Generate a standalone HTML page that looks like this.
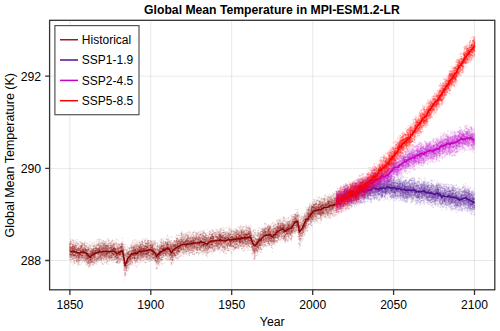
<!DOCTYPE html>
<html><head><meta charset="utf-8">
<style>
html,body{margin:0;padding:0;background:#fff;width:500px;height:331px;overflow:hidden}
svg{display:block}
text{font-family:"Liberation Sans",sans-serif;fill:#000}
</style></head><body>
<svg width="500" height="331" viewBox="0 0 500 331">
<rect width="500" height="331" fill="#fff"/>
<g stroke="#000" stroke-opacity="0.09" stroke-width="1">
<path d="M69.9 20.5V289.5M150.8 20.5V289.5M231.7 20.5V289.5M312.7 20.5V289.5M393.6 20.5V289.5M474.5 20.5V289.5"/>
<path d="M49.5 76.2H494.5M49.5 168.4H494.5M49.5 260.5H494.5"/>
</g>
<g><defs><marker id="mhist" markerUnits="userSpaceOnUse" markerWidth="30.0" markerHeight="30.0" refX="15.0" refY="15.0" overflow="visible"><circle cx="15.0" cy="15.0" r="7.5" fill="#8b0000" fill-opacity="0.13"/></marker><marker id="mssp1" markerUnits="userSpaceOnUse" markerWidth="30.0" markerHeight="30.0" refX="15.0" refY="15.0" overflow="visible"><circle cx="15.0" cy="15.0" r="7.5" fill="#6430a0" fill-opacity="0.16"/></marker><marker id="mssp2" markerUnits="userSpaceOnUse" markerWidth="30.0" markerHeight="30.0" refX="15.0" refY="15.0" overflow="visible"><circle cx="15.0" cy="15.0" r="7.5" fill="#cc22d0" fill-opacity="0.15"/></marker><marker id="mssp5" markerUnits="userSpaceOnUse" markerWidth="30.0" markerHeight="30.0" refX="15.0" refY="15.0" overflow="visible"><circle cx="15.0" cy="15.0" r="7.5" fill="#ff0000" fill-opacity="0.17"/></marker></defs><path transform="scale(.1)" d="M693 2492l0-17 0 29 1 67 0-58 0-33 1 75 0-121 0 68 0 38 0-79 1 51 0-20 0-53 1 97 0-80 1 19 0 100 0-118 0 86 1 29 0-9 0-27 0-35 0-58 0 77 0 15 0-48 1-24 0 93 0-96 0 75 0-46 0-60 1 165 0-50 0-4 0-98 0 65 0 20 1-51 0 120 0-184 0 136 0-130 1 17 0 14 0 93 0-65 0 2 0-11 1-29 0 29 0-4 0 33 0-3 1-102 0 88 0 93 0-84 0 20 1-33 0 2 0 30 0-64 1 60 0-76 0 101 0-96 0 111 0 18 0-132 1 115 0-54 0 79 0-85 0 12 0 0 0 77 0-160 0 136 0-34 0-30 0 13 0 59 0-6 0 44 1-117 0-63 0 67 0 18 0-12 0 83 1 54 0-96 0-109 0 143 0-85 1 35 0 40 0-24 0-22 0 18 1 24 0-7 0 73 0-178 1 34 0 10 1 72 0-31 0 32 0-115 1 61 0 44 0-35 0-18 0 34 0 70 0-191 1 188 0-66 0-58 0 77 1-31 0 59 0-102 0 90 0-95 1 62 0 19 0-39 0 36 1-63 0 85 0-80 0-10 0 30 0 3 0-40 1 83 0-46 0 37 1-107 0 9 0 53 1-36 0 43 0 35 0 28 0 19 0-35 1-76 0 64 0-55 0 55 1-81 0 121 0-47 0-35 0-55 0 83 0-40 0 39 0-49 0 9 1 59 0 43 0-139 0 54 0 30 1-27 0-15 0 132 0-152 0 61 0-43 0 20 0-111 0 160 0-55 1-38 0 132 0-97 0-17 0-12 0 96 0-52 1-17 0-51 0 21 0 63 0-18 0-101 1 58 0 55 0 124 0-173 0-74 0 150 0-63 0-42 0 95 0-40 0-37 0-17 1 60 0 10 0-94 0 139 1-113 0 134 0-54 0-26 0 27 0-47 0 27 1 85 0-111 1 70 0-86 0 44 0 49 0-108 0 77 0-125 0 51 0 36 0 65 0-8 0-82 0 39 1 16 0-87 0 99 0 46 0-5 1-92 0 9 0-26 0 22 0 12 0 47 0-30 0-51 0 88 1 3 0-75 0 18 1 7 0-77 0 89 0 27 0 64 0-88 0-24 1 7 0 38 0 9 0-83 0 53 0 23 0-133 0 169 1-80 0 55 1-46 0-10 0 8 0 18 0 29 0-56 0-43 1 21 0-14 0 87 0-86 0 124 0-70 0-11 0 70 1-83 0 3 0 54 0-2 0-87 0 173 0-95 0-91 0 54 0 55 0-35 1 32 0 75 0-72 0 54 0-66 0-67 1 109 0-111 0 83 0-15 0-75 0 7 0 26 1 29 0 47 0-63 0 92 0-52 0-75 0 1 0 35 0-30 0 22 1 43 0-26 0 36 0-83 1-9 0-27 0-19 0 67 0 26 1-14 0 11 0 102 0-157 0 41 0-11 0-20 1 113 0-69 0 64 0-119 1 151 0 19 0-157 0 43 0-5 0 34 0-93 1 89 0 13 0-67 0-83 1 80 0 14 0 59 1-70 0-26 0 88 0-12 0 18 0-34 1 51 0-27 0-115 1 99 0 29 0-37 0 72 0-96 1 58 0-96 0 61 0-27 0-23 0-15 0 76 0 10 0-52 0-31 0 19 1 82 0-98 0 117 0-141 1 98 0 19 0 28 0-82 0-17 0-33 1 117 0-52 1-16 0 2 0 34 0-11 0 57 0-166 1 150 0-69 0 23 0-12 0 11 0 43 0-27 0-83 0 69 0-2 0 24 0-17 1-6 0 55 0-105 0 163 0-137 0-23 0 91 1 14 0 9 0 11 0-49 0-21 0 16 0-19 0-27 0 107 0 11 1-90 0-12 0-13 0-60 1 51 0 9 0 25 0-50 1-45 0 129 0 54 0-195 0 101 0 51 0-103 0-14 0 76 1-14 0-20 0 117 0-7 1-43 0-37 0-13 0 63 0-58 1 90 0-12 0-97 0 71 0 43 0-48 0-83 0 35 1-4 0 25 0-5 0-20 1 63 0 26 0-100 1-47 1 96 0-19 0 22 0-58 0 51 1-62 0 104 0 30 0-135 0-87 0 110 1-2 0 38 0-9 0 24 0-29 0-25 1 9 0 42 0-118 0 136 0-72 1-43 0 31 0 70 0 17 0 21 0-41 1-60 0 66 0-33 0 125 0-227 0 189 0-43 1-19 0-25 0-25 0-20 0-31 0 186 1-57 0-14 0-16 0-117 0 84 0 21 0 54 0-112 1 66 0-26 0 14 0-42 0 59 0-14 0-101 0 160 0 51 0-160 1 106 0-111 0 24 0 119 0-81 0 69 1-64 0 38 0-61 1 83 0 19 0-58 0-65 0 11 1-30 0 81 0-4 0-64 1 85 0-78 0 126 0-52 0 40 0-121 0-15 0-44 1 131 0-94 0 131 0-64 0 33 0-108 0 37 0 41 0 29 0-107 0 86 1-61 0 86 0-54 1-4 0 39 0 39 0-75 0 78 1-118 0 69 0-75 0 71 1-60 0 51 0 31 0-85 0-42 0 85 0 37 0-16 0-61 1 94 0-60 0 56 0-88 0 71 0 39 0-98 0 20 0 48 1-5 0-9 0-25 1-77 0 84 1-69 0 74 0-130 0 202 0 25 0-78 0-69 0 29 0 63 1-12 0-72 0 101 0-25 0-10 0-48 0 19 0-38 1 48 0-46 0 97 0-60 0 9 0 6 0-1 1-92 0 142 1-63 0-34 0-22 0 14 1 4 0 32 0-45 0 49 1 2 0-43 0 148 0-119 1 22 0-12 0-14 0 42 0 36 0-74 0-39 1 70 0-136 0 116 0-18 0 26 0-92 0 53 0-29 1 24 0 55 0-39 0-20 1 88 0-59 0-101 0 49 0 72 0 0 0-10 1 1 0-57 0 39 0-54 0 17 0-3 1 3 0 24 0 5 0-28 0 92 0-75 0 98 0-27 1-110 0 104 0-113 0 140 1-55 0-66 1-60 0 88 0-47 0 121 0-116 0 50 0 35 1-24 0 12 0-25 0 48 0-82 0 74 1-88 0 68 0-65 0 46 0 39 0 32 0-150 1 51 0-10 0 108 0-103 0 78 0-60 0-46 1 77 0-62 0 92 0 5 0 25 1-116 0 128 0-30 0-136 0 198 1-26 0-135 0 68 0-83 0 60 0 16 0 21 0-71 0 39 1-44 0 65 0 14 0-29 0 53 1-19 0-19 1 39 0-119 0 60 0-86 0 87 0-22 0 64 0-63 0-10 0 27 1-2 0 33 0-69 1-31 0-4 0 135 0-119 0 40 0-32 0 98 1-71 0 88 0-95 0 49 0 23 0 11 1-107 0 41 0 14 0-86 1 126 0-16 0 6 0-94 0 78 1 13 0 29 0-77 0 60 0 63 0-118 0 1 0 4 0-57 1 55 0 99 0-126 0 36 0 69 0-31 1-17 0-28 0 11 0 7 0 33 0-30 0 43 1-139 0 133 0-67 0 27 0-21 0 52 0-37 0 37 1-71 0 49 1 51 0-6 0-72 0 24 0-25 0 12 0 7 0 59 1-31 0 43 0 4 0-139 1 78 0-37 0-58 0 26 0 29 1 107 0-78 0-14 1 8 0-36 0 45 0-13 0-76 0 55 1 43 0 14 0-36 0 37 0-80 0 52 0 39 1-123 0 43 0 16 0 6 0-11 1 38 0 37 0-33 0 33 1 1 0-81 0 43 0-32 0 51 1-50 0 8 0 92 0-92 0-67 0 82 0 9 1-40 0 28 0 47 0-76 1 16 0-25 0 51 0-23 1-38 0 38 0 97 0-173 1 16 0 84 0-84 0 164 1-168 0 9 0 39 0 78 1-14 0-11 0-13 0 49 0-153 0 103 0 56 0-122 0 68 0 44 1 2 0-68 0 98 0-66 0 27 0-104 0 15 0 0 0 123 0-199 1 24 0 129 1-32 0-54 0 28 0 5 1 74 0-152 0 67 0 78 0-14 0-82 1 31 0-58 0 138 0-87 1 83 0-22 1-82 0 36 0 39 0-10 0 53 0-20 0-39 1 18 0-68 0 6 0 58 0-13 0-70 0 51 0-35 0 12 1 89 0-108 0 14 0 60 0-24 0 4 0-78 1 69 0-16 0-21 0 12 1 13 0 55 0 51 0-86 0 67 0-67 1-77 0 75 0 59 0 6 0-110 0 151 0-144 0 0 1 11 0 95 1-50 0 25 0-151 0 105 0-3 0 39 1-56 0 80 0-91 0-34 0-11 0 140 1-24 0-74 0 91 0-62 0 3 0-65 0 44 1 32 0 5 0-37 0 75 0 22 0-109 0 59 1-93 0 94 0-67 0 39 0 16 0-20 0 63 0-88 0 15 1 38 0-17 0 14 0-23 1-28 1 71 0-28 0 40 0 21 0-81 0-19 0 14 0-9 0-65 1 175 0-59 0 93 0-140 0 56 1-15 0-16 0 50 0-47 0-4 1 12 0-115 0 73 0-1 0 115 0-51 0 9 0-7 0-40 0 89 0-89 0-58 0 98 1 27 0-52 0 13 0 28 0 28 0-46 0 54 0-67 1 87 0-167 0 112 0-32 0-8 0-67 0 113 1-61 0-38 0 17 0 20 0 16 0-49 0 0 0 64 0-23 1 99 0-115 0 56 0 48 0-93 0 57 0-33 0-12 1 75 0-125 0 19 0-56 0 80 0 53 0-60 0 52 1-75 0 91 0-60 0-17 0 102 0-79 1 28 0-22 0 29 0-28 1-64 0 73 1 10 0-4 0-30 0 99 0-123 0 42 0 4 1-62 0-6 0 91 0 1 0-26 0-85 0 64 0 26 0 19 1 27 0-35 0 25 0 34 0-195 0 163 0-70 1 46 0-13 1-60 0 5 0 67 0-30 0 45 0-55 0 126 0-119 0 117 1-142 0 66 0 29 0-123 0 17 0 70 0 38 0 11 1-41 0 26 0-113 0 38 0 95 0-101 0 16 0-77 0 80 0-72 1 100 0 58 0-59 0-8 0-29 0 49 0-86 1 35 1 139 0-183 0 40 0-44 1 140 0-78 0-55 0 1 0 126 0-23 0 6 1-45 0 52 0 23 0-35 0-122 0-20 0 27 1 94 0-96 0 23 0 61 1-49 0-22 0 123 0-26 0 17 0 7 0 29 1-81 0-8 0-87 0 84 1-20 0 92 0-20 0 44 0-21 0 6 0-37 0-22 1-29 0 21 0-53 0 76 0-27 0-111 0-38 0 112 0 15 0 9 1 91 0-109 0-37 0 95 0 35 0 37 1-152 0 44 0-10 0 111 0-47 0-38 1 40 0-62 0 9 1 10 0-26 1 14 0 35 0-6 0 72 1-36 0-54 0-123 0 42 0 56 0 7 0-53 1 54 0 28 0-43 1 29 0 3 0-36 0-9 0 42 0 22 0-75 1-57 0 62 0 83 0-121 0 144 0-86 0 41 1-52 0 77 0-31 0 18 0-132 1 151 0-136 0 76 0 48 0-40 0 39 0-19 0-5 0-50 0 101 0 7 1-93 0-20 0 61 0-54 0 50 0 37 0-8 0 45 0-56 0-84 0 11 1 76 0 75 0-124 0-31 0 126 0-83 0 44 0 21 0-112 0 34 0-11 0 59 0 7 1-63 0 56 0-126 0 115 1-1 0-19 0-77 0 71 0-51 0 133 0-92 1 4 0 5 0 34 0-24 0 24 0-77 1 105 0-83 0 65 1-27 0 42 0-59 0-72 0 16 1 48 0 83 0-93 0 24 0 62 0-94 1 45 0-2 0-45 0 43 0 41 0 0 0-71 1-14 0 49 0-32 0-23 1-13 0 90 0 21 0-70 0-61 0 60 0 7 1-64 0 16 0 113 0-91 0 27 0-16 0 57 0 20 0-15 0-19 1 1 0-87 0 124 0-94 0-16 1 25 0-20 0 59 0 15 1 27 0-68 0-25 0 16 0-44 1 21 0 134 0-136 0 15 0 53 1-18 0 25 0-80 0-10 1 115 0-96 0 28 0 15 0-100 0 80 0-22 0 56 0-40 1-93 0 146 0-161 0 103 0-14 0 4 0 29 0 46 0-87 0 12 0 65 1-12 0 10 0-18 0-28 0-12 0 1 0 66 1 27 0 23 0-143 0 38 0 11 1-9 0-45 0 156 0-32 0-79 0-14 1 21 0-57 0 41 0 53 0 42 0-37 0 19 0-111 0 73 0 41 1-56 0-13 1 82 0-125 0 0 1 10 0 111 0-31 0-130 1 162 0-77 0 19 0-57 0 125 0-68 0 41 0-109 1 80 0-29 0-15 0-28 0 5 0-22 0 24 1 30 0 28 0-102 0 25 0 20 0-49 1 64 0 1 0 3 0 29 0 25 0-7 0-25 1 15 0-66 0-8 0 75 1-4 0 77 0-115 1-37 0 61 0-35 0-21 0 107 0 27 0-74 0-49 0 43 0-15 0-64 1 106 0-23 0 43 0-87 0 26 0-5 1-77 0 202 0-219 0 45 0 37 0-58 0 95 0-42 0 25 1 8 0-8 0 1 0-12 0 27 0 18 0-50 0-9 1 1 0 34 0-32 0-1 0-54 0 165 0-151 0 139 1-42 0 11 0-37 1 11 0-9 0 14 0 12 0 33 0-121 0 71 0 54 0-10 0-116 1 64 0-2 0-1 0-120 0 150 1-119 0 182 0-73 0-36 0 35 0-24 0-32 0 21 1 21 0-55 0 73 1 19 0-2 0 5 0 6 0-28 0 29 1-60 0 16 0 49 1 25 0-110 0-53 0 173 0-47 0 32 0-44 1-33 0-42 0-16 0 117 1-23 0-32 0-69 0 28 0-4 0 15 1 10 0 16 0 65 0-103 0 28 0 12 0-62 1 70 0-61 0 18 0 34 1-15 0 7 0-49 0 80 0-88 0 94 1-65 0-34 0 53 0-47 0 26 0 18 0 46 0 0 1-15 0-37 0-61 0 64 0-5 0 9 0-19 1 0 0 65 0-105 1 66 0 61 0-99 0-11 0 37 0-5 0 29 1 53 0-72 0 33 0-55 0 4 1 39 0-48 0 92 0-79 0 12 0-43 1 30 0-28 0 25 0-64 0 87 0 87 1-179 0 178 0-92 1 50 0-94 0 151 0-154 0 49 0 81 0-140 0-53 0 112 0-34 1-10 0 2 0-27 0 142 0-9 0-128 0 62 1-18 0 78 0-96 0 122 0-81 0-39 1 34 0-24 0 141 0-105 1-32 0 29 0 69 0-122 0-36 0 150 0-35 0-53 1 18 0 59 0-83 0 91 0-72 1 42 0-36 0 10 0-39 1 86 0-185 1 132 0 37 0-117 1-24 0 106 0 46 0 9 0-94 0 51 1-88 0 158 0-116 0 93 0-78 0-3 0 98 1-126 0 109 0-83 0-26 0 2 1 98 0-61 0-14 0-58 1 135 0-7 0-37 0 23 1-10 0-56 0 35 0-3 0-34 0 40 0-48 1 3 0-29 0 69 0-43 0 11 1 94 0-72 0 1 0-76 0 51 0 75 1-22 0-25 0-11 0 12 0 16 1-36 0-108 0 222 0-41 0-65 0 78 0-136 1 130 0-55 0 35 0-62 0 25 0 21 0 23 0-27 1-3 0-52 0 115 1-76 0-21 0-6 0-44 1 23 0-39 0 86 0-14 0 15 0-74 1 41 0-11 0 82 0-124 0-2 0 140 0-46 0-96 0 145 0 8 1-18 0-161 0 110 0-50 0 30 1-66 0 166 0-122 0 49 0 26 0-10 1-10 0-40 0 30 0-22 0-103 0 164 0-81 0 5 0 5 1-48 0 8 0-29 0 114 0 35 0-55 1-61 0 123 1-82 0-63 0-15 0 103 0 64 0-92 0-12 0 18 0-29 0 15 0 40 1-49 0 83 0-95 0 84 0-18 0-37 0 5 1-2 0 101 0-125 0 100 0-9 0-67 0 98 1-200 0 131 0-6 0-5 0 41 1-62 0 11 0 67 0-64 0-46 0 81 0-33 0-24 1 56 0-66 0-11 0 36 0 4 1 12 0-63 0 146 0-52 0-26 0 4 1-136 0 171 1-97 0 76 0-85 0 109 0-76 0 16 0 87 0-27 1-118 0 34 0 45 0-22 0 52 0-74 1-60 0 49 0 36 0 37 0 9 0 26 0-51 0-22 1 47 0-42 0-18 0 0 0 70 0 28 1-9 0-145 0 134 0-110 1 39 0 46 0-96 0 5 0 24 1 123 0-31 0-99 0 52 0 0 0 9 1-51 0 108 0-92 0 60 1-125 0 104 0-12 0 61 1-62 0 22 0 13 0-55 0 80 0 40 0-62 0-4 0 28 1-46 0 40 0-32 0-65 0-18 1 112 0-29 0-64 0 35 0 73 0-161 0 41 0 81 1 6 0-101 0 9 0 59 0 63 0-71 0-118 0 170 0-53 1-23 0-35 0 119 0-47 0 7 1-3 0 5 0 20 0 45 0-141 0 50 1-19 0 108 0-100 0-67 1 80 0-36 0 0 0 15 1-44 0-32 0 198 0-106 0-41 0 79 0 37 0-158 0 67 0 37 1-58 0 66 0-86 0 29 0 28 0 28 0-20 1-36 0 16 0-90 0 217 1-130 0 6 0 29 0 16 0-12 0-52 0-50 1 75 0-31 0 12 0 28 1 13 0 53 0-73 0-81 1 118 0 17 0-131 0 115 0-22 0-37 1 36 0 11 0 11 0 28 0-59 0 0 1 123 0-177 0 40 0-4 0 57 0 18 0-124 0 130 1-123 0 10 0 16 0 90 1-70 0 50 0-74 0 45 0-6 0 3 0 36 0-63 0 6 1-50 0 59 0-17 0 69 0-11 0-70 1 59 0 44 0-77 0-49 0 183 0-96 0 8 0 90 0-166 0 56 1-111 0 120 0-5 0-59 0-4 1 34 0-3 0 91 0-92 0 5 1-1 0-72 0 56 0-43 0 74 0-117 1 54 0 69 0-118 0 27 1 128 0-117 0 66 0 16 0-68 0-32 0 161 0-104 0 54 0-64 1 56 0-84 0-3 0 16 1 21 0 0 0 15 0 38 0-49 0 74 1-80 0 66 0 33 0 21 1-187 0 186 0-175 0 160 1-72 0 18 0-65 0 95 0-13 0-62 0-3 1 74 0 8 0-13 0-57 0 19 0 47 0-5 1 14 0-49 0-42 0 49 0 8 0-49 0 49 0-64 1 55 1-44 0 137 0-47 0-46 0-79 0 4 0 97 0-43 0 23 1-94 0 3 0 81 0-16 0-56 0 27 0 79 0-61 0 50 0 54 1-66 0-10 0-36 0 90 0-133 0 18 1 54 0-73 0 122 1-80 0 58 0-42 0 3 0 13 1-99 0 44 0 31 0 134 0-70 0-5 0-88 0 97 0 18 0-25 0-120 1 15 0 13 0 41 1-36 0 52 0 23 0-27 0 6 1 15 0 19 0-72 0 0 0 93 0-77 0-25 0 56 1-32 0 24 0-9 0 35 0 14 1-88 0-19 0 141 0-114 1-44 0-17 0 93 0-30 0-60 0 44 1-5 0 102 0-38 0-12 0-63 0 55 0 42 0-26 0 45 0-49 0 31 0-12 1-51 0 95 1-49 0 24 0-95 0-1 0 45 0-31 0 71 1-10 0 41 0-32 0-86 0 104 0-80 1-4 0 39 0-3 0 52 0 2 0-33 0 52 0-83 1 27 0-42 0 4 0 89 0-45 1 0 0-62 0 125 0-94 0-23 0 31 0 35 0 4 0 36 0-127 1 32 0 99 0 36 0-145 0 27 0-73 0 36 1-2 0 39 0-55 0 106 0-49 0-10 0 59 1-59 0-49 0 64 0 107 0-104 0 21 0-36 0-1 1 37 0 0 0-87 0 32 0 16 0 86 0 51 0-92 0-11 1 14 0 41 0-124 0 24 0 33 0 7 0-110 0 117 0-102 1 119 0 4 0-156 0 139 0-16 1-40 0 79 0 53 0-76 1-80 0-18 0 14 0 8 0 108 0-42 0-16 0 45 1-43 0 1 0-44 0 11 0 33 0-61 0 144 0-78 0-34 0 77 1-103 0 108 0-50 0 92 0-124 1 8 0-23 1-21 0 77 0-67 0 71 0-49 0 87 0-186 0 153 1-19 0-2 0-33 0 122 0-110 0 43 0-36 0-5 0 23 0 31 1-92 0 33 0-48 0 92 1-64 0 6 0 71 0-34 0 22 0-29 1 29 0-17 0-62 0 69 0-29 0 5 0 27 0-43 0-26 0 115 1 34 0-112 0 77 0-40 0-53 1-10 0 29 0-8 0 5 1 11 0-52 0 102 0-102 1 3 0 102 0-8 0 36 0-68 1-40 0 91 0-63 0-2 0-37 1 64 0-142 0 148 0-129 1 147 0-124 0 114 0 92 1-141 0-46 0 159 0-122 0-34 1 121 0-111 0-29 0 9 0 31 0-68 0 146 0 10 0-55 1-18 0-59 0 104 1-60 0 67 0 21 0-50 0-110 0 60 0 117 1-55 0 58 0-186 0 108 0-3 0-74 0 50 1 82 0-22 1-55 0 44 0 44 1-116 0 70 0 39 0-89 0 102 0-71 0 61 0-10 0-33 1-29 0-18 0 42 0 2 0 61 1-76 0 22 0 68 0-69 0 7 1 58 0-77 0 16 0 18 0-45 0-50 0-18 0 64 1 67 0-6 0 32 1-37 0-79 0-41 0 48 1 13 0-25 0 85 0-87 0 69 0 11 1-128 0 66 0 85 0-20 1-37 0-62 0 20 0 40 0 60 0-39 1-30 0 16 0 28 2-128 0 39 0 51 0 59 1-6 0-94 0 40 0-38 1 17 0 27 0-25 0-10 0-31 0-21 0 70 0 19 1 22 0-72 0 4 0 100 0-43 0 24 0-73 0-7 1-22 0 107 0-107 0-29 1 49 0 100 0-62 0 11 0-6 0-8 0-6 0-62 0 153 1-91 0 68 0-138 0 105 0-86 0-6 0 78 0 38 0 17 0-2 1-80 0 53 0-69 0 2 0 40 0-19 1 49 0-134 0 148 0-86 0 103 0-17 1-114 0 55 0 36 0-73 0 2 0 22 0 52 1 8 0-66 1 62 0 32 0-28 0-82 0-5 0 56 1 26 1-20 0-40 0-27 0 109 0-70 0 100 0-150 0 40 0-15 1 124 0-31 0-86 0-71 0 153 0-51 0-62 1-19 0 94 0-30 0 18 0 12 1-38 0 5 0 46 0-38 0-8 0 45 1-130 0 160 0-40 0-60 0 30 0 69 0-33 0-116 0 38 0 60 1 79 0-51 0-47 0 38 0-28 0-15 0 33 0-125 0 157 0-24 0-48 0-21 0-17 1 73 0-6 0 1 0 76 0-194 0 74 0-3 0 86 0-60 1-34 0 57 0 10 0 59 0-67 1-34 0-3 0-16 0 65 1 16 0-52 1 5 0 75 0-64 0 20 0-78 0 23 0-76 0 39 1 86 0 43 0-75 0-46 0 64 1 52 0-65 1 54 0-49 0-58 0 16 0 33 0 125 0-84 1-41 0 27 0-4 0-33 0 17 0-7 1 49 0 41 0-12 0-82 0 44 0-64 1-18 0 58 0 26 0-33 0 44 0 0 0-3 0-45 1-60 0 156 0-112 0 59 0-12 0-41 1 108 0-57 0-35 0-20 1-27 0-15 0 91 0-50 0 0 0 47 0-42 0 49 0-64 0 7 1 71 0-79 0 64 0-5 0-25 0-82 1 17 0 11 0-9 0 106 0-85 0-19 0 37 0 20 1-78 0 113 0 6 0-65 0 69 0-116 1 49 0 19 0 12 0 53 0-73 0-33 0 61 0-3 1 14 0-38 0 25 0-37 0 56 1-60 0 3 0 88 0-95 0 38 0 27 1-43 0 60 0-73 0 79 0-127 0 10 1 70 0 68 0 9 0-122 0 41 0-22 0-82 0 141 1-53 0 86 0-54 0-40 0-8 1 25 0 32 0-46 0 93 0-59 0-66 0 60 0 52 1-34 0-38 0-16 0-6 1-19 0 33 0 38 0-40 1 108 0-61 0-41 0 21 0 74 0-157 1 96 0 52 0-14 1-94 0 52 0-18 0-27 0 5 1 20 0-2 0-55 0 34 0 25 0 38 0-47 0 46 0 13 1-2 0-120 0 161 0-33 0-3 1-39 0-1 0-27 0 49 0 25 0-75 0 70 1-64 1 54 0-37 0 51 0 54 0-86 0-37 0 4 1 54 0-57 0 76 1-35 0 31 0-75 0-20 0 11 0 59 0-61 1 77 0-143 0 72 0 26 0-86 1 63 0-46 0 75 0-9 0 52 0-83 0-41 1 57 0 35 0-1 0 4 0 55 0-83 0 8 1-34 0 14 0 87 0-36 0-158 0 203 1-170 0 84 0 74 0-45 0 23 0 17 1-30 0-83 0 87 0-57 0-93 0 115 0 45 1-23 0-6 0 93 0-78 0 34 0-31 0 71 0-109 0 84 1 35 0-119 0 78 0-130 1 91 0 23 0-85 0-53 0 101 0-21 1 28 0 6 0 30 0 40 0-62 0-107 1 121 0-16 0-13 0 79 0-73 0-34 1 45 0-113 0 140 0-49 0 89 1-55 0-17 0-10 0-75 0 60 0 21 1 37 0-30 0 15 0-1 0-66 0 45 0-28 0-57 1-14 0 127 1 33 0 0 0-124 0 128 0 3 0-126 1 68 0 66 0-88 0 59 1-97 0 15 0 65 0-56 0 16 0-2 0-60 0 135 1-87 0-11 0-6 0 27 0-53 0 96 0-65 0 61 0-90 1-7 0 5 0 62 0-83 0 115 0-62 0 65 0-68 0 64 0-99 0-4 1 91 0-62 0 86 0-93 0 64 0-71 0-49 1 169 0-88 0 62 1-42 0-100 0 111 1 36 0 11 0 18 0-66 0-26 0 9 0-65 0 100 0 0 1-20 0-59 0 74 0-63 0 95 0-98 0 4 1 11 0-37 0 7 0 32 0-114 0 232 1-84 0-5 0-61 0 56 0-11 0 6 0-82 0 70 1-91 0 87 0-36 0 15 0 14 0 60 1 19 0-61 0-57 0 132 0-149 0 44 1 17 0-27 0 106 0-48 1 34 0-70 0 59 0-51 0 0 0 22 0 5 1 9 0-40 0-65 0 60 0 36 1-35 0-27 0 82 0-43 1 102 0-118 0-62 0 101 0 3 1-4 0 87 1-150 0 56 0-7 0-41 0 48 0 48 0-105 1 65 0 27 0-18 0-111 0 93 0-33 0 79 0-67 1 104 0-158 0 85 0-68 0 132 0-11 1-124 0 83 0-39 0-78 1 28 0 56 0 21 0-44 0 33 0 1 0-1 1-73 0 65 0 20 0-101 0 150 0-4 1-64 0 95 1-144 0-7 0 16 0-4 0 127 0-90 0-5 0 21 0 61 0-71 1-27 0 32 0 49 0-73 0 80 1-54 0-24 0 33 0 73 0-110 0 80 1-40 0-20 0-6 0 38 0-10 0-12 0 14 1-75 0 10 1-18 0 33 0 6 0-8 0 45 0-73 1 34 1 54 0 41 0-81 0 57 0 8 0-118 1 62 0-64 0 33 1 39 0-83 0 89 0-33 0-6 0 39 0-67 0-43 1 84 0-36 0 25 0-44 0 8 0-5 0-13 0 23 0 2 0 40 1 23 0-55 0-48 0 106 0-89 1 17 0 27 0 18 0 2 0 8 0-18 0 60 1-13 0-68 0 16 0-56 0 99 0-43 0 104 0-127 0 108 0-120 1-37 0 40 0 59 0 33 0-93 0 90 1-73 0 0 0 11 0 95 0-72 1 6 0-89 0 82 0 5 0 67 1-123 0 8 0-10 0 13 0 65 0-72 0 101 0-61 0-46 1 13 0-35 0-4 0 127 1-13 0-91 0 26 0 100 0-114 0 47 0 14 1-35 0 1 0-8 0 23 0-83 1 79 0 7 0-74 0 87 0-68 1-83 0 34 0 100 0 22 0-48 0-50 0 63 1 53 1-47 0-70 0 95 0-33 0 1 1 12 0 24 0-32 0-42 0 42 0 11 1 52 0-118 0 53 0-36 0 56 0-39 0 83 0-8 1-78 0-20 0-21 0 23 0-11 0 57 0 14 0-10 0 22 0-58 0 70 0-35 1 29 0 9 0-48 0 81 0-21 0-58 0 106 1-4 0-155 0-35 0 80 0 54 0 23 0-13 0-32 0 48 0-11 1-55 0 30 0 43 0-82 0 0 0-9 0 114 1-37 0 9 0-58 0 18 0 61 0-71 0 72 0-59 0 0 1 30 0 17 0 43 0-101 0 100 1-117 0-5 0-65 0 151 0 31 1-130 0 44 0 5 0-65 0 82 0 12 0-39 0-26 0 58 1 24 0-101 0 67 0 34 0-58 0 48 0 73 1-152 0 134 0-82 0 47 0-39 0-51 1-28 0 219 0-197 0 58 0 91 0-60 1-5 0-118 0 75 0-38 0-24 0 117 1 29 0-89 0 7 0 62 0 25 0-109 0 129 0-13 0-53 1-64 0 99 0 7 0 64 0-139 0 134 0-116 1 54 0-38 0 12 0 86 0-133 0 94 0-68 0 15 0-42 0 58 0-137 0 108 1 82 0-8 0-158 0 33 0 46 0 149 0-149 0 28 1-16 0 37 0-80 0 79 0 15 0 40 0-130 1 126 0 73 0-79 0-6 0-220 0 266 0 41 0-48 1-48 0 24 0-38 0-72 0 24 1 111 0-62 0-178 0 178 0 12 0-97 1 101 0-10 0-156 0 179 0 128 0-31 1-223 0-14 0 111 0 18 0-129 1 49 0 170 0-89 0 66 1-81 0 88 1-125 0 1 0-35 0-80 0 125 0-80 0 73 1 51 0 2 0 18 0-65 0 28 0 100 0-109 0 14 0-208 1 112 0 184 0-165 0-18 0 172 0-185 1 185 0-92 0-44 0-118 1 277 0-258 0 48 0 164 0-165 1 139 0-44 0-19 0-62 0 31 0 74 1-100 0 126 0-32 0 24 0-25 0 25 1-15 0 34 0-34 0-5 0-95 1-61 0 132 0 67 1-140 0-49 0 77 0 66 0 35 0-86 0-62 0 81 1 52 0-53 0 75 0-108 1 96 0 54 0-185 0 8 0 105 1-135 0 124 0-37 0 90 0-97 0-102 0 45 1 155 0-205 0 17 0 151 0-46 0 69 1-150 0 21 0 26 0-59 0 65 1 4 0 63 0-60 1-20 0 56 0 37 0-5 0-48 0-41 1-5 0-52 0 84 0-6 0 100 1-87 0 31 0 33 0-189 0 72 0 24 0 21 1-74 0 116 0 2 0-23 0 10 0-104 0 130 0-102 0-73 0 115 0 18 1-64 0-56 0 29 0 56 1-135 0 200 0-3 0-66 0 68 0-68 0-53 1 96 0-4 0-82 0-26 0 23 0 116 1-80 0 51 0-70 0 67 0-15 0-30 0 56 0-90 1 42 0-59 0-54 0 118 0-64 1-8 0 97 0-39 0 28 0 69 0-80 0 14 0-85 0 104 1 0 0-97 0 87 0-18 0-27 0 14 0 118 1-156 0 16 0 21 0-15 1-82 0 122 0 14 0 40 0-115 0-35 0 95 1-84 0 51 0-20 0 29 0-33 0 57 1-81 0 165 0-80 0-71 0-17 0 38 0-15 0-18 1 111 0-22 0-103 1 82 0-27 0 37 0-71 0 139 1-103 0 96 0-123 0 91 0-73 0 88 0-92 1-44 0-1 0 22 0 62 0-11 0-13 0 47 1 28 0-132 0 100 1 66 0-147 1 2 0 49 0-9 0-38 0 23 0 84 1-35 0-87 0-45 1 30 0 65 0-49 0-3 0 78 1-50 0-5 0 30 0 61 0-57 0 19 1-30 0 73 0-139 0 5 0 31 0 127 0-25 0-132 0 32 0 51 1-24 0 40 0-69 0-58 0 114 0 31 0-139 0-17 1 71 0-71 1 115 0-80 0 95 0-54 1 23 0 27 0-44 0-40 1 96 0-120 0 144 0-101 0 4 1 45 0 1 0 4 0-98 0 29 0 61 1 1 0-24 0 69 0-73 0 55 0 7 1-37 0-29 0 47 1-16 0 9 0-75 0 67 1 56 0-94 0 21 0-19 0 56 0-148 0 183 0-54 0-37 0 24 0 43 1-38 0 15 0 26 1-53 0 29 0 36 0-46 0-59 0 69 1 63 0-118 0 38 0-1 0 23 0-65 1 19 0 98 0-64 1-66 0 70 0-37 0 73 0-156 1 84 0 43 0-112 0 26 1 60 0-22 0-17 0 30 0-84 0 27 1 127 0-118 0 53 0-24 0 45 0-27 0 4 0 37 1-42 1-102 0 52 0 103 0-18 0-65 0-67 0 43 1 138 0-44 0 1 0-140 0 12 0 38 0-38 0 73 1-61 0 77 0-34 0-17 0 59 0-10 1-16 0-25 0 15 0-92 1-2 0 63 0 41 0 80 0-67 0-69 0 25 1-38 0 60 0-2 0 2 0 16 1 38 0-18 0-91 0 99 0-92 0 69 0-14 1 78 0-87 0 0 0-9 0 56 0-27 0-28 0 54 1 63 0-24 0-6 1-100 1 22 0 13 0-92 0 168 0-155 0 91 1-81 0 67 0 35 0-15 0-68 0 10 0 78 1-49 0 9 0 41 1-170 0 136 0 50 0 25 0-54 0-69 0 83 1 45 1-123 0-4 0 28 0-13 0-80 0-16 0 52 0 33 0 53 0-48 1 35 0 59 0-16 0-8 0-92 1 97 0-49 0 17 0 31 0-9 0-103 0 9 0 69 0 21 0 69 0-74 0-48 0-6 0-11 1-29 0 0 0 37 0 32 0-43 0 38 0-14 1 2 0-10 0 36 0-14 1-131 0 143 0-8 0-35 0 38 0-42 1 39 0-49 0 76 0-16 1-88 0 36 0 69 0-14 0-14 0-62 1 22 0 41 0 7 0-16 0-40 0 30 1-13 0-33 0 3 0 14 1-34 0 96 0 15 0 5 0-81 0 1 1 49 0-35 0 7 0 0 1-64 0 141 0-132 0-7 0 116 0-93 0 106 1-36 0 1 0-37 0-50 0 11 1 63 0-11 0-53 0 3 0 13 0 39 0 25 0 22 1-62 0 88 0-35 0 37 0-115 0 71 0 25 0-139 0 131 1-26 0 25 1-36 0 47 0-77 0-4 0 60 0 0 1-101 0 124 0-1 0-8 0-85 0 97 0-37 0 20 1-47 0-19 0-13 0 4 0 74 1-81 0 7 0 46 0-29 0-87 0 68 0 14 0 96 0-46 1-81 0-5 0 31 0 33 0-48 0 59 0-90 0 84 0 42 0-186 0 127 1 14 0 9 0-17 0-8 0 17 0-8 0-1 1 71 0-26 0-5 0-76 0 7 0 75 0-102 0 100 0-114 0 168 0-43 0-87 0 4 1-76 0 96 0 60 0-28 0-42 0 112 1-73 0-7 0-34 0 42 0 99 0-105 1-102 0 91 0 82 0-35 0-83 0 42 0-88 0 102 0-73 0 17 1-2 0-7 0 118 0-10 0-86 1 19 0 80 0-98 0-8 0-20 0 121 0-70 0-8 0-21 1-25 0 94 0-87 0 13 1-58 0 30 0 30 0 1 0-52 1 47 0 24 0-128 1 167 0-45 0-55 0 56 1 38 0-23 1 3 0-1 0 34 0-107 1 41 0 52 1-20 0-59 0 42 0-22 0 39 0-91 0 1 1 10 0 71 0 140 0-81 0 13 0-65 0 85 0-67 1-16 0 55 0-124 0-52 0 54 0 138 0-27 0-38 1-23 0 3 0 30 0-67 0 87 0-93 0 123 0-89 0-31 0 34 1-35 0 42 0-88 0 69 0 30 0 16 0-41 0 84 1-153 0 78 0-14 0 25 0-14 0 86 0-73 0-48 1 179 0-129 0-11 0 54 1-77 0 19 0 56 0-106 1 38 0 72 0 44 0-97 0-2 0 62 0-132 0 40 0-5 0-65 1 92 0-8 0 68 0-13 0 31 0-128 0 55 0 76 0-113 1-23 1 84 0-18 0 31 1-32 0 63 0-28 0-22 0-32 0 54 0-68 0 81 0 9 0-10 0-111 1 85 0-3 0 25 0-122 0 48 0 26 1 73 0-99 0 74 0-38 0 89 0-80 0-96 1 66 0 26 0 50 0-30 0-47 1-49 0 64 0-8 0 72 0-20 0-115 0-45 0 94 0 33 0-61 1 22 0 84 0-22 0-122 0 102 0-9 0-18 1 37 0 1 0 94 0-111 0-47 0 11 0 60 0 59 0-65 0-4 1-13 0-35 0 25 0-63 0 96 0-14 0-14 1-51 0 29 1-16 0 43 0-29 1 31 0 28 0 16 0-112 0 34 0-38 0 115 0-103 0 107 0-90 0 75 1-77 0 15 0 17 1-3 0-12 1 39 1 26 0-17 0-66 0-67 0 96 1 11 0 16 1-3 0-90 0 88 0-61 0 94 0-100 1-3 0 8 0 44 0-63 0 161 1-129 0 104 0-99 0-2 0-19 0-3 0 58 0 38 0-54 1-49 0 54 0-49 0-42 0 87 0-92 0 55 1 33 0-22 0 7 0 89 0-29 0 27 0-63 0 0 0 76 1-117 0 47 0-10 0 8 1 15 0-23 0 34 0-81 0 65 0-75 0 104 0-5 1-58 0-14 0 23 0 28 0-100 0 24 0 95 0-56 1-52 0-46 0 87 0-64 1 92 0-10 0 94 0-151 0 92 0-89 1 8 0 40 0-31 0 130 0-92 0-34 0 150 0-152 1 21 0 8 0-27 0 67 0 28 0-120 0 39 0 5 0-50 1 4 0 46 0-26 0 59 0 25 0-31 1 5 0-58 0 15 0 48 0 9 0-32 1 31 0-39 0-44 0 71 0-35 0-62 0 123 0-22 0 17 0-58 0 94 1-48 0 24 1-79 0 17 0 77 0-63 0 2 0 71 0-16 1-45 0 82 0-165 0 69 0-23 0 98 0 5 0-100 1 31 0 38 0-20 0-12 0 35 0 46 0-88 0-59 0 48 1 4 0-17 0 52 1 2 0 8 0-21 0-10 0-62 0 33 0-25 0 57 0-22 1 4 0 27 0-39 0 65 0-1 0-96 0 109 0-80 0-18 1 19 0-46 0 78 0 41 0-131 0 94 0 7 0 4 1-1 0-10 0-44 0 66 0-27 0 22 1-24 0-27 1 10 0 31 0 21 0-142 0 31 0-17 0 52 0-6 0 41 0-24 0 78 0-93 1-5 0-5 0 25 0 22 0-31 0-21 0-21 1 73 0-34 0-21 0 34 0 28 0 82 0-20 0-120 1 21 0-72 0 0 0 5 0 131 0-51 0-62 2 37 0 8 0-8 0 102 0-162 0 70 0 33 1 11 0-126 0 112 0-69 0 32 1-48 0 113 1-34 0 44 0-62 0-70 1 125 0 16 0-110 0 98 0-131 0 25 0 68 0-74 0 103 1 32 0-66 0 21 0 53 1-52 0 38 0 6 0-118 0 154 0-47 0-49 0 32 0-24 1-4 0-59 0 29 0 3 0 68 0-29 0-3 0-25 0 65 0-176 0 73 1 89 0-65 0 50 0 45 0-37 0-108 0 59 0-44 0 77 0 27 1-61 0 36 0-34 0 101 1-85 0 5 0 16 0 23 0-17 0-34 0 4 1 22 0 4 0-46 0-10 1 17 0 33 1-43 0-30 0 35 0-7 0 52 0-53 0 5 0 109 0-68 1-66 0 102 0-75 0-21 0 69 1-98 0 64 0 31 1 9 0-61 0 1 0 20 0 62 0-144 1 125 0-25 0 52 0-120 0 110 0-97 1 56 0-33 1-100 0 116 0 22 0 22 0-72 0-26 1 91 0-51 0 68 0 18 0-80 0 3 1-27 0-63 0 98 0 36 0 16 1-53 0 91 0-115 0 24 0-25 0 5 0 8 0-21 0 13 1 35 0-9 0-56 0 75 0-64 0 61 1-18 0-97 0 43 0 96 1-77 0-1 0 11 0 26 0 22 0-42 1 95 0-108 0 5 0 13 0 17 0 62 1 42 0-129 0 9 0 38 1-36 0 46 0-91 0 91 0-145 0 129 1 7 0 87 0-163 0 77 0-2 0-77 0 58 0-53 0-15 0-17 0 62 0-40 0-49 1 113 0-96 0 115 0-22 1-51 0-37 0 32 0-21 0 47 0 0 1 136 0-219 0 72 0 55 1 22 0 15 0-112 0 86 1-10 0-40 0 52 0-7 0-102 0 28 0-64 0 68 0-31 0 80 1-50 0 66 0-34 1-11 0 101 0-28 0-121 0 131 0-30 1 27 0-42 0-109 0 69 1-100 0 50 0 34 0 96 0-60 0 9 1 25 0-80 0 98 0-43 0-58 1 19 0 16 0 42 0 39 0-84 0 4 0 99 1-82 0 82 0-78 0-27 0 51 0-19 0-53 0 105 0 57 1-165 0 3 0 13 0-36 0 101 0-110 0 103 0-13 1 17 0-109 0 80 0 6 0 30 0-25 0-47 0 84 1 13 0-2 0-103 0 62 0-70 0 36 1 46 0-108 0 105 0 26 0-98 0 9 0 25 0-3 1-53 0 53 0-70 0 46 1 120 0-92 0-17 0 98 0-62 0 15 1-60 0 83 0-71 0 60 0-11 0 54 1-36 0-51 0-52 0 38 0-20 0 111 0-98 1-93 0 134 0 22 0-87 1 82 0-102 0 78 0-20 0 24 0 5 0-55 0 75 0-66 1 31 0 65 0-117 0 50 0 77 0-18 0-97 0 3 0 59 0-61 1 37 0-73 0 101 0-113 0 88 0 28 1-68 0-46 0 15 0-32 0 186 0-187 0 32 0 81 0-14 0 50 1 14 0-44 0-26 0-25 0 19 0 57 1-17 0 1 0-116 0 46 0 4 1 7 0-26 0 87 0 19 0 38 1-118 0 21 0 10 0-5 0-42 0 82 1-141 0 77 0-71 0 126 0-101 0 12 0 57 0-51 0 64 0-32 1 118 0-159 0 20 0 69 0-23 0 17 0-37 0 62 0-30 0 49 1-135 0 81 0-24 1 31 0-67 0 87 0-107 0 111 0-17 0-117 0 110 1-117 0 125 0-109 0 77 0-10 0-68 1-12 0 118 0-49 0 78 0-56 0-3 0 14 0 79 0-71 1-13 0 23 0-65 1 5 0 115 0-92 0-48 0 83 1-68 0 46 0 53 0 8 0 27 0-33 0-26 1-5 0-13 0-16 0 115 1-117 0 87 0-90 0 67 0-9 1-44 0-39 1 110 0-4 0-106 0 27 0 51 0-31 0-11 1 45 0-115 0 147 0-58 0-42 0-27 0 42 0 119 1-115 0-75 0 144 0-48 0-20 0 53 1-72 0 14 0 56 0-28 0 27 1-67 0 103 0-156 1 2 0 95 0-41 0 26 0-8 0-10 1-45 0 68 0 51 0-108 0 137 1-16 0-121 0 83 0-96 0 49 0-48 1 28 0-67 0 86 0-45 0 8 1-54 0 100 0 94 0-114 0 11 1-50 0 34 0-19 0-36 1 34 0 18 0 42 0-33 0 31 1 51 0-19 0-67 0-68 0 79 0 14 1 46 0-43 0-38 0 14 1 50 0-79 0-5 0 36 0 25 0 24 0-87 0 109 0 18 1-7 0-25 0-49 0 34 0 37 0-114 0 83 1-9 0-32 0 97 0-124 0-15 0 47 0-29 1 98 0-150 0 18 0 81 0 22 0-97 0 125 1-161 0 147 0-96 1 21 0 114 0-93 0-29 0 44 0 83 0-92 1-41 0 49 0-73 0 28 1 6 0 61 0-57 0 49 0 33 0 22 1-164 0 82 0-55 0 90 0-19 1-13 0-26 0-22 0-36 0 133 1-58 0 12 1 14 0 24 0 54 0-102 0 41 0-114 0 62 0-16 0 4 0 89 1-52 0-2 0 1 0-15 0 0 1-21 0 6 0 5 0 12 0-84 0 97 0-5 0 22 0-76 1 9 0 87 0-76 0 60 0-58 0-26 0-12 0 42 0 7 0-38 0 132 1-70 0-45 0 119 0-34 0-78 0-13 1 42 0 45 0-105 0 126 0-76 1 61 0-48 0 31 0 8 0 32 0-99 0 129 1-157 0 79 0 18 0-32 0 42 0-123 0 77 0 52 1-48 0-56 0 63 0 2 0-58 0 114 0-92 0-24 0 56 0-38 1 23 0 21 0-32 0 50 0-15 0 46 0-109 0 53 0 9 1 2 0-118 0 51 0 69 0 12 1-26 0 7 0 52 0-78 0-20 0 111 0-43 0-38 0-27 1 114 0-92 0-27 0 103 0-135 1 65 0 39 0-45 1-11 0 47 0-81 0 49 0 46 1-89 0 122 0-78 0 6 0-19 0 52 0-52 0 35 1 51 0 0 0-137 0 142 0-91 0 39 0-9 1 8 0-43 0 58 0 22 0-79 0 28 0 41 0 13 0-37 0-3 0 11 0-41 1 34 0-30 0-4 0-98 0 27 0 107 0 18 1-14 0-17 0-20 0 43 0-48 1 20 0 75 1-142 0 38 0 18 0-82 0 36 1 111 0-27 0-32 0 71 0-113 0 143 0-97 0-27 1 84 0-28 0-16 0-15 0-84 0-13 1 104 0 47 0-86 0 44 0-82 1 4 0 72 0 37 1 3 0 23 1-97 0 31 0 47 0-89 1 35 0 16 0 0 0 45 1-22 0-43 0-94 0 155 0 11 0-24 1-8 0 5 0 38 0-86 0 22 0-46 0 40 1-30 0 0 0-59 0 95 0 56 0-144 0 157 0-66 0-32 0 50 0-28 0 8 1 76 0-63 0 10 0-31 1 5 0-37 0 41 1-34 0 100 0-71 0 50 1 29 0-14 0-88 0 122 0-185 0 173 0-206 0 85 1 44 0-34 0-73 0 32 0 92 0-103 0 124 1 29 0 11 0-59 0-16 0-19 1 14 0 74 0-31 0-16 0 41 0-164 0 152 0-78 0-96 0 188 1-102 0 68 1-65 0 21 0 115 0-73 0 4 1-112 0 143 0-89 0 65 0-86 1 82 0 11 0-117 0 105 0-71 0 128 1-49 0-18 0-3 0 51 1-74 0 79 0-36 0 67 1-145 0 185 0-154 0 9 0-23 0 27 1 140 0-110 1-80 0 58 0 24 0 45 1-81 0 32 0-27 0 6 0 16 1-82 0 133 0-88 0 142 1-40 0-25 0-80 0 10 0-3 0 28 0-26 0-12 0 39 0-8 0-21 1 77 0 8 0-97 0 163 1-107 0 50 0 39 0-197 0 114 0 25 1 16 0-24 0 13 0-150 0 33 0 90 0-155 0 88 0 22 1 33 0 30 0-39 0-63 0-7 1 79 0 10 0-13 0-13 0-2 0-87 0 79 1 45 0-109 0 89 0 16 0 93 0-137 0-11 1-55 0 7 0-30 0-10 0 141 0-40 0 18 0-108 0-24 1 14 0 191 0-28 0-139 0 81 0 4 0-65 1 19 0 88 0-13 0 10 0-31 1-12 0 21 0-37 0 102 0-81 0 17 0-34 0-32 1 34 0-15 0-27 0 88 0 65 0-93 0-22 1-33 0-41 0 112 0-2 0-74 1 47 0-51 0 123 0-70 0 17 1 68 0-212 0 141 0-7 0-30 0 16 1 65 0-101 0 0 0 127 0-38 0-28 1 17 0-38 0-20 0 8 0 25 1-41 0-60 0 76 0 24 0-22 1 43 0-20 0 36 0-45 0-16 1 41 0 16 0-71 0-22 0 118 0-100 0 48 0-45 0 37 1 63 0 16 0-161 0-7 0 19 0 91 0 52 0-70 0-30 1 61 0-96 0 87 0 37 0-6 0-28 0-67 1 9 0-31 0 149 0-33 0-71 0-1 0 17 0-48 0 62 1-1 0-5 0-21 0-135 1 121 0-63 0-15 0 204 0-142 0 15 0-6 1-28 0 126 0-178 0 119 0-55 0 96 0-22 0-40 0-81 0 117 1 9 0-16 0-49 0 47 0-72 0 52 0 6 0-31 1-40 0 38 1-33 0-16 0 112 0-60 0-19 0 0 0 47 0-38 1-19 0 48 0-7 0-52 0-9 0 118 1-79 0 73 0-30 0-34 0-8 0 92 1-113 0 12 1-22 0 32 0-39 0 52 0-68 0 87 1-9 0-7 0-40 0 93 0 36 0-106 0-32 0 70 0-43 1 17 0 24 0-99 0 102 1-87 0-10 0 42 0 90 0-103 0 54 1-71 0 77 0-15 0 41 0-48 1-9 0-94 0 108 0 23 0-29 0-1 1 19 0 15 0-87 0 41 0 25 0-9 0-60 0-50 1 114 0 19 0 48 1-62 0-64 0 65 0-27 0-28 0-37 0-19 1 55 0 14 0 24 0-3 0 11 0 83 0-98 0 71 1-106 0 3 0 10 0-63 0 170 0-69 0 24 0 49 0-63 1 58 0-196 0 179 0-48 0-42 0 81 0-52 0-36 1-62 0 184 0-217 0 133 1 76 0-47 0-63 0 18 0-17 1 42 0-16 0-60 0-9 1 130 0-120 0 7 0 172 0-158 0-24 0 17 0 87 0-76 0 31 0-109 1 84 0 33 0 1 0 71 0-48 0-48 0-60 0 37 1 30 0 18 0 29 0-117 0-28 0 153 1-91 0-69 0 71 0 26 0-39 0 2 0 111 0-108 0 72 1-5 1-29 0 139 0-189 0 200 1-180 0 35 0 29 0 41 0-21 0-53 0 0 0 78 1 18 0-106 0 90 0-34 0-16 0-69 0-8 0 86 0 27 1-76 0 47 0-106 0 167 0 2 0-139 0 49 1-2 0-21 0 3 0 49 0 60 0-81 1 1 0 1 0-42 0 67 0-57 0-25 0 83 0-128 1 68 0 6 0 13 1-72 0 30 0 40 0 37 1-36 0-6 1-32 0 42 0 8 1 23 0 15 0-49 0-48 0 115 1-101 0 100 0-80 0-25 0 27 0-23 1 25 0 33 0-38 0-10 0 22 0 20 0-19 0 27 0 2 0-15 1 20 0-35 0 56 0-37 1 21 0-51 0-62 0 48 0 24 1 16 0-20 0 75 0-137 0-24 0 79 0-25 0 35 0 31 0 27 0-125 0 12 1 50 0-70 0 35 0 100 0-66 0 1 0 56 1-139 0 90 0-9 0 16 0-63 0 28 0 16 0 41 0-72 1 66 0-135 0 126 0 17 0-82 0 30 0 14 1 16 0 45 0-50 0-20 0 2 0 23 0 25 0-26 0-39 1 11 0-22 0-4 0 19 1-4 0 68 0-98 0 63 0-61 0 98 1-24 0 48 0-35 0-78 1 54 0-34 0 6 0-25 1 37 0 20 0 7 1 114 0-134 0 13 0-10 1-8 0-3 0 18 0-13 0 47 0-16 1-65 0 43 0 15 0-28 1 2 0 6 0 34 1-21 0-36 0 24 0 63 0-107 0 78 0-44 1 33 0 10 0-29 0-8 0-68 1 49 0 122 0-80 1-32 0 13 0 3 0-49 0 51 0 20 0-96 0 60 0-12 0-58 0 121 0 19 1 30 0-152 0 58 0-12 0 67 1-36 0-11 0 24 0-50 0 68 1-63 0 69 0-44 0 2 0-66 0-19 1-1 0 98 0-126 0 167 0-80 0-49 0 81 0-76 0 61 1-15 0 70 0-15 0 2 0-67 0 81 1-63 0 9 0 16 0-8 0-77 0 94 0-106 1 97 0-25 0 6 0-55 0 99 0-55 1 48 0-76 0 1 0 37 0 46 0-112 0 35 0 4 0 11 0-9 0 73 1-18 1-33 0 39 0 9 0-79 0-6 1 68 0 67 0-213 1 83 0 66 1-76 0 80 0-31 0-71 0 38 1 39 0-60 0 70 0-13 0-29 0 33 1-36 0 27 0-58 0 115 0-80 0 67 1 47 0-27 0-76 0 8 0-9 0 17 0-55 0-47 0 102 1-13 0 70 0 13 0-151 0 21 0 81 0 19 1-50 0-4 0-90 0 197 0-143 0 60 0-11 1-59 0 84 0 28 0-72 0 9 0 25 1 15 0-6 0-84 0-2 0 18 0-102 1 65 0 54 0-23 0-8 0 82 0-26 0 23 0-47 1-12 0-22 0 53 0-98 0 45 0 69 0 13 0-44 0-51 1 82 0-62 0 29 0-40 0 134 1-16 0-111 0-16 0 54 0 32 0 30 0-62 0-56 0 73 1-1 0-89 0 64 0-2 0-32 0 57 0 40 1-2 0-90 0 14 0 61 0-48 0-1 0 122 1-227 0 91 0-9 0 38 0 84 0-88 0-7 0 21 0-22 1 33 0 104 0-155 0 23 0 7 0-97 0 130 0-32 1-91 0 81 0 21 0-50 0 95 0-80 1-43 0 110 0-45 1 14 0-83 0 11 0 18 0 41 1 1 0 72 0 8 0-67 0-10 0 95 0-88 1 46 0-72 0 19 0-9 0-19 0 51 0-57 0 34 0 25 1 81 0-191 0 94 0 28 1-48 0 58 0-16 0-2 0-43 1 9 0 0 0-37 0 56 0-59 0 6 0-22 0 119 0-79 1-16 0 80 1-58 0 36 1-24 0 25 0-8 0-112 0 173 1-22 0-118 0 112 0-53 0 17 0 55 1-12 0-1 0 49 0-44 0-80 0-32 0 101 1-121 0 66 0 0 1-17 0 99 0-49 0-26 0 54 0-63 0 78 1 42 0-105 0-1 1 64 0-150 0 34 0 11 0-29 0 79 0 15 1-15 0 0 0 46 0 8 0 9 1-67 0 8 0 72 0-52 0 45 1-88 0 21 0-30 0 31 0 23 0-44 0 121 0-172 0 118 0-98 0 69 0-53 1 43 0 0 0-44 0-22 0 26 0 38 0 41 1 41 0-171 0 113 0-48 1 26 0 16 0 25 0-20 0-22 0 84 0-67 0-15 0 61 1-121 0 11 0 127 0-88 0-84 0 138 0 22 1-104 0-29 1 69 0 22 0-52 0-17 0 79 0 2 0-118 0 27 1 44 0-17 0 48 0 17 0 76 0-84 0 32 1-140 0 50 0 100 0-144 1 160 0-45 0-24 0-15 0-60 0 5 0 31 0 6 0 96 0-130 0 23 1-65 0 110 0-9 0 63 1 48 0-80 0-81 0 63 0 3 0-19 0-60 0 83 0-90 0 65 0-13 0-132 1 185 0 88 0-144 0-15 0 90 0-130 0 77 1 13 0-46 0 28 0-45 0 16 0 72 1-89 0 17 0-7 0 70 0-51 0-28 0 68 0-135 0 6 0 127 1 91 0-136 0 48 0-100 0 87 0 5 1 22 0-77 0 156 0-168 0 143 1-150 0 108 0 32 0 48 0-132 0-89 0 145 0-90 0-21 0 28 0-19 0 97 1-33 0 29 0 10 0-72 0 63 0 29 0 38 0-98 0-25 1-39 0 31 0 23 0 14 0-93 0 55 0 11 1-23 0-1 0 55 0-76 0 83 0-89 0 73 1-75 0 129 0-26 1 33 0-122 0-27 0 0 1 60 0 72 0-20 0-2 0-105 0 127 0-20 0-70 1-110 0 95 0 36 1 91 0-74 0-15 0 89 0-2 0-63 0 12 1 34 0-105 0 60 0-45 0-29 0 78 0 33 0 41 0-59 0 19 0-70 0-70 0 45 1 54 0-52 0 132 0-37 0-75 0 102 0-57 0 52 1-96 0 49 0-52 0 12 0 59 0 39 0-93 1 9 0-61 0 34 0 36 0-89 0 41 1-34 0 66 0 36 0-29 0-32 0-37 1-31 0 82 0 75 0-90 0 10 0-19 1-34 0 109 0-18 0-108 0 11 0 127 0-109 1 40 0-48 0 66 0-54 0 8 0-25 0 146 1 34 0-116 0 22 0-5 0-27 0-5 0-13 0 55 0-97 1 19 0 74 0-102 0 145 0-91 0 22 0 55 1-66 1 8 0-35 0 53 0 8 0-75 1 73 0 15 0-24 0-59 0 81 0 21 0-90 1-64 0 54 0 34 0 62 0-5 0-25 1-64 0 68 0-38 1-49 0-37 0 134 0-127 0 139 1 48 0-107 0-42 0 9 0-2 1 51 0 30 0-85 0 20 0-15 0 86 0-8 0-88 1 26 0 22 0-94 0 60 0 33 0-74 0 77 1-8 0-29 0 77 0-95 0 65 0-32 0 64 0-90 1 66 0 1 0 25 0 22 0-150 0 69 0-48 0 98 0 19 0-80 1 26 0 51 0-53 0-17 1-72 0 44 0 82 0-118 1 84 0-4 0-11 0 39 0-75 0 103 1-88 0 70 0-77 0 40 0-28 0 97 0-131 0 19 0 101 0-32 0-40 1-11 0-50 0 49 0 30 0 41 1-13 0 25 0-52 0-53 0 18 0 90 1-69 0 63 0-144 0 52 0-15 0 51 1-50 0-27 0 61 0-107 0 82 0 49 0-76 1 52 0-40 0 26 0 28 0 11 0-1 0-58 1 110 0-58 0-47 0 96 0-84 1 114 0-54 0-46 0-18 0-18 0 3 1 24 0 79 0-57 0-12 0 24 0-36 1-46 0-11 0 142 0-83 0 91 0 15 1-79 0 23 1-55 0 11 0 10 0-4 0 74 1-79 0 49 0-38 0 24 0 60 1-166 0 133 0-88 0 40 0-26 0-7 1-44 0-64 0 236 0-63 1-54 0-80 0 124 0 45 0-56 0-106 0 58 1 39 0-17 0 59 0-103 0 16 0-91 0 179 0-25 0-53 0-68 1 132 0-113 0 6 0-32 0 25 0 23 0-7 0 109 0-19 0-32 1-32 0 26 0-64 0 85 0-66 0 21 1 42 0-61 0-26 0 121 0-138 1 22 0 5 0 23 1 29 0 116 0-135 0 96 0-11 0-15 0-49 1 15 0-39 0-56 0 102 0 36 0-39 0-17 0 45 0-27 1 40 0-78 0-69 0 115 0 20 0-84 0 51 1 24 0-83 0 170 0-84 0-50 0-48 0-21 0-5 1 68 0 51 0-68 0 16 0 50 0-81 0 44 1-7 0 35 0 19 0-53 0 80 1-95 0 4 0 24 0-17 0 52 0-72 0-57 1-21 0 182 0-30 0-77 0 55 0-110 0 74 0 91 1-42 0 75 0-133 0 83 0-53 0 11 1-3 0 26 0 28 0-65 0 17 0-25 1 20 0-56 0 92 0-15 0-19 0-18 0-33 0-14 0-9 1 16 0 87 0-25 0-94 0 23 0 117 1 17 0-42 0 65 0-143 0 58 0-55 0 146 1-91 0-1 0-2 0-54 0 32 0-113 0 93 0-28 1 91 0 28 0-54 0-66 0-4 0 94 0-51 0 0 1-42 0 68 0-3 0 31 0-88 0 46 0-71 1 84 0-12 0-19 0 65 0-111 0 144 1-58 0 8 0-15 0-50 0 7 0 77 0-49 0 17 0-34 1 61 0-10 0-99 0 165 0-47 0-10 0-26 1-20 0 47 1-38 0-11 0-51 0 54 1 5 0 45 0-111 0 40 0 6 0 65 0 7 0-46 1 44 0-49 0 0 0-122 0 71 0-12 1 80 0-20 0-58 0 56 0-8 0 25 0-47 1-9 0 98 0-76 0 65 1-96 0 33 0-5 0-33 0 85 0-104 0 80 1-120 0 142 0-32 0 54 0 45 0-136 0 35 0-66 1 42 0 26 0-2 0 38 0-14 1 24 0-84 0 42 0-60 0 43 0 46 0-43 1 8 0-26 0 3 0-66 0 53 1 2 0 41 1 12 0-46 0 15 0 25 0-63 0 96 0 51 0-83 1-44 0 35 0 48 1 5 0-131 0 83 0-53 0 14 0 36 0 13 1-41 0-28 0 32 0-42 0 139 0-166 1 108 0-25 0-5 0-53 0 28 0 7 1-10 0 15 0 17 0-28 0 44 1 14 0-63 0 63 0-34 0-31 1 51 0 32 1-72 0-75 0 130 0 11 0-105 0 48 0 29 1-141 0 157 0-3 0 4 0 34 0-127 0 99 1 66 0-226 0 94 0 53 0-71 1-55 0 107 0-8 0-45 0 49 0 33 0 4 0-29 0-83 0 46 1-98 0 60 0 61 0 19 0-28 0 0 0-97 0 33 1 7 0 27 0 0 0 139 0-59 0-102 1 18 0 6 0-2 0 3 0-76 0 160 0-24 0-2 1-27 0 18 1-41 0-81 0 105 0-5 0-67 0-47 1 170 0-108 0 40 0-24 0 119 0-159 1 127 0-179 0 173 0-71 0-88 1 115 0-6 1-77 0 98 0-19 0 26 0-95 0 33 0-11 0 55 0-33 0-24 0 120 0-96 1 81 0-13 0-78 0-56 0 103 0 24 0 24 1-39 0 2 0-53 0-5 0 52 1 42 1-124 1 82 0 8 0-113 0 76 0 42 1 56 0-2 0-100 0 2 0-7 0 35 1 32 0-96 0 43 0-20 0-10 1 14 0 118 0-5 0-14 0-157 0 99 1 106 0-100 0-57 0 66 0-43 0-8 1 34 0 11 0-33 0 8 0-51 0 49 1 39 0-32 0-13 0-64 1 130 0-116 0 93 0-52 0 58 0 13 0-69 0-11 1-76 0 54 0 2 0 62 0 85 0-66 0-41 1 75 0-78 1 53 0-24 0-117 0 147 0 40 0-107 0 56 1-12 0-40 0-6 0 70 0-83 0 5 0 70 0 4 1 32 0-108 0-38 0 122 0-132 1 56 0 10 1 97 0-85 0-62 0 59 0 69 1-159 0 25 0 118 0-46 0-57 0 41 0 14 0-62 1 29 0 102 0-57 1 40 0-58 0-27 0 44 0-62 0 65 2-35 0 1 0 1 0-34 0 116 0-145 0 87 1-74 0 109 0-57 0 20 1 15 0-6 0-9 0 9 0-1 1-40 0 8 0 3 0-24 0 9 1 94 0-138 0 157 1-111 0 58 0-32 0-9 0 38 0 57 0-91 1 4 0-25 0 129 1-43 0-2 0-55 1-97 0 120 0-114 0 59 0 80 0-78 0-5 0-73 1 144 0-15 0-46 0 43 0-100 1 34 0 58 0 35 0-46 0-62 0 38 0 82 1-87 0 43 0 10 0-51 0 30 1-93 0 62 0 32 0 31 0 34 1-91 0 49 0-31 0-34 0 0 0 37 0 4 0-39 0 113 0-76 0 36 1-48 0 34 0-137 0 98 0 29 0 52 0-65 0-49 0 134 1-47 0-48 0 0 0 0 0 22 0-99 0 98 1-39 0 57 0-8 1-73 0 127 0-31 0-88 0-8 0 20 0 55 0 48 1-115 0 7 0 69 1-31 0 0 0-4 0-11 0 109 0-40 0-69 1 83 0 33 0-75 0-8 0-42 0 32 0 5 0 56 1-117 0-36 0 58 0 46 0-124 0 94 0-32 0-16 1 64 0 53 0-130 1 81 0-20 0 41 0-32 0-33 0 77 0-24 1-74 0-50 1 65 0 46 0 29 0-68 0 9 1-72 0 68 0 28 0-35 0 24 0-44 1 3 0 59 0-91 0 78 0 58 1-87 0 3 0-17 0-23 0 36 0-35 1 52 0-16 0-29 0 58 0 47 0-10 0-53 0 12 1-50 0 39 0 45 0 5 0 29 0-142 0 152 0-58 0 58 0-77 0 61 0-62 1-52 0 68 0-40 0 22 0 28 0 13 1-6 0 15 0-125 0 135 0-99 0 46 0-25 1-37 0 101 0-94 0 23 0 99 0-184 1 28 1 131 0-68 0 60 1-40 0-23 0 59 0-70 0 8 0 39 0-66 0-17 0-11 0 128 0 50 0-37 0-90 0 6 0-24 1 49 0 52 0-55 1 2 0 16 0 1 0-75 1 47 0 31 0-12 0 31 0 39 0-189 0 36 0 159 0-58 1-59 0 22 0 14 1 52 0-68 0 16 0-67 0 140 0-50 1-46 0-44 0 66 0 45 0 71 0-19 0-114 0-2 0-28 0 72 1-61 1 67 0-13 0 5 0-69 0 106 0-67 1-51 0 59 0 11 0-6 0 44 0 13 0 54 1-119 0 67 1-84 0 117 0-96 0 66 0-76 0 39 1 4 0-62 1 2 0 117 0-60 0-36 0-3 0 73 0-44 0-6 1-108 0 104 0-23 0 65 0-75 0-37 0 51 1 105 0-138 0 109 0-73 0-95 0 134 1 88 0-96 0-78 0 43 1-33 0 109 0-37 0-148 0 162 1-19 0-75 0 21 0 27 0 91 0-114 0-12 0 87 0-81 1-21 1 46 0 48 0-34 0-26 1 90 0-2 0-151 0 23 0 11 0 36 1 19 0-13 0 8 0 19 0-87 1-46 0 125 0 48 0-53 0-31 0 49 0-45 0-49 1 47 0 57 0-22 0 18 1-60 0 53 0 44 0-89 1-8 0 87 0-57 0-64 0 38 0 87 0-48 0 75 1-62 0-19 0 40 0-83 0 84 0-58 1-8 0 33 0-44 0-33 0 12 1 71 0-11 0-11 0 32 0-80 1 24 0 102 0-129 1 111 0-77 0 40 0-15 0-24 0 18 1 43 0-83 0-13 0 91 0-63 0 11 0 0 1-12 0-69 0 85 0-18 0-44 0 39 0 40 1 75 0-114 0 94 0-90 0 46 0-36 1 51 0-31 0-26 1-58 0 127 0-125 0 45 1 119 0-76 0-8 0 2 0 6 1-29 0 34 0-25 0-9 0 41 0 8 0-14 0 30 1 46 0-7 0-82 1-60 0 113 0-52 0 34 0-57 1 61 0-99 0 65 0-77 0 170 0-115 0-92 0 170 1-15 0 20 0-126 0 76 0 47 0-75 0 29 1-31 0-4 0 85 0-109 0 41 0 28 0-27 0 40 0-143 0 158 1-117 0 49 0-7 0 42 0-34 1-12 0 57 0 69 0-135 0-3 1 4 0-32 0 0 0 38 1 60 0-62 0-16 0 36 0-35 1-5 0 123 0-76 0-88 0 57 0-17 0 1 1-65 0 83 0-4 0-4 0-31 0 83 1-62 0-70 0 62 0 91 0 20 0-117 0 48 1 36 0 18 0-69 0 37 0-36 1-68 0 134 0-48 0 24 0-31 0-33 0 19 0 40 0-79 0 138 1 36 0-224 1 157 0-67 0 52 0-21 0-19 0 54 0-40 1 68 0-57 0-87 0 63 0 8 1-28 0-32 0 156 0-100 0 2 0-78 1 107 0-33 0 59 0 29 0-115 0-4 1 92 0-4 0-37 0 20 0-51 0 14 1 1 0-104 0 140 0 2 0-83 0 18 1 41 0 21 0-35 0-23 0 43 1-15 0-55 0 33 0-2 0 50 0-97 0 25 0 20 1 20 0 115 0-125 0 60 0-13 0 25 0 21 1-56 0-76 0 30 0 91 0 31 0-42 0 54 0-83 1-74 0 45 0 10 0 31 0-3 0-85 1 100 0-85 0 42 0 18 0 2 1-9 0-51 0 20 0 52 1-68 0-35 0-67 0 125 0-45 0 44 0-52 1 31 0 3 0 65 0-90 0-15 0 64 1 35 0-85 0 70 0-25 1 24 0-116 0 96 1-16 0 22 1-43 0 27 0-101 0 106 0 68 0-57 1-6 0 13 0 53 0-103 0-39 1 18 0 22 0 37 0 36 0-76 0-14 0 94 1 9 0-91 0 75 0-46 0-15 0 17 1-35 0-42 1 14 0 33 0 52 1 5 0 23 0-82 0 38 1-70 1 22 0 101 0-58 0 101 0-61 0-57 0-12 0-68 0 169 1-16 0 12 0 42 0-87 0-69 0-37 0 70 0 18 1-73 0 109 0 14 0-99 1 37 0-58 0 122 0-96 0-13 1-42 1 48 0-36 0 141 0-21 0-95 0 17 1 41 0 10 0-60 0 123 0-36 0 70 1-88 0-96 0 118 0-26 0-25 0-45 0 85 0-52 0 96 1-13 0-10 0-141 0 110 0 74 0 4 0-30 1-5 0-98 0 114 0 22 0-75 0 5 0-34 0 17 0-26 1 41 0-34 1-69 0 46 0 53 0-10 0 64 0-26 0 18 1-70 0 58 0-92 0 2 0 81 0-34 0-53 1 90 0 26 0-36 0 28 1-20 0 0 0-89 0-55 0 79 1 5 0-16 0-29 0 63 0-43 1 37 0-46 0 33 0 90 1-131 0-36 0 162 0-33 0-41 1-19 0 36 0-35 1 69 0-65 1-17 0 61 0-70 0 70 0-90 0 33 0 38 0-46 0 87 1-55 1 15 0-112 0 130 0-24 0-107 1 115 0 4 1-54 0-19 0-17 0 75 0 0 0-13 0 116 0-106 0 9 1-90 0 98 0 32 0-94 0 155 0-138 0 37 1-27 0-1 0 82 0-17 1-159 0 179 0-122 0 30 0 157 0-180 0 39 0-54 0 55 0 31 1 60 0-112 0 27 0 35 0 15 0-86 0 44 0 93 1-78 0 91 0-172 0 25 1 39 0-55 0 87 0-92 1 76 0-96 0 34 0 57 0 18 0-81 0-28 0 107 0-81 0 73 1 47 0-34 0-113 0 143 0-6 1-89 0 8 0 96 0-58 1 5 0 34 0-28 0-22 1 65 0-63 0-2 0-21 0 76 0-122 0 105 0-75 0-63 1 143 0-28 0-8 0-30 0 14 1-31 0 100 0 1 0-71 0 3 0 13 1 31 0-34 0-35 0 11 0 26 1-21 0-13 0 82 0-41 0 24 1-90 0 86 0-41 0-14 0-22 0 2 0 9 1 29 0-10 0 105 0-77 0-12 0-16 0-36 0-1 0 58 1-94 0 158 0-4 1-153 0 135 0-5 0 1 0-23 0 48 1-123 0 17 0 53 0-28 1-74 0 113 0 10 0-63 0 30 0 29 1-154 0 78 0-17 0 36 1-55 0-1 0 75 0 80 0-154 0 143 0-33 0 3 0 15 0-87 1 77 0-132 0 36 1 57 0 22 0-107 0-27 0 117 0-6 0 20 0-38 0-62 1 123 0-18 0-30 0 101 0-97 0 64 0-83 1 69 1-119 0 68 0-20 0 71 0-145 1 123 1-49 0 59 0-26 1-69 0 80 0-31 0 47 0 53 0-107 0 92 0-87 1 36 0-21 0-43 0 40 0-29 0 51 0-81 1 4 0 92 0-16 0 1 0 0 0 24 0-28 0 22 0-85 0 65 1-63 0-25 0 51 1 44 0-32 0 89 0-56 0-12 1-16 0-73 0 70 0-1 0 86 0-127 0 33 1-30 0 44 1-94 0 101 0-14 0 9 0-80 0 66 1 29 0-25 0 55 0 58 0-27 0-69 1-80 0 85 0-105 0 39 0 15 0-26 1 56 0-19 0-19 0 56 0-55 0 101 0-33 0-53 0 44 0-57 1 3 0 83 0-132 1 104 0 73 0-209 1 234 0-219 0-16 0 7 0 47 0 29 0-66 0 86 0 51 1-80 1 45 0 25 0 57 0-93 0 41 0-10 0-23 0-20 1 35 0 17 0-102 0 48 0 36 0-2 0 2 1 66 0-30 0-117 0 145 0-117 0-6 1 97 0-72 0-69 0 118 0-9 0 4 0-99 0 113 0-73 0 78 0-110 0 15 1-52 0 61 0 94 0-42 0-41 0 99 0-60 1 29 0-22 0-23 0 13 0 15 0 35 0-27 1 15 0-102 0-39 0 112 0-8 0 14 0-74 1 59 0-62 0 59 0-8 0-5 1 24 0-41 0 24 0 37 0 42 0-57 0 21 0-12 0 56 0 22 0-140 0 68 0-20 0 65 1-205 0 92 0-56 0 159 1-56 0 20 0-13 0-7 0 7 1-42 0-83 0 121 0-19 0-26 0-2 0 97 0-104 0-16 1 88 0 41 0-141 0 16 0-3 0 73 1 9 0 44 0-75 0-9 1-18 0 89 0-89 0-12 0 31 0 11 1 22 0-53 1 123 0 9 0-157 0 66 0-60 0 38 1-49 0 49 0 29 0-5 0-78 0-35 0 8 0 159 0-72 0 13 1 73 0-128 0 74 0-57 1 45 0-108 0 78 0 17 0 10 0-82 0 63 0 60 1-52 0 51 0-10 0-22 0-33 0 24 0-54 1 86 0-19 0 47 0 57 0-75 1-14 0-21 0 36 0 29 0-90 0-53 0-5 1 128 0-29 0 4 0-120 0 60 0-53 0 22 0 31 0-6 1 123 0-155 1 36 0-7 0 45 0 36 0-84 1-47 0 67 0 46 0-82 0 113 0-109 0 21 0 10 0 130 0-62 1-23 0-75 0-6 0 23 0 127 0-17 0-63 0-47 1-59 0 73 0 54 0 2 0-9 0-61 0 67 0-37 1 58 0-35 0 29 0-24 0-45 0 92 0-123 0 95 0-62 1 4 0 36 0-44 0-28 2 5 0-11 0 65 0 16 0-22 0-83 0 95 0 46 0-117 1 13 0 103 0-61 0 70 0-80 1-62 0 79 0 0 0 19 1-64 0 22 0 142 0-148 0 122 0-154 1 77 0 9 0 28 0-50 0-36 1 43 0-91 0-58 0 54 0 180 1-43 0 59 0-78 0-113 0 27 0 75 0-66 0-6 1-8 0 19 0-67 0 135 0-66 0 115 0 23 1-100 0 65 0 3 0-52 0-22 0 85 0-36 1-49 0-19 0 30 0 54 0-14 1-75 0 26 0 19 0-34 0 19 1-52 0 10 0 63 0-3 0-31 0 142 0-135 1 50 0-24 0-44 0 66 0 24 1-63 0 28 0-65 0-14 0 38 1 43 0-32 0-46 0 18 0 15 0-3 0 18 1 85 0-76 0-33 0 59 0-3 0-95 1 25 0-27 0 79 0 28 1-60 0 79 0-98 0 13 0 14 1 13 0 80 0-150 0 90 0-26 0 59 0-135 0 9 0 153 0-24 1-9 0-65 0 63 0-56 0-58 0 50 0-7 0-41 0 25 1-7 0 63 1 22 0 7 0-1 1-112 0 83 0 13 0-21 1-70 0 61 0-5 0-50 1 87 0-121 0 102 0-49 0-45 0 44 0 15 0 49 0-2 1 22 0-25 0-61 0 1 1 29 0-25 0-66 0-21 1 141 0-32 0 93 0-124 0 77 0-45 0 17 0-21 1 52 0-30 0-49 0 18 0-6 0 16 0 7 0-33 0-8 1 29 0-89 0 109 0-2 0-53 1-20 0 53 0-111 0 134 1 27 0-26 0 24 1-53 0 48 0-8 0-41 0 10 0-88 0 16 0 118 0 1 1-93 0-35 0-23 0 157 0-41 0 79 0-32 0 38 0-60 0-70 1 10 1 73 0-127 0 100 0-50 0 85 0-92 0-9 0 85 1-47 0 52 0-39 0-45 0 63 1-58 0 56 0-27 0 33 0-86 0 14 1 127 0-77 0-25 1-37 0 19 1 38 0-73 0 58 0-11 0-85 1 99 0 60 0-83 0 11 1 23 0-43 0-57 0 89 0-24 1-11 0 102 0-64 0-43 0 3 0 115 1-40 0-130 0 120 0-55 0-5 0 86 0-20 0-79 1 42 0 33 0-38 0 26 0-55 0 99 0 8 0-106 1-38 0 48 0 67 0-33 0-13 0 12 0-84 0 72 0-3 0-26 0 71 0-72 0 0 0 68 1-4 0-28 0 8 0 8 0-3 0-66 0 91 1 59 0-81 0-33 0 72 0-27 1-69 0 33 0-25 0 81 0-118 1 129 0-97 0 49 0-37 0 41 0 39 1-26 0-93 0 48 0 20 0 88 0-121 1 6 0-19 0 36 0 36 0-83 0 121 1-8 0-23 0-9 1 92 0-176 0 25 0 136 0-170 0 78 1-25 0-38 0-1 0 37 0 24 0 11 0 6 0-27 0-2 1 29 0-62 0-35 0 109 0-147 1 133 0 36 0-127 0-50 0 70 0 58 0-64 0 100 1-19 0-82 0 88 0-111 0 49 0 35 1 55 0-27 0 36 0-149 0 109 0-80 1 58 0 65 0-53 0 35 1-123 0 5 0 35 0-7 0 35 1-23 0-42 0 70 0-82 0 36 0 51 0-62 0 45 0 34 1 42 0-14 0-16 0-20 0-89 0 21 0-1 1 16 0 21 0-41 0 26 0 78 0-78 1-76 0 83 0 7 0-10 0 126 0-61 0 38 0-116 0 69 1-26 0-17 0-38 0 54 0-109 0 146 0-75 0 102 1-181 0 115 0-47 0 6 0 18 0 73 0-23 0-79 1 71 0-21 0 96 0-178 0 69 0-43 0 47 0-101 1 55 0 42 0-25 0-14 0 38 0-22 0-19 0 35 0 13 1 16 0-105 0 67 0 81 1-133 0 80 0-32 1 80 0 8 0-49 0-39 0-55 0 53 0-15 0 44 1 77 0 18 0-81 0-9 0-13 1 22 0-26 0 100 0-127 0 44 0-37 0 79 0 44 1-58 0-24 1-7 0 26 0-53 0 108 1 5 0-38 0-10 0-62 1 113 0-162 0 33 0 143 0-127 0-20 1-42 0 135 0 7 1-49 0-92 0 77 0-34 1 83 0 28 0-51 1-1 1 56 0 7 0-144 0 82 0-81 1 21 0 94 0-112 0 47 0 70 0-39 1-104 0 76 0-6 1-34 0 146 1-98 0 0 0 48 0-43 0-74 0 66 0 21 1-13 0 44 0-9 0-17 1-34 0 10 1 93 0-177 0 137 0-33 0-56 1 33 0 30 0-99 1 78 0 20 0-73 0 51 0 63 0-60 1-52 0-36 1-9 0 136 0-58 0 5 0-6 0-26 0 123 0-52 0 39 1-133 0 89 0 3 0-88 0 13 0 2 0 91 0-39 1-46 0 69 0-67 0 39 1-10 0-38 0 88 0-44 0-115 0 103 0 84 1-185 0 155 0-33 0-72 0 60 1-55 0-20 0 95 1-5 0-103 0 63 0 28 1-79 0 131 0-90 0 56 0 13 0-79 0 64 0-11 0 14 1-41 0 69 0-12 0 41 0-24 1-119 0 39 0 49 0 29 0-84 1 35 0 15 0-21 0 56 1-99 0 74 0-64 1 61 0-68 1 33 0 61 0-95 0 52 0 28 0-37 0-8 1 14 0-45 0 83 1-2 0 51 0-73 0 40 0-80 0 50 0-71 1 59 0-29 0 65 0-151 0 94 0-7 0 49 0-70 0 15 1 85 0-95 0 12 0 77 0-164 0 127 1-3 0-5 0-103 0 19 1 29 0-1 0 77 0-56 0 94 0-73 1 32 0-64 0 3 0 52 0 22 0-77 1 98 0-77 0 91 0-141 1 45 0 50 0-37 0-25 0 62 0 15 1-68 0 59 0-61 0-18 0 105 1-93 0 3 0 63 0-87 0 2 0 34 1 17 0 43 0-57 0-23 0-32 0 49 1-8 0 79 0-136 0-9 0-4 0 81 0 34 1 59 0-162 0 89 0-39 0 112 1-64 0 59 0-77 0 54 0-35 1-50 0 79 0-63 0-97 0 107 0-56 0 88 0 51 1-62 0 12 0-89 0 22 0 10 0 127 1-120 1 35 0-105 0 66 0 31 0-13 0-8 0 36 0 3 0-85 0-6 1 94 0 12 0-108 0 101 0-103 0 61 1 72 0-144 0 80 0-10 0-46 0 94 0-85 0 14 0-22 0 76 1 6 0 39 0-79 0-29 0 114 0-104 0 64 1 46 0-41 0-128 0 38 0 12 0 80 0-80 1 76 0-27 0-3 0-9 0-36 0 104 0-61 0 68 0-119 1-39 0 152 0-127 0 63 0-24 1 11 0-9 0-38 0-5 0 69 1-46 0 120 0-81 0 65 0-93 1 63 0-69 0-17 0 34 0 2 1 138 0-194 0 33 0 68 0-44 0 15 1 31 0-45 0-29 0-32 0 64 0 30 0-17 0 48 0-79 0 35 0-56 1-54 0 124 0-52 0 55 0-62 0-46 0 31 1 30 0-19 0 20 0 41 0-29 0 24 0-30 0-27 0-15 1-60 0 138 0 25 0-104 0 2 0 5 0 59 0-12 1-16 0 9 0-80 0 76 0-3 0 34 0-59 0 9 1 37 0-71 0 30 0 131 0-146 0 48 0-48 0 114 0-61 1 3 0 41 0 14 0-97 0 45 0-37 0 82 1-161 0 213 0-120 0-91 0 117 0-56 1 43 0 5 0 47 0-144 0 111 0 37 0-121 1 101 0 4 0-67 0-68 0 102 1-30 0 101 0-89 0 46 0-17 0-8 1-71 0 26 0 41 0-9 0-1 0 43 0-35 0 33 0-31 1 14 0-44 0-49 0 117 0 1 0-11 1-72 0 95 0-50 0 4 0-42 0 9 0-7 0 50 1-52 0 32 0-25 0-36 1 66 0 4 0-3 0 15 0 33 0-52 0-47 0 142 1-93 0 35 0-30 0-121 0 174 1-116 0 110 0-60 0-36 0-78 0 97 0-26 1 51 0-56 0 90 0-62 0 5 0 120 1-59 0-71 0 50 0-98 0 43 1 28 0-28 0-13 0 82 1-62 0-10 1 11 0-3 0 71 0-24 0-89 1 140 0-12 0-68 0-34 0 49 0-29 1 54 0-27 0 64 0-143 0 50 0 44 0-38 0 4 1-36 0 151 0-103 0 43 1-73 0 16 0 19 0 85 0-13 0 35 0-28 0-2 1-84 0-23 0 99 0-100 0 61 0-56 0-22 0 55 1-47 0 29 0 58 0-52 0 59 0-72 1 39 0-67 0 116 0-167 0 115 1 14 1-157 0 48 1 6 0 71 0-8 0-4 1 47 0 84 0-165 0 69 0-16 0 52 0-161 1 26 0 27 0-1 0 67 1-36 0-77 0 63 0-44 0 43 0 29 0-30 0 101 0 52 1-88 0-103 0 150 0 34 0-116 0 29 0 36 0-45 1 53 0-35 0-59 0 6 0 12 0-21 0 100 0-50 1-26 0 51 0-37 0 49 1 29 0-73 0-38 0-31 1 150 0-70 0-50 1 26 0-53 0 126 0-53 0-34 0-57 0 183 1-101 0-120 0 84 0 28 0 9 0-63 0 114 0-29 0-27 0-36 1-57 0 67 0 13 0-50 1 76 0 25 0-65 0 4 0 20 0 86 0-12 0-158 1 59 0 157 0-148 0 107 1-64 0 39 0-83 0 23 0 23 0-29 0-1 1 76 0-82 0 77 0-99 0 14 0 54 0-11 0 24 0-48 1-4 0-23 0-57 1 61 0 75 1-57 0 14 0 54 0-112 0 65 0-47 1 88 0-134 0 57 0-8 0 9 0-11 1 125 0-108 0 4 0-67 0 6 0 29 0-23 0 89 1-57 0 7 0 16 0-40 0-18 0 30 1 45 0-16 0-38 0 125 0-62 0 15 0 44 0-126 1 97 0-37 0 2 0-92 0 36 0 42 0-3 0 81 0-98 0 32 1-29 0-50 0 48 1 23 0 83 0-25 0-90 0-19 1 44 0-27 0 153 0-82 1-45 0-25 0-26 0 49 1-125 0 110 0-4 0 99 0-164 0 133 1-62 0 56 0-76 0 57 0 22 1 85 0-168 1 34 0 1 0-24 0 24 0 6 0-18 0-68 1 98 1-85 0 67 0 54 0-113 0 57 1 16 0-12 0-21 0 24 0 32 1-83 0 42 0 43 0-64 0-30 1 96 0-4 1 13 0-48 0-31 0 106 0-14 1-22 0-63 0 30 0-48 0-8 0 55 0 11 0 12 0-23 0 94 1-146 0 111 0-83 0 64 0-89 0 150 0-37 0-146 0 140 1-54 0 35 0-44 0-7 0-60 0 44 1 22 0-80 0 33 0 48 0 21 0-43 1 89 0-93 0 55 1 33 0-101 0 94 0-63 0-34 0 119 0 1 0-94 1 67 0-4 0-49 0 107 0-112 1-26 0 33 0-7 1-16 0 8 0-52 0 95 0-96 0 119 0-19 1-53 0 0 1-13 0 32 0 84 0-69 0-37 0 106 1-104 0 2 0 121 0-72 0 26 0-28 0-4 0 7 0 4 1 69 0-163 0-59 0 102 0-59 0 80 1-66 0 60 0 51 0-78 0-11 1 74 0-75 0 32 0-3 0-55 1 107 0-98 0 96 0-25 0-71 0 35 1 59 1-56 0 120 0-155 0 106 0-138 0 68 0 60 1-141 0 106 0-67 0-11 1 29 0 9 0 3 0-5 0-13 0-85 0 193 1 37 0-81 0-35 0-34 0 61 0 0 0-57 0 35 1 45 0-22 0-16 0 8 0-41 1 33 0 7 1-40 0 30 0 51 0 6 0-157 0 37 1 119 0-28 0 1 0-90 1 72 0 25 0-7 1-56 0 7 0 44 0-6 0 54 0-174 1 82 0 90 0-117 0 61 0 66 0-120 0 66 0 78 0-157 0-35 1 150 0-76 0 21 0 6 0 58 0-75 1 64 0-12 0-38 0 53 1-37 0-20 0 89 0-183 0 42 0 6 0 30 1 30 0-20 0 124 0-139 0-28 0 55 0-23 1-3 0 71 0-31 0 41 0-110 0 84 0-30 1-32 0-48 0 75 0-54 0 94 0-13 0 1 0-30 1 70 0-166 0 132 0-19 0 0 0-36 0 71 0-23 0-90 1 98 0-22 0 37 0-66 0-8 1 67 0-31 0-96 0 135 0-103 0 100 0-35 1 19 0 23 0-103 0 84 0-36 0-10 0 13 1-25 0 27 0 10 0-44 1 87 0-50 0-61 0 79 0 3 0-99 0 87 1-33 0 32 0-22 0 28 0-10 0-124 0 118 1 24 0 9 0 26 0-45 0 49 0-23 0-67 0-12 0 100 1-29 0-124 0 35 0 112 0-51 0-95 0 110 1 27 1-17 0-35 0-8 1-17 0 1 0 40 0 113 0 3 0-139 0-66 1 70 0-10 0 2 0-72 0 81 1-29 0 35 0-81 0 80 1-63 0 19 0 10 0 5 0 0 0-1 0-3 0-4 0 6 1 12 0 113 0-49 0-77 0-39 0 127 0-58 1 18 0 41 0-155 1 66 0 40 0 61 0-75 0 8 0-5 0-1 0 10 1-37 0-7 0 17 1 51 0 28 0-53 1-20 0 75 0-34 1 9 0-44 1-15 0 46 0-33 0 67 0-103 0 60 1-15 0-52 0 33 0-35 0 35 1 4 0 42 0-81 0 84 0-55 0 41 0-35 1-23 0 110 0-15 0-142 0 79 1-11 0-61 0 87 0 16 0-22 0 20 0 65 1-110 0 84 0 45 0-89 1-30 0 78 0-50 0-47 0 101 0-27 0-123 0 120 0-50 1 19 0-68 0 85 0-18 0-55 0 30 0 87 0 5 0-149 0 98 0-39 1-11 0 38 0 63 0-48 0-75 1 50 0 20 0 33 0-58 0 10 0 5 0 20 1-125 0 162 0-53 1-15 0-55 1 67 0 85 1-127 0-51 0 102 0-20 0-4 1-73 0 96 0 11 0-93 0 69 0 30 0-82 1-61 0 110 0 101 0-88 0 94 0-95 0-27 1-28 0 108 0-135 0 35 0 10 1 35 0-12 0-76 0 15 0 144 0-81 1-4 0-18 0 32 1-52 0 93 0-13 0-43 0 46 0-53 0-13 0 70 0-54 1-36 0 120 0-88 0 31 0 53 1-138 0 47 0 64 0-63 0-7 0 15 0-8 1-1 0 36 0-15 0 81 0-70 1 68 0-77 0 80 0-93 0 67 0-53 1 73 0-120 0 16 0 43 1-68 0 121 0-82 0 36 0 25 1-22 0-66 0-30 0-17 0 38 0 8 1-3 0 63 0-91 0-13 0 90 0 80 0-135 0 40 1 3 0 57 0-11 0-65 0 68 0-43 0 37 0 50 1-200 0 39 0 3 0 5 0 68 0 0 1 81 0-16 0-56 0-21 0 39 0-12 0-45 0 58 1-59 0 20 1-3 0-22 0-3 0 36 0-10 0-55 0 144 1 2 0-3 0-23 0-63 0-43 1-3 0-36 0 70 0-69 0 90 0 8 0-40 0 0 0 23 0 32 1-45 0 100 0-128 0 14 0 6 0 14 0 21 0 16 0-43 1 94 0-170 0 105 0-11 0-70 0-3 1 75 0 51 0-37 0-24 0-11 1-9 0 4 0 51 0 21 0-26 0-60 1 61 0 23 0-140 0 105 0-42 0 32 0-68 0 10 1 46 0-21 0 3 0-19 0 64 0 31 0-99 0 59 0-34 0 34 0 41 1-41 0-19 0-45 0 105 0 26 0-173 1 121 0-37 0-53 0 145 0-58 0 76 1-140 0 15 0-50 0 76 0-85 0 66 0 71 0-29 0 21 1-41 0 31 0-43 0-56 1 85 0-27 0-35 0-16 1 113 0-139 0 39 0 58 0 12 0-18 0-85 1 126 0-58 0-66 0 124 0-58 0-84 1 116 0-35 0-23 0 44 0-6 0-45 0 59 0-10 1-63 0 90 0-29 0-19 1 26 0-56 0 0 0 34 0-41 1 119 0-61 0 23 0 52 0-17 1 32 0-144 0 122 0-100 0 10 1 20 0-6 0-5 0 16 1 59 0-180 0 35 0 8 0 77 1-9 0 14 0 73 0-90 1-71 0 90 0 68 0 8 0-99 0 10 1 9 0 13 0-36 0-16 0 99 1-1 0-73 0-30 0-2 0-25 1-4 0 47 0-22 0 49 0-39 0-20 1 26 0-103 0 140 0-30 0 80 0-89 0 14 0-37 0 147 0-89 1 47 0-77 0 46 0-76 0 17 0 15 0-29 1 80 1 6 0 17 0-104 0 17 0 26 0 35 0-95 0 49 0 64 0-46 0-10 0-51 1 40 0 51 1 17 0-135 0 104 0-39 0-28 0 139 0-59 0-88 0 3 1 61 0-84 0 64 0 36 1-92 1 76 0 13 0-55 0 52 0 15 0-12 0-56 0 77 0-60 0 28 0-8 1-3 0-102 1 156 0-29 0-18 0 25 0-53 0 14 0 33 0-135 0 72 0 7 0 15 0-12 0-12 0 52 1 28 0-17 0 29 1-26 0 49 0 6 0-105 0-18 0 11 0 12 0 55 0-11 0-16 1-45 0 13 0 11 0 21 0 23 0-21 0 12 0-62 1 108 0-33 0-4 0-115 0 120 0-32 0 2 0-126 0 37 0 63 1-52 0 133 0-122 0 93 0-19 0-54 0 38 1 71 0-96 0-35 0 75 0 45 0-90 1 78 0-22 0-29 0 10 1-5 0-36 0 37 1 12 0-57 0-92 0 160 0-65 1 60 0-69 0 61 0-31 0-5 0 13 0 20 0-103 1 146 0-11 0-34 0-96 0 121 1-41 0 79 0-102 0 13 0 57 0-153 1 85 0 11 0-105 0 67 0 57 1 5 0 64 0-35 0-112 1 104 0-20 0-13 0-61 0 146 0-5 0-71 0-55 0-16 1 1 0 98 0-127 0 139 0-64 0 25 0 20 1 80 0-81 0-45 0 27 0-12 0-5 0 3 0-53 0 64 0-82 0 122 1-74 0-39 0 90 0 1 1-28 0-79 0 11 0 90 0 84 1-98 0 2 0 15 0-71 0 96 0-85 0 33 0-42 0-19 1 22 0-8 0 26 0 95 0-61 0-42 0 48 0-48 0 83 1-16 0-56 0 15 0 6 0-53 0-7 0 50 0-37 0 42 0 43 0-52 1 40 0 57 0-107 0 92 0-111 0-15 0 65 1-17 0-63 0 135 0-22 1-89 0 38 0 6 0-57 0 77 0-82 1-18 0 155 0-101 0-7 0 27 0-25 0 141 0-83 0 19 1 2 0 61 0-213 0 147 1-29 0-4 0 53 0-26 0-116 0 97 1-20 0 63 0-158 0 135 0-25 0 26 1-13 0-123 0 138 0-36 1-37 0 87 0-50 0 86 0-29 0-110 0 95 0-39 0-2 1-6 0 59 0-91 0 62 0-99 1 94 0-80 0-1 0 62 0-54 0 113 0-112 1 137 0-39 0-37 0 28 0-22 0 110 0-95 1-55 0 50 0-37 0 14 1-27 0 3 0 71 0-45 1 42 0-56 0 12 0-21 0 92 0 18 1-90 0 51 0-121 0 9 0 103 0-128 0 113 1 28 0 38 0-94 0-65 0 24 0 0 0 88 1-96 0 11 0 121 0-142 1 29 0 100 0 57 0-208 0-39 0 86 0 46 1-13 0-26 0-36 0 106 0-69 0-7 1 35 0 70 0-64 0 120 0-145 0 47 0-138 0 75 1 30 0-33 0-5 0 11 0-21 1 22 0 30 0 14 0-72 0 43 1-30 0 85 0 42 0-77 0 11 0-35 0 38 0-35 0-53 0 126 1 49 0-81 0-32 0 24 0 60 1-107 0 60 0-28 0-118 0 91 0 46 0-11 1-24 0-56 0 74 0-4 1 18 0 63 0-87 0 52 0-30 0-65 1 67 0-80 0 5 0-11 1 85 0-30 0 72 0-25 0 1 1-80 0 38 0 44 0-70 0 29 0 60 0-62 0 14 0 49 0-38 1-96 0 80 0-5 0 16 1 98 0-57 0-50 0-41 0 76 0-33 1 57 0-50 0 34 0-90 0 31 0 12 0-44 0 61 0-39 0 1 0-17 1 31 0-78 0 128 0-25 0 9 0 34 0-49 0-29 1 82 0-86 0 27 0-117 0 82 0 26 0 34 0-7 0 22 0-76 1 0 0 38 0-50 0 20 0 23 0-104 0 20 0 101 0-57 1 74 0-62 1-28 0 85 1-45 0 33 0-54 0-6 0 24 0-24 0 31 1-42 0 69 0 23 0-16 1-89 1 129 0-153 0 101 0-6 0 34 0-74 1 9 0 86 0-1 0-111 0 37 0-26 0-94 1 193 0-93 0 37 0 10 0-80 0 114 0-82 1-41 0 92 0-8 0-37 0 25 0 89 1-51 0-35 0-20 1 112 0-116 0-77 0 161 0-88 1-85 0 39 0 2 0-42 0 73 0 7 0 112 0-86 0-25 0 21 1 18 0 40 0 16 0-164 0 24 0 73 0 96 0-120 0 78 1-82 0-1 0 16 0 82 1-93 0 27 0 13 0 30 0-43 0 42 0 40 0-45 0-58 1 12 0 21 0-28 0-42 0 9 0 19 0-70 0 56 1 85 0-71 0-9 0 99 0-132 0 19 0 103 0-56 0 43 1-33 0-5 0-33 0 57 0-12 0-1 0-33 1 82 0-56 0 26 1-88 0-24 0 119 0-69 0-10 0 61 1 48 0-80 0-1 0 37 0 5 0-24 1-94 0 129 0-77 0 144 0-139 0 45 0-13 0 12 1 116 0-138 0 64 0-51 0-18 0 56 1-22 0-26 0-40 1 70 0 34 0-62 0 38 0-61 1 75 0-117 0 42 0-65 1 128 0-27 0 14 0-22 0 79 0-10 0-10 0-50 0-54 0 51 1 39 0 38 0-3 0-63 0 63 1-139 0 20 0-14 0 21 0-8 0-48 0 153 0-39 0-68 0-62 1 161 0-173 0 59 0-9 0 27 0 60 1 20 0-28 0-74 0 124 0-6 0-20 0 80 0-174 0 16 1-2 0 8 0 64 0-22 0-31 0 78 0-62 1-24 0-4 0-34 0 54 0-32 0 38 1 24 0 4 0-46 0 118 0-154 0 94 0-34 0 12 1-48 0-5 0 71 0-119 0 93 0-80 0-19 0 96 1-32 0 126 0-186 0 95 0-2 0 3 1-32 0-58 0 118 0 1 0-18 0-6 1 46 0-11 0-14 0-67 0 83 0-94 0 63 1-70 0 42 0 48 0-55 0 64 0-72 0 108 0-92 0-27 1 72 0-38 0-54 0 35 1 121 0-162 0-16 0 94 0 48 1-82 0-24 0 32 0 1 0 67 0 38 0-102 0-34 0-18 1-27 0 84 0-75 0 114 0-47 1-24 0 108 0-159 0 133 0-40 0 7 1-13 0-56 0 88 0 29 0-162 0 107 1-11 0-9 0 36 0-30 0-11 0 81 0-109 1 28 0 0 0-19 0 14 1 97 0-112 0 168 0-206 0-43 0 88 1-29 0 127 0-39 0-77 0 43 1-5 0 64 0-41 0 7 0 13 0-15 0-12 0-43 1 48 0 6 0-78 0 72 0-67 1-21 0 81 0 30 0 21 0-75 0-46 0 29 0 32 0 7 0 30 0-33 1 62 0-85 0 56 0 9 0-13 0 7 0-81 0 99 0-70 0 17 0-42 0 69 0-40 1-12 0 69 0-73 0 57 0-9 0 18 0-25 0-63 0 68 0 12 1 76 0 0 0-50 0 6 0-69 0-8 1-27 0 86 0-3 0 1 0 3 0-11 0-24 1-23 0 65 0-35 0 54 0-76 0 9 0-26 0 73 0-74 0-77 1 79 0 6 0 35 0-18 0 84 1-47 0 34 0 22 0-16 1-6 0-69 0 46 1-25 0 44 0-68 0 63 0-58 0 64 1 27 0 1 1-81 0 87 0-153 0 96 0-80 1 73 1-58 0 60 0-34 0 104 0 48 1-68 0 10 0-28 0-30 0-7 0-50 1 21 0 85 0-64 0 43 0-68 0 173 1-50 0-78 0 108 0-74 0 32 0-68 0-16 0 103 1-36 0 5 0 11 0-47 0-33 0 47 0-119 1 104 0 58 0-76 0 119 0-124 0-39 0 92 0-43 0 46 0-72 1 70 0-25 0 10 1 42 0-101 0 35 1 77 0 7 0-29 0-109 0 78 0-36 1 6 0-73 0-33 1 185 0-10 0-136 0 66 0 25 0-38 1 66 0-53 0-61 1 59 0 53 1-83 0 103 0 19 0-28 0-2 0-40 1 40 0-79 0-99 0 101 0 134 0-26 0-130 0 52 0-31 0-29 1 53 0 70 0-45 0-19 0-120 0 272 0-209 0 74 1 50 0-40 0 42 0-198 0 91 0 12 0-42 1-14 0 155 0-136 0 150 1-12 0-79 0-65 0 51 1-8 0 5 0-8 0 53 0-22 0 15 0 2 0 80 1 51 0-127 0-6 0-5 0 71 0-16 0-38 1-16 0 47 0 30 0-94 0 56 1-145 0 74 0 75 0-133 0 4 0 114 0-144 0 107 0 155 0-112 0 91 0-13 0-149 1 36 0 37 0 47 0 21 0-43 1-28 0-90 0 136 0-105 0 100 1 22 0-178 0 221 0-141 0 81 0-9 1 58 0-43 0 29 0-51 0-103 0 38 0 56 0 16 0-51 0-54 0-34 0 84 1-135 0 122 0-23 0 69 0 7 0-37 1-134 0 83 0 3 0 78 0-78 0 24 0-54 0 34 0 172 1-86 0-25 0-79 0-23 0 139 0-64 0 37 0-18 0-11 0-161 1 209 0 52 1-104 0-15 0 24 0-29 1-96 0 89 0 21 0 65 1-124 0 40 0 21 0 27 0 88 0-78 0 1 0-112 0 169 0-200 0 184 1-29 0-46 0-69 0 95 0-60 0 109 0-32 1-44 0-161 0 160 1-24 0 68 0-117 0 9 0-69 0 101 0 36 1-25 0-43 0 44 0 46 1-16 0-132 1 85 0-23 0 69 0 18 0-17 0-79 0 91 1-17 0-42 1 45 0-30 0-28 0 97 0-147 1 196 0-93 0-38 0 47 0-77 0 30 0 135 1-86 0-36 0 0 0 60 0 0 0-70 0 85 0-68 1-1 0 44 0-83 0-46 0 78 0 57 0-65 0 65 1 18 0-87 1 19 0-8 0 43 0-9 0-17 0 64 0-53 0-6 1-55 0 44 0 67 0-34 0-32 0-11 0-45 0 11 1 93 0-53 0 3 0 63 0-90 0-4 0 101 0-42 0-117 1 83 0-41 0 14 1 14 0-74 0 48 0 132 1-106 0-14 0 75 0-121 0 58 1 77 0-66 0 17 0-29 1 29 0 18 0-44 0 14 0 7 0-110 1 143 0 46 0-52 0-30 0-30 0 37 0 80 1-24 0-110 0 112 0-112 0 2 0 26 0 38 0-43 1 61 0-34 0 63 0-148 0 75 0 27 0 43 0-181 1 93 0-88 0 121 0-50 0 44 0 34 0-7 0-54 1 41 0-105 0 50 0 52 0-53 0 66 0-82 1 70 0-104 0 83 0 115 0-181 0 27 0 75 0-100 1-62 0 33 1 92 0 44 0-50 0-1 0 50 0-56 0 69 0 7 1-90 0 79 0-29 0-41 0 5 1 54 0-115 0-18 0 136 0 40 0-84 0 38 0-133 1 15 0 38 0 10 0 25 0-32 0 21 0-7 0 40 0 23 0-10 1 26 0-79 0-14 0-71 0 10 0 124 0-17 1-23 0-18 0-46 0-48 0 80 1 16 0-117 0 195 0-100 0 55 1 44 0 10 0-91 0 64 0-4 0-43 0 13 1-60 0 57 0-46 0 22 0 15 0 42 1-59 0-2 0-8 0 1 0-1 1 44 0-99 0 78 0-63 0 32 0 65 0 49 0-78 1 22 0-22 0-31 0 26 0 45 0-39 0-30 1-5 0 48 0-41 0 63 0-118 1 109 0-80 0 37 0 111 0-54 0-79 0 7 0 64 0 2 0-49 1 39 0-59 0 43 1 33 0-80 0 55 0-39 0-5 0-31 0 83 0 4 1 21 0-28 0-13 0-48 0 28 1 19 0-147 0 67 0 50 0 50 0 29 1 16 0-125 0 42 1-30 0-15 0 23 0 24 0 35 0-116 1 68 0-44 0 122 0 15 0-110 1-13 0 68 0 17 0-99 0 28 0 36 0-68 1 130 0-74 0 1 0-63 0 122 0-131 0 32 1 6 0 24 0-67 0 33 0 71 1-33 0 8 0 45 0-28 0 29 0-51 0-47 0 132 1-174 0 17 0 11 0 183 0-119 0 52 0-138 0 24 1 74 0-40 0 30 0 25 0-26 0-1 1 6 0-22 0 27 0 35 0-100 0 63 1 32 0-57 0 5 0 102 0-39 0 62 0-23 0-115 1-20 0 22 0 60 0-65 0 22 0 60 0-60 0 14 0-29 0-75 0 136 0-64 1 39 0-23 0 99 0-77 0-2 1-29 0-37 0 63 1 34 0-55 0-111 0 71 0 139 0-128 0 38 0-107 0 67 0-14 0 84 0-8 1-5 0 24 0-77 0 111 0-99 1 58 0 60 0-134 1 45 0-25 0 12 0 8 0-19 0 5 1 34 0-103 0 29 0 12 1-44 0 86 0-41 1-21 0-26 0 24 0 66 0-86 0 110 1-16 0-17 1-99 0 46 0 90 0-71 0-20 0 2 0 55 0-111 1 142 1-41 0-63 0 82 0 7 0-100 0 77 1 59 0-134 0-12 0 68 0 8 0-43 1-2 0 117 1-124 0-35 0 60 0 86 0-30 0-37 0-63 1 60 0-73 0 108 0 22 0-132 0 59 1-8 0 115 0-102 1 11 0-21 0 133 0-51 0-153 0 66 1-50 0 49 0 7 0-3 0 98 1-133 0 45 1 42 0-47 0-6 0 123 0-58 1-82 0 55 0-59 0 68 1-95 0 113 0-23 0-1 1-18 0 11 0-55 0 47 0 27 0-9 0-69 0 76 0-89 0 23 0-6 1 12 0 24 0 40 0 20 0-31 0-60 0 74 0 12 0-88 1-22 0 52 0 105 0-113 0 7 0 44 0-95 1 4 0 48 0 49 0-58 0-17 0-52 0 164 1-144 0 129 0-102 0 94 0 28 0-130 0 73 0 7 1 26 0-79 0 78 0-57 0-56 0 101 1 13 0-64 0-6 1 45 0 46 0-148 1 116 0 49 0-147 0 73 1-26 0 15 0 45 0-143 0 54 0-44 1 54 0 110 0-147 0 29 0-7 0 51 0-37 1-23 0 0 0 31 0-54 1-59 0 179 0-52 0-37 0 22 0 45 0-80 1 45 0-29 0 89 0-184 1 51 0 141 0-130 0 20 0-22 0-56 0 113 0 39 0-19 0-78 1 35 0 110 0-92 0-38 0 92 0-60 0-79 0 51 0 89 1-55 0 4 0 37 0-72 0-36 0 74 1-31 0 31 0-36 0-1 0-33 0 85 0 83 1-159 0 120 0-24 0-67 0-19 0 79 0-45 1 3 0-9 0 120 0-178 0 103 0 74 0-87 1 99 0-108 0 9 0 31 0-76 0 38 0 27 0-62 1 57 0 31 0-114 0 53 0 26 0-56 0 87 0 11 1-90 0 41 0-44 0 25 0 30 1-31 0 16 0-31 1 82 0-13 0-78 0 59 1-35 0-16 0 93 0-107 0 27 0 51 0-150 0 179 0-36 0 9 1-32 0 39 0 7 0-20 0-50 0 6 0 10 0-13 1-31 0-22 0 59 0-41 0 28 1-46 0-5 1 48 0 9 0 121 1-113 0 56 0-27 0-10 0-30 1 47 0-6 1-97 0 104 0-44 0-70 0 41 0 75 0 11 1-53 0 68 1-22 0-118 0 23 1 73 0-63 0 14 0 46 0-29 0-21 0-36 0 174 1-173 0 48 0 77 0-60 1-43 0-10 0 116 0-19 1-138 0 29 0 102 0 50 1-110 0 76 0-129 0-4 0 21 1 89 0-15 0 26 0-126 0 174 0-105 0-6 1 40 0-105 0 90 0-41 0 121 0-67 0 52 1-104 0 2 0 46 0-4 0-51 0 74 0 33 0-77 1-8 0 0 0 53 0-34 0 29 0 34 0-72 1 1 0-1 0 91 0-82 1 9 0-18 0 61 0-25 0-80 0 107 0-27 0 40 1-34 0-30 0-48 0 101 0 13 0-108 1 42 0 27 0-31 0 27 0-39 1-14 0 95 0-149 0 119 0-72 0 41 0-35 0 41 0-39 0 45 0-86 1 18 0 48 0 38 0-74 0 142 0-119 0 59 0-132 0 42 0-1 1-8 0-21 0 58 0-21 0 126 0-86 0 17 0-120 0 182 0 3 1-135 0 2 0 15 0 111 0-140 0 16 0-29 0 95 0 29 0-92 1 107 0-50 0-51 0 72 0 36 0 0 0-38 0 41 0-67 0 16 0 75 1-97 0-35 0-21 0 35 1-69 0 47 1-11 0 49 0-61 0 64 0 5 0 41 0 12 1 27 0-93 0-58 0 110 0-18 0-43 0 64 0 58 0-81 0-41 1 32 0-58 0 148 0-163 0 10 0 103 1-62 0-53 0 110 0 11 0-142 0 116 1 17 0 44 0-70 0 14 0-33 0 30 1 52 0-52 0-68 0 28 0 103 0-164 0 33 1-3 0 100 0-112 0 24 0 18 0 31 1 3 0-90 0 0 0-15 0 131 0-71 0 22 0-10 0-75 0-9 1 26 0 157 0-120 0 46 0-77 1 19 0 39 0-85 0 56 0 41 0 35 1-68 0 51 0-18 0-3 0-32 1 41 0 38 0-57 0-16 0-63 0 116 0-2 1-106 0 129 0-136 0 142 0-44 0-41 0-10 0 43 1-28 0-65 0 141 0-131 1 69 0-16 0 104 0-157 0 129 0-27 0-81 0-15 1 38 0-19 0 66 0 18 0 25 0-92 0 65 0-39 0 38 0-29 1 3 0-16 1 44 0-21 0-57 0-58 0 162 0-12 0-45 0 66 0-64 1-3 0-16 0 89 0 29 0-106 0-22 1 90 0-9 0-13 0-111 0 93 0-6 1-25 0 40 0-32 0 29 0-22 0-14 0 107 0-94 0 36 1 17 0-102 0 42 0-37 1 38 0-54 0 112 0-48 0-67 0 93 1-80 0-24 0 102 0-20 0-43 0 80 0-15 1-15 1 48 0-40 0 54 0-51 0 0 0-10 0-28 0 127 0-140 0 25 1-17 0-78 0 136 0 74 1-11 0-109 0-37 0 19 0 61 0-52 0 68 0-29 1-87 0 5 0 115 0 1 1-48 0 84 0-88 0-13 0 14 0 35 0-165 0 141 1 0 0-57 0-1 0 122 0-99 1 10 0 72 0-126 1 219 0-191 1 6 0-48 0 49 0-21 0 29 1-38 0-76 0 210 0-25 0-6 1-8 0 3 0-76 0 87 0-81 1-36 0 189 0-142 0 26 0-62 1 43 0 42 1-10 0-88 0 113 0-88 0-45 0 140 0-33 1-32 0-31 0 87 0-59 1-25 0 71 0-16 0-84 1 137 0-163 0 48 0 65 0-26 0 49 0-12 1-163 0 204 0-101 0 28 0-43 1-17 0 94 0-9 0-13 0-49 0 121 0-65 0 11 1-27 0 11 0 47 0-6 0 3 0-54 0 1 0-70 0 52 0-20 1-15 0 45 0 3 0-42 0-53 0 77 0 14 0 16 0-64 1-23 0-28 0 96 0-30 1 62 0-107 0 145 0-80 0-2 0 19 0 30 0 5 0-140 0 67 1 54 0 7 0-19 0-58 0 68 0-32 0 10 0 64 0-70 0 29 1 53 0-24 0-118 0 10 0-49 0 159 0-64 0-19 0 24 0-57 0 90 0-75 1 93 0-34 0-17 0 32 1-42 0 11 1 64 0 24 0-58 0 43 0-153 1 88 0-8 0-23 0 51 0 71 0-71 0 31 0 13 0-3 1-64 0-35 0 90 0-14 0-68 0 106 0-125 0-20 1 59 0-64 0 59 0 5 0-26 0 32 1-67 0-51 0 155 0 6 0-4 0-64 0 44 0-40 1 77 0-120 0 74 1-38 0 59 0-32 0-93 0 73 0-33 1 72 0 19 0-103 0 82 0-72 1 25 0 32 0 53 1-37 0 9 0-57 0 17 0 38 0-23 0 0 0 12 1 62 0-14 0 2 0-51 1-58 0-21 0 66 0-57 0-47 0 81 0 126 1-110 0 7 0-11 0 11 0-74 0 79 1 26 0-27 0 2 0-13 0 34 1-92 0-42 0 73 0 23 0 32 0-68 0 46 0-11 0 38 1-59 0 53 0 6 0-51 0 6 0-15 0-12 0 3 0-22 1 88 0-15 0-26 0 11 1-4 0 72 0-31 0-60 0 50 0-114 0 56 0-14 0 54 0-43 1-12 0 2 0-34 0 5 0 17 0 65 1-5 0 24 0 45 0-38 0-133 0 58 1 104 0-67 0 11 1-9 0-78 0 88 0-28 1-42 0 67 0 65 0-93 0-54 0 57 1-39 0-74 0 94 0 42 1-66 0 42 0-2 0-16 0 2 0 4 0 2 1 7 0 31 0-49 1-17 0 64 0-57 0 137 0-117 1 109 0-85 0 3 1 28 0-23 0-27 0-10 0-29 0-1 0 87 0-159 1 201 0-38 0-61 0 100 0 7 0-37 0-173 0 20 0 129 0-90 0 78 0-40 1 39 0-35 0 16 0-83 0 80 0-41 0 94 0-84 1 54 0 7 0-36 0-34 0 47 0-13 0 44 0-83 0-12 0 91 0-22 0 46 1 8 0-157 0 103 0-5 0-4 0 42 0 49 0-104 1 2 0 38 0 5 0-43 0 48 0 25 0-93 0 88 0-100 1 100 0-106 0 2 0-26 0 52 1 12 0-5 0-11 0 6 0-13 0 6 0 25 0-34 0 35 0-61 2-13 0 102 0-76 0 43 0-54 1-24 0 6 0 24 0 106 0-98 0 46 0-31 1 24 0-64 0 112 0-43 0-33 0 62 0-115 0 40 1 52 0 60 0-101 0 113 0-31 0-101 0 68 1 31 0-103 0 120 0-149 0 144 0-12 0 26 1-40 0-28 0-92 0 165 0-55 0 10 0-70 1-81 0 133 0-68 0 42 0 29 0-91 0 86 0-60 0 10 0 65 0-109 0 43 0 17 1 61 0-54 0 37 0-87 1-20 0 66 0 84 0-51 0-47 0-10 0 97 1-35 0-102 0-26 0 191 1-87 0-7 0 17 0-22 0-3 1 3 0-95 1 81 0-7 0 76 1-5 0-67 0 12 0 11 0 92 1-44 0-86 0 104 0-117 0 102 0-51 0-63 0 36 0 13 0 62 0 11 1-150 0 62 0 77 0-29 0 1 1 6 0 5 0 27 0-84 1-91 0 134 0-55 0-51 0 85 1-41 0 34 0-98 0 127 1-29 0 12 0-46 0-4 0 87 0-16 0-44 0-46 1 84 0-50 0 66 0-76 0 43 0 9 0-45 0 53 1-93 0 131 0-85 0-1 1 12 1-9 0-17 0 44 0-40 0 15 0 23 0-18 0-29 1 78 0 56 0-124 0 71 0-77 0 21 0-39 1 24 0-9 0 32 0-11 0 122 1-148 0 72 0 10 0-126 0 3 1 125 0-99 0 41 1-39 0 2 0 40 1 67 0 45 0-130 0 102 0-71 0-12 0 1 0-1 0-62 1 70 0-51 0 72 0 115 0-196 0 145 0-136 1 38 0 67 0-26 0 34 0 7 0-79 0-12 0 56 1-6 0 59 0-188 1 154 0-26 0-38 0-26 0 1 0 1 0 117 0-78 1-14 0 15 0 25 0 9 1-37 0-10 1-28 0 36 0-5 1-24 0 15 0 77 0-23 0-25 0 45 0-53 0 51 0-57 1 71 0-44 0-42 0-43 1 65 0 0 0-60 1 42 0-18 0 42 0-76 0 62 1 94 0-46 0-49 0 76 0-93 0 59 1-26 0-36 0 46 0 91 0-158 0-1 1 126 0-114 0 26 0-17 0-14 0 60 1-73 0-1 0 38 0 39 0 43 1-71 0 46 0 22 0-44 0 18 0-51 1-69 0 117 0-94 0 83 0-68 0-17 1 52 0-56 0 66 0-13 0-2 1 86 0-35 0-51 0 52 0-21 1-35 0-50 0 30 1 132 0-93 0 25 0 56 0-119 0 89 0-179 0 75 0-56 0 106 1 1 0-37 0 5 0 54 1-2 0 6 0-70 0 5 0 49 0-26 0 8 0-6 0-71 0 103 0-7 1 16 0 8 0 55 0-109 0 29 0 57 0-85 0 75 0-80 1 2 0-31 0 46 0 109 1-11 0-86 0 21 0 31 0-109 0 33 1 11 0-83 0 53 0 8 0 15 0 6 0-102 0 134 0-46 0 47 0 7 0-39 0 98 0-173 0 82 1 6 0 67 0-75 0 32 0-18 0 93 1-118 0-27 0 20 1 46 0 50 0-188 0 53 0 135 0-91 1-16 0 14 0-21 0-9 0 58 0-43 0 126 0-213 1 154 0-63 0 122 0-137 0 77 1 59 0-55 0-62 0 24 0 19 0 67 0-69 0 25 0-90 0 61 1 63 0-80 0-11 0 6 0 81 0-34 1-5 0-60 0-55 0 151 1-80 0 70 0-18 0-60 0-28 0 111 0-166 0-12 1 214 0-131 0 55 0 49 0 57 0-171 0 46 1 60 0-50 0-44 0 97 0-148 0 151 1-58 0 3 0-39 0 25 0 74 0-45 0 49 0-30 1-55 0 7 0 19 1-28 0 105 0-145 0 164 0-138 0-11 1 49 0-72 0 168 0-2 0-11 0 19 0-30 0-176 0 143 1-79 0 89 0-64 0-10 0-27 0 85 1 29 0-124 0 82 0 4 0-31 1-6 0 78 0 8 0-33 0-2 0 3 1-76 0 29 1 5 0-54 0 96 0 61 0 8 0-126 0-14 0-18 1 82 0-42 0 69 0-126 0 70 0-42 0 47 0-26 0-90 1 147 0-43 0 6 0-14 1-47 0 53 0 40 1 48 0-79 0-40 0 92 0-75 0-1 0 11 1 34 0-98 0 71 0-9 0-21 0 113 0-174 1 82 0 12 0 1 0 67 0-189 0 93 1-29 0-29 0 43 0 53 1-37 0 116 0-181 0 97 0-2 1-9 0 27 0-46 1 38 0-38 0-13 0-22 1 25 0 59 0-62 0 61 0-46 1 9 0 66 0-125 0 55 0 50 0-16 0-10 0 52 0-93 1 29 0 82 0-147 0 86 0 3 0-14 0 6 0-64 0 50 0-13 0 24 1-10 0 84 0-42 0 56 0-56 0-28 0 15 0 29 1-106 0-34 0 3 0 109 0-55 1 2 0 20 0 34 0-59 0-21 0 16 1 62 0-47 0 39 0 20 1-63 0-28 0-20 1 34 0-25 0 60 0-74 0 72 0-29 0 59 1-93 0 59 0 30 0-113 0 95 0-44 0-19 0-29 1 77 0-33 0 11 0 55 0-56 0 63 0 68 1-115 0-17 0 14 0 50 0 76 0-161 1 155 0-100 0-19 0-4 0-3 0-96 0 122 0-51 0 50 0-38 0-21 1-45 0 158 0-73 1 21 0 59 0-51 0-13 0-126 0 170 0-13 0-99 1-20 0 94 0-27 0 80 0-137 1 62 0 35 0-10 0-84 1-9 0 47 0 129 0-146 0 18 0 65 0-20 0 45 1-102 0 1 0 74 0-52 0 10 0-50 0 12 0 0 1 7 0-4 0 19 0-1 1 70 0 34 0-104 0 94 0-53 0-135 0 124 1-85 0 125 0-80 0 104 0-7 0-95 0-24 0 101 0-96 0 39 0 53 1-55 0 41 0 61 0-79 0 18 0-64 0 63 0-26 1-7 0 26 0-25 0-32 0 0 0 33 0-48 0-24 0 81 0-14 1 29 0-55 0 20 0-39 0 26 1 61 0 44 0-100 0 37 0-59 0-36 0 44 1 16 0-4 0-24 0 48 0 48 1-84 0 47 1 8 0 21 0-17 0 17 0-46 1-67 0 9 0 32 0-27 0 11 0 28 0 8 0-19 0 38 1 79 0-145 0 21 0-31 1 114 0-12 0-110 0 90 0-94 0 89 1-19 0 3 0-92 0 98 0 0 1 56 0-60 0-8 1-33 0 62 0 14 0-3 0 7 0-53 0-63 0 75 1 69 0-10 2-98 0 140 0-35 1-28 0-93 0 85 0 14 0 65 0-136 0 8 0 76 1-2 0-14 0-72 0-6 0 46 0 11 0 23 0-85 0-44 1 138 0-61 0-3 0 57 1-125 0 74 0-17 0 42 0-26 0 37 1-103 0 45 0-23 0 102 0 10 1-62 0 32 0-48 0-22 0 106 0-78 0 77 1 55 0-188 0 92 0-48 1 39 0-144 0 154 0-77 0 61 0 8 0 21 0-44 0 16 0-32 1-66 0 48 0 7 0 8 0 26 0 4 0 45 0 49 0-161 0 63 0 15 0-36 1 49 0-157 0 157 0-47 0-90 0 87 0 117 0-109 0 116 0 9 1-103 0-32 0 53 0 41 0 18 1-77 0-65 0 128 0-179 0 85 0 15 0 23 0-59 0 40 1 40 0-47 0-47 0 86 0-33 0-61 1 14 0 137 0-109 0 38 0-54 0 17 0 5 0-24 1 65 0 16 0-14 1-65 0-12 0-72 1 158 0-72 0-47 0 3 1 100 0-56 0 52 0-30 0 38 0-34 0 23 1 32 0-134 0 141 0-69 0-47 0 13 1-16 0 60 0 7 0-92 0-26 1 155 0-45 0-85 0 116 0 9 0-36 0 2 0-52 0 41 1 21 0-76 0 139 0-120 0 48 0-66 0-35 0 47 1 130 0-105 0-99 0 150 1 7 0-101 0 46 0-6 0-38 1 42 0-83 0 96 0 31 1-92 0 76 0 4 0-10 0 44 0-73 1-38 0 77 0-13 0-134 0 111 1-42 0 19 0 23 0 71 0-55 0-55 1 5 0 38 0 10 1 2 0-71 0 19 0 76 0-65 0 26 0-90 0-1 1 115 0-85 0 89 0-62 0 39 0 44 0-99 1 0 0 96 0-57 0-8 0 52 0-94 0 47 1-61 0-4 0 99 0 27 0-51 1-83 0 66 0 22 0-18 1 59 0-99 0 57 0-33 0 13 0-13 0 41 0-85 0 45 1 32 0 26 0 10 0-45 1 47 0 7 0-69 0 103 0-22 0-90 1 7 0-17 0 17 0 23 0-4 0-33 0 44 0 35 0-15 1-13 0-49 0 2 0 96 0-80 0-39 0 82 1 36 0-156 0 156 0-130 1 90 0-39 0-34 0-17 0-4 0-12 1 43 0 68 0-63 1 108 0-108 1-23 0 33 0 82 0-118 0 36 0 50 0-75 1 50 0-34 0-1 0 3 0-6 0 50 0-115 0 14 0 39 1-52 0 28 0-13 0 54 0-78 0 69 0-18 1 82 0-129 0-3 0 3 0 22 0 11 0 73 1-70 0 30 0 3 0 33 1-96 0 28 0 39 0 68 0-100 0-4 0 73 0-32 0-4 1 89 0-125 0 73 0 56 0-115 0 134 0-76 0-19 0 55 1-61 0-133 0 135 0-21 0-63 1 106 0-62 0-16 1 150 0-51 0 19 1 12 0-151 0 155 0-143 0 0 0 68 0-34 1 101 0-102 0 50 0-33 1-36 0 24 0-8 0 30 0-16 0 49 0-55 0 28 1 66 0-56 0-34 0 17 0 10 0 14 0 27 1-19 0-39 0-8 0-10 0 20 1-75 0 15 0 4 0 126 0-57 0 38 1-62 0 28 0-57 0-55 0 83 0-12 0-6 1-38 0 97 0 9 0-12 0 27 0-94 0 70 1-33 0-20 0 24 0-47 0 30 0 15 0-86 1 160 0-26 0-8 0 45 0-52 0-3 1 51 0-105 0-42 0 112 0-58 0 62 0-18 1-67 0 31 0-50 0 56 0-11 0 48 1 52 0-79 0-27 0 19 0-10 1-18 0 34 0-67 1 14 0 53 0 34 0-21 0-39 0 68 0-39 0 69 1-60 0-25 0-59 0 121 0-14 0 19 1-94 0-27 0 120 0-67 0-120 0 152 0-95 0 131 1-15 0-150 0 113 1-18 0 31 0-90 0-11 0 114 0-141 0 92 1 26 0 15 0-20 0 96 0-53 0-66 0 2 0-29 1 48 0 94 0-69 0-38 0-54 0-64 0 119 0-33 0 56 1-71 0 92 0-45 0-18 0 46 1-37 0 24 0-34 0 61 0-106 1 78 0 33 0 15 0-14 0 40 0-52 0 115 1-151 0-71 0-8 0 15 1 94 0-82 0 12 0 107 0-122 0 92 0 39 0 16 0-45 1-78 0 22 0 120 0 8 1-97 0 67 0-6 0-56 0 72 0-99 0 78 0 1 0-39 0-21 1 112 0-123 0-5 0-27 0 63 0 4 1-33 0 108 0-55 0 27 0-110 0 61 0 107 0-26 0-34 0 40 1-23 0-23 0 10 0 6 1-51 0 130 0 41 0-136 0-10 0 148 0-117 0 10 0-6 1-23 0-26 0 71 0-142 0 164 0 30 1-110 0-10 0 156 0-140 0-25 0 101 0-137 1-67 0 143 0-35 0-17 0 3 0 8 0 22 0-138 1 218 0-79 0-3 0 5 0 83 0-36 0 143 1-323 0 222 0 12 0-135 0 106 0-49 0-1 0 9 1 31 0-58 0-24 0 128 1-74 0 63 0 58 0-224 0 34 0 14 0 45 1 134 0-93 0 48 0 60 0-292 1 122 0-24 0 83 0-110 0 200 0-161 0-20 0-21 1-21 0 95 0-42 0 68 0-60 1 70 0-19 0 65 0-27 1-94 0 130 0-133 0-25 0 131 0-157 1 42 0-62 0 2 0 129 1-89 0 187 0-17 0-79 0-73 1 46 0-17 0 96 1-213 0 122 0 17 0 22 0 21 0-77 0 71 0-126 0 161 0-53 1-35 0 86 0-127 0-68 1 151 0-29 0-30 0-23 0 78 1 27 0-122 0-33 0 141 0-120 1 158 0 10 0-134 0 194 0-173 0 12 0-2 1 36 0 26 0-33 0-69 0 24 0-81 1 35 0 78 0-11 0-38 0 52 0-64 1 46 0 6 0 60 0 1 0-131 2 39 0-87 0 239 0-263 0 131 0-95 1 102 0 11 0 25 0-78 0 84 1-90 0-16 0 9 0 2 1 155 0-50 0-16 0-168 0 122 1 46 0-152 0 173 1-130 0 67 0 17 0-23 0 6 0 31 0 43 0 23 1-12 0-77 0-134 0 56 0 39 0 69 0 33 0-96 0-18 1 46 0 6 0 29 1 3 0-59 0-137 1 122 0 108 1-96 0 75 0 6 0-51 0 107 1-189 0 83 0 5 1-71 1 6 0 70 0-25 0-45 0 24 0 43 0-48 0-29 0 61 1-29 0 14 0-71 0 61 0-18 0-58 0 160 0-75 1 5 0 33 0 28 0-20 0-91 0 48 0-44 0 20 0 32 0 43 0-120 0 97 0-21 1-75 0 0 0 48 0 69 0-66 0 22 0 27 1-44 0-3 0 65 0-7 0 70 0-113 0-108 0 17 1 101 0-79 0-23 0 133 0-143 0-1 0 93 1 52 0-21 0-100 0 97 1-91 0 66 0-16 0-64 0 83 0-27 0 28 1 15 0 34 0-27 0 62 1-135 0 75 0-16 0-41 0 36 0-22 0 29 1-44 0 13 0-42 0 17 0 31 0 5 0 4 0 25 0-83 1-1 0-46 1 147 0 32 0-79 0 13 0-70 1 44 0 65 0-55 0-88 0 85 1-15 0 44 0 39 0-81 0 23 0 24 0-94 0 32 1-73 0 95 1 24 0-19 0 5 0-62 0-5 1 107 0-32 0-52 0 49 0-70 0-11 0 67 1-22 0 19 0 103 1-99 0-13 0 95 0-143 0 32 0-17 1 18 0 120 0-213 0 161 0-131 0-14 0 72 1 3 0-11 0-41 0 90 0-99 0 97 0-29 0-70 0 80 0-8 1-84 0 78 0 49 0-2 0-14 1-64 0 23 0-39 0 104 0-97 0-17 0 25 0 115 0-168 0 127 0-7 0-66 0 38 0-86 1 95 0 4 1-64 0 47 0-8 0 27 0 6 0 19 0-60 1 35 0 16 0 39 0-80 0-29 0-10 1 28 0-83 0 32 0 88 0 69 1-34 0-101 0 93 0-44 0-45 0 94 0-21 1-2 0-16 0 20 0-65 0 0 0-16 0 76 0-22 0 26 1-68 0 2 0 14 0 1 0-13 1 84 0-64 0-141 0 100 0 43 1-5 0-5 0-16 0 88 1-118 0 78 0 9 0 1 1 60 0-156 1 12 0 52 0 7 0 2 0-63 0 15 0 99 0-45 1 0 0 8 0 49 0-98 0 23 0-96 0 62 1 34 0 16 0-69 0-32 1 26 0-64 0 52 0 47 1 30 0 50 0-65 0-47 1 49 0-30 0 72 0 1 0-138 0 70 1 118 0-43 0-72 0-83 0 128 0-15 0-27 0 48 1-27 0 15 0-42 0 4 0 28 0-36 0-44 0-3 1 77 0-56 0-3 0 10 0 69 1-142 0-19 0 135 0-20 0 86 0-91 0-60 1 89 0 2 1 1 0 1 0 92 0-129 0 38 1-22 0-86 1 26 0 15 0 30 0-47 0 136 0-78 0-46 0 13 0 40 1-35 0-24 0-8 0 62 1 92 0-91 0-20 0 22 0-45 0 159 0-107 0-99 1 103 0-76 0 104 0-42 0 62 1-114 0 71 0 65 0-100 1-42 0 35 0 30 0-31 1 42 0 37 0-105 0-38 0 34 0-37 0 43 0 27 1-77 0 92 0-6 0-82 0 60 1-64 0 116 0-47 0 39 0 48 0-39 0-35 0 15 0-40 0 22 1 92 0-120 0 24 0 17 0 6 0 20 0-98 0 34 0 21 0 19 0 17 0-11 0-18 1-51 0-12 1-3 0 102 0 37 0-123 0-28 0 52 1 29 0-39 0 15 0 45 1-16 0-41 0-42 0 57 0 61 0-139 0 161 0-68 0 67 0-108 0-7 0-28 1 79 0-6 0-16 0 14 0 18 0-62 0 86 1-127 0 55 0 40 0-30 1 20 0-86 0 62 0 12 1-68 0 98 0-90 0 20 0-23 0 73 0-48 0 68 0 12 0-59 0 44 1 60 0-169 0-3 0 172 1-131 0-13 0 99 0-157 1 157 0-50 0 12 0 37 0-72 0 14 1 22 0-92 0 71 0 27 0-12 0 6 1-7 0-97 0 53 0-53 1 111 0 32 0-40 0-107 0 81 1 57 0-16 0 15 0 3 0-94 0 65 0 3 1-65 0 21 0 23 0 101 0-44 0-50 1 1 0-81 0 80 0 48 0-70 1 46 0 42 0-84 0-61 0 71 0-2 1 140 0-138 0-1 0 55 0-87 0 20 0 9 1-1 0 27 0-11 1-124 0 170 0-78 1 57 0-30 0 25 0 36 0-75 1-13 0 41 0-24 0 93 0-99 0-18 0 127 0-132 1 72 0-68 0 62 0 46 0-10 0-88 0 47 0 32 1-53 0 86 0-15 0 8 0-84 0 19 0-80 0 16 0 73 1-65 0 37 0-55 0 18 0-25 0 75 1-52 0 43 0 23 0-47 0 18 0 113 0-87 0 52 1-5 0-31 0-17 0-107 0 105 0-74 0-18 0 63 0 60 1-27 0 7 0 2 0 0 0-92 0-2 0 59 0 47 1-54 0-35 0 10 0 3 0-9 0-22 0 134 0-70 0-92 0 91 0 17 0 16 0-93 1-42 0 207 0-180 0-6 0 80 0 46 0-6 1-91 0 42 0-38 0 36 0-34 0 159 0-66 1-69 0 2 0 76 0-104 0 21 1-10 0 24 0 84 0-117 0-30 0 5 0 25 0-38 0 7 0 20 0 67 0-12 0-31 0 36 0-16 1-8 0-39 0 84 0-41 0-10 0-8 0 26 0-12 1-58 0 31 0-30 1 6 0-13 0 194 1-218 0 83 0 43 0-47 0 3 0-46 0 15 0 0 1-23 0 51 0 39 0 14 0 41 0-57 0 0 0-20 0-65 0-17 1 86 0 29 0 5 0-46 0 66 1-65 0-23 0 12 0 12 0 27 0-93 0 8 0 112 0-77 1 77 0-27 0-17 0 45 0-68 0 40 0 8 0 12 0-101 1 46 0 78 0-40 0 33 0 8 0-107 0 29 0 74 1-46 0-72 0 67 0-2 0-47 0 7 0 66 1-12 0-91 0 9 0 31 1 15 0-5 0-38 0 58 0-118 0 59 0 43 1-1 0-6 0 23 0-9 0-25 0 97 0-86 0 82 1-161 0 129 0-109 0-22 0 36 0 107 0-84 0 21 1-47 0 28 0 46 0-55 1 79 0-84 0 131 0-96 0-66 0 104 0-25 1-88 0 174 0-120 0 51 0-81 0 17 0-2 1 60 0-144 0 176 0-100 0 117 0-11 1-119 0-10 0 130 0-126 0 64 0 22 0 21 0-42 0-43 1 83 0-19 0 32 0-109 1 131 0-52 0-43 0 47 1-36 0-89 0 60 0 50 0-3 0-3 0-50 0-14 1 30 0 31 0-15 0 23 0-52 0 4 1-1 0 16 0-16 0 28 0-21 0 91 0-104 0-12 0 70 0 62 0-92 0-53 1 100 0-93 0 51 0-11 0-47 0 101 1-24 0-25 0 21 0-74 0 45 0 31 0 19 1-129 0 117 0-77 0-54 1 148 0 15 0-108 0 93 0-37 1 37 0 56 0-33 0-55 0-67 0 22 1 21 0-15 0 50 1 12 0 63 0-35 0-124 0 192 0-127 0-21 0-69 0 98 0 110 1-117 0 28 0-6 0 32 0-91 1-3 0 74 0 16 0-83 0 55 1 30 0-32 0-40 0 129 0-33 0-42 1-40 0-57 0 42 0 25 0-52 0 103 0-117 1 148 0-105 0-19 0 25 0 41 0 27 1-109 0 89 0-56 0-46 0 9 0 121 0-131 0 37 1 34 0 75 0-186 0 117 0 0 0-94 1 63 0 6 0 45 0-45 0-11 0 38 0 45 1-123 0 70 0-14 0 9 0 50 1-78 0-46 1 65 0-55 0 150 0-13 0-127 0 56 0-84 0 74 0-15 0 122 0-72 1-14 0 46 0-78 0 56 0-71 0 5 1 130 0-124 0 56 0-71 0 87 0-88 1 48 0-78 0 126 0-95 0-36 0 66 0-86 0 131 0-103 1-3 0 69 0-10 1 15 0-22 0 110 0-155 0 25 0 22 1 41 0 49 0-75 0 40 0-21 0-40 0-15 0 106 0-73 1 14 0 23 0 29 0-100 1 27 0-41 0 37 0 121 0-101 0-12 0-39 0 30 0 31 1 44 0-48 0-8 0-64 0 24 1 33 0-98 0 70 0 29 0 81 0-173 1 19 0 112 0-168 0 242 1-105 0 36 0-16 1-119 0 119 0-81 0 38 0 12 0 11 0 29 1-39 0 57 0-43 0-45 0 52 0-46 0 65 1-62 1 2 0 68 0-144 1 118 0-50 0 62 0-4 0-81 1 73 0 60 0-104 0 60 0 85 0-224 0 88 0 107 0-104 1 1 0-46 0 16 1 76 0-5 0 33 0-37 0-82 1-47 0 112 0 63 0-54 1 6 0 63 0-117 0 17 0 59 1-72 0-16 0 16 1 56 0-74 0 22 0 33 0-60 0 16 0 39 0 2 1-53 0 11 0 76 0-71 0 23 0-6 0-27 1 70 0-51 0-75 0 174 0-97 0 20 0 8 1-38 0-34 0 7 0 18 0 66 0-52 0 41 1-145 0 69 0 57 0-64 0 96 0-49 0-4 0-37 0 42 1-67 0 123 0-31 0-32 0-39 0 77 0-65 1 95 0-17 1-72 0 26 0 102 0-59 0 18 0-77 1 66 0-106 0 100 0 16 0-61 0 35 0-43 0 6 0 26 1 10 0-14 0 16 0-76 0-23 0 98 1-147 1 39 0 15 0 109 0-5 0-24 0-25 0-2 1 11 0-66 0 124 0-99 0 6 0 51 0-37 1 53 0 12 0 3 0-42 0-44 0 44 1-56 0-22 0-3 0 134 0-125 0 133 0-64 0-14 0 21 0 81 0-159 1 99 0-49 0-31 0-54 0 59 0 0 1 52 0 45 1-24 0-36 0 105 0-123 0 35 0-20 0 53 0-10 0-26 0 34 1-17 0-51 0 86 0-77 1-7 0 73 0-65 0 28 0 136 0-91 0-74 0-1 0 82 0-34 0-68 1 84 0-121 0 156 0-2 0 21 0-158 1 103 0 73 0-83 0-32 0 80 0-147 0 71 0 29 0-48 0 27 0 47 0-5 0-48 0-61 1-18 0 33 0 21 0-13 1-16 0 47 0 3 0 41 0-104 0 39 0 63 0-70 0 92 0-88 1 46 0 65 1-19 0-52 0 0 0 32 0-62 1-36 0 111 0 7 0-45 0-27 0-48 0 27 0 14 0 32 0 31 1-42 0 18 0-89 0 74 0 55 0-97 0-64 0 135 0 42 0-40 1-64 0 57 0-140 0 112 0-42 0 97 0-110 0 157 0 19 0-24 0-50 0-89 1 23 0 64 1-30 0-53 0 21 0-30 0 62 0-24 0 69 0-29 0-55 0 89 0-189 1 44 0 43 0 57 0 70 0-56 0-26 1-16 0-90 0 60 0 84 1-38 0-47 0 28 0-31 0-64 0 85 0-21 0-31 0 53 0-6 1 24 0-8 0 8 0-21 0-25 0 32 0 4 1 49 0-46 0-37 0 76 0-43 0 43 0 67 0-68 1-104 0 18 0 72 0-109 0 59 1 35 0-36 0-18 0 40 0-16 0-7 1 52 0-59 0 21 0 75 1-19 0-43 0-11 0 23 0-1 0-77 0 26 1 95 0-104 0 131 0-48 0-37 0-22 0 30 1 34 0-17 0 44 0-43 0-57 0 61 0 10 0-43 1-40 0 6 0 67 0-73 0 134 0-52 1-128 0 36 0 58 0-67 0 55 0 53 0-13 0-87 0 93 0 12 0-86 1 67 0-63 0-35 0 126 1-3 0-104 0 42 0 55 0-81 1 48 0-84 0 91 0 29 0-47 0 33 0-25 0 33 0-76 0-1 0-70 1 75 0 7 0-42 0 108 0-65 1 15 0 29 0-71 0 40 0 37 0 17 1 21 0-98 0 73 0-52 0 49 0-53 1 3 0 19 1-49 0 32 0 19 0-111 0 65 0 3 0 74 1-44 0-8 0-36 0 59 0-37 0 64 0-63 0 12 0 32 1-8 0-100 0 87 0-13 0-90 0 32 0 108 1-30 0-41 0 70 1-134 0 156 0-98 0 104 0-95 0-6 0 40 0-27 1 64 0-11 0-58 0 8 0 10 0 86 0-88 0 53 1-53 0-40 0-40 0 93 1 13 0-12 0 52 0-28 0 55 0-60 1-77 0 102 0-110 0 46 0-57 1 111 0 25 0-140 0 23 0 9 0-60 0 89 0-8 0-56 0-45 1 39 0 87 0-90 0 77 1 11 0 24 0-39 0 15 1 62 0-103 1 30 0 63 1-122 0 90 0-41 0-71 1 0 0 71 0 9 0-115 0 209 0 13 0-42 0-74 1 35 0-60 0 8 0-10 1 53 0-41 0 3 0 112 0-106 0 48 0-11 1-42 0 1 0 79 0-84 0 60 1-55 0 3 0 93 0-161 0 51 0 5 1 52 0-56 0 40 0 28 0 65 0-50 1-119 0 157 0-87 0-49 0 61 0-61 0 29 1-26 0 21 0-100 0 189 0-61 1 39 0-23 0-24 0 73 0-2 0-85 0 60 0-59 0-7 0 47 0-19 0-9 1-97 1 59 0 48 0 31 0-2 1-62 0 52 0-87 0 86 0 72 0-106 0-41 0 106 1-60 0 7 0 27 1-45 0 54 0-73 0-3 0 54 1 8 0-11 0 23 0-37 0-31 0 58 1-106 0 81 0 50 0-21 0 31 1-72 0 0 0-12 0-1 0 37 0 40 1-53 0 84 0-57 1-131 0 141 0-59 0 29 0-42 1 10 0 136 0-54 0-73 1-20 0 19 0-12 0 65 0 27 0-141 0 105 1-27 0-10 0 55 0-81 0-4 0 39 0-33 0 11 1 70 0-111 0 134 0 6 0-89 1 51 0-89 0 41 1-9 0-20 0 94 0-31 1 31 0-132 0 75 0-16 0-57 0 136 0-52 1 15 0 59 0-106 0 111 0-179 0 168 0-30 0-103 1-6 0 126 0-90 0 93 0-41 0-14 0-15 0-57 1 4 0 18 0 90 1-148 0 44 0 77 0-28 0-20 0-26 0-39 0 50 0-21 0 33 1-23 0-29 0 147 0-177 0 148 1-63 0-8 0-34 0 14 0 26 1-84 0 157 0-44 1-10 0-1 0 59 0-57 0 39 0-72 0 121 0-122 0-20 1 20 0 80 0 34 0-62 0 89 0-160 0 15 0 13 1 90 0-113 0 47 0-60 1 69 0-53 0 36 0 47 0-66 0 68 0-45 0-29 1 57 0-100 0 150 0-13 0-119 0 49 0-89 0 124 0-13 1-4 0-38 0 24 0-32 0 23 0-23 1 1 0-2 0 9 0-15 0 84 0 29 0-102 0 32 1 62 0-147 0 101 0-106 0 107 0-32 0 6 0-7 1 110 0 13 0-183 0 83 0 2 0-51 0 55 0-17 1 5 0 53 0-103 0 56 0 35 0-74 1 91 0-107 0-41 0 28 0 60 0 48 0-72 0 17 0 1 0 33 0-82 1 44 0-41 0 70 0 20 1-158 0 126 0-21 0 47 0-75 0 39 0-64 0 103 1 76 0-104 0 66 0 1 0-93 0 18 1 4 0 45 0-88 0 72 1-81 0 77 0-35 0-86 0 67 0 45 1-33 0 20 0 102 0-180 0 29 1-3 0 40 0-25 0 13 0-31 0 4 1 136 0 31 0-137 0 13 0-90 0 65 1 58 0-17 0-32 0 104 0-18 0-85 0-43 0 84 1 13 0-88 0 41 0 59 0-36 0-64 0 90 0-88 0 120 1-78 0-96 0 52 0 84 0 52 0-74 0-33 1 132 0-185 0 121 0-132 1-11 0 34 0 97 0-28 0-23 0 31 0-58 1 114 0-72 0 22 0-94 0 63 0-59 1 97 0-118 0 121 0 16 1-25 0 36 0 14 0-93 0-10 0 0 0 24 0-10 1-1 0 99 0-84 2-26 0 98 0-133 0 54 0 31 0 6 0-98 0-6 1 8 0 19 0 103 0-65 1 22 0-61 0 17 0 60 0-15 0-33 0 64 0-80 1 2 0 6 0-8 0 72 0-117 0 97 0-117 0 6 1 89 0 15 0-22 0-98 0 165 0-4 0-99 1 111 0-99 0 33 0-42 0-12 0-26 0 63 1 49 0-53 0 51 1 12 0 34 0-25 1-50 0 11 0-20 0-37 0-18 0 149 0-133 0 75 0 47 0-65 0-40 0 49 1 60 0-129 0 3 0 19 1 65 0 2 0-70 1 32 0 42 0-106 0 53 0 29 0 13 0 0 1-107 0 67 0-25 0 41 1 10 0-28 0 18 0 98 0-17 0-45 0-46 1 100 0-135 0-58 0 80 0-38 0-70 0 62 1 34 0-2 0 41 0 12 0 0 1-89 0 95 1 44 0-93 0 1 0 35 0 7 0-30 1 20 0-69 0-42 0 60 0 9 1 17 0-24 0-20 0 58 0 15 1-39 0-6 0 23 0-31 0 52 0-52 0-71 0 191 0-72 0 26 1-55 0 2 0 11 0 3 1-13 0-37 0 75 0-28 0 97 0-141 0 22 0 16 0-95 0 54 1-57 0 68 0 41 0-1 1 47 0-42 0 40 1-24 0-140 0 120 0-86 1 111 0 32 0 4 0-52 0-16 0-71 0 107 1-26 0-26 0-53 0-2 0 44 0 66 1-43 0-44 0 84 1 15 0-42 0-25 0 26 0-21 0 35 1-84 0 117 0-59 0 114 0-223 0 62 1-32 0 77 0 18 0-49 0 38 0 1 1-50 0 38 0-57 1 35 0-7 0-6 0-19 0 71 1-19 0 91 0-196 0 100 1 9 0 24 0-15 0 104 0-155 0-44 0 110 0-71 0 50 1-22 0 118 0-154 1 130 0-58 0-13 0-4 0-57 0 53 0 5 0-25 0-44 0 35 0 15 1 3 0-63 0 79 0 49 0-65 0 80 1-58 0-37 0-28 1-10 0 25 0 26 0-44 0 40 1 101 0-185 0 111 0-6 0 11 0-2 1-17 0-16 0 6 0-34 0 10 0 39 0 0 0 5 0-45 1-24 0 166 0-81 0 20 0-32 0 25 1 13 0 18 0-71 1 30" fill="none" stroke="none" marker-start="url(#mhist)" marker-mid="url(#mhist)" marker-end="url(#mhist)"/><polyline points="69.9,251.3 71.5,251.8 73.3,251.9 74.8,251.6 76.4,252.3 76.9,252.8 78.0,252.7 79.6,253.4 80.5,252.3 81.2,251.8 82.8,252.4 84.1,251.9 86.1,253.2 87.1,253.8 87.7,254.5 89.3,256.9 90.2,257.4 90.9,256.3 92.6,255.0 94.2,253.3 96.2,253.1 97.4,252.6 99.0,251.5 101.0,251.9 102.3,251.9 103.9,251.4 106.0,251.3 107.6,251.9 108.7,251.7 110.4,251.5 111.3,251.3 112.0,251.1 113.6,251.0 114.9,251.9 116.8,253.4 117.9,253.1 118.4,252.8 120.3,251.9 121.7,251.1 122.7,251.3 123.3,254.8 125.2,265.5 126.5,262.0 128.3,257.4 129.8,256.6 131.6,253.5 133.0,253.8 134.6,253.0 135.4,252.8 136.2,254.1 137.8,252.5 139.5,250.9 140.3,251.3 141.1,251.6 142.7,250.8 144.3,251.1 145.6,250.4 147.6,250.5 149.3,249.8 150.8,249.8 152.9,251.0 154.0,251.8 154.7,252.8 155.7,254.1 156.3,256.4 157.3,255.1 158.3,254.0 158.9,254.3 160.5,251.3 161.3,251.6 162.1,251.7 163.8,249.3 164.4,250.4 165.4,249.6 167.4,248.0 168.6,249.3 169.2,249.2 170.2,250.9 170.8,252.2 171.8,252.3 173.4,249.8 175.1,248.5 177.0,247.4 178.3,246.6 180.0,245.8 181.6,244.5 183.6,244.6 184.8,244.1 186.4,245.0 187.3,244.0 188.0,243.9 189.6,244.1 190.9,243.4 192.9,243.7 194.5,242.6 196.1,243.1 198.1,242.8 199.4,242.8 201.0,241.2 201.8,242.2 202.6,242.3 204.2,242.4 205.4,243.4 207.4,244.3 209.0,242.2 210.7,241.2 212.6,241.0 213.9,241.1 215.5,240.4 216.3,240.4 217.2,240.9 218.8,240.8 220.4,239.7 221.6,240.4 223.6,240.8 225.3,241.0 226.9,240.4 228.9,239.2 230.1,240.1 231.7,239.8 232.5,239.8 233.3,239.2 235.0,239.3 236.1,239.2 238.2,238.4 239.8,239.2 241.4,237.4 243.4,238.6 244.7,237.0 246.3,238.2 247.0,237.4 247.9,237.7 249.4,236.8 251.1,238.3 251.8,240.4 252.8,243.5 254.3,245.8 256.1,244.6 258.0,242.0 259.6,240.0 260.8,239.8 262.5,237.3 263.3,237.0 264.1,236.1 265.7,235.4 266.9,235.2 268.9,235.3 269.9,234.0 270.6,235.5 272.3,237.0 273.8,235.0 275.3,234.0 277.0,232.2 279.0,231.0 280.3,230.1 281.9,229.3 282.6,229.2 283.5,229.5 285.0,231.6 286.7,230.0 288.6,229.2 290.0,228.3 291.6,227.7 292.3,226.1 293.2,224.9 294.8,222.7 295.9,221.9 296.4,222.2 297.7,221.3 299.5,232.2 301.3,229.4 301.9,229.2 302.9,226.5 304.5,223.1 305.5,221.0 306.2,219.4 307.8,219.2 309.2,216.5 311.0,214.5 312.1,213.0 312.6,212.1 314.5,210.5 315.9,210.8 317.5,209.9 318.2,210.0 319.1,209.7 320.7,209.9 321.8,208.7 322.3,208.8 324.0,207.6 325.4,207.5 327.2,207.6 329.0,206.3 330.4,205.7 332.0,205.7 332.7,205.1 333.7,205.2 335.1,204.0" fill="none" stroke="#8b0000" stroke-width="1.4" stroke-linejoin="round"/><path transform="scale(.1)" d="M3360 2079l0-50 0-38 1 4 0 23 0 2 0-32 0 99 0-170 0 123 0 53 0-107 1 122 0-109 0 53 0-15 0-67 0 64 0-9 1 45 0-29 0-36 0 51 0 67 0-70 0-41 0 15 1-3 0-29 0-51 0 40 0 113 0-19 0-35 0-2 0 63 0-19 0-74 0 12 1 30 0-63 0 49 0 1 0-6 1 1 0 3 0-8 0-4 0-1 1-16 0 23 0-34 1 19 1-8 0 21 0-7 0-46 0 99 0-126 1 56 0 20 0-15 0 45 0-22 0 50 0-147 0 96 0 19 1-26 0-93 0 127 0-11 0-94 0 88 0-111 0 112 0-27 0-7 1 1 0-27 0 2 0 58 0-117 0 115 0-22 0 57 1-38 0 76 0-13 0-101 0 48 0-69 0 59 0-7 1-32 0 68 0-76 0 39 0 27 0-58 0-20 0 30 0-32 0 103 0-46 1 18 0-54 0-32 0 69 0-57 1 43 0-52 0-12 0 90 0-46 0-8 1 66 0-154 0 155 1-52 0-63 0-1 0 32 0 47 0-89 0 111 1-43 0 15 0-37 0 12 0 44 0 0 1-75 0 3 0 18 0 104 1-104 0 85 0-63 0 86 0-41 1-25 0-19 0 44 0 20 0-86 0 44 1-84 0 9 0 29 0 94 0-50 0-35 0 104 0-133 0 19 1 10 0 5 0 14 0-22 0 47 0-34 0 3 0-30 1 2 0 58 0-37 0 11 0-26 0-57 0 60 0-49 0 74 1 42 0-96 0-17 0 20 0 56 0-18 0 1 0-81 0 92 0-19 1 16 0 24 0 9 0-34 0-55 0 83 0-8 0-17 1 47 0-108 0 57 0 37 0-67 1 33 0-10 0 24 0-58 0 127 1-154 0 70 0-35 0 78 0-117 0 16 1 72 0-78 0 23 0 10 0 41 0 11 0-114 0 93 0 73 0-15 1-38 0-88 0 108 0-80 0 44 0 13 0-28 0 46 0-34 0-18 1-17 0 13 0-19 0-20 1 103 0 20 0-64 0-63 1 31 0 23 0-46 0 45 0 20 0-77 1-16 0 113 0-20 0 20 1-61 0 3 0 109 0-50 0 15 0-7 0-77 0 42 0-114 0 164 0-162 0 124 0-42 1 69 0-18 0-27 0-7 0 13 1 8 0-7 0 29 1 20 0-98 0 107 0-123 0 91 0-77 0 133 0-76 0 25 1 58 0-42 0 23 0-140 0 32 0 41 0-27 0-6 0 0 1-27 0 121 0-15 0-53 0 56 0-108 0 81 0-50 0 81 0-89 1 49 0 27 0 12 0-92 0 24 0-5 0 94 0-93 1-29 0-44 0-32 0 34 0 107 0-84 0 32 1-11 0-20 0 14 0 63 0-41 0 53 1-28 0-78 0 53 0 63 0 35 1-143 0 88 0 32 0 57 0-124 0 59 0-94 1 101 0-16 1-111 0 43 0 17 0 29 1-9 0 10 0 5 0-74 0-10 0 80 1-72 0 29 0 19 0 87 0-73 0 64 0-32 0-84 1 128 0-103 0 78 1-40 0-42 0-58 0 107 1-30 0 119 0-139 0 27 0-27 0-7 0 95 0-2 0-116 0 29 1 9 0-24 0 85 0-42 0-22 0 29 0 9 0-30 1 3 0 35 0 3 0-64 0 64 0-117 1 76 0 61 0 53 0-70 0-13 0 98 0-44 0-64 0-14 0-99 0 142 1-77 0 53 0-82 1 28 0 84 0-16 0-18 0 30 0 45 0-67 0-27 1-6 0 14 0 31 0 77 0-106 1-53 0 52 0-88 0 104 0-145 0 16 1 128 0 7 0-66 0 33 0 24 1 4 0-77 0 47 0-88 0 35 0 21 0 33 1 40 0-48 0-8 0 22 0-16 0-10 0 76 0-44 0 29 0-113 1 28 0 22 0-15 0 36 0-8 0 35 1 51 0-105 0 35 0 18 0 40 0-120 1 61 0-18 0 40 0 34 0-99 1 18 0 37 0 7 0-115 0 120 0-51 1-3 0 24 1 25 0-29 0 55 0-52 0-6 0-20 0 40 1 58 0-67 0 46 0-53 0 73 0-86 1-95 0 74 0 21 0 5 1 32 0-45 0-35 0 77 0-39 0 85 1-60 0 14 0-33 0-18 0 72 0-53 0-46 1 79 0-33 0-8 0 51 0-101 0 89 1-18 0-5 0-2 0-32 0-2 1 42 0-6 1 44 0-82 0 78 1 42 1-154 0 133 0-46 0-25 0 5 0 47 0-126 0 126 1-28 0 28 0-150 0-21 0 148 1-92 0 87 0-31 0-50 0-20 0 126 0-47 0-63 1 87 0-84 0 83 1-82 0 58 0 38 0-83 0 66 0-74 0 93 0-79 1 39 0-51 0 97 0-41 0-28 0 7 0-3 1-29 0-18 0 109 0-123 0 150 0-112 0 4 0 8 0-19 0 42 0-15 0-50 1 71 0-24 0 84 0-4 0-129 0 76 0 12 0-43 0-4 0 36 1-9 0-60 0 60 0-5 0 33 0-45 1-54 0 63 0 26 0-76 0 59 0 18 0-50 0-35 0 92 0 73 0-9 1-117 0-9 0-25 0 68 0-25 1-4 0 64 0-54 1 100 0-100 0 0 0-24 0 103 0-60 0 43 1-88 0 35 0 34 0-116 0 100 0 8 0-84 0 83 1-66 0 15 0 0 0 68 0-78 0 16 0 31 0-43 0 69 1-73 0 19 0 15 0 8 0 1 0 69 0-121 0 86 0 74 0-95 1-15 0-16 0 15 1 25 0-2 0-66 0 78 0-44 0-68 0-21 1 121 0-38 0 32 0-93 0 122 0-78 0-55 1 32 0 94 0 29 0-71 0-35 0 96 0-10 0-179 0 123 0 22 0-33 0 100 1-122 0 71 0-55 0 20 0 13 1 20 0-81 0 97 0-33 1 56 0-148 0 33 0 56 0-31 0-91 0 27 0-28 0 90 1 25 0-29 0 14 0 39 0-73 0 1 1 84 0-167 0 130 0 26 1-40 0 34 0 35 0-83 0 46 0-22 0-3 0 38 1 51 0-125 0 88 0-118 0 98 0 22 0-90 1-62 0 101 0-48 0 99 0 24 0-40 0-10 1-76 0 21 0 45 0-68 0 98 0-103 1 66 0-25 0 29 0-122 0 115 0-45 0-29 1 42 0-33 0 86 0-139 0 139 0 44 1-89 0 8 0-6 0 33 0-12 0-51 1 68 0-23 0-44 0 57 0 7 0-43 1 85 0-110 0-17 0 166 0-204 0-10 0 134 0-36 0 12 0-77 0 14 1-8 0 44 0-4 0 71 0-41 1 42 0-39 0-87 0 108 0-112 0 123 0 17 0-86 0 109 1-34 0-38 0 8 0-16 0 75 0-61 0 56 0-11 0-74 0 47 1-22 0 89 0-109 0 17 0 8 1-69 0 48 0 28 0-95 1 135 0-100 0 138 0-45 0-38 0 11 0-92 0-2 0 152 0-48 1-47 0 10 0 76 0-21 0-62 0-19 0 73 0-30 0 12 0-16 0-14 1 99 0-46 0-59 0 59 1-12 0-120 0 83 0 32 0 20 0-47 0 39 0-95 0 116 1 29 0-114 0 26 0 117 0-140 1 10 0 69 0-155 0-15 0 54 0 184 0-203 1 51 0 48 0-100 0 38 0 33 0 81 0-102 0 92 1-85 0 42 0 20 1-92 0 76 0 17 0 41 0-71 0 56 0-18 1-63 0 52 0-39 0 79 0-138 1 125 0-76 1 43 0-4 0-112 0 45 0 8 0 113 1-120 0 71 0 28 0-38 0-103 0 31 1 58 0-15 0-33 0 63 0-27 1 20 0 53 0-97 0 33 0-80 0 49 0 39 0 103 1-118 0 21 0-55 0 11 1 14 0 8 0-18 0 69 1-56 0-33 0 127 0-162 0 116 0-23 1-26 0-16 0-14 0-34 1 107 0 49 0-153 0 20 0 39 0 8 1 37 0-73 0-51 0 86 0-28 0 25 1-56 0 58 0 57 0-59 0 50 0-116 0 116 0-76 1 37 0-85 0 115 0-53 0 54 0-31 0-58 1 101 0 9 0-56 0-24 0 48 0-16 0-54 1-21 0 98 0-74 0-8 0 50 0-3 0-49 0 16 1 33 0-56 0 21 0-32 0 99 1-48 0 38 0 1 0-73 0 99 0-57 0 12 0-90 1 69 0 39 0-49 0 76 0-97 0 5 1-16 0-3 0-26 0 30 0 134 1-56 0-45 0 90 0-97 0-8 0-3 0 86 1-23 0-38 0 1 0-10 0 48 1 8 0 1 0-1 0-10 0-53 0-20 0 9 0 9 1 132 0-81 0 34 0-77 0 70 0-41 1 51 0-124 0 142 0-54 0-54 0 56 0-66 1 87 0 11 0-74 0 0 0 27 0-11 1 61 0-91 0 11 0 9 0 71 0 9 1 3 0-140 0 173 0-24 0-71 0-5 1 2 0 110 0-56 0-1 1-92 0 146 0-160 0 82 0 42 0-39 0-17 1 17 0-83 0 84 0-36 0 48 0-59 1 57 0-97 1 97 0 10 0-110 0 14 0-25 0 53 0-92 0 91 1-27 0 50 0-20 0 110 0-74 0-19 0 12 0 25 0-33 1-41 0 77 0-18 1-139 0 67 0 52 0 61 0-24 1-44 0 5 0 24 0-38 0 50 0-95 0 78 0-84 1 24 0 28 0 56 1-175 0 171 0-98 1 46 0 82 0-116 1-85 0 194 0-86 0-2 0 39 0-82 1 2 0-21 0 69 0-35 0 30 1 29 0-63 0 18 1 35 0-97 0 164 0 6 0-91 1 38 0-5 0-101 0 40 0 38 0-33 0 103 1-61 0-2 0-79 0-4 0 39 1 90 0-126 0 54 0 31 0-54 0-8 0 16 0-31 0-68 0 46 1 131 0-129 0 120 0-147 1 84 0-48 0 15 1 77 0-62 0 37 0 41 0-122 1 136 0-27 0-57 0 21 0 13 0-8 0-3 1 6 0 10 0 59 0-93 0-92 0 139 1 59 0 9 0-85 0 15 1-113 0 12 0 98 0-4 0-62 0 67 1-19 0-51 0 39 0 118 0-108 1-18 0 82 0-52 0 19 0-2 1-38 0 44 0-79 0 66 0-53 0 123 0-40 0 25 1-42 0 26 0-92 1-56 0 164 0-65 0-6 0-129 0 247 0-118 1 6 0-36 0 66 0-33 0 3 0-58 0 73 0-6 1-96 0 94 0-34 0-5 0 53 1-81 0-2 0 59 0-116 0 134 0 22 1-77 0 85 0 4 0-144 0 39 0 42 0 12 0-73 1 17 0 39 0 33 0-21 0 49 0-19 1-11 0-36 0-46 0 160 0-151 0 22 0 42 0-62 1 67 0-49 0 33 0 87 0-86 0-1 0 53 0-36 0 11 0-97 1 32 0 84 0-71 0 2 0 114 0-112 0 73 1-45 0-12 1 15 0-24 0-44 0 102 0-51 0 74 0-59 0-31 0-95 1 106 0 45 0-53 0 23 0-107 0 123 0-35 0-58 1 137 0-43 0-26 0-9 0-9 0 8 0 35 1-34 0 27 0 56 0-58 0 17 0 22 0-55 0 28 0-12 1-39 0-7 0 61 0-37 1 43 0-57 0-18 0-60 0 96 0 93 0-79 0-58 0 82 1-13 0-15 0-74 0 59 0 66 0-62 1 88 0-66 0-32 0 16 0 68 1-154 0 50 0-26 0 67 0 23 0-28 0-46 1 59 0-104 0 136 0-75 0 104 0-107 0 106 0-20 0-42 0-127 1 102 0 39 0-68 0 93 0-94 0 10 0 148 0-121 0-37 0 28 0 62 0-110 1 52 0 23 0-22 0 30 0-82 0 124 1-30 0 37 1-20 0 1 0-71 0 47 0-71 1 65 0-77 0 103 0 7 0-98 1 21 0-9 0-60 0 80 0-78 0 31 0 1 0 63 1 26 0-9 0-63 0 67 0 43 0-148 0 165 1-55 0-45 0 4 0-26 0 41 0 11 0-113 0 91 0-11 0-65 0 74 1-13 0 97 0-91 0 54 0-61 0-15 1 63 0-74 0 39 0 6 0-28 0 26 0 105 0-145 1-16 0 121 1-123 0-19 0 29 0 63 0 19 1-62 0 41 0-83 0 109 0-24 1-31 0 3 0 71 0-62 0-29 0 79 1-114 0 15 0 90 0-82 0-34 0-2 0 74 1-8 0-44 0 66 0-82 0-27 0 96 0-112 0 89 0 48 0-104 0-34 1 125 0 9 0 74 0-114 0 9 0-48 0 103 1 17 0-83 0 32 0 53 0-66 0 79 1-13 0-73 0-18 1-7 0-19 0 143 0-111 0-20 1-21 0 28 0 68 0-18 0-140 0 134 1 14 0 7 0 29 0-40 0 98 0-156 0 93 0-97 0 13 1 113 0-40 0-81 0 59 0-111 1 48 0 0 0-45 1 110 0-94 0 59 1 74 0-38 0-66 0 14 0 42 0-87 0 93 1-1 0 45 0-63 0 0 0-93 0 99 0 36 0-42 1-14 0-17 0-9 0 38 0-75 0 103 0-48 0 38 1-37 0 10 0-58 0 160 0-47 0-43 0-61 0 148 0-72 0-34 0-24 1 28 0 70 0-107 0 36 0 3 0 31 0 27 0-51 0 14 1-1 0-55 0 34 0-58 1 69 0-10 0 8 0-41 0 150 1-63 0-68 0-31 0 42 1-11 0 12 0 18 0-74 0 18 0 40 0-99 0 211 1-72 0-29 0 33 0-38 0-12 0 24 0-16 0 48 1-54 0 58 0 29 0-54 0-27 1-68 0 32 0-26 1 48 0 53 0-131 0 101 0-105 1 63 0 57 0-62 1 92 0-56 0-20 0 10 0-5 0 21 0-80 0 57 1-30 0 42 0-44 0 42 0 89 0 7 0-117 0 22 1 31 0-60 0 27 0-33 1 66 0-84 0 151 0-153 0 49 0 74 0-52 0-138 0 153 0-34 0 24 1-114 0 203 0-198 0 146 0-124 0-1 0 103 1-76 0 137 0-30 0-50 0-48 0 3 0 43 1-4 0-40 0 25 0 8 0 41 0-87 0 33 0 46 0-16 0 61 0-54 0-61 0 80 0-74 1-33 0-8 0 12 0-22 0 74 0 39 0-16 0-17 0-63 1 159 0-190 0 99 0-91 0 89 1-12 0 24 0-77 0 9 1-65 0 66 0-14 0 36 0-33 0 67 0-12 0 38 1 8 0-70 0 70 0-15 0-111 0 149 0-118 0 43 0 74 0-94 0 75 0-82 1 4 0 86 0-73 0 69 0 22 0-42 0-4 0-61 1-1 0 40 0 18 0-97 0 48 0 25 1 43 0-51 0-45 0 56 0-47 0 9 0 52 1 100 0-12 0-174 0 188 0-199 0 55 0-9 1 98 0-90 0 73 0-73 0 15 0-24 0 23 0-23 0 142 1-30 0-23 0 68 0-132 0-31 0-3 1-36 0 62 0 29 0-66 0 64 0-5 1-40 0-27 0 69 0-16 0-36 1-37 0 163 0-40 1-64 0-17 0 75 0-64 0 42 0-129 0 127 0 32 1 14 0-33 1 17 0-24 0-12 0-20 0-80 0 44 0 68 1-117 0 160 0-17 0-106 0 107 1-61 0 98 0-114 0 93 0-126 0 9 1-54 0 121 0-70 0 133 0-152 0 115 0-2 0-71 0 34 0 117 0-136 1 75 0-7 0-27 0-114 0 69 0 43 1 38 0-92 0-59 0 12 0 86 1-45 0 78 0-9 0-43 0-59 0 78 0 18 0-18 0 34 1-67 0 68 0 0 0-40 0 1 0-30 0 12 0-20 1 102 0-52 0-71 0 53 0 78 0 13 1-17 0-128 0 102 0-104 0 161 1 8 0-165 0 78 0-82 0 78 0-43 1-21 0 104 0-42 0 43 0-25 0-81 0 21 1 88 0 4 0-78 0 131 0-78 0 56 0-57 1 40 0-97 0 25 0-80 0 94 1-76 0 81 0-42 0-27 0 32 0-8 0-31 0 140 0-132 0 111 0 10 0-23 0-71 0-17 0-27 1 3 0-3 1 36 0 38 0 37 1-111 0 111 0-95 0 176 0-60 0 37 0-85 1-64 0-34 0 87 0-88 0 114 0 1 0-79 0 102 0-52 0 10 0 16 1-75 0 39 0-50 0 79 0-68 0 110 0-15 0-88 0 30 1-1 0 75 0-44 0-13 0 104 0-109 0 5 0-12 0 21 0-78 1 130 0-125 0-25 0 125 1 15 0-60 1-41 0-76 0 155 0-90 1 65 0-46 0 71 0-80 1 54 0-42 0 8 0-31 0 107 0-158 0 133 0-87 0 29 0 73 0-121 1 120 0-76 0 69 0-1 0 11 0-73 0 36 1-51 0 40 0-26 0 61 0-69 0 77 1-103 0 51 0-6 0-66 0 19 0 81 0-97 0 182 0-200 0 80 1 94 0-63 0 24 0-150 0 81 0-54 0 38 1 46 0-56 0 94 0-101 0 59 1-32 0-26 0-9 0 30 0 102 0-137 1 87 0-138 0 149 0-75 0 21 0 41 0-25 0 25 0-28 0 17 1-82 0 49 0 4 0-59 0 96 1-6 0-70 0 51 0 26 0-47 0 53 0 6 1-92 0 103 0 29 0-112 1 72 0-128 0-25 0 118 0-54 1 99 0 46 0-106 0-17 0 65 0 2 0-3 0-78 0 74 1-19 0-82 0 46 0 75 0-76 1-60 0 119 0 11 0-69 0 19 1 22 0-65 0 61 0 59 0-31 0-34 1-27 0 140 0-209 0 84 0-31 0-9 0 35 0-4 0 89 1 12 0-22 0-31 0-54 0-3 1 108 0-52 0-127 0 70 0-48 0 81 0 45 0 16 0-72 0 6 0-13 1-72 0 55 1 20 0 22 0 12 0-33 0 32 0-108 0 90 0-11 0 98 0-126 0 92 1-66 0 15 0 7 0 29 0-124 0-23 0 168 0-24 0 21 0-79 0 85 1-167 0-15 0 190 0-16 0-52 0 17 0-52 0-24 0 75 0-80 1 45 0 10 0 83 0-25 0-40 0-2 0-110 0 138 0-20 1 8 0-39 1 1 0 44 0-48 0-26 0 43 0-4 0-33 0-46 0 134 1-148 0 162 0-67 0-4 0-13 0-4 1-27 0 29 0-20 0 74 0-127 0 50 0 4 0 123 0-60 0-13 0 51 0-98 1-18 0 88 0-52 0 64 0 66 1-100 0 38 0-57 0-5 0 24 0 69 0-69 1 61 0-81 0-25 0 5 0 44 0-29 0-25 0 49 0-22 1 69 0-95 0 116 0-27 0 9 0-22 1 49 0-77 0-39 0-56 0 134 1 3 0-29 0-26 0 36 0-12 1-70 0 119 0-72 0-7 1 30 0 68 0-116 0 20 0-14 0-25 0-45 0 127 0-67 1 54 0 63 0-76 1-7 0-38 0 42 0-67 0-20 0 37 0 45 0-23 0 10 0-27 1-8 0 76 0 16 0 8 0-15 1-43 0-14 1 9 0 56 0-127 0-15 0 101 0-36 0-3 0 81 0-41 1-30 0-13 0 1 0 76 0-42 1 62 0-158 0 130 0-34 0 0 0 38 0-91 0 42 0 7 0 36 0-29 0-3 1-86 0 72 0 7 0 30 0-113 0 112 1 28 0-19 0-14 0-3 0-28 1-68 0 54 0 35 0-41 0 66 0 0 1-112 0 108 0 62 0-133 0 70 0 22 1-110 0 77 1 29 0-73 0 53 0-8 0 30 0-88 0 71 0 67 1-175 0 113 0 61 0-63 0 5 1-4 0-70 0-38 0 28 0 46 0 22 0-50 1 79 0 7 0-82 0 14 0-109 0 113 0 14 0 101 1-137 0 99 0-26 0-14 0 14 0 8 0-45 0 47 1-155 0 111 0 4 0 70 0-47 0-49 0-13 0-7 0 87 1-85 0 31 0-93 0 48 0 8 0 120 0-80 1-41 0 28 0 135 0-134 0 61 0-98 0 27 1-15 1 1 0 120 0-117 0 60 0-82 0 19 0 13 0 43 1-31 0-60 0 26 0 38 1-51 0 86 0-102 0-6 0 83 0 81 0 12 0-36 0-104 1 65 0-137 0 68 0 166 0-94 0-22 1-12 0 17 0-11 0-92 0 204 0-118 0-19 0-20 0-9 0 48 1 15 0-80 0 58 0-57 0 159 0-34 0-93 0 34 0 11 0-73 0 125 1-45 0-83 0 32 1 16 0-31 0-15 0 7 0-29 0 136 0-55 0-100 0 49 1 42 0 18 0 35 0-39 1 56 0-27 0-24 1-34 0 128 0-85 0-28 0 11 0 13 0 15 0-30 0-100 0 113 1-92 0 103 0 16 0-31 0-13 0-35 0-18 0-39 0 117 0 14 0-74 1 65 0-7 0-29 0-86 1 109 0-28 0 98 0-78 0-44 0 109 1-82 0-20 1-2 0 19 0 19 0-40 0 11 0-33 0-1 1 48 0-26 0 37 0-32 0-39 0 31 0 32 1 61 0-65 0-60 0 60 0-95 1 116 1-127 0 178 0-52 0 5 0-2 0-58 0 53 0 36 0-42 0-48 0 93 1-15 0-60 0 93 0-29 0-40 0-80 0 122 0-110 0 70 1-89 0 10 0 87 0-149 0 158 0 70 0-79 1-38 0-34 0 13 0 86 0-40 0-19 1 79 0-70 0-15 0-47 0 105 0-106 1 70 0-17 0 61 0 29 0 13 0-92 0-48 0-50 0 208 0-67 0-57 0 72 0-95 0 70 1-68 0-26 0 49 0 10 0 55 0-67 1 108 0-93 0-2 0-65 0 66 0 43 0-79 0 21 1-5 0 62 0 39 0-110 1 44 0-7 0-89 0 126 0-64 0 30 0-64 0 87 0-117 0 128 0 27 1-76 0-57 0 129 0-87 1-12 0 146 0-162 1 21 0 21 0 9 0-62 0 154 0-178 0 49 0 45 0 3 0-55 0-12 1 41 0-35 0 54 0-68 0 38 0 77 0-38 0 41 1 3 0-17 0-42 0 1 0-49 0 158 0-22 0-190 0 177 0-115 1-15 0 37 0-15 0 1 0-30 0 166 0-64 0 41 0-71 0-28 1 28 0 41 0-129 0-9 0 61 0 131 0-83 0 22 0 13 1-49 0-23 0-87 1 74 0-3 0 18 0 52 0-76 0 77 0-12 0 15 0-71 0 148 1-109 0-26 0 105 0-17 0-39 0-24 0-13 1 17 0 40 0-66 0 83 1-88 0 53 0 13 0-47 1 45 0-9 0-65 0 0 0 42 0 70 0 19 0-137 1 57 0 51 0-54 0 58 0-85 0-17 0 17 0 5 0 18 0 52 1-115 0 51 0-15 0 109 0-85 0-25 0 50 1 60 0-170 0 70 0-3 1 14 0 60 0-40 1 19 0 11 0-70 0-40 0 53 0 6 0-18 0 1 0 11 0 21 0 12 1 33 0-42 0-26 0 5 0 9 0-1 0 17 1 32 0-80 0 71 1-116 0 106 0 20 0-96 0 98 0-41 1-5 0 1 0 21 0-85 0 62 1-67 0 30 0 56 0-108 0 122 0-11 0-73 1 11 0 2 0 25 0 77 0 28 0-116 1-18 0 2 0 35 0-6 0 34 0 56 0-142 0 64 0-121 0 84 0-1 0-43 0 113 1-82 0 42 0-2 0 22 0-55 0-55 1 157 0-74 1-22 0 102 0-163 0 102 0-107 0 113 1 1 0-76 0 3 0 49 0 11 0 5 0-24 0 2 1 17 0 26 0 74 1-116 0 43 0-53 0-5 0 118 0-107 0 100 0-48 0 23 0-119 1-17 0 168 0-112 0-6 0 18 1 5 0-85 0 158 0-80 0 52 2 48 0-67 0-73 0 82 0-52 0 26 1 0 0-3 0-59 0-36 1 118 0-67 0 63 0-56 0 13 0 76 0-134 1 50 0 39 0 0 0-47 0 23 0-70 0 167 0-131 0 73 0-90 0 33 1-8 0-7 0-2 0 78 0-53 0-51 0 125 1-12 0-31 0 10 0-10 0-57 0 90 0-26 0-11 0 23 0-19 0-50 0 81 1-81 0-32 0 127 0-90 0 35 0 64 1-59 0 17 0-65 0-5 0-10 1 77 0-41 0-8 0 50 0-83 0 89 0 28 1-8 0 24 0-68 0-40 0 40 0-26 0-38 0 105 0-55 1 48 0 20 0-63 0-45 0 22 0 42 1-53 0 64 0-13 0-27 1 23 0-73 0 15 1 78 0-87 0 73 0 8 0-62 1-25 0 117 0 19 0 39 0-80 0 19 0-105 0 30 1 56 0-61 0 44 0 60 0-86 0 9 0-9 0 40 0 10 1-13 0-63 0-9 0 105 0 59 0-58 0 68 0-153 0 53 0-114 1 148 0-36 0-61 0-15 0 21 1 51 0-34 0-4 0-24 0 52 0-6 0-9 0-70 1 136 0-119 1 62 0 6 0-26 0-7 0 73 0-111 1 118 0-144 0 47 0 56 0 58 0-82 0-84 0 44 0 71 0 30 1-45 0 91 0-76 0-59 0-37 0 31 0 66 0-8 0 26 0-51 1 3 0-17 0 14 0-85 0 109 0-129 1 66 0 145 0-148 0-13 0 81 0 6 1 86 0-148 0 58 0-93 0 93 0-6 0-46 0 93 0-44 0 24 1-36 0 1 0-14 0 23 1 35 0-111 0 66 0 0 1-53 0 9 0 157 0-119 0-17 0 24 0 47 0-173 0 51 1 51 0 50 0-25 0-28 0-17 0-7 1 68 0-102 0-38 0 42 0 71 0 67 0-116 0 27 0-46 0 68 0-13 0 49 1-82 0 10 0 55 0-59 0 0 0 91 1-76 0 69 0-114 0 87 0 16 0-101 0 56 1-88 0 180 0-97 0-24 0-9 1 127 0-60 0 34 0-32 0-25 0 22 1-25 0 25 0-102 0 89 0 25 0-41 0 31 1 5 0-80 0 36 0 72 0-105 0 85 0 32 1-46 0 72 0-64 0 19 0 18 0-63 0-89 0 85 0 62 0-89 1-18 0-2 0 141 0-108 0-25 0 13 0 48 0-35 0 47 0-45 1 7 0 25 0 68 0-122 0-41 1 164 0-12 0-86 0 56 1-32 0 29 0-110 0 86 0 83 0-113 0-29 0 62 0-55 1 102 0-118 0-63 0 163 0-16 1 39 0-104 0 6 0 16 1 95 0-112 0 38 0 22 0-46 1 63 0 12 0-152 0 188 0-85 1 11 0 56 0-82 0 72 0 3 0-91 0 94 0 1 0-84 0 49 1-2 0-136 0 57 1 49 0-43 0 81 0-96 0 47 0-33 0 77 0 1 0-43 1 28 0 47 0-73 0 47 0 17 0-106 0-10 0-18 0 94 0-20 0 89 1-107 0 54 0-32 0-53 0 34 0 90 0-176 0 166 1-81 0 15 0-30 0 52 0-11 0-10 0-16 0-85 0 105 1-6 0 25 0 35 0-62 0 31 0-3 1 18 0 28 0-8 0-43 0-58 0 122 1-39 0 30 0-123 0-1 0-25 0 97 0-42 0 99 1-110 0 55 0 16 0-42 0 30 0-13 0-19 0 31 0-75 0 100 0-28 0 35 0-146 1 93 0-26 0 11 1-73 0 41 0 25 0 37 0-53 0-40 0 58 0-18 1 5 0 28 0 25 0-75 0 70 1 29 0-64 0 44 1-64 0 1 0 18 0-48 1 25 0-18 0 34 0 15 0 49 0-65 1-3 0 63 0-7 0-74 0-5 0 15 0 33 0 4 1-104 0 91 0-18 1 63 0-71 0-46 0 110 0 33 0 21 0-108 0 23 0-18 0-50 1 109 0 77 0-79 0-81 1 73 0-28 0 40 0-83 1-17 0 8 0 69 1-125 0-6 0 79 0 39 1 14 0-44 0-24 0 83 0-39 1-81 0 82 0-42 0-24 0 69 0 36 0-126 0 69 0 30 1 70 0-131 0 62 0-28 0 96 0-28 1-7 0-71 0 114 0-75 0-58 0-35 0 86 1-32 0 62 0-1 0 8 0 40 0-119 0 12 0-43 0 16 1 18 0-44 0 160 1-129 0 67 0-43 0-28 0 111 0-74 0 31 0 13 1-49 0 67 0-83 0 56 0-46 0 55 0-51 1 33 0-20 0 56 0-85 0 65 0-60 0 21 0 13 0-43 0 73 0-112 1 116 0 0 0-16 0-43 0-14 0 60 0-16 1 6 0-42 0 67 0 21 0-19 0-33 0-3 0 63 0 45 0-43 1-60 0 36 0-50 0 85 0-122 0-25 0 160 1-96 0 103 1-91 0-75 1 93 0-30 0 39 0-54 1 17 0-9 0-46 0 106 0-40 1 53 0-71 0 55 0 4 0-82 0 20 0 79 0-165 0 111 0-40 0-4 1 76 0 5 0-12 0 7 0-118 0 88 0-81 0 107 0-7 0-21 1 26 0-145 0 133 1 26 0-121 0 79 0 23 0-5 0-65 1-4 0 51 0-34 0-82 0 92 1 39 0 10 0-43 0 9 0-48 0 70 0 7 1-49 0 40 0-41 0-41 0 95 0-8 0-87 0 63 1-55 0 66 0-22 0-104 0 99 0-89 0 48 0 36 0-30 0-48 0 33 1 65 0 29 0-100 0 72 0-14 0-60 0 13 0-20 1 111 0-59 0-4 0-3 0-27 0 23 1 8 0 60 0-10 0-44 0 52 1-109 0 141 0-50 0-63 0-47 0 124 0-62 0 142 0-59 0-124 0 64 0-30 0 57 1-39 0 1 0 20 0 86 0-86 0 61 0-87 1 31 0-44 0 28 0-21 0 31 0-98 1 100 0 46 0-110 0 42 0 38 0-25 0 36 0-20 1-28 0 35 0 89 0-98 0 26 0-17 0-26 1-12 0-92 0 174 0-89 0 53 0-85 1 30 0 39 0 1 0 45 0-131 0 30 1 80 0-129 0 138 0-23 0-52 0-11 0 42 0-42 0 63 0-69 1 41 0 23 0-14 0 32 0-44 0 64 0-100 1 79 0-44 0-105 0 218 0-164 0 66 1-37 0 1 0-18 0 85 0-125 0 33 1 40 0-10 0 73 0-74 0 11 0 14 0-84 0 92 0-74 1 62 0 0 0-104 0 46 0 6 0-53 1 158 0-105 0 59 0-41 0-39 0 105 0-28 1-71 0 44 0 47 1-87 0 91 0-39 0 64 1 24 0-138 0 99 0-26 0-67 0 108 0-111 1 64 0-18 0-108 0 117 0 9 0 10 0-68 0 28 0 56 1 1 0-5 0 27 0-102 0 25 0 12 0 30 0 6 0 22 0-33 1-10 0-56 0 54 0-55 0 2 0 23 1 47 0 51 1-122 0 2 0 136 0 44 1-126 0 44 0 4 0-14 1-64 0 56 0-40 0-14 0 92 0-77 1 3 0-15 0 59 0-55 0 15 0 8 0 3 0-3 0 6 1-7 0-57 0 104 0-69 1 10 0-42 0 26 0-3 0 29 0-37 0 32 1-97 0 151 0 18 0-113 0-18 0 119 1-64 0 66 0 7 0-137 0 115 0 57 1-84 0-31 0-21 0-37 0 84 0-31 0-34 0 81 0-27 1-30 0 61 0-108 0 85 0-40 0 14 1-15 0 78 1 23 0-127 0 93 0-9 0-23 0 59 1 32 0-179 0 96 0 22 0-38 0-55 0 53 1-64 0 76 0 36 0 48 1-114 0 49 0-10 0-16 0 67 0-94 1 56 0 49 1-42 0-103 0 63 0 46 0-35 0-28 0 3 0-15 0 89 0-77 0 61 0-4 0 31 0 34 1-115 0-39 0 61 0 81 0-51 0-38 0 96 0-79 1-9 0 110 0-145 0 31 0 58 1-59 0 8 0 7 0-36 0 0 1 103 0-65 0-102 0 100 0-55 0 4 0 123 0-40 1-24 0-17 0-60 0 43 0 40 0 5 1-127 0 72 0 4 0 46 0-70 0 39 0-82 0 31 0 64 0 10 0-11 0-19 0-61 1 42 0 18 0-3 1-7 0 58 0-62 0 18 0 22 0 25 1 13 0-118 0 119 0-33 0 10 0 7 0-74 1 40 0 98 0 12 0-238 0 224 1-8 0-124 0 15 0 56 0-10 0-84 0 92 0-17 0-118 0 68 1 58 0 24 0-89 0 56 0-19 0-54 0 85 0-41 0 10 0-69 0 7 0 78 0-34 1 92 0-28 0-12 0-22 0 16 1-29 0 16 0 68 0 20 0-5 0-126 0-23 0 43 0 53 0-21 1-5 0 66 0-129 0 91 0-49 0-10 0 53 0-80 0 50 1-48 0-12 0 113 0-79 0 98 1-127 0 26 0 5 0 38 0-109 0 59 0-55 1 19 0 67 0 0 0 72 0 13 0-70 0-22 1 67 0-58 0 40 0-67 0-89 0 130 0-69 0 69 1-2 0 10 0-10 0 6 1-40 0 67 0-43 0-63 0 50 1 75 0-43 0 16 0-16 0-61 1 144 0-75 0 60 0-166 0-9 1 68 0 83 0 4 0-22 0-2 0-32 0-42 0 45 0-21 1 34 0 7 0-72 1 5 0 117 0-147 0 74 0-65 0 58 0 22 1-79 0 58 0 4 0-62 0 134 0-89 1 94 0-166 0-4 0 56 0 69 0-30 0-4 0-55 0 38 0 36 1 15 0-56 0-15 0 28 0 84 0-36 1-47 0-57 0 57 0-23 0-13 0 55 0 56 0-137 0 60 0-12 0 19 0-74 1 33 0-11 0 107 0-108 0-34 1 3 0 111 0-17 0-137 0 69 0 32 1-50 0 85 0-10 0 75 0-126 1 61 0 109 0-97 0-22 0 59 1 15 0-89 0 54 0 51 0-108 0-10 0 65 0-18 0 10 1-30 0-21 0 6 0 15 0-99 0 123 1 75 0-132 0-33 0 137 0-38 0-11 0-75 0-14 0 106 0 11 0-77 0 65 1 1 0-33 0-48 0 16 0-35 0-52 0-2 0 124 0 19 1-63 0 23 0 99 0-78 0 42 1 22 0-133 0 104 0-122 0 104 0-80 0 100 0-105 0 20 1 84 0-70 0 7 0 72 1-19 1-58 0 54 0 9 0-46 0 30 0-1 0-4 0 25 0 35 1-80 0 91 0-53 1-59 0 18 0 57 0-1 0 51 0-110 0-8 0-50 0 14 0 15 1 71 0-68 0 68 0-62 1 8 0 86 0-26 0-50 0 79 0-119 1 64 0-73 0 112 0-21 0-45 0-2 1 83 0-59 0-45 0-39 0 144 0 12 0-21 0-19 0-28 0-20 0-32 0 77 0-40 1 37 0-28 0 2 0 43 1-38 0 2 0 59 1-82 0 20 0 62 0 49 0-187 0 66 0-84 1 105 0-27 0 22 0 40 0-112 0 30 0 44 1-39 0 0 0-40 1-33 0 94 0 90 0 2 0-133 0 98 0-61 1-72 0 101 0-48 0 8 0-47 0 8 0 102 1-69 1 17 0 34 1 40 0-119 0 153 0-100 1-16 0 40 0-113 0 67 0 28 0-24 0-17 0 60 0-20 1-30 0-5 0 20 0-24 0 96 0-29 1-89 0 34 0-39 0 87 0-1 0-33 0 9 0 19 0-13 1 60 0-72 0 53 0 46 1-159 0 21 0-28 0 42 0 23 0 22 1-105 0 82 0-16 0 74 0-108 1 69 0 55 0-47 0-7 0-83 1 12 0-34 0 162 0-71 0 15 0 0 1 58 0-96 0 43 0-78 1 124 0-91 0-44 0 36 1-87 0 61 0 42 1-13 0 19 0-14 0-31 0 101 0-121 0 27 1 11 0 61 0-19 0-40 0 5 0 81 0 18 0-75 0-37 0 56 0 71 1-116 0 50 0-72 0 49 0 45 0-24 0-59 1 26 0-3 0 47 0-84 0 50 0 64 0 5 1-42 0 46 0-39 1 9 0 60 0-136 0 83 0-135 1 56 0 40 0 1 0 68 1-62 0 77 0-123 0 37 0-28 0-83 0 88 1 28 0-38 0-6 0 2 0-15 1 23 0-52 0 87 0-140 0 34 0 80 0 36 1-38 0-58 0 61 1-60 0 92 0 64 0-66 0-68 0 80 0 37 0-119 0 93 1-60 0 41 0 14 1-82 0-22 0 191 0-38 0-9 1-52 0-7 0 16 0-47 0 13 0 29 1 2 0-38 0-14 1 103 0-94 0-23 0 43 0-30 0-66 1 23 0 27 0-49 0 143 0-70 0-7 0-16 0 102 1-144 0 126 0-108 0 31 0 4 0 61 0-77 1 22 0-33 0 95 0-36 1-81 0 24 0 22 1 9 0 5 0 25 0-17 0 58 0-100 0 62 1 52 0-32 0-1 0-46 0-40 0-33 1 50 0-4 0 109 0-126 0 84 1-16 0 88 0-147 0 122 0-143 1 105 0 42 0-103 0 46 0 35 0-93 0-11 0-24 0 75 0-52 0 142 1-88 0 58 0-54 1 108 0-41 0-82 0 15 0-108 0 122 1-67 0 94 0-2 0-81 0 91 0-110 0 14 0-53 0 66 0-4 0 66 0 15 0-61 1 70 0 12 0-178 0 94 0 7 0 103 1-51 0-23 0-48 0 59 0 42 0-74 0-47 0 104 0-130 1 63 0 65 0-96 0 40 0-61 0 155 0-88 0 32 1-58 0 128 0-26 0-67 0 22 1-113 0 100 0 53 0-92 0 11 0-4 1 43 0-13 0-98 0 124 0-59 0 19 0-19 0-9 0 40 1-72 0-9 0 61 0 69 0-78 1 6 0 3 0 14 0-26 0 99 0-61 1-12 0 16 0 19 0 21 1-66 0 14 0 8 0-45 0-2 0 24 0 28 0-23 0-121 0 63 1 68 1-30 0 21 0-25 0 80 0-31 0 16 1-100 0 118 0-91 0 132 0-118 0 12 1-86 0 106 0-58 0 13 0 74 1 73 0-142 0-36 0-48 0 79 0 51 1-88 0 19 0 122 0-14 0 4 0-115 1 14 0-16 0 38 0 3 0 38 0 12 0-6 0 13 0 8 1-66 0 1 0-20 0 143 0-114 1-38 0 2 0 23 0 19 0-5 0 9 0 82 0-120 1 40 0 64 0-138 0 16 0 110 0-113 1 78 0-68 0 85 0 54 0-128 0-14 0 51 0-56 0-10 0 22 0 28 0 96 0-40 0 15 0-8 0-63 1-44 0 94 0-81 0 114 0-86 0-21 0 63 1-8 0 11 0-54 0 43 0-89 0 95 0-100 1 92 0 3 0 37 0-30 0-74 1 34 0 57 0 1 0-71 0 53 1 50 0-112 0 64 0-1 0-32 0 23 0 60 1-53 0-13 0-15 0-13 0-44 0 8 0-23 0 63 0-37 0-35 0 143 0-70 1 61 0 20 0 9 0-81 0-120 0 146 1-27 0-74 0-52 0 184 1 1 0 11 0 8 0-12 0-36 1-6 0 32 0-24 0-20 0 25 0-58 1-16 0 143 0 14 0-51 0-104 0 20 0 71 0-25 0-34 0 99 1-87 0-3 0 0 0-34 0 82 0-136 0 89 0 35 1 45 0-49 0-93 0 102 0-2 0-35 1-35 0-34 0 46 0 28 0 63 1-47 0-18 0-97 0 27 0 30 0 24 1 0 0 62 0 24 0-14 0-100 0 12 0-20 1-34 0 8 0 89 0-63 0 75 0-47 0-12 0 29 0 2 0-37 0-3 1 51 0-87 0 51 0 95 0-44 0 66 0-185 1 43 0 52 0-62 0 19 1-35 0 106 0-57 0 17 0-63 0 46 0 109 0-50 0-38 0-44 1 30 0 18 0 97 0-90 0-22 0 2 0-46 0 68 0-66 0 16 1 16 0 134 0-22 0-100 0 54 0-33 0 23 0-36 0 43 1 49 0-90 0 69 0-66 0 45 0-100 0 87 1-74 0 5 0 43 0 113 0-100 1 44 0-30 0-46 0-48 0 11 0-41 1 115 0-25 0 10 0 19 0 78 0-121 0 33 0 13 1 11 0-50 0 80 0-100 0 35 0-96 0 102 0-18 0-11 1-17 0 64 0 15 0-83 0 11 0 63 0-1 0 39 0-97 1-6 0 33 0-30 0 33 0-40 0 42 0 53 0-53 0 19 1 18 0 2 0-23 0-103 0 25 0 134 1-116 0 33 0 62 0-101 0-62 0 62 0 88 0 9 0-19 0 87 0-54 0-164 0 3 1 87 0-88 0 145 0-154 0 107 0-56 0 85 1 75 0-102 0-135 0 95 0-6 0 45 1 76 0-101 0-14 0-38 0-9 0 16 1 59 0 41 0-22 0-38 1 47 0-55 0 91 0-122 0-19 0 92 1-39 0 105 0-103 0 50 0 0 0 46 0 4 0-137 1-35 0 63 0 72 0 13 1-76 0 132 0-106 0 78 0-76 0-69 1 46 0 74 0 9 0-48 0 104 0-95 0 21 1-5 0-44 0-45 0 66 0-11 0-17 0 39 0-31 0 71 0-9 0-70 0 101 0-78 1-79 0 14 0 43 0 53 0-60 1 90 0 54 0-162 0 56 0-52 0 112 1-161 0 138 0-66 0 28 0 7 0-46 0-13 0 141 1-66 0-10 0 58 0-114 0 83 0-57 0-74 0 46 1 45 0-54 0-5 0 86 0-28 0-33 0-57 0 114 0 28 0-53 0 27 0-42 1 70 0-7 0-39 0 36 0-55 1 83 0-21 0-65 0 71 0-49 0-24 0 21 0-38 0 57 1-35 0 7 0 101 0-232 0 107 0 89 1-110 0-26 0 136 0 20 0-109 0 34 0-34 1-28 0 77 0 5 0-32 1-57 0 63 0-40 0 2 0 40 0-10 0-74 1 112 0-63 0 5 0-42 0 20 0-39 0 70 1-35 0 19 0 82 0-97 0 83 0-91 0 42 0-83 0 90 1 25 0-106 0 28 0 66 0-11 0-43 1 23 0 38 0-11 0-102 0 123 0-77 1 44 0 2 0-23 1 78 0-26 0-12 0 66 1-112 0 17 0 54 0-51 0-43 0 71 0 10 0-102 0 99 1-63 0 31 0 10 0 64 1-57 0 41 0-69 0 29 0-47 1 99 0-66 0-31 0 82 0-11 0-16 0-7 0-1 0 0 0-17 0-19 1 39 0-40 0 96 0-72 0-6 0-88 0 72 1 13 0-86 0 59 0-7 1 34 0 46 0-132 0 114 0 33 0-1 0-59 0-76 0 112 0-25 0 27 0 3 0-46 0-62 0 35 0-39 0 92 1-37 0-86 0 0 0 130 0-99 0-18 0 143 1-65 0-25 0 36 0 73 1-76 0 72 0-34 0-38 0 47 0-97 0-14 0 34 0 91 0-93 1 21 0-31 0 49 0-32 0 62 1-73 0 39 0 46 0-92 0-10 1 3 1-38 0 143 0-46 0 40 0-69 0 28 1 47 0-33 0 53 0-79 0-94 0 40 1 13 0 39 0-33 0-16 0 30 0-45 0 74 1-6 0 35 0 43 0-79 0 95 0-115 0-3 0 3 1-21 0 110 0-166 0 123 1 0 0-9 0-16 0 39 0 33 0-82 0 24 0 51 1-162 0 150 0-92 0 27 0 69 1-14 0-33 0-23 0-12 0 36 0 33 1 17 0-39 0-6 0 47 0-78 0 18 0 17 1-26 0 55 0-53 0-3 0 141 1-164 0 80 0-26 0-55 0 59 1-79 0 0 0 76 0-128 0 13 0 61 0-1 0 48 0-111 0 117 0-49 0 22 1-47 0 3 0 27 0 41 0-21 0 99 0-29 0-81 0 14 1 42 0-74 0 8 0 62 0-55 0 3 0-45 0 48 1-3 0 18 0 46 0-66 0-102 0 49 0 112 0-83 1 21 0 65 0 77 1-218 0 174 0-55 0-28 0-88 0 27 1 121 0-156 0 214 0-93 0-24 0-110 0 114 1 53 0-28 0 0 0-9 0 10 1 22 0 58 0-143 0 31 0 56 0-74 1-63 0 95 0-39 0 96 0 10 1-10 0 16 0-14 0-72 0-49 0 89 1 82 0-84 0 49 0-29 0-24 1-86 0 70 0 55 0-70 0 3 0-50 0-21 0 35 0-36 1 128 0 25 0-152 0 112 0-21 0-46 0 30 0 89 1-99 0 36 1-60 0 24 0-117 0 115 1 35 0-122 1 82 0-100 0 145 0-50 0 36 0-114 0 102 0 1 0-77 1 114 0 41 0-106 0-23 0 67 0 85 0-127 1-38 0 53 0-54 0 49 0-60 0 3 1 156 0-70 0-57 0 4 0 114 0-111 1 76 0-26 0 28 0-22 0-72 0-11 1 56 0-15 0 63 0-71 0-64 0 70 0 116 0-179 0 68 1 52 0 44 0-70 0 67 0-102 0 39 0-35 0-73 0 103 0-127 1 207 0 22 0-53 0-107 0 28 0 41 1 37 0-77 0-8 0 35 0 61 0-98 1 107 0-75 0-35 1 18 0-22 1 46 0-29 0-28 0 57 0-47 0 29 0 55 0-3 1-46 0 3 0-7 0-50 1 24 0 11 0 59 0 24 0-89 0-21 0-26 1 92 0 10 0-65 0 89 0-2 0-62 0-10 0-4 0 27 0-120 1 22 0 80 0 28 1 39 0-177 0 197 0-173 0 122 0-12 1-84 0 87 0-28 0 2 0 21 1-75 0 6 0-33 0 122 0-3 0-78 0-6 0 57 0-47 0 67 1 17 0-102 0 71 0-34 0 74 0-143 0 157 0-70 0 16 0-32 1-79 0 119 0 40 0-8 0-48 0-66 0-9 0 120 0-47 1 20 0-37 0-17 0 62 0-89 1 116 0-30 0 22 0-10 0 38 0-72 1 43 0-12 0-3 0-22 1-69 0 123 0 35 0-67 0 35 0-72 0-57 0 175 1-100 0-49 0 73 1-74 0 92 0-5 0-48 0 39 0-96 1 111 0-47 0-42 0 58 0-24 1 26 0 30 0-22 0-26 0-3 0 6 1 52 0-130 0 111 0-14 0-111 0 67 0 28 1 73 0-62 0-41 0 50 0 7 0-3 1 110 0-118 0-83 0 127 0-102 0 142 0-67 0-39 0 10 0 10 1 52 0-21 0-31 0-63 1 63 0 34 0-34 0-23 0-45 0 161 0-100 0 1 0-2 0-25 0-13 1 161 0-175 0 27 0-49 0 59 0 32 0-39 1 105 0-33 0-80 0-19 1 146 0-116 0 10 0 76 0-13 0-52 0 12 0-10 0 1 0-29 0 72 1-37 0 8 0-33 0-40 0 109 0-38 0-48 1 40 0-100 1 88 0 57 0-30 0-40 0 10 0-11 0 8 0 3 1-66 0 25 0 49 0 3 0 38 0-21 0-13 1-69 0 100 0-119 1 54 0 34 0-51 0 98 0 6 1-113 0 2 0 66 0-15 0 110 0-70 0 80 0-190 0 13 1 14 0-23 0 4 0 152 0-67 0 28 0-14 0-34 1-32 0 80 0 38 0-173 0 155 1-37 0-73 0-21 0 63 0-17 0 47 0-36 0-58 1 69 0-31 0 83 0 1 0-36 0 33 0-54 0-9 0 118 1-201 0 143 0 53 0-35 0-103 1 90 0-49 0 20 0-52 0 7 0 80 1-100 0-21 0 10 0-19 0 94 0 54 1 13 0-198 0 69 0 70 0-6 0-33 1 66 0-13 0-64 0-81 0 86 0 48 1-7 0 16 0-17 0-138 1 45 0 146 0-33 0 6 0 3 1-68 0 63 0-93 0 74 0-35 0-69 0-24 0 32 0 86 0-15 1-19 0 3 1 10 0 85 0-108 0-33 1 41 0-40 0 92 0-27 0-1 1 33 0-109 0 19 0 26 0-40 0 62 0-65 0 0 0 6 1 108 0-2 0 6 0-29 0-5 1-41 0 4 0 17 0 46 0-153 0 157 0-3 0-52 0 93 0-55 0-25 0-3 1 34 0-89 0 124 0-180 0 66 0 37 1-37 0-57 0 145 0-189 0 179 0-53 1 25 0 13 0-99 0 34 1-95 0 20 0 122 0 97 0-94 0-48 0 77 0-16 1 32 0 15 0-34 0-29 0-94 0 58 0 4 0-2 0 47 1-16 0-42 0 74 0-32 0-45 0 58 0-40 1 51 0 42 0-153 0 90 0-24 0 35 0 48 1 36 0-104 0-38 0 140 0-53 0-30 0 43 0-115 0 97 1-16 0-19 0-61 0 80 0 104 0-208 1 159 0-62 0 17 0-56 1 143 0-115 0-34 0-1 0 83 0 8 0-159 0 23 1 44 0-105 0 90 1 5 0 77 0 25 0-76 0 61 0-41 1-42 0-6 0 64 0-33 1 81 0-91 1 12 0-71 1 148 0-136 0 157 0-86 0 99 1-54 0-122 0 56 0-20 0-5 1 45 0 4 0-41 0-6 0 77 1-47 0-5 0 125 1-101 0-31 0 43 1 24 0 0 0-38 0-76 0 80 0 92 0-102 0 0 0-58 1 24 0 18 0-37 0 83 0-61 0-42 0 7 0 54 0-12 1 109 0-39 0-37 0-60 0-1 0 24 1 113 0-62 0 23 0 13 0-118 0-33 0 75 1-53 0 89 0-27 0 11 0-26 0-31 1 78 0-75 1 59 0-89 0 27 0 17 0 89 1 33 0-76 0 44 0-44 0 75 0-167 0 71 0 37 0 36 0-95 0-18 0 42 1-36 0-27 0-8 0 40 0 74 0-14 0-10 1 10 0-51 0 93 0-127 0 26 0 33 0-101 0 106 1 87 0-89 0 43 0-81 0 30 0-41 0 14 0-83 1 177 0 0 0-45 1 4 0-8 0 18 0 17 0 19 0-77 0 9 0 57 0-40 0 27 1-17 0 17 0-69 0 15 0 0 0 8 0 67 1-57 0 31 0-6 0 16 0 77 0-126 0-43 0 7 0 35 1 58 0-88 0 47 0-25 0-54 0-9 0 11 0 45 1 41 0-48 1 113 0-103 0-6 1-37 0 59 0 17 0 27 0-38 1-7 0-5 0 62 0-108 0-18 0 5 1 28 0 95 0-39 0 22 0-7 0-43 0 84 0-132 0 54 1-17 0-30 0 27 0 35 0 12 0 42 0-128 0 33 0 61 1-37 0 45 0-128 0 112 0-34 0 8 0 37 1-54 0-58 0 45 0-32 0 163 0-202 1 119 0-91 0 97 0-68 0-46 1 58 0 68 0 42 0 12 1 19 0-102 0 19 0-14 0-16 0-34 1 23 0 19 0-62 0 19 1-14 0 63 0-14 0 15 0-4 0 22 0-103 0 43 0 26 0 98 1-180 0 75 0-85 0 155 0-86 0 25 0 5 0-4 0 33 1 15 0 3 0-128 0 6 0 70 0 4 0 26 1-88 0 46 0-23 0 53 1-47 0 123 0-88 0-24 0 27 0 60 0-96 0-36 0 80 1-5 0-31 0 48 0 20 0-44 0 123 0-153 0 12 1-70 0 167 0-35 0-6 0-90 0 154 0 17 0-126 0-92 0 119 0-79 0 39 0 83 1-88 0 59 0-14 0 16 0-2 0-34 0-15 1 5 0-85 0 138 0-86 0 10 0-42 0 62 0-37 1 67 0-57 0 63 0-36 0 23 1-77 0 73 0-81 0 74 0-96 0 92 0 1 0 40 0-32 1 28 0-2 0-77 0 22 0-112 0 175 0 39 0-150 1 66 0 4 0-44 0 10 0 86 0-72 0 40 0-52 1-5 0 105 0-121 0 58 0 14 0-19 1-16 0-19 0 48 0-65 0 64 1-129 0 66 0-10 0 96 0-59 0 90 0-167 1 109 0-56 0 36 0 56 1-27 0 9 0-62 0 9 0 54 0-71 1 43 0 32 0-6 1-59 0 40 0-25 0-13 0 72 0-29 0 36 1 60 0-97 0 77 0-70 1-24 0 60 0-39 0-22 0 66 0-70 0 33 0 30 0-76 0 26 1-16 0-54 0 64 0-48 0-24 0 85 0-28 1 24 0-2 0 52 0 25 0-31 0-28 0 19 1-116 0 115 0-8 0-7 0-44 0 62 0 31 1-126 0 76 0-68 0-44 0 93 0 18 1-6 0-12 0 25 0 20 0-99 0-11 0 70 0 51 0 12 0-99 1 4 0 111 0-27 1-38 0-17 1 11 0-43 0-16 0 30 0-25 0 42 1 58 0-63 0-73 0 134 0-62 1 59 0-79 0 49 0 55 1-34 0 25 0-71 0 37 0-18 0-39 0 87 1-41 0-91 1 13 0 116 0-35 0-50 0 71 0-62 1 9 0 39 0 15 0 62 0-22 0-63 0-49 0 56 1-17 0 89 0-47 0-78 0-18 0 100 1 18 0-65 0-65 0 36 0 25 0-35 0-36 0 8 1 117 0-124 0 96 0-94 0-30 0 36 1 90 0 45 0-114 0-69 0 209 0-64 0 32 1-135 0 105 0-95 0 125 0-87 0-22 0-20 0 107 0-96 0-8 1 39 0 1 0-33 0 130 0-24 0-5 0-158 1 12 0 10 0 76 0 3 0 58 0-64 1 124 0-122 0 87 0-115 0-32 1 77 0 14 0-16 0 22 0 8 0-27 0-27 0 80 1-88 0 19 0-4 0-76 0 89 1-49 0 31 0-2 0 31 0 61 1-24 0-36 0 51 0-137 0 116 1 39 0-136 0 92 0-86 0 26 0 25 0-1 0-12 0-68 1 50 0 65 0-39 0 16 0-117 0 62 1 123 0-2 0-80 0-72 0 61 1 73 0-62 0 42 0-112 0 86 0 14 0-57 0-8 0 104 0-77 0-6 0-3 1 19 0-67 0 42 0 107 0-101 0 66 0-31 1-20 0 42 0 3 0 0 0-69 0 30 1 38 0-64 0 134 0-194 0 29 0 0 0 82 1-51 0 71 0-65 0-13 1 0 0 42 0 66 0-93 0 33 0-50 0 15 0 48 1 11 0-83 0 10 0 108 0-148 0 98 0-68 0 77 1 55 0-127 0 65 0-84 0 81 0 0 0-19 1 31 0-24 0 11 0-25 1 48 0-122 0 88 0 11 0-21 0 69 1-84 0-15 0 6 0 84 0-23 0 76 0-67 0 30 0-114 1 108 0-88 0 35 0-10 1 8 0-16 0-9 0-31 0 43 1 66 0-25 0-79 0 128 0-99 1-76 0 27 0-51 0 147 0-36 1-25 0 31 0-6 0 86 0-133 0 45 0-11 0 88 1-132 0 66 0 19 0-67 0 32 1-25 0 102 0-109 0 102 0-81 0-53 1 75 0-66 0 4 0 93 0-5 0 63 0-99 1-11 0-22 0 89 0-82 1 21 0 17 0-106 0 87 0 19 0 16 0-68 0 65 1-155 0 109 0 37 1 32 0 39 0-49 0-41 0 41 0 52 0-71 0 32 0 12 1-118 0 38 0 23 0-62 0 45 0 84 0-59 1-17 0-13 0 40 0-27 0-48 0 75 0-94 0 23 0 111 1-63 0 36 0-44 1-63 0 72 0-92 0 217 0-201 0 103 0-38 0-55 0 111 0-58 0-37 1-78 0 111 0 113 0-23 0-152 0 141 0-50 1 12 0 36 0-124 0 28 0 131 0-114 0 3 1-53 0 64 0 48 0 53 0-55 0-41 0-13 1 62 0-50 0-14 0-86 0 61 0 30 1-1 0 6 0 65 0-175 0 136 0-26 0-86 0 109 0-20 1-91 0 98 0 18 0-38 0 46 0-64 0 41 0-7 0 29 0-87 0 186 0-204 0 154 1-69 0-4 0 56 0-98 0-34 0 132 1 48 0-144 0 73 0-167 0 160 0 20 0-27 1 20 0 13 0-16 0-44 0-63 0 37 0 70 1 29 0 11 0-50 1-75 0 84 0-91 0 91 0-85 0 93 0-4 0-67 1 56 0 5 0-48 0 27 0-11 0-87 1 65 0 153 0-101 0-122 0 117 1 9 0-19 0 27 0 20 0 49 1-30 0-65 0-102 0 1 0 130 0-24 1-18 0 76 0-134 0-4 0 24 0 49 0-66 0 59 1-19 0 8 0-4 0-69 1 116 0 14 0-143 0 66 0 52 0-12 1-94 0 83 0-40 0 108 1-30 0 40 0-117 0 73 0-70 0 72 1-42 0-47 0 18 0 26 1 53 0-115 0 203 0-109 0-12 0 8 1-38 0 17 0 76 0-146 0 94 1 32 0 17 0-153 0 104 0-114 0 67 0 34 1-3 0-19 0 48 0 15 0-35 1-53 0 21 0 40 0 15 0-28 0-73 0 39 0 38 0-84 0 58 0-10 0 69 0 12 1-110 0 129 1 9 0-110 0 16 0-21 0-9 1-40 0-63 0 150 1 78 0-149 0 94 0-66 0 42 0-19 1 37 0 3 0 5 0 10 0 27 0-126 0 27 0 89 1-108 0 102 0-46 0 55 0-49 0-17 1 8 0-91 0 113 1-20 0 49 0-27 0-78 0 51 0 26 0-23 0 47 1-46 0 5 0-86 0 117 0 24 0-96 1-18 0 35 0 114 0-1 0-89 0-60 1 15 0-29 0 16 0 78 0-14 0-39 0 46 1 4 0 68 0-133 0 129 0-27 0-96 0 67 1-56 0 88 0-40 0-45 0 84 0-47 0-59 0 42 1 57 0-40 0-42 0 17 0 49 0 39 0-105 1 59 0 10 0 15 1 22 0-133 0 54 0 14 0 19 0 19 0-9 0-87 1-17 0 60 0 29 0-107 0 59 0 31 1-10 0 47 0-104 0 70 0-28 0 115 1-194 0 149 0-144 0 108 0-17 1-75 0 22 0 54 0 35 0-29 0-82 0 39 1 110 0-96 0-103 0 71 0-33 0 5 0 129 0-92 1 2 0 35 0-25 0-11 0-56 0 42 0 71 1-3 0-55 0-36 1 16 0 72 0-51 0 19 0 54 0-115 0 23 0 1 1 119 0-95 0 2 0-65 0 123 0-32 1-3 0-16 0-86 0 116 0 38 0-82 0 27 0 30 1-72 0 43 0 68 1-139 0 164 0-46 0-131 1 6 0 96 0-15 0-48 0 111 0-17 0-5 0-138 0 68 0 134 0-191 1 92 0 15 0 13 0-65 0-65 1 63 0 82 0-12 0-71 0 57 0 16 0-85 0-2 0 33 1 18 0 89 0-78 0-32 1 83 0-100 0-24 0 53 0-59 0-67 0 143 0-75 0 6 0 57 1 59 0-60 0-22 0-59 0 50 0 28 0 50 0 1 0-6 1-63 0-30 0-4 0 69 0-85 0 54 0 49 0-18 0-16 0-59 0 78 1 1 0 13 0-49 0-6 0-41 0-14 0 81 1-7 0-12 0-32 0 124 0-148 1 99 0-52 0 28 0-2 0-43 0 83 0-39 0 2 0-7 1-42 0-62 0 86 0-9 0 153 0-182 0 94 0 86 0-100 0 0 0-2 0-102 0 125 1 19 0-56 0-50 0 76 0 42 0-59 0-54 0 54 1-54 0-49 0 120 0-72 0-53 0 111 0-20 1 11 0 34 0-62 0 33 1 12 0 18 0-88 0 8 0 91 0 45 0-83 0-2 0-103 0 157 1-50 0-51 0 67 0-56 0 13 0 13 0 30 0 71 1-95 0-52 0 63 0-52 0-19 0-2 0 26 0-86 0 120 0-43 1 90 0-120 0 51 0-51 0 59 0-14 0 64 0-27 0 6 1-62 0 31 0-33 0 4 0-12 0 20 0 17 1-76 0 103 0-33 0 12 0 88 0-154 0-30 0 69 0 19 0-35 0 66 0-20 1 19 0 11 0 16 0-19 0-9 1-36 0 41 0 28 0-58 0 17 0 6 1 5 0-90 0 77 0 10 1-87 0 76 0 10 0-102 1 195 0-84 0 46 0-78 0 24 0-60 0 35 0 5 0 39 1 51 0-172 1 79 0 75 0-74 0-59 1 146 0 13 0-41 0-31 0-11 0-19 0 55 0 12 1-115 0 130 0-87 0 36 0-22 1 27 0-13 0 74 0-106 0 46 1 33 0 14 0-153 0 166 0-20 0-17 0-74 1-68 0 103 0 14 0-108 0 75 1 0 0 9 0 73 0-160 0 78 0-25 0 80 0 39 0 5 0-97 1 134 0-106 0 112 0-188 0 11 0 42 0-16 0-82 0 111 1-123 0 80 0 57 0-89 0 66 0-20 0-8 0 67 1-89 0 110 0-129 0 100 0-49 0 28 0-58 0 30 0 5 0 15 0-3 2 102 0-82 0-78 0 128 0-14 1-131 0 176 1-86 0 12 0-33 0 6 0 13 1 22 0 54 0-30 0-15 0-30 0-51 0 24 0 79 0-26 0-58 0 35 0 86 0-51 0-9 0 50 1-66 0-72 0 57 0-8 0 53 0-48 0-2 1 12 0-34 0-13 0-31 0 112 0-27 1-15 0 37 0-5 0-136 0 99 0-87 0 193 1-146 0 127 0-105 0 11 0-27 1-48 0 174 0-159 0 67 1-7 0 25 1 70 0-159 0 100 0-40 0 48 1-21 0-29 0 107 0-61 1-20 0 8 0-15 0 47 0-18 1-26 0-13 0-74 0 49 0 62 0 0 0-46 0 120 1-28 0-90 0 79 0-107 1 84 0-29 0-88 0 158 0-159 0 113 0-26 1 59 0-3 0-37 0 54 1-128 0 195 0-96 0-88 0 112 0 6 1-76 0 31 0 23 0 53 0-144 0 58 0-94 0 119 0-62 0-103 0 168 1 7 0 50 0-86 0-107 0 12 1 147 0-66 0-68 0 50 0-15 0 95 0-21 1-103 0 77 0 38 1-87 0 21 0-49 1 90 0-115 0 62 0 15 0-15 0 46 0-22 0 28 0 25 1 1 0-22 0-65 0 94 0-106 0 6 0-2 0 66 0-63 1 8 0 12 0 7 0 113 0-109 0-17 0 20 1-45 0-3 0 49 0 28 0-55 0-6 0 80 0-139 1 19 0 69 1 107 0-129 0 105 0-90 1-108 0 199 0-39 0-78 0 8 0 96 0-68 1 55 0-14 0-58 0 1 0 60 1 69 0-102 0-86 0 89 0-85 0 70 0 20 0-43 1-7 0 0 0 53 0 8 0-34 0-16 1-68 0-25 0 96 1 57 0-138 0 108 0 2 0 28 0 9 0-48 1 86 0-76 0-80 0 55 1 17 0 52 0-44 0 3 0-75 0 44 0 46 0-123 0 132 1-4 0-63 0 55 0 21 0-3 0 13 0-93 0 15 1-32 0-47 0 139 0-20 0-89 0 108 1-10 0-46 0 12 0-3 0-11 0 69 1-52 0-29 0 70 0 9 0 24 0-21 0-127 0 68 0 39 1-107 0 32 0-5 0 76 0-82 0 117 0-29 0 37 1-69 0 39 0-91 0 18 0 56 0-13 0 32 0-10 0-10 1-137 0 207 0-130 0 98 0-109 0 98 0 7 1-74 0 1 0-44 0 40 0 17 0-31 0-22 0-58 1 91 0 32 0 82 0-137 0-24 1 71 0 1 0 83 0-25 0-40 0 3 0-17 0 33 0 35 0-29 1-59 0 66 0-108 0-25 0 120 0-92 1 24 0 51 0 56 0-139 0 110 0-45 1-42 1 65 0-47 0 13 0 125 0-91 0-5 1 45 0-162 0 182 0-59 1-14 0-50 0 91 0-73 0-16 0-40 0 146 0-105 1 13 0 47 0 10 0 53 0-113 1-35 0 44 0-26 0 5 0-13 1 75 0 29 0-19 0-143 1 10 0 159 0-134 1 124 0-97 0 32 0 152 0-101 0-54 1 126 0-127 0-13 0 63 0 49 1-39 0 55 0-21 0 0 0-55 0-32 0-21 1 33 0-27 0 18 0-79 0-8 1 62 0 124 0-80 0 46 0-9 0-46 0-60 0 125 0-33 1-88 0 96 0-47 0 128 1-244 0 153 0-76 0 51 0-98 1 108 0-21 0-78 0 108 1-12 0-66 0 116 0-70 0 14 1 59 0-134 0 78 0 34 1-114 1 164 0-53 0-82 0 127 0-97 0-15 1-22 0 86 0-40 0 21 0 2 0-29 0 13 0-12 0 44 1-12 0-72 0 24 0-26 1 62 0 65 0-75 0 85 1-171 0 95 0 49 0-112 0 41 0 6 1-8 0-19 0 59 1-108 0 97 0-60 0 55 0-9 0 13 0-35 0 23 0-25 1 20 0-16 0 16 0 72 0-22 0-161 1 91 0-63 0 161 0-102 0 135 0-115 0-43 0 100 0-42 0 49 0-10 1-55 0-74 0 13 0 55 0-104 0 109 0 39 1-101 0 3 0 136 0-81 0-13 0 36 0-98 1 81 0 24 0 59 0-51 0-115 0 142 1-104 0 38 0 62 0-8 0-79 0-46 0 140 0-53 0 10 1 12 0-24 0 94 0-94 0 59 0-20 0-81 0 55 0-28 1 6 0 40 0-34 0-48 1 123 0-88 0 98 0-65 0 29 0-47 0-72 0 68 0 0 1-12 0-88 0 120 0-41 0-8 0 73 0 7 1-94 0 1 0 75 0 5 0-4 0-37 1 98 0-86 0-29 0-33 0 98 0-64 0 47 0 23 0-66 1 69 0 12 0-63 0-55 0-24 1 23 0 2 0 30 0 57 0-17 0-35 1 72 0-59 0 112 0-118 0 37 0-76 0 85 0-3 1-7 0 8 0 51 0-9 0-88 0-35 0 33 0 6 0 77 0-119 1 5 0 71 0-55 0 19 0-23 0 118 0-69 0-55 1 78 0-8 0 29 0-65 0 19 0-60 0 79 0-95 1 80 0 49 0-12 0-133 0 89 0 1 0-5 1 31 0 53 0-53 1 41 0-130 0 122 0 3 0-119 0 22 0-63 1 88 0 19 0 86 0-135 1 7 0 15 0 71 0-63 0 6 0-53 0 84 0-50 0-19 0 27 1-3 0 20 0 40 0 21 0 61 0-114 0 22 0 37 1-109 0 47 0-2 0 101 0-63 0-100 0-66 0 134 1-85 0 21 0-14 0 53 0-22 1 128 0-102 0 51 0-144 0 164 0-118 1 54 0-9 0 63 0-71 1 58 0-46 0 23 0 64 0 16 0-132 1 43 0 18 0-43 0 130 0-135 0 17 1 28 0 27 0-91 0-22 0 75 0 44 0-109 1 41 0-30 0-7 0 47 0-56 0 64 1 45 0-45 0 43 0-8 0-57 0-14 0 42 0-23 0-15 1-44 0 161 0-43 0 93 0-130 0 25 1 2 0-163 0 108 0 98 0-61 0 35 0-35 0 10 0-45 1-5 0-63 0-7 0 157 0-102 0 5 0 59 1 20 0-31 0 23 0-13 0-70 0 161 0-59 1-108 0 20 0-36 0 87 1-45 0-95 0 224 0-68 0-36 0 62 0-67 0 47 1-78 0 90 0-122 0 178 0-89 0 21 0 6 1-48 0-1 0-26 0 17 0 21 0 13 0-49 1-11 0 85 0-138 0 185 0-124 0 46 0 35 0 70 1-158 0-48 0 58 0-77 0 31 0-39 0 140 0-40 1 2 0 42 0-12 0-99 0 111 1-69 0-38 0 48 0-47 0 24 0-49 1 52 0 29 0-16 0 74 0-70 0-1 0 71 0-9 0-24 1-19 0-36 0-37 0 95 0 41 0 6 0 63 0-122 0 10 0-3 0 12 0-91 0 28 1 45 0-34 0 75 0-113 0 155 0-163 1 69 0-99 0 121 0 17 0-24 0-64 0 107 1-69 0-43 0 78 1 12 0 27 0-62 0-34 0 22 0-42 0 83 0-53 1 14 0 21 0 28 0 37 0-43 0-90 0 129 0 51 0-110 0-16 0-58 0 49 1-44 0 124 0-158 0 62 0 64 1-93 0 17 0 133 0-199 1 77 0 149 0-67 0-133 0 43 0-44 0 117 0-68 0 9 1-39 0 117 1-81 0-62 0 117 0-99 0 136 0-68 0 56 1-46 0 8 1-20 0 32 0-114 1 11 0 120 0 23 0-55 1-64 0 36 0 73 0-22 0-90 1 143 0-173 0 54 0-79 0 134 0 98 0-121 0-17 0 1 0 13 0 36 0 12 0-28 1 65 0-168 0 77 0 28 1-23 0 104 0-93 0-66 0 61 0 60 0 34 1-78 0 36 0-28 1-23 0-98 0 146 0-99 0 97 0-8 0-24 0 79 1-75 0 61 0-110 1 33 0 142 0-89 0-120 0 116 1-53 0 57 0-116 0 108 0-18 0-13 0-61 0 48 1 86 0-4 0-114 0 35 0 83 0-26 0-85 1 85 0-59 0 3 0-41 0 78 0-9 0 24 0-24 1-34 0-40 0 7 0 67 0-51 1 46 0-106 0 82 0 0 0-23 0 2 0-19 0-48 0 189 1-114 0 50 0 67 0-114 0 56 0 68 1-61 0-67 0-30 0 32 0 77 0-97 0-7 0 39 0 75 0-99 0 102 0 0 1-95 0 42 0 26 0-120 0 55 0-22 0-15 1 120 0-86 0 14 0 40 0 17 0-54 0 9 0 57 0-74 0 44 1-43 0 42 0-20 0 51 0-55 1-4 0-80 0-18 0 205 0-57 0-145 0 184 0-162 0 80 1 49 0 46 0-12 0-76 0-23 1-16 0-31 0 5 0-31 0 103 0-27 0-55 2 138 0-207 0 138 0-23 0-22 0-94 0 152 0-1 0-79 1 111 0-80 0 58 0-63 0 5 0 5 1 41 0-40 0 98 0-65 0-43 0-27 1-37 0 167 0 19 0-67 0-14 0-66 0 87 1-54 0 61 0-73 0 39 0 15 0-38 0 63 0-72 1-26 0 51 0-20 0 92 0 0 0 6 1-42 0 80 0-36 0-29 0 24 1-33 0 32 0-139 0 41 0 165 0-146 1-22 0 22 0 10 0 38 0-15 0-96 0 130 0 30 1 1 0-30 0 12 0-59 0-18 0 13 0-65 0 32 0 12 1 35 0-15 0 60 0-20 0-92 1 25 0-71 0 152 0-8 0 3 0-60 1-40 0 27 0 67 1-4 0 26 0-84 1 62 0 71 0-220 1 90 0 20 0 38 0-68 0 87 0-136 1 104 0-19 0-62 0 71 0 51 0-84 0-34 1 64 0-41 0 6 1 102 0-48 0 24 1-177 0 61 0 8 0 21 0-15 0 47 1 48 0 25 0-86 0 10 0 98 0-172 0 115 0-15 0 14 1-16 0-21 0 58 0-78 1 33 0-113 0 159 0-57 0-107 0 167 0-100 0 63 0-13 1-25 0 68 0-119 0 72 1 107 0-85 0-9 0-100 0 70 0 4 0-3 0-7 1 8 0-15 0-47 0 28 0 34 0-25 0 49 1 43 0-66 0-41 0-26 0 148 0-95 0-39 0 47 0 16 0 13 1-98 0 93 0-14 0-19 1 34 0-37 0 127 0-59 1 4 0-53 0 75 0-62 0-74 0-6 0 56 0 17 1 7 0 35 0-41 0-11 0 29 0-83 1 97 0-14 0-5 1 21 0-149 0 15 0 2 0 176 1-125 0 48 0 98 0-196 0 37 0 59 0 33 0 37 0-121 0 87 0-96 0 51 0-10 1-3 0 79 0-24 1-116 0 112 0 34 1-88 0 15 0 70 1-95 0 115 0-122 0 33 0-20 0 38 0-2 0-81 1 78 0 5 0-36 0-18 0 60 0-8 0-98 1 118 0 72 0-91 0 12 1-100 0 122 0-23 0-7 0-37 0 76 0-10 0 2 1-87 0 115 0-33 0 71 1-168 0 63 0-10 0 42 0-6 0-52 0 22 0-97 0 162 1-64 0-13 0 1 0-1 0 30 0-40 0 13 1-67 0 98 0 24 0-49 0-35 0 38 1 70 0-90 0-8 0 32 0 48 0-25 0-31 0-49 0 102 1-26 0-124 0 193 0-29 1-21 0-5 0-71 0 90 1 5 0 20 1-100 0-10 0 142 0-102 0-106 0 52 0 53 0 45 0-117 1 48 0-25 0 32 0-44 1 96 0-89 0 31 0 40 0-53 0 30 0-26 0 108 0-127 0 59 1-40 0-5 0-48 0 75 1-15 0 27 0-14 0-44 0 14 0-48 0 104 0 19 1-60 0-16 0 146 0-131 0 70 1-95 0 29 0-42 0 52 0-20 0 31 1 8 0-72 0 162 0-146 0 58 1 36 0-23 0-60 0-4 0 13 0-60 0 124 1 38 0-20 0 48 0-146 0 39 1 3 0 29 0-53 0-94 0 136 1 68 0-167 0-29 0 124 1-89 0 77 0 9 0-58 0-24 1 68 0-45 0 59 0-6 1 40 0-26 0 4 0-145 0 71 0 165 0-99 0-65 0 21 0 118 1-68 0-20 0-28 0 7 0 114 1-178 0 89 1-127 0 182 0-46 0 9 0-96 0 6 0 81 0-27 0 14 1-34 0-2 0-13 0-35 0 37 0-77 0 147 1-34 0 37 0-42 0-119 0 162 0 22 0-126 0-11 1 149 0-114 0 37 0-64 1 77 0-38 0 103 0-59 1-155 0 65 0 86 0-3 1-92 0 76 0 59 0-27 1-94 0 92 0 32 0-90 0-43 0 137 0-14 1-64 0-18 0 84 1-33 0 36 1-55 0-55 0 38 0 68 0-49 0-31 0 4 0 98 0-31 0-19 0-48 0-78 0 131 1-148 0 185 0 19 0-35 1-76 0 55 0-62 0-10 0 32 1 36 0 31 0-36 0 13 0-90 0 79 0 30 0 3 0-30 0-60 0 137 0-71 0 73 1-63 0 35 0-158 0 41 1 68 0 24 0-90 1-51 0 176 0-131 0 110 0 53 0-135 0-37 0 51 0 69 1-141 0 97 0-83 1-14 0 10 0 49 0-56 0 79 0-70 0 3 0-26 0 115 0-71 1 44 0 40 0-35 0-18 1-18 0-38 0 100 0-36 0-104 0 66 1 107 0-44 0-5 0 36 0-152 0 76 0-2 0 19 1 49 0-63 0-57 0 49 0-5 1 156 0-64 0 7 0 25 0-79 1 44 0-15 0-17 0-83 0 164 0-97 1-13 0 51 0-21 0 44 0-102 0-89 0 40 0 78 0 29 0 74 1-133 0 38 0-56 0 81 0 36 0-6 0-97 0-21 1 3 0 67 0-107 0 176 1-29 0-1 0-79 0 50 0 72 0-83 0 40 0-27 0 75 1-116 0-127 0 170 0-51 0-57 0 49 1-15 0 65 0 12 0-86 1 2 0 115 0-121 0 105 0-61 0-38 1 71 0-32 0 32 0-18 0-76 0 20 1-38 0 170 0-67 0-52 0 76 1-26 0-22 0-29 0 35 0 30 0 29 0-67 0 22 0 31 0 17 0-22 1-51 0 38 0-14 0 68 0-115 0 80 0-18 0-23 0 25 0-45 0-42 1 167 0-27 0-74 0 94 0-33 1-97 0 76 0-31 0-29 0 12 0 32 1 19 0-18 0-26 0-59 1 36 0 66 0-39 0-7 1-10 0 27 0-62 0 34 0-55 0 177 0-77 1-54 0 40 0 38 0 72 1-62 0-114 0 88 0 38 0-50 0-100 0 14 1 199 0-103 0-76 0-13 0-32 1 67 0-9 0-5 0 137 0 12 0-124 0-102 1 41 0 107 0 52 0-141 0 41 1 18 0 61 0-37 0-27 0-50 0 104 1-26 0-78 0-33 0 210 0-221 0 125 0-62 1 0 0 36 0 94 0-64 0-50 1 110 0-151 0 119 0 9 0-62 0 13 0 27 0 63 1-40 0-89 1 9 0-19 0-31 0 35 0-19 0-3 0 85 0-12 0 1 0 12 0 5 0-27 1 25 0-115 0 84 0-15 0 67 1-55 0-60 0 132 0-92 0 60 0 0 0-2 1 12 0-93 0-25 0 59 0-93 0 164 0-44 0-31 0-38 0-36 1 169 0-50 0-80 0 2 0 121 0-58 1-30 0 36 0-17 0-69 0 152 0-32 0-46 0-110 0 140 1-64 0 54 0-3 0-102 0 99 0-39 0-31 0 84 0-48 0 80 0-41 1-92 0 74 0-60 0 73 0-23 0 66 0-78 0-53 0 40 0-18 0-80 0 74 1 117 0-149 0 106 0-63 0 69 1-23 0-26 0-71 0 24 0 26 0 142 1-14 0-170 0 85 0-87 0 62 0 105 0-32 0-33 0-118 0 52 1-13 0 181 0-126 0 74 0-48 0-29 0-25 0 115 1-88 0 32 0-20 0-47 0 79 0-85 1 57 0-63 0-52 0 165 0-10 0-42 0-98 0 26 0 83 1-97 0-2 0 24 0 30 0 97 0-18 0-17 0 10 0 11 0-45 0-31 0 14 0 24 0 7 1 38 0-28 0 21 0-73 0-16 0 0 1 26 0-67 0 40 0 61 1-51 0-35 0-9 0 19 0 0 0 139 1-7 0 19 0-117 0-35 0 16 0-33 1 75 0-46 0 90 0-99 1 61 0-125 0 97 0 13 0 8 0-32 0 30 0 3 0 1 0 73 0-94 1 65 0 29 0-19 0-26 0-2 0 42 0 4 0-103 1 25 0 89 0-59 0-89 0 74 0 34 0-14 0-24 1-13 0-8 0-46 0 90 0-8 0-59 0-2 0 3 0 21 1 115 0-90 0 23 0-26 1 4 0-13 0-87 0 153 0-24 0-4 1-2 0 29 0-81 0 64 0-109 0 153 1-66 0-101 0-54 0 112 0 59 1-54 0 43 0 10 0 21 0 23 0-52 0-42 0 7 0-30 0 39 1 58 0-9 0-117 0 6 0 81 0 23 0 1 0 45 0-49 0-44 1 6 0 50 0 23 0 8 0-38 0 82 0-145 1 47 0-61 0 27 0 112 0-165 0 61 0-4 0 20 1 24 0-79 0 14 0-7 0-21 1 51 0-27 0 5 0-28 0-19 0 9 0 0 1 12 0-25 0 16 0 156 0-162 0 100 0-135 1 173 0-35 0-49 0 134 0-121 1 10 0-98 0 106 0 14 0-123 0 109 1 12 0-7 0-88 1 47 0 94 0-34 1-109 0 87 0-116 0 133 1 39 0 55 0-152 0 24 1-4 0-42 0-2 0 79 0-61 0 27 0-24 0-3 0-24 0 32 0 78 0 21 0 35 1-198 0 20 0 115 0-13 0-71 0 75 1-34 0-85 0 109 0-13 0-11 1 15 0-109 0 140 0-45 0 70 0-58 0 3 0-58 0-27 1 87 0-71 0 73 0-29 0-109 0 138 0 27 0-95 0-8 0 67 0-40 1 23 0-65 0 38 0 9 0-2 0 96 0-115 0-47 0 25 0 15 0 74 0 51 0-73 1 57 0-103 0 92 0-51 1-1 0-24 0 18 0 67 0-78 0 45 0-36 1-10 0 23 0-112 0 125 0 5 0-88 0 59 0 18 1-67 0 63 0 39 0-1 0-35 0 85 0-38 0-85 0 39 0 82 0-55 0-40 0 55 1-38 0-43 0 1 0 13 0-86 0 85 0-29 0 29 0-2 1 42 0-26 0-10 0 20 0 10 0-46 1 2 0 24 0 21 0 6 0-111 0 51 1 15 0-66 0 84 0 50 0-97 1 16 0 93 0-88 0 12 0 22 0-11 1 35 0-10 0-86 0 105 0-27 0 67 0-45 1-61 0 91 0-78 1-9 0 24 0-2 0-21 0 28 0-42 0-2 0 138 0-174 0 137 1-48 0-82 0 29 0-62 0 61 1 103 0-123 0 91 0-31 0-67 0 35 0 100 0-102 0 38 0-56 1 30 0 36 0 23 0-109 0 111 1 16 0-83 0 62 0-77 0 77 0-22 1-17 0 54 0 2 0-38 0-19 0 56 0-51 1 132 0-264 0 190 0 19 0-72 0-100 1 133 0-34 0 34 0 39 1-76 0-11 0 51 0-64 0-2 0 39 0 1 0 39 1 18 0-58 0-49 0 152 0 11 1-69 0-135 0-7 0 98" fill="none" stroke="none" marker-start="url(#mssp1)" marker-mid="url(#mssp1)" marker-end="url(#mssp1)"/><polyline points="336.6,201.5 338.2,200.6 339.8,199.9 341.5,200.1 342.7,198.7 344.7,197.4 346.3,195.3 347.9,197.3 349.5,196.0 351.2,196.0 352.8,194.8 354.2,194.0 356.0,194.0 357.6,193.1 359.3,192.6 360.9,190.6 362.5,190.5 364.2,191.5 365.7,190.4 367.3,190.2 369.2,190.4 370.6,190.4 372.2,188.0 373.8,187.2 375.6,189.2 377.1,188.6 378.7,189.4 379.3,188.6 380.3,187.9 381.9,188.9 382.9,188.0 383.5,187.6 385.1,188.6 386.5,187.4 388.4,187.1 390.1,188.0 391.6,187.9 393.2,187.7 393.8,187.4 394.9,188.1 396.5,189.3 397.4,188.0 398.1,189.0 399.7,188.3 401.0,189.8 402.9,189.7 404.6,189.2 406.2,190.6 408.3,189.8 409.4,190.3 411.0,190.5 412.0,190.6 412.7,190.1 414.3,190.1 415.9,191.1 417.3,191.8 419.1,191.4 420.9,191.8 422.4,191.5 424.0,190.6 424.5,191.1 425.6,192.4 427.2,192.6 428.1,192.4 428.8,192.7 430.5,193.1 431.8,193.0 433.7,194.1 435.4,194.2 436.9,192.8 439.0,194.2 440.2,194.3 441.8,197.5 442.6,196.0 443.4,195.7 445.0,196.5 446.6,196.7 447.6,196.8 448.3,196.1 449.9,196.5 451.3,197.4 453.1,197.0 454.9,198.0 456.3,197.5 458.0,199.3 458.5,198.6 459.6,200.1 461.2,199.2 462.1,199.2 462.8,198.4 464.4,198.3 465.8,197.4 467.7,199.5 469.4,199.8 470.9,200.8 473.0,202.2 474.2,202.2" fill="none" stroke="#50108c" stroke-width="1.6" stroke-linejoin="round"/><path transform="scale(.1)" d="M3360 2038l0 65 0-42 0-5 0-54 1-31 0 20 0-39 0 35 0-5 0 75 1-36 0 58 0-11 0-94 0 92 0-81 0 23 1 32 0-79 0-44 0 89 1-39 0 37 0 49 0-16 0-17 0 25 1-26 0-14 0 25 0-83 0 29 0 28 0 13 0-83 1 105 0-58 0-22 0-12 0 93 0-53 0 39 0 13 0-12 0 18 0-72 0 44 1-68 0 169 0-82 1 0 0 1 0-62 0 61 0-32 0 67 0-12 0-85 0 22 1-34 0 7 0 26 0 30 0 12 1-71 0 159 0-126 1-58 0 28 0 60 0-22 1-12 0 4 0 33 0 6 0 1 1 83 0-144 0 24 0-71 0 145 0-135 1-5 0 11 0 130 0-61 0-31 0 10 1-30 0 66 0-118 0 40 0 98 0-5 1-101 0 27 0 120 0-34 0-67 0-18 0 43 0-45 0 100 0-119 0 15 1 48 0-15 0-2 0 31 0-41 0 29 1-14 0 1 0 29 0-96 1 18 0 121 0-82 0 46 0-92 0 70 0-16 0 13 0-51 0 64 0 9 0 42 1-110 0 31 0-24 0-92 0 107 0 6 1 19 0-11 0-77 1 62 0 52 0-61 0 0 0-69 1 43 0 65 0-17 0 65 0-40 1-5 0 51 0-91 0 84 0-86 0 44 0-44 0-27 1-34 0 41 0 66 0-33 1 30 0 12 0 12 0-27 0-28 0 51 0-132 1 92 0-23 0-46 0 38 0 5 0 4 0 41 0-25 0 30 1-7 0 13 0-17 0-94 0-12 1 83 0 61 0-67 0 8 0-26 1-20 0 42 0-16 0-74 0 93 0-71 1 14 0 104 0-1 0 5 0-8 0-24 0-22 0-45 0 96 0-10 0-114 1 106 0 22 0-35 0-36 1 15 0-22 0 26 0 84 0-97 1 15 0 68 0 15 0-111 0 9 0 4 0 18 0-60 0 53 0-21 1 45 0-45 1-5 0 30 0 50 1 11 0-70 0 38 0-113 0 91 1-2 0-43 0 141 0-65 0-69 0 112 1-80 0-29 0 64 0 23 0-35 1-21 0-2 0 20 0-116 1 155 1-50 0-118 0 199 0-126 0 21 1-2 0 46 0-39 0-1 0-11 0 50 0-97 0-12 1 108 0-56 0 8 0 25 1-69 0 0 0-61 0 173 0-67 0 0 0-14 0 60 0-10 0-93 1 23 0 55 0-87 0 50 0-23 0 43 1 35 0-31 0 23 0 5 0-85 0 8 1-54 0 189 0-130 0 22 0 8 1 77 0-25 0-44 0-28 0-13 0 41 0-59 0 121 0-82 0 33 1 11 0 36 0-44 0-19 0 99 0-30 0 18 0 25 1-130 0 111 0-95 0 3 0-22 0-8 0 63 0-104 1 72 0 1 0-64 0 174 0-156 0 29 0 28 1 64 0-79 1-14 0 78 0-67 0 66 0-57 0 10 0 50 1-101 0 4 0 87 0-82 0 28 0-1 0-33 0-51 0 88 1-20 0 94 0-41 0-69 1 6 0 27 0-15 0 6 0-42 1 29 0 32 0-67 0 69 0 77 0-137 0 58 0 58 0-98 0 88 1 34 0-62 0-24 0 122 0-123 0 3 0-3 1-21 0 36 0-82 0 137 0-102 0 23 0-5 1 76 0-60 0 51 0-25 0-67 0-15 0 105 0-61 1 24 0-79 0 89 0 2 0-55 0-27 1 50 0-59 0 65 0 6 0 27 1-17 0-34 0 26 0-63 0 123 0-68 1-20 0 33 0-46 0 40 1 32 0-12 0 49 0-91 0 1 0-67 1 39 0 58 0-15 0 16 0 36 1-21 0-62 0 118 0-67 0 13 0 22 0-2 0-116 0 41 0-1 1-3 0 39 0 6 0 31 0-83 0 18 0 24 0 11 1-69 0 21 0 41 0 45 0-179 0 118 1-7 0 2 0-32 0 50 0-25 0-16 1 49 0-57 0 20 0 65 0-28 1-70 0-7 0 47 0 0 0 71 0-60 0-51 0 84 1-11 0-32 0 12 0 86 0-124 0 25 0 42 0 34 0-197 0 119 0-2 0-23 0 27 1 23 0-77 0-23 0 128 0-89 0-65 0 88 0 31 0-19 0 4 0-42 0 130 0-123 1-21 0-22 0 123 0-62 0 49 0-11 0-44 1-21 0-9 0-2 0 30 0 26 0 33 0-109 0 135 0-33 1-89 0 71 0 29 0 17 0 32 0-191 1 63 0 43 0-32 0 97 0-51 1 29 0-40 1-114 0 99 0-21 0-6 0 6 0-30 0 59 1 10 0-9 0 19 0 12 0-27 0-17 0-30 0 10 0 42 0-82 1 74 0-5 0-16 0 25 0-6 0-3 1-8 0 7 0-18 0 79 0-106 0 52 0-29 0 43 0-81 1-20 0 143 0-35 0 26 0-113 0 123 0-18 0-59 0 57 0-129 1 117 0 35 0-126 0 117 0-7 0-60 1-24 0-55 0 34 0 25 0 84 0-76 1 65 0-52 0-6 0 31 0 32 0-47 0 25 0-42 0-22 0 65 0 5 0-111 0 74 1 46 0-65 0-44 0 53 0-19 1 46 0 23 0 11 0-22 0 5 0 15 0-56 1 8 0-64 0 122 0-90 0 44 0-77 0 61 0-16 1 65 0 5 0-66 0-88 0 94 0-75 0 148 0-122 1 95 0-36 0-33 0-39 0 67 0-81 0 165 0-68 0-132 1 20 0 147 0-60 0-25 0 63 0 14 0-112 0 112 0-20 1-16 0-21 0-25 0-78 0 147 0-31 1 27 0 48 0-125 0 56 0-14 0 10 1 3 0-57 0-7 0 58 1 25 0-124 0 84 0 87 0 15 0-186 0 130 0-44 1-20 0 55 0-65 0 111 0-15 0-159 0 118 0 59 0-62 0-108 1 42 0-11 0 52 0 57 0-37 0 45 0-20 0-6 1 81 0-122 0-50 0 101 0-27 0-82 1 35 0-12 0 58 0-25 0-44 0-1 0 9 1 119 0-138 0 20 0 61 1-56 0 40 0-16 0 73 0-49 0-40 0 105 0-48 1-45 0 76 0-27 0-31 1 45 0-11 0-103 0 66 1 17 0-28 0-16 0 32 1 12 0-1 0-2 0-20 0 31 0-14 0-67 1 46 0 70 0-95 0 73 0-15 0 7 1-54 0 34 0-28 0 116 0-117 0 36 1-9 0-103 0 71 0 74 0-71 1 71 0-88 0 83 0-53 1 56 0-85 0 89 0-43 0 28 0-78 1 54 0 7 0 73 0-71 0 3 0-42 0 6 1 14 0 3 0-19 0 3 0 3 0 82 0-60 0-61 0 72 1-28 0 79 0-97 0 44 0-55 0 113 0-130 0 35 0 38 1 31 0 2 0-47 0-75 0 106 0 20 0-157 0 158 1-66 0-44 0-2 0 64 0-28 0 25 1 51 0-100 1 96 0-3 0-106 0 26 1 98 0-55 0-8 0 75 0-62 0-8 0 0 0-31 0-13 0 77 1-75 0 15 0 62 0-116 0 144 0-99 0 70 0-84 1 79 0-73 0 84 0-131 0 124 0-40 0 52 1-77 0 24 0 11 0 21 0-87 0 17 1 20 0 57 0 7 0-44 1-34 0 23 0-77 0 77 0 5 1 10 0 0 0 7 0-13 0-11 0 37 0-77 0 76 1-30 0 43 0-15 0-60 0 35 0 49 0-38 0 10 1-6 0 16 0-70 0 15 0 39 0-7 0 75 1-88 0 50 0 15 0-3 0-64 1 55 0-53 0 23 0-22 0 51 1-41 0-6 0 39 0-56 0 47 1 12 0 11 0-83 0 50 0 25 0-16 1 8 0 67 0-52 0 21 0-76 0 110 0-128 0 2 0 91 1-6 0-14 0-57 0-3 0-37 0 87 0-46 1 9 0-1 0 4 0-18 0-35 0 42 1 48 0 62 0-31 0-100 0 49 0-53 0 59 0 8 1-86 0 90 0-81 0 44 0-53 1 17 0-70 0 98 0-10 0 47 0-27 0-17 0 39 1-45 0 44 0-42 0 63 0-15 0-38 0 13 0-28 0-2 0 53 1 3 0-69 0 40 0-38 0 76 0-13 0-34 0 20 1 43 0 4 0-103 0 14 1 12 0-43 0 13 0 46 0-29 0 40 0-10 0 58 0-36 0 14 0-76 0-14 0 128 1-61 0-44 0-72 0 175 0-108 0 50 0 0 0 3 1 20 0-87 0 40 0-78 0 85 0-30 0 28 0-20 0 107 0-46 1-23 0 33 0-62 0-25 0 28 0 19 0 3 0-35 0 14 1 56 0-30 0 87 1-116 0-64 0 52 0-84 1 37 0 23 0 87 0-118 0 127 0-52 0-25 0 26 0-2 0 57 0-18 1-56 0-29 0 45 0 90 0-98 0 4 1 34 0 14 0-51 0-75 0 72 0 0 0 85 0-59 0-57 0 115 0-26 0 20 1 13 0-37 0 10 0-33 0 23 0 9 0-16 0-73 0 17 0 83 0-48 1 26 0-39 0 40 0 19 0-52 0 52 1-90 0 23 0-38 0 38 0 19 0-52 0 111 0 2 1 37 0-186 0 60 0 22 0 27 0-84 1 60 0 68 1-79 1 19 0 13 0 19 0-45 0-85 0 63 0 34 0-57 1 13 0 80 0-35 0-56 0 95 0-73 0 34 0-49 0-8 0 41 1-18 0 7 0-33 0-51 1 192 0-212 0 119 0-76 1-60 0 91 0 6 0 6 0 89 0-86 0-72 1 17 0 42 0 41 0-74 1-15 0 96 0-67 0-50 0 139 0-93 0 36 1-10 0-4 0 23 1 24 0 26 0-120 0 35 0 88 0-3 0-55 1-5 0 60 0-98 0 60 0 3 0 13 0-62 0 9 0-1 0-7 0 17 0 34 1 57 0-133 0 99 0-59 0-14 0 26 0 37 1-76 0 50 0 73 0-119 0-24 0 15 0 40 0 54 0-25 0-6 1-25 0 64 0 15 0-148 0 35 0-53 1 101 0-33 0 17 0 19 0-54 0 60 0-23 0 3 1 5 0 51 0-44 0 34 1-107 0 36 0 77 0-34 0 17 0-9 0 5 0 10 1 45 0-121 0-22 0 43 0 8 0-87 1 115 0-75 0 23 0 21 0 6 0-10 0-3 0 6 0-68 1 172 0-78 0 56 0-63 0 12 0-21 0 86 1-140 0 143 0-47 0 24 0-130 0-10 1 72 0-11 0 41 0-64 0 60 0-33 0-91 1 71 0 23 0 65 0 11 0-179 0 136 0 62 0-139 0 72 0-69 1 58 0-36 0-7 1-54 0 95 0 48 0-146 0 42 0 61 0-95 0-7 0 88 0 121 0-147 1 18 0 8 0-6 0-57 0 61 0 78 0-59 0-29 0 58 1-37 0 65 0-110 0 121 0-137 0 70 1-85 0 149 0-50 0-43 0 31 0-42 1 77 0-47 0-7 0-23 0 114 0-63 0-23 1-15 0-25 0 103 0-54 1 0 0 44 0-19 0-32 1 31 0 45 1-7 0-60 0 36 0-129 0 30 0 81 0-84 1 82 0-52 0 20 1 21 0-67 0 48 0 74 0-129 1 96 0-77 0 66 0-28 0 6 0-91 1 153 0-52 0-64 0 97 0-35 0-67 0 16 0 83 0-100 1 70 0-12 0-10 0 13 0-16 0 64 1-115 0 73 0 19 0-52 1-62 0 146 0-7 0-125 0-31 0 176 0-114 0 59 0 3 1-34 0-85 0 54 0 44 0 11 0-69 0 104 0-67 1-21 0-15 0 33 0-57 0 57 0-34 0 106 1-84 0-17 0 2 0 81 0-40 0 36 1-72 0 66 0-118 0 217 0-187 0 37 1 15 0 57 0-75 0-95 0 119 0 20 1-114 0 40 0 76 0-64 0-20 1 115 0-81 0-53 0 104 0-68 0-32 1 124 0-69 0 73 0-86 0-42 0 32 0 33 0-28 0 124 1-69 0-55 0 18 0 104 0-65 0 17 0-87 0 53 0 61 1 0 0-124 0 60 1 17 0-27 0-99 0 81 0 22 1 8 0 12 0-22 0-42 0 34 0-4 0 11 0-16 0 45 0-40 0-56 1 145 0-48 0 20 0-25 0 63 0-16 0-15 0-48 1-22 0 72 0-129 1 41 0 72 0-43 0-115 0 101 0 35 0-8 0-10 0 117 1-110 0-34 0-9 0 15 0 86 0 57 0-106 0-14 1 24 0 13 0-34 0-39 0-3 0 26 0-29 0 36 0 64 0 1 0-58 1 26 0 22 0-105 1 21 0 7 0-65 0 142 0-90 1 17 0-34 0 133 0-156 0 78 1-22 0 76 0-121 0 54 0-71 1 33 0 33 0 14 0 61 0-83 0 111 1-131 0 139 0-65 0 24 0 14 0-18 0 11 0-115 1 40 0 28 0-118 0 25 0 45 1 33 0 53 0-130 0 163 0-164 0 98 0-41 1 39 0 68 0-133 0 98 0-39 0-34 0 48 1-75 0 121 0-100 0 6 1 97 0 7 0-105 0 17 0-79 0 73 0-24 0 84 1-72 0-12 0 94 0-43 0-74 0 33 1 117 0-75 0 1 0-11 1-57 0 55 0 0 0 36 0-10 0-17 0 11 1-72 0-38 0 116 0-86 0 121 1-42 0-137 0 119 0-24 0 29 0 14 0 26 1-111 0 116 0-79 0-13 0 16 0 57 0-22 0 31 0 4 1-112 0 160 0-146 0-35 0-15 0 78 0 29 0-45 1 70 0-39 0-11 0 69 0-29 0-55 0 64 1-23 0 22 0 56 0-128 0-6 0-24 0 53 0 58 0-20 1 56 0-114 0 32 0-6 0-19 0 29 0 87 0-127 1 40 0 2 0 44 1-14 0 32 0-138 0 38 0-4 0 51 0 4 0 16 0 23 1-88 0 31 0 26 1 11 0-132 0 122 0-39 0-29 0-10 1 129 0-104 0-61 1 41 0 59 0 14 0-46 0 75 0 6 0-178 1 131 0 66 0-87 0-10 1-3 0-45 0 23 0-27 1 115 0 13 0 66 0-199 0 11 0 80 0 39 0-49 0-71 1 70 0-13 0-4 0 122 0-87 0-87 0 36 0 22 0-61 0-5 0 33 1-11 0 40 0-37 0 41 0 40 0 84 0-76 0 47 0-72 0-9 1 11 0-5 0-6 0 1 0 45 0-64 0-61 1 80 0-41 0 113 0-76 0 47 1-52 0 42 0-97 0 50 0 26 0-20 0 6 0 25 0 21 0-54 0-75 0 99 0-64 0 37 1-3 0-53 0 182 0-101 0-15 0 4 0-59 0-6 0 20 1-8 0 98 0-137 0 110 0-14 0-36 0 95 0-79 0 11 0-56 0 79 0-157 0 216 1-120 0 40 0-45 0 72 0-52 1-66 0-32 0 142 0-75 0-24 1 74 0 8 0 8 0 17 0-135 0 73 0 3 0-22 0 50 1 12 0-77 0 71 0-2 0 27 0-26 0-112 0 70 0-37 0 63 1 6 0-77 0 24 0 6 0 42 1 53 0-166 0 99 0-45 0 48 0 5 0 57 0-104 0 69 0-4 0 17 1-89 0 2 0 28 0 0 1 14 0 4 0 81 0-109 0 1 0-12 0-50 1 75 0 87 0-136 0 45 0 36 0-50 0-35 1 91 0 27 0-1 0 29 0-100 0 133 0-144 0 47 1-10 1-68 0 103 0-110 0-43 0 144 1 13 0 66 0-145 0 55 0 3 0-86 1 91 0-87 0 61 0-25 0 82 0-15 1-20 0-88 0 63 0-2 0 100 0-80 0-10 0-5 1 29 0-110 0 164 0-98 1 48 0-40 0-24 0 27 0 9 1-8 0-100 0 23 0 5 0 70 0 19 0 7 0 63 1-37 0-111 0-21 0 70 0-21 1-16 0 141 0-66 0-77 0 47 1-30 0-26 0 4 0 154 0-95 0-20 0 34 0-57 0 100 0-4 0 16 1-189 0 175 0-135 0 46 0 40 0-29 0 3 0-6 0-11 0 48 1 61 0-68 0-84 0 132 0 17 0-114 1 65 0-30 0 81 0-86 0-77 0 71 0-39 1 66 0-52 0 39 0-72 0 120 0-75 0-9 0-10 0 80 1 22 0 24 0-67 0-76 0 85 0-80 0 47 0-89 0 142 0-4 0-84 1 54 0 31 0-32 0-54 1 41 0 85 0-79 0-11 0-28 0-8 0 106 1-54 0-29 0 51 0-88 0 35 0 36 0 66 1-117 0 37 0 23 0-69 0 86 0-83 0 39 1-27 0 149 0-203 0 119 0-32 0 72 0 4 1-178 0 74 0 45 0-25 0-33 1 101 0-35 0-26 0 13 0 2 0-51 1 124 0-50 0 23 0-53 0 32 0-74 0 5 0 37 0-53 1 104 0 8 0-119 0 53 0-5 0 32 0-10 0-72 1 34 0 111 0-59 0-34 0-59 0 182 0-137 0 40 1 16 0-39 0 21 0-132 0 119 0-96 0 125 0-118 0 82 0 87 1-135 0 86 0-65 0 5 0-11 0 6 0 75 1-32 0-58 0 46 0-12 0-27 1 11 0 43 0 10 0-2 0 11 0-33 0 23 0 15 0 58 1-89 0-22 0-33 0-7 0 77 0-105 0 65 0-51 0 112 1-41 0 14 0-13 0 12 0-40 0 76 0-138 0 63 1-25 0 88 0 65 0-128 0-65 0 79 0 17 0 47 0-30 0-6 0-2 0-69 0 49 0 45 1 28 0 28 0-109 0 23 0 13 0 34 0-148 1 72 0 30 1-14 0-50 0 41 0-22 0 72 0-77 0 25 0-33 1 0 0 36 0-57 1 62 0-4 0 52 0-44 0-21 1 36 0-57 0 56 0-88 0 67 0-10 0 21 0 1 0-48 1 70 0 64 0-67 0-49 0 18 0-57 0 63 0-22 0 48 1-103 0 131 0-88 0-6 0 7 0 3 0 27 1 4 0-25 0 38 0-10 0 14 0-66 0 94 0-108 1 29 0 12 0-63 0 3 0 71 0-66 0 50 0 1 0-8 0-67 1 67 0 84 0-34 0 18 1 4 0-92 0 20 0 61 0-10 1 10 0-21 0-134 0 145 1-8 0-105 0 46 0 119 0-53 1-15 0-26 0-49 0 29 0 33 0-15 0-75 1 29 0 52 0 19 0-21 0-51 0 110 0-69 1-31 0-33 0 90 0-15 0-102 0 8 1 39 0 119 0 32 0-79 0-74 0 78 0 59 0-94 0 18 0 50 1-40 0-27 0-47 1 86 0 11 0 12 0-30 0-101 0 210 0-182 0 22 1 67 0-55 1-11 0 20 0 26 0-47 0 39 0-86 0 171 1-85 0-28 0 27 0 83 0-177 0 111 0-55 1 26 0 84 0-46 0-78 1 62 0-5 0-26 0 138 0-144 0-30 1 61 0-66 0 53 0-45 0 2 1 59 0-65 0 92 0-77 1 82 0-54 0 51 0-75 1 39 0 22 0-59 0 5 0-15 0 39 1-64 0 118 0 4 0-84 0-24 1 46 0-59 0 52 0 6 0-31 0 9 0 77 1-70 0 109 0-71 0-65 0 53 0 112 0-118 0 27 0 38 1-104 0 44 0-47 1 12 0 16 0-41 0 35 0 47 1-17 0-79 0 57 0 66 0-44 0-32 0 3 1-6 0-39 0 69 0-49 0 22 1-19 0 60 0-82 0 82 1-44 0-32 0-33 0 123 0-80 0-13 0 53 0 2 1 9 0-87 0 94 1-5 0 22 0-107 0 99 0 0 0-26 0 22 0-77 1 48 0-32 0 54 0-2 0-56 0-2 1 36 0-4 0 67 0 17 0-24 0-92 0-9 1 87 0-33 0-40 1 52 0-63 0 1 0-2 1-17 0 70 0-78 0 81 0-16 0-19 1 3 0-58 0 21 0 118 0-108 0 50 0-37 0 70 1-62 0-1 0 104 0-199 0 99 0 49 1 3 0 65 0-160 0 63 0-18 0-12 0 73 0 8 0-29 0-61 0 65 0-34 0 25 1-1 0 32 0-75 0-41 0 77 0 27 1 12 0-58 0-56 0-20 0 83 0 11 0-41 0-11 0 73 1-100 0 110 0 49 0-69 0-83 1 105 0-79 0 8 0 30 0-28 0 1 0 19 0-8 0 57 0-76 0-18 1-45 0 84 0-19 0 8 0 7 0 3 0-27 0 20 1 16 0-77 0 137 0-118 0 64 0-9 0-41 1 34 0 56 0 13 0-59 0 7 1-84 0 87 0-100 0 134 0-70 0-2 0 74 0-29 0-78 0 63 1 46 0-35 0-6 0 45 1-156 0 130 0-36 0-56 0 34 0-63 0 112 0-11 0-84 0 116 0-81 1 39 0-48 0 80 0-29 0-13 0 8 0-114 0 116 0 68 0-78 0 89 1-103 0-15 0-12 0-7 0 25 0-12 0 19 0-35 0 51 1 11 0 11 0-43 0 26 0-26 0 18 0 10 1 36 0 68 0-147 0 73 0-60 0 44 0-19 1 63 0-13 0 50 0-86 0-69 1 72 0-5 0-6 0-35 0 74 0-116 0 129 0 38 0-216 0 114 1 99 0-78 0-72 0-34 0 95 1 30 0-113 0 136 0-172 0 162 0-63 0 107 1-101 0 62 0-100 0 32 0 10 1-10 0 72 0-161 0 2 0 120 0 33 1-55 0-57 0 75 1 20 1-9 0-24 0 78 0-11 0-66 1-6 0-20 0 90 0-89 0 56 0 65 0-126 0 16 0-98 1 214 0-131 0 12 0 18 0-7 0-59 0 146 0-71 1-23 0 51 0-19 0-59 0 56 0-65 0 127 0-97 0-75 1 65 0-22 0 37 0 139 0-221 0 87 1-19 0 84 1-180 0 158 0-59 0-89 0 103 0-46 1 41 0 32 0 77 1-90 0-71 0 90 0-70 0-15 0 34 1 44 0 8 0-117 0 109 0-43 1 66 0-131 0 74 1 43 0-31 0 38 0-110 0 109 0 9 0-67 0 7 0 10 1-42 0 27 0-35 0 37 0 73 1-50 0-35 0 34 0-63 1 26 0-57 0 41 0 80 1 44 0-98 0 18 0 13 0-5 0-65 0 86 1-8 0-60 0 21 0-46 0 99 0-61 0 61 0-86 1 94 0-67 0 94 0-102 0 45 0 49 0-51 1-92 0 18 0 106 0-151 1 32 0 11 0 130 0-179 0 217 0-38 0-85 0 103 0-136 0 55 1 47 0-142 0 123 0-30 0 23 0-7 0-57 0-79 1 101 0-12 0 44 0-147 0 112 1-22 0 42 0-2 0-14 0-13 1 9 0-14 0-49 0 89 0-27 0 76 0-10 0-115 0 58 0-38 1 76 0-29 0 18 1 66 0-150 0 166 0-62 0-62 0-19 0-72 0 115 1 84 0-47 0-29 0-4 0-14 1 8 0 73 0-98 0 111 0-164 0 134 0-114 0 110 1-14 0-30 0-38 0-28 0-53 0 166 1-138 0 95 0-84 0 81 0-89 0 128 0-105 1 75 0-73 0 17 0 28 0 69 0-72 0 56 0-36 1-10 0 29 0-84 0 82 0-47 0 6 0 19 0 16 0-39 0 42 0-80 0 59 1 9 0-65 0 12 0 84 0-139 0 53 0 41 1 5 0 37 0-16 0 10 0-6 0-36 0 49 1-35 0 24 0-49 0 106 0-60 0 46 0-89 0 92 0-63 1-34 0 14 0 54 0-93 0 61 0-105 0 40 0 77 1 7 0-74 0 11 0 0 1 128 0-5 0-25 0-13 0-48 0 3 0-72 1 51 0 65 0-36 0-28 0-61 0-59 0 117 1-56 0 106 0-34 0-84 0 5 0 69 0 3 1 43 0-12 0-86 0-15 0 17 0 72 0-82 0 75 0-60 1 51 0-85 0 87 0-45 0 79 1-30 0 47 0-150 0 114 0-9 1-60 0 94 0-71 0-35 0 62 0 44 0-61 1-4 0 19 0 48 0-67 0 5 0 68 1-52 0-38 0-23 0-37 0 206 0-53 1-106 0 29 0 23 0 39 0-59 0 46 1-18 0 41 0-62 0-84 0 88 0 26 1-61 0 51 0 18 0-132 0 132 0 34 0 48 1 3 0-187 0 27 0 76 0 0 0-72 0 48 1-75 0 127 0-98 0 23 0 26 0 4 0-33 0 110 1-50 0-19 0 10 0-6 0-90 0 21 0 130 1-126 0 27 0 42 0-39 0 15 0 69 1-69 0-64 0 54 0 95 1 18 0-35 0-9 0-24 0-26 0-83 1 85 0-15 0 17 0-19 0 12 1 13 0 88 1-145 0 37 0 78 0-148 0 87 0-18 1 17 0 1 0 17 0-35 0-71 0 85 1-12 0 71 0-40 1-5 0-102 0 52 0 94 0-62 0-30 0 35 0-13 1-46 0-85 0 152 0-46 0 45 0 22 0 21 1 25 0-138 0 55 0-33 1 18 0-14 0 11 0-36 0 89 0-101 0-42 0 73 0 50 0-21 1-75 0 1 0 68 1 67 0-76 0 1 0 28 0-67 0-57 0 163 0-109 1 78 0 20 0-51 0-18 1 27 0-40 0 55 0 7 0-61 0 76 0-18 0-84 0 111 1-21 0 35 0-88 0-68 0 101 0-113 0 126 1-52 0-6 0 30 0-36 1-43 0 50 0 50 0 11 0-49 1-38 0 61 0 9 0 28 0 15 0-124 0 95 0 0 0 2 0-61 0 36 1 62 0-60 0 63 0-87 0 18 0-28 0 95 0 28 0-107 1 30 0-30 0 83 0-128 0 85 0 13 1-43 1-32 0 18 0 32 0 2 0-49 1 45 0-67 0 11 0 10 0 1 1-18 0 83 0-27 0 7 0-72 0 41 0-22 0 79 0-21 0 25 0-27 1-1 0-85 0 41 0-36 0 43 0 30 0-89 1 58 0 48 0-63 0 29 0-3 0 0 0 73 1-58 0 31 0-58 0 9 0 1 1 39 0 30 0-40 0-16 0 51 0-1 0-34 0 14 0-143 0 85 0 12 0-14 1 23 0-16 0-41 0 127 0-117 0 59 0 16 1-8 0-34 0 85 0-107 0 37 0-22 1 63 0-130 0 93 0-20 0-30 0 57 1 17 0-101 0 72 0 7 0 30 1-173 0 164 0-38 0-43 0 112 1-3 0-43 0-47 0 27 0 4 0-42 0 44 0 31 0-81 0 43 0-14 0-27 1 81 0-106 0 97 0-78 0-60 0 108 0 29 0-33 0 8 0 5 0-3 0-91 1 18 0-3 0 42 0 62 0-34 0 16 0-44 0 103 0-113 0 61 1-50 0-64 0 9 1 89 0-53 0 43 0 1 0-74 0-16 1 8 0 35 0 94 0-99 0-15 1 29 0-38 0 132 0-137 0 84 0-34 0-49 0 117 0-58 0 86 0-94 0 49 0-50 1 55 0 11 0-118 0 23 1 87 0-32 0 17 0-20 0-30 0-36 1 10 0 72 0-56 0-68 0 78 0-5 0-49 0 83 0 19 0-69 0 56 0-11 1 25 0 13 0-71 0 6 0 36 0 40 0-15 1-28 0 5 0-37 0 34 0 5 0-37 0 54 0-16 0 28 0-28 1-133 0 137 0 29 0-93 0 64 1-12 0-34 0 51 0-69 0-19 0 67 1-83 0 54 0 6 0 22 0-107 0 56 0 20 0-61 0 88 1 17 0-22 0-2 0-7 0 6 0-30 0 13 0-27 1 124 0-5 0-34 1-57 0-39 0-33 0 82 0 38 0-47 0 95 0-7 1-31 0-21 0-111 0 29 0 74 0-35 0 57 1-34 0-10 0 35 0 37 1-70 0 69 0-163 0 171 0-32 1-33 0 111 0-128 0 58 0-35 0 7 0 14 0-48 0 34 1-60 0 27 0-50 0 165 0-145 1 42 0 7 0 113 0-123 1 30 0 24 0-2 0-54 0 24 1-41 0 50 0 10 0-64 0 145 0-78 0 20 1-53 0-6 0 32 0-68 1-51 0-3 0 128 0-40 0 47 0-19 0 2 1-9 0 37 0-6 0-22 0 65 0-125 0 57 1-12 0 63 0-90 0 34 1 41 0-68 0-12 0 47 0-42 0-5 0 5 0-11 0 5 0 115 0-105 0 84 0-98 1 38 0 24 0-88 0 105 0-164 0 192 0-85 1 42 0-5 0-52 0 78 1-44 0 52 0 1 0-18 0-97 0 145 0-163 0 65 1 89 0-151 0-9 0 62 1 49 0-90 0 4 1 46 0 52 0 7 0-7 0-95 0 120 1-143 0 94 0-61 0 55 1-55 0 58 0-64 0 77 0 30 0-37 0-41 0 11 1-24 0 33 0 43 0-95 0-29 0 206 0-113 0-48 0 17 0 26 1-14 0-50 0 43 0 1 0 58 0-105 0 111 0-74 0-20 1 32 0-107 0 160 0 30 0-115 0-20 1 24 0 70 0-43 0 2 0 74 1-73 0-58 0 65 0-27 0 16 0-100 0 170 1-56 0 34 0-64 1 6 0 134 0-143 0 35 0 11 0-51 1 18 0 95 0-40 0-89 0 79 1-6 0 9 1-43 0 24 0-1 0-9 0 58 0-79 1 91 0 4 0-78 0 88 0-43 0 15 1-62 0 3 0-47 0 21 1 60 0-36 0-38 0 18 1-39 0 52 0 26 0-81 0 1 1 7 0 19 0-50 0 17 0 50 1 47 0-9 0-18 0 27 0-33 0-11 1 80 0-89 0 19 0-62 1 24 0-8 0 44 0-45 1 80 0-98 0 94 0-60 0-10 1 21 0-18 0-36 0 162 0-86 1-8 0-91 0 124 0 22 0-80 0-31 0 151 1-175 0 116 0-108 0 57 0 63 1-105 0 16 0-19 0 97 0-42 0 41 0-64 0 52 0-5 1-70 0 131 0-22 0-36 1 34 0-79 0 19 0 9 0-120 0 102 0 4 0 22 0-2 0-120 1 98 0 4 0 5 0 62 0-176 0 64 1 53 0 4 0 38 0-14 0-22 0-26 0 31 0-29 0 48 0-44 0-11 0 25 0 47 0-49 1-29 0-7 0 31 0 32 0-16 0 68 0 12 1 19 0-56 0-59 0-22 0 16 0-33 0-68 0 219 0-36 1-21 0-94 0-5 0 143 0-135 0 15 0 58 0-78 0 6 1-36 0 98 0 67 0-66 0 33 0-36 0-74 1 62 0 36 0-29 0 41 0-53 1-100 0 120 0-22 0 34 0-76 0 130 0-29 0-15 0-91 0-6 1 78 0 23 0-9 0 6 1-66 0 32 0-88 1 23 0 24 0-1 0 80 0-35 0 3 0-77 1-41 0 118 0-66 0 118 0-83 0 22 0-95 0 76 0-11 0 29 0-3 1-41 0 24 0-63 0 119 0 8 1-99 0 51 0 31 0-31 0 8 1-75 0 55 0-38 0-15 0 77 0-6 1 72 0-54 0-65 0 58 0 31 0-140 0 77 0 31 0-2 1-51 0 22 0-16 0 101 0-50 0-12 0-49 0 89 1-19 0-159 0 101 0 76 0-7 0-108 1-41 0 73 0 31 0-99 0 46 0 45 0 1 0-54 0 63 0 79 0-153 0 32 0-88 1 99 0 52 0-36 0-103 1 146 0-38 0 15 0-18 0-49 0 78 0 3 0-69 0 26 1 25 0-61 0 58 0-8 0-39 1-34 0 137 0-149 0 72 0 43 0 28 0-11 0-127 0 142 1-45 0-104 0 47 0-17 0 58 1-29 0-58 0 161 0-77 1 28 0-41 0 24 0 64 0-96 0 7 0-127 0 163 1 40 0 12 0-173 0 131 0-68 0 119 0-24 0-72 1-37 0-22 0 104 0-47 0-104 1 89 0-68 0 59 0 150 0-114 0 68 0-2 0-141 0 172 0-120 0-23 1 96 0-46 0 32 0-62 0 79 0-101 0 40 0-40 1 73 0-23 0 33 1-39 0 28 0-39 0 71 0-33 1 22 0 41 0-37 0-22 0-100 1 133 0-101 0-6 0 26 0-37 0 92 0-49 1 25 0-76 0 54 0-110 0 93 0-7 0-43 0 69 1-42 0 41 0-39 0 21 0-86 0 151 0-25 0 6 0-15 1 54 0-68 0 72 0-95 0-81 0 88 0 21 0-26 1 7 0-103 0 157 0-57 1 66 0-112 0 89 0 0 0 33 0-93 0 71 0-64 0-60 0 151 0-78 0 64 1-15 0-54 0 52 0-119 1 23 0-24 0-28 0 120 0 41 0 15 1-46 0-20 0-7 0-10 0-47 0 10 0-32 0 64 0 18 1-12 0-45 0 7 0 122 0-90 0-26 0-64 0 212 1-137 0-52 0-31 0 169 0-56 1-33 0 8 0-8 0 4 0 35 0 0 0 35 1 15 0-25 0-63 0 17 1-29 0-72 0 0 0 38 0 118 0-103 0 12 1 1 0-14 0 44 0 69 0-126 0 84 0-35 0 58 0-57 0 38 0-28 1 69 0-154 0 67 0-105 1 166 0 57 0-55 0-24 0-17 0 4 0-42 1 21 0 42 1 8 0-41 0-119 0 116 0 87 0-27 1-109 0-16 0 39 0-7 0 26 0 1 0-89 0 124 1-91 0 54 0 14 0-13 0-6 0 28 0 10 1-11 0 36 0-70 0 36 0 3 1 10 0 48 1-62 0 11 0-41 0-70 0 79 0-53 0 21 0 54 1 16 0-43 0-68 1 24 0 72 0-57 0 55 0-73 0 5 0 7 0 35 0 43 1-63 0-11 0 71 0-136 0 120 0 19 0-33 0-15 0 24 0-33 0 10 0-9 0 75 1-52 0-17 0 41 0-78 0 32 0-93 1 193 0-69 0-31 0 121 0 15 0-85 0 22 0 54 0-119 1 21 0 41 0 5 0-83 0 83 0-86 0-24 1-5 0 42 0-32 0 56 0 7 0 0 0-67 1 96 0-76 0 79 0-94 0 19 0 39 0 74 0-111 1 84 0-50 0-33 0 48 0 3 0 36 0-172 0 35 0 119 0-8 1 5 0-114 0 124 0-62 0 15 0 13 0-49 0 40 1-21 0 41 0 14 0-55 0-3 0 22 0 5 0-92 0 28 0 167 0-144 0 54 1 35 0 0 0-77 0-17 1 139 0-98 0 11 0-49 0 39 0-53 0 84 0-101 1 58 0 50 1-1 0-131 0 121 0 58 0-113 0 9 0 124 0-109 0-108 0 133 1-18 0 94 0-167 0 54 0-15 0 41 1-55 0 10 0 4 1-12 0 46 0-63 0 44 0-30 1 52 0 82 0-149 0 10 0 72 0-60 0 33 0-13 1-58 0 84 0-27 1-34 0-72 0 145 0 10 0-53 0 12 0 4 1 35 0-9 0-10 0-9 0-15 0-22 0 76 0-33 0 58 0-80 0-15 1 46 0-49 0-39 0 78 0-92 0 10 0 59 0-80 0 50 1 56 0-90 0 44 0-9 1-8 0 27 0-34 0 23 0 2 0-44 1-26 0 130 0 67 0-174 0-2 0 115 0-58 0 49 0-57 0 58 1 6 0 42 0-122 0-5 1 98 0-43 0-50 0-8 0 81 0 33 0-68 1 56 0-118 0 108 0-57 0 78 0-115 0 2 0 74 1 38 0-106 0 64 0 46 0-3 0-19 1-75 0 3 0 49 0-27 0 25 0-14 1 12 0 9 0-92 0 73 0-39 0-18 0 68 0 29 1-29 0-29 0-31 0-57 0 54 1 39 0-26 0 73 1-21 0-40 0-6 0 92 0-139 0 117 1-139 0 166 0-47 0 50 0-75 1 0 0 51 0 10 0-80 0 56 0-96 1 50 0-45 1 31 0 66 0-88 0 132 1-178 0 169 0 0 0-104 0 42 0 9 0 30 0-81 0 51 0-8 0-57 1 3 0 43 0-52 0 52 1 19 0 27 0-4 0-11 0-57 0 65 0-28 0 22 1-42 0 33 0 41 0-51 0 51 0-24 1-12 0-46 0 39 0 46 0-89 1 78 0-71 0-5 0-77 0 43 0 104 1 48 0-104 0 17 0 36 0 10 0-84 0 39 1 52 0-148 0 60 0-34 0 19 0 35 0 15 1-17 0-43 0 128 0-115 0-22 1-56 0 113 0-5 0-91 0 58 0 107 0 22 0-47 0-39 0-29 1 39 0-72 0 64 0 16 0-22 0 19 0 18 1-32 0 17 0 8 0-136 0 215 0-58 0-78 1-85 0 49 0 95 0-56 0 39 1 23 0-59 0-74 0 120 0-81 0 77 0-47 1-5 0 1 0 16 0 14 0-40 0-21 0-3 0 85 1-45 0 4 0-2 0-25 0 66 0-22 1-30 0 89 0-26 0-61 0-35 1 50 0-47 0-35 0 117 0 29 0-148 1 84 0-64 0 119 1-37 0-24 1-8 0 6 0-11 0 61 0-41 0 75 0-91 0-47 0 24 0-6 0-9 1 112 0-53 0-79 0 6 1 75 0-19 0 9 0-18 0 28 0-52 0 91 1-57 0 17 0-16 0-14 0-65 0 59 1 57 0 43 1-18 0-75 0-71 0 131 0-71 0-9 0 75 0-91 1 49 0-95 0 31 0 142 0-40 0-38 1-2 0-40 0 63 0 29 0-39 0-27 0 21 1 29 0-19 0 86 0-56 0-25 0-35 0-28 0 49 1-5 0-8 0 9 0-101 0 130 0 6 0-63 1-63 0 69 0 68 0-151 1 127 0-74 0 43 0 41 0-111 1 83 0-44 0 29 0 73 1-148 0 36 0 115 0-138 1 19 0 34 0 47 0 16 1-81 0 1 0 74 0-133 0-45 0 88 0 52 1 12 0 17 0-133 0 93 0-5 0 3 1 6 0 33 0-70 0-35 0 36 0 71 0-50 0 68 1-95 0-44 0-18 0 205 0-174 0 39 0 129 1-52 0-58 0 94 0-213 0 126 0 52 0 22 1-30 0-161 0 92 0 23 0 33 0-122 0 158 1-23 0-41 0 8 0 1 1 10 0 27 0-96 0 5 1-17 0 4 0 15 0 6 0 22 0 55 1 53 0-98 0 18 0-70 0 66 0-90 0 60 0 36 1-59 0 24 0-46 0 77 0 73 0 0 0 6 1-96 0-10 0-48 0 64 1 7 0 108 0-66 0-114 0 58 0-20 1 32 0 58 0-47 0-9 1-89 0-30 0 134 0 4 0-75 0 37 1 26 0-39 0-32 0 69 0 27 0-119 1 86 0 105 0-136 0 41 0-28 0 43 0-10 0-26 1-61 0 32 0 19 0 23 0 31 0-80 0 91 0-140 1 103 0-61 0 82 1 5 0 14 0-135 0 80 0-118 1 127 0-34 0 1 0 27 0-41 0-70 0 30 0 30 0 15 0-27 1-28 0 67 0 11 0-12 0 53 0-81 0 52 1 13 0 2 0-49 0 22 0-108 0 42 0 101 0-78 1 31 0-25 0 11 1-6 0 5 0 34 1 12 0-34 1 30 0-68 0 2 0-23 0 98 1-61 0-17 0 6 0 54 0-20 0 60 0-104 0 81 1-68 0 25 0 69 0-26 0-41 1 53 0-85 0 35 0-45 0 1 0 78 0-11 0 10 0-49 0 126 0-161 0 103 0-44 1-21 0-43 0-1 0 136 0-119 0 12 0 78 0-70 1-9 0 19 0-62 0 45 0-6 0-89 0 134 0 53 0-80 0-25 0 84 1-90 0-35 0 140 0-102 0 37 0-84 1 62 0 66 0-74 0 42 0 19 0 4 1-45 0 83 0-58 0 42 0-75 0-41 0 111 0 21 0-45 0 18 1-42 0-16 0-8 0 29 0 23 0 16 0-90 1 51 0-31 0 57 0-71 1 22 0 121 0-53 0-42 0-5 0 9 0-27 1-12 0 113 0-123 0-26 0 14 1 83 0 69 0-223 0 69 0 88 1-53 0 2 0-41 0 17 0 25 0-4 0-7 0 24 0-21 1 22 0 82 0-149 0 59 0-32 0-10 0 111 0-49 1-90 0 54 0 6 0 101 1-127 0 84 0-14 1-47 0 0 0 74 0-52 1 19 0-37 0-18 0 29 1 43 0 27 0-70 0 55 0 15 0-53 0 18 0-53 0 89 0-31 1-74 0 7 0 20 0-9 0-2 0-19 1 33 0 55 0-69 0 77 0-48 0-14 0-47 0 70 1-69 0 112 0-24 0-89 0 6 0 4 0 79 0 57 0-78 1-39 0-29 0 14 0-38 0 67 0-39 0 153 0-177 0 112 1-62 0 57 1-83 0 103 0-20 0 50 0-177 0 146 0-16 0-79 0 61 0 35 0-38 0 60 0-73 1-9 0-63 0-47 0 208 1-110 0 105 0-76 0-37 0-50 0 5 0 138 0-48 0-59 1 22 0 0 0-23 0 107 1-92 0 43 0-42 1 68 0-41 0-58 0 77 0 15 0-133 1 35 0 49 1 60 0-18 0-30 0 35 0 21 0-115 0 78 0-39 0 7 0 34 0-36 1 70 0-48 1 32 0-19 0 5 0-21 0 40 1-56 0-14 0-42 0 26 0 143 1-98 0 4 0-1 0 9 0 50 0 52 1-82 0-13 0-61 0 23 0 81 0-82 1-30 0 7 0 46 0-83 0 59 0-29 0 100 1-71 0 5 0-7 1 6 0 39 0-16 0 35 0-26 0 9 1 23 0-116 0 17 0 57 0-12 0-23 0-65 0 70 1 14 0-103 0 70 1 158 0-103 0-19 0 37 0-99 0 42 0-43 0 7 0 11 1 67 0-74 0 121 0-64 0 5 0-44 0-87 0 119 1 61 0-80 0-7 0 72 0-81 0-77 0 189 0-47 0-93 1 19 0 61 0-64 0 43 0 43 0-6 1 15 0-82 0-35 0 22 1 30 0-40 1 92 0-37 0-54 0 25 0 68 0-54 0 42 0-20 0-103 0 164 0-96 0 49 1-126 0 75 0 66 0 10 0-84 0 74 1-69 0 64 0 19 0-35 0 21 0 15 0-124 0 130 0-32 1 35 0 0 0-85 0-47 0 78 0 46 0-59 0-59 0 74 0 48 1-70 0 44 0-32 0-92 0 0 1 7 0 86 0-20 0-16 0 49 0 16 0-53 1 88 0-9 0-60 0-49 0 102 0-108 0 35 0 35 0 41 1-52 0-4 0 53 0-3 0-85 0 25 0 20 0-40 0 53 0-32 0-20 1 53 0-54 0 29 0-31 0 61 0-44 0 34 0 27 0-64 0-1 0-34 1-10 0 184 0-151 0 50 0-32 0-30 1-30 0 87 0 24 0-54 0-102 0 94 0 17 0-57 0 130 0-13 1-85 0 116 0-69 0 12 0-89 0 41 1-61 0 31 0 171 1-125 0-19 0 60 0-97 0 42 0 75 1-13 0-59 0 30 0-7 0-33 0-88 1 85 0-31 0-24 0-18 0 121 0-4 1-42 0-3 0 19 0-33 0-1 0 29 0-45 0 17 1 102 0-97 0-27 0 11 0 88 0-102 1 37 0 115 0-83 0-92 0 98 0 16 0-58 0 98 1 14 0-71 0-50 0 36 0-53 1 29 1 54 0-52 0-28 0 33 0 14 0-58 0 55 0-35 1 22 0-14 0 91 0-128 0 79 1 4 0 99 0-49 0-40 0 9 1-43 0-34 0-48 0 159 0-104 1 126 0-54 0-57 1 27 0 6 0-73 0 41 0 16 0-4 0 4 0-9 0-7 0 23 0-59 1 102 0 0 0-7 0-131 0 32 0 62 1-80 0 44 0 41 0-85 0 140 0 8 0-146 1 36 0 6 0 24 0-1 0-30 0 29 0 5 0-24 0 46 1-109 0 193 0-72 0 7 0-87 0-5 0 55 0 31 1 48 0-70 0 12 1 2 0-66 0-77 0 174 0-16 0-77 0-4 0 45 1-75 0 86 0 3 0 2 1-78 0 77 0-82 0 2 0 56 0-93 0 37 1-3 0 79 1-40 0-39 0 110 0-95 1 26 0-33 0 40 0 58 0-10 0 8 0-35 0 10 1-55 0 34 0-5 1-36 0 23 0 3 0 48 0 12 0-75 0 11 0 91 0-9 0-47 1 13 0-58 0 79 0-53 0-72 0 57 0 115 1-94 0-91 0 126 0-74 0 129 1-27 0-159 0 54 0 56 0-9 0 7 0-38 0 6 1 62 0-85 0 38 0 102 0-79 0-4 0-40 1 101 0-97 0-16 0 63 0-34 0 74 0 1 0-126 1-16 0 24 0 4 0 81 0-62 0-32 0 165 1-199 0 22 0 57 0-102 0 32 0 52 1 94 0-71 0-69 0 58 0 111 1-66 0-28 0 67 0-96 1 20 0-112 0 179 0-25 1-63 0 27 0 5 0 30 0-57 1-5 0 88 0-127 0 60 0-41 0 67 1 68 0-45 0 11 0-100 0-49 0 73 1 69 0-77 0-37 0 82 0-30 0-93 0 134 1-60 0-29 0 100 0-1 0-16 0 6 1-89 0 42 0 49 0 3 0-131 0 147 0 17 0 4 0-111 1 136 0-133 0 27 0-4 0 13 0 62 0 71 0-149 1 38 0-93 0 98 0-71 0 93 0-65 0 1 0 94 0-99 0-60 0 103 0-44 1 16 0 37 0 56 0 12 0-143 1 57 0 108 0-166 0 15 0-29 0 59 0-45 1 18 0-38 0 129 0-59 0 57 0-3 0-66 1 87 0-42 0-56 0 23 0 55 0-126 0 66 0 41 0-48 1-22 0 154 0-225 0 141 0 5 0 6 0-60 0 91 0-95 0-37 1 23 1 24 0 2 0 91 0-191 0 129 1 24 0-112 0 58 0-29 0-24 0 179 0-231 0 138 1-37 0-27 0 82 0-51 0 91 0-36 1-61 0 8 0 11 0-123 0 144 1-39 0-21 0 89 0-15 0-26 0 16 0-41 0 16 0 68 1-44 0-44 0 51 0-36 0-18 0-1 1 53 0-11 0-17 0 17 0-45 0 5 0-52 0 89 0-37 1 34 1-43 0 10 0-96 0 122 0 29 0-7 0 23 0-19 0-41 1-40 0 49 0 38 0 73 0-167 1 53 0 27 0-108 0 49 1 73 0-31 0-2 0 15 1-45 0-2 0-1 0-9 0 59 0-91 0 102 0-60 1 1 0-25 0 19 0-48 0-25 1 61 0 10 0-35 0 34 0 39 0-1 0-47 0 35 0 15 0-37 0-53 0-19 0 155 0-96 1 63 0-142 0 48 0-46 1 123 0-7 0-96 0 67 0 75 0-64 1 87 0-81 0-60 0 63 0-5 0-102 1 154 0 3 0 13 0-18 0-25 0-36 0 7 1 44 0-42 0-50 0 4 0-5 0 117 0-17 1-47 0-36 0 115 0-154 0 94 0 22 0-2 1 14 0-67 0 36 1-82 0 68 0-2 0-28 0-3 0 91 0-161 0 167 0-184 1 86 0-30 0 40 0 34 1-99 0 166 0-157 0 85 0 36 0-20 1-13 0-14 0-26 0 3 0 2 0-44 0 26 0 43 1 101 0-123 0 40 0-135 0 54 0 28 0 84 0-71 1-46 0 41 0 22 0-69 0-27 0 118 0-12 0-60 1 20 0 58 0 5 0-69 0-1 1-19 0 7 0-47 1 63 0 5 0 71 0-112 0 87 0 31 0-35 1-109 0-5 0 55 0 25 0-25 0 49 0-1 0-16 0-60 1 25 0-20 0 14 0 37 0 55 0-19 0-21 0-73 1 36 0 29 0-36 0-7 0 77 1 25 0-106 0 105 0-61 1-92 0 143 0 29 0-87 0 13 0 5 0 23 0-98 1 19 0 67 0-23 0 77 0-10 0-39 0-58 0 7 0-62 0 153 0-171 0-2 0 155 0-103 1 12 0 83 0-48 0 84 0-125 0 11 0-13 0 54 0 38 1 1 0 63 1-36 0-105 0 13 0 52 0 31 0-29 0 1 0 53 0-103 1 13 0 67 0-134 0-8 1 49 0 29 0 2 0 90 1-76 0-129 0 190 0-11 0-5 1-17 0-123 0-11 0 188 0-25 0-140 0 70 1-30 0 106 0-192 0 176 0-80 0 20 0 8 1-50 0 49 0-140 0 131 0 1 0 41 0-49 0 129 0-63 0 17 0-44 0 21 0-38 0-4 1-117 0 180 0-64 0-7 0-79 0 40 0 8 0 106 1-31 0-16 0-40 0 42 0 13 0-42 1-26 0 11 0 2 0 91 0-132 0 126 0-115 0 54 0-7 1-73 0 28 0 51 0 1 0-68 0 46 0 1 0 10 0 6 1 40 0-163 0 92 0 27 0-42 0 52 0-63 0-80 0 127 0 74 1-109 0 64 0-57 0 86 0-114 0 11 1 32 0 34 0-7 0 62 0-91 0-89 1 122 0-58 0 26 0 29 0-43 0 84 1-17 0-23 0 16 0-69 0 47 0 7 0 5 0-14 1 11 0 22 0-70 0 48 0 55 0-195 0 113 1 94 0-119 0-57 0 100 0-3 0-29 0 3 0 47 1-91 0 83 0-86 0 78 0 39 0-20 0-11 1 46 0-73 0 30 0 35 0-121 0 21 0 48 1 43 0 52 0-192 0 52 0 25 0 18 1-55 0-20 0 52 0 38 0 36 0-83 0-95 0 131 0 24 0-8 1 25 0 32 0-133 0-33 0 29 0 110 0-99 1 4 0-55 0 24 0-11 0 87 0-68 0 23 0 53 0 28 1-166 0 104 0 31 0 7 0-45 1 13 0 19 0-65 0 92 0-79 0 36 0 14 1-67 0 45 0 126 0-168 0-3 0 20 0-29 0 52 1 43 0 53 0-63 0-42 0 37 0 8 0 21 0-51 0-60 0-21 1 83 0 28 0-101 0-17 0 176 0 5 0-87 1 0 0 15 0-64 0 40 0-26 0 58 0-46 1-25 0 29 0 5 0-55 0 79 0-6 1-13 0 124 0-212 0 77 0-4 0-4 0-8 0 85 0-35 1-49 0 111 0-83 0 26 0 43 0-56 0 58 1 22 0-3 0-189 0 97 0-94 0 116 0 83 0-51 0-87 1 106 0-76 0 74 0-16 0-50 0-65 0 81 0-7 0 30 0 70 0-75 1 17 0-26 0 11 0-43 1 32 0-56 0 89 0 36 0-72 0 71 0-139 1 38 0-52 0 73 0 39 0-39 0 26 0 11 1 25 0-40 0-16 0 45 0-55 1-16 0-83 0 56 0 96 0-122 0-3 0 27 0 3 0-17 0-12 1-6 0 16 0 66 0-25 0-13 0 8 1 13 0 29 0-23 0 4 0 11 0-71 1 25 0 13 0 1 1 79 0-70 0-3 0-13 1 0 0 67 1-121 0 51 0 143 0-171 0 126 0-101 0-27 1-28 0 12 0 10 1 182 0-125 0 93 0-131 0 34 0 5 0 49 0-29 0 28 0 6 1-73 0-35 0 78 0 48 0 14 0-29 1 17 0-76 0 9 0 48 0-117 0 113 0-122 0 107 0-36 1 0 0-43 0-5 0 110 0-62 0 98 0-34 1-52 0-18 0-6 0 4 0-27 0 20 0 57 0 35 0 23 1-108 0 70 0-66 0-52 0 122 0-135 0 114 0 38 1-71 0 94 0-145 0 17 1 120 0-95 0-89 0 44 1 111 0-94 0 16 0 54 0-97 0 6 0 140 0-96 0 0 1 24 0-34 0 32 0-9 0-61 0 131 1-97 0 45 0-64 0 123 0-109 1 32 0-31 0 96 0-18 0-82 1-101 0 19 0 64 1-9 0 134 0-72 0 43 0-12 1-20 0-22 0 40 0-15 0-43 0 44 0-20 1-22 1 0 0 2 0 0 0-3 1 94 0 12 0-124 0 36 0-73 0 39 0 113 0-123 0-1 0 2 1 21 0 43 0-22 0 75 0-56 0-16 0 50 0-39 1-67 0 26 0 91 0-48 0-9 0-12 0 2 0 42 0-54 0-104 1 42 0 15 0 112 0-12 1-42 0-37 0 51 0-1 1 91 0-51 0-85 0 62 1-72 0-51 0 76 0-30 0 4 0 8 0 33 1-38 0 19 0-18 0 36 0-109 0 105 0 17 1 16 0-54 0 101 0-106 1 28 0-54 0-2 0-32 0 33 0-19 0 24 0 104 0-26 0-42 0 93 0-85 1 2 0 38 0-61 0-78 0 184 0-103 0 11 0 48 1-20 0-38 0 45 0-41 0-8 0 7 1 55 0 15 0-31 0 62 0-67 0-111 0 132 0 30 1-93 0-53 0 149 0-44 0-84 0 94 0-1 1-91 0 60 0-73 0 105 0-30 1 11 0 39 0-103 0 51 0 2 0 72 0-174 0 56 1-24 0 19 0 76 0-5 0-66 0 58 1-69 0 44 0-77 0 68 0 56 0 1 0-48 0 40 0-62 0 22 0 51 1-25 0-98 0 73 0 42 0 4 0 3 1-79 0 8 0 7 0-64 0 2 0 108 0-59 1-28 0 102 0-62 0-9 0-31 0 104 0-89 0 75 0-34 0-12 0-13 1-57 0 124 0-44 0-31 0-29 0 1 1 51 0 35 0-71 0 39 1-51 0 175 0-131 0-40 0-31 0 154 1-43 0 25 0-37 0-52 0 48 0-30 1-11 0 40 0 10 0 52 1-36 0-6 0 63 0-119 0-47 0 61 0-57 0 45 0-41 0 145 0-63 1-3 0-60 0 84 0-41 1 49 0-53 0 71 0-117 0-6 0 23 1 91 0 10 0-55 0-48 0-15 0 30 0 149 0-109 1-26 0-10 0 85 0-75 0 19 0-23 1 128 0-126 0-21 0 100 0-102 1 23 0 95 0-100 0 31 1 57 0-57 0 35 0-107 0 82 0-88 0 65 0 43 0-81 0 31 1 62 0-91 0-48 0 28 0 77 0-9 0-52 0 135 1-19 0-78 0-26 1-32 0 13 0 72 0-92 0 19 0 28 0 63 1-106 0 11 0 42 1-9 0 53 0 31 0-37 0-37 0-93 1 137 0-109 0 18 0 43 0-8 0 91 0-120 0 35 0 14 0 22 0-108 1 105 0-9 0 4 0 0 0-88 0 68 0 47 1-118 0 104 0-46 0 1 0-26 1 22 0 62 0-65 0 17 1-63 0 54 0-45 0 65 0-26 0 66 1-111 0 114 1-67 0 9 0-81 0 68 1 27 0-94 0 93 0 3 0-21 0 91 0-62 0-50 0 43 0-27 0 41 0-51 1-20 0-23 0 136 0-58 0 58 1-63 0-96 0 26 0 102 0-45 0-38 0 19 0-46 1 51 0 39 0-13 0-59 1 107 0-55 0 1 0-29 0 62 0-4 0-112 1 85 0-3 0 34 1 33 0-85 0-28 0-11 0 75 0 6 0-70 0 161 0-157 0-29 0 95 1 87 1-41 0 6 0-143 0 42 0-24 0-14 1 63 0-33 0 46 0-9 0 39 0 5 0 6 0-58 0-63 0 61 0-25 0 108 0 0 1-64 0 62 0-94 0 46 0-68 0 92 1-9 0-74 0 102 0-6 0-2 0-134 0 52 0 28 1 11 0-33 0 117 1-77 0-56 0 33 0-41 1 10 0 116 0-92 0-71 0 48 0 48 0-28 0 45 1-124 0-7 0 103 0-37 0 109 1-111 0-27 0 43 0-41 1 45 0 73 0-79 0-51 0 33 0 67 0-61 2 55 0 14 0-70 0 66 0 21 0-31 0 3 0-48 0 26 0 47 0 0 0-38 0-61 1-4 0 92 0-50 0-13 1 93 0-56 0-56 0 4 0 11 0 34 0-12 0-2 0 22 1 29 0-34 0 88 0-43 1-88 0 36 0 27 0-88 0 57 0 66 1-112 0 137 0-76 0 53 0-68 1-92 0 72 0 78 0-3 0 12 1-88 0 44 0 34 0-105 0 20 0-11 0 117 0-70 0-5 0-115 1 169 0-97 0 40 0-14 1 21 0 38 0-38 0-75 0 78 0 63 0-39 1-1 0-76 0 43 0 30 0-28 1 75 0 30 0-115 1-95 0 115 0-9 0-28 0 15 1 12 0 5 0 9 0-41 0 66 1 40 0-156 0 55 0 35 0-68 0 36 0 5 0 27 0 87 0-79 1-48 0 72 0 52 0-38 0-88 0-11 0 41 0-34 1 17 0-110 0 134 0-68 0 5 0 31 0-2 0 12 1 45 0-20 0-98 0 45 0 63 0-8 1-117 0 155 0-11 0-82 0 53 0-19 1 74 0-108 0 34 0-47 0 57 0-53 1-78 0 66 0-41 0 131 0-32 0-16 0 10 0 7 0-45 1 53 0 47 0-95 0-19 0 125 0-51 0 62 0-43 0-55 0 102 0-5 0-183 0 131 1 0 0-10 0 34 0-56 0-15 0 53 0-18 0-110 0 112 0-98 0 123 1-84 0 34 0-36 0-5 1 167 0-112 0 11 0 48 0-24 0-100 1 13 0-38 0 35 0 29 0 78 0-49 0 23 0-78 0 48 1 80 0-112 0 38 0 24 0-77 0 48 0 79 1-98 0 74 0-75 0 25 0 18 0-44 0 9 0 20 1-16 0 19 0-30 0 58 0-80 0-9 0 90 1 14 0-70 0 26 0 18 0-2 0-81 0 53 1 8 0-71 0 145 0-51 0 37 0-35 1-5 0-46 0-31 0 45 0-109 0 170 0-39 0-52 0 6 0 11 0 15 1-71 0-4 0 136 0-101 1 35 0 63 0-92 0 90 0-38 0 6 1-108 0 38 0 20 1 74 0-75 0 4 0 48 0 87 0-78 0-14 1-21 0-58 0 88 0-79 1-72 0 108 0 65 1-81 0 45 0 14 1 27 0-42 0-28 0 47 0-43 0 47 1-22 0 19 0-69 1 63 0 2 0-44 0-44 1-28 1-1 0 108 0-26 0 8 0 31 0-50 0-34 0 83 1-148 0 28 0 130 0-111 0 9 0 33 0-19 1 38 0-11 0-97 0 161 0-37 0-18 0-74 0 142 0-80 1 98 0 30 0-43 0 29 0-127 0 41 1-23 0 74 0-39 1-105 0 128 0-48 0 9 0-35 0 25 0-67 0 21 0 100 1 10 0-120 0 11 0 62 0-19 0 100 0-113 0-75 0 30 0 130 1-73 0 0 0-49 0 20 1 50 0-36 0 37 0-73 0 59 0 55 0-19 0-58 0-9 0-29 1 67 0-72 0 104 0-13 0-2 0 67 0-4 1-40 0-60 0-48 0 81 0-53 0-12 0-2 0 52 0 60 1-104 0 53 0 17 0 44 0-176 0 92 0-39 0 47 0-57 1-12 0 162 0-95 0-33 1 99 0-68 0-103 0 147 0-70 0 81 0-45 1 42 0 29 0-85 0-102 0 35 0 65 1-2 0 38 0 14 0-6 0-70 0 5 0-37 1-51 0 29 0 68 0-4 0 132 0-170 0 60 0-46 1 9 0 20 0-30 0-1 0 66 0 59 0-115 1 57 0-67 0-40 0 70 0-61 0-14 0 133 1 27 0-76 0-37 0 71 0 2 1-13 0-23 0-25 0 65 0-7 0-52 0 82 1-61 0 11 1-105 0 88 0-35 0 27 0 0 0 26 0-58 1 6 0 65 0-77 0 47 1 67 0-99 0-73 0 61 0-25 1 20 0 93 0-127 0 40 0 35 1 12 0 18 0-11 0-42 0 5 0-43 0 117 1-62 0 108 0-92 0-96 0 139 0-62 0 21 0 10 0-70 1 87 0-46 0 78 0-119 1-3 0 93 0-71 0 32 0 48 0-65 0-32 0 56 0-4 0 0 0-18 0-21 1 36 0 7 0 4 0 108 0-120 1 8 0 29 0-51 0-42 0 9 0 1 0 65 1 17 0 11 0 13 1-28 0 39 1-23 0-2 0-23 0 60 0 49 1-212 0 98 0 17 0-57 0 20 1-26 0 20 0-13 0 82 0-79 0-33 0 88 1-72 0 58 0 74 0-148 0 105 0 8 1-127 0 152 0 44 0-98 0-22 0 47 0-34 0 15 0-15 0-23 0-53 0 133 0-105 0 55 1 21 0-101 0 68 0 4 0-11 0 60 1-60 0-38 0 58 0 45 0-101 0-29 0 97 1-14 0-95 0-14 0 18 0 43 0 45 0 46 0 21 1-28 0-69 0 81 0-37 0-101 0 138 1-117 0-7 0-13 1-2 0 59 0 23 0-76 0 32 0 80 0-128 0 82 0-80 0 114 1-46 0 5 0-79 0 136 0-45 0-134 0 92 0-15 1 39 0 4 0 12 0-61 0-28 0 59 1 14 0 21 0 0 0 12 0 8 1-33 0 23 0 2 0-34 0-101 0 69 1 13 0 3 0-30 0-54 0 94 0 78 1-84 0 68 0-110 0 25 0-18 1-3 0 69 0-50 0 21 0-81 0 71 0-30 0 27 1 82 0-77 0 16 0 4 0-71 1 20 0 85 0-14 0-19 0-30 0 1 0-31 0 139 0-104 1 85 0-72 0-84 1 129 0-180 0 66 0-7 1-25 0 94 0-6 0 82 0-95 0 10 1-2 1-45 0 15 0-59 0 150 0-119 0 64 0-40 0 72 1 29 0-97 0 122 0-55 0-45 1 15 0 29 0 73 1-133 0-64 0 52 0 52 0-36 0-31 0-12 0 122 1-44 0 12 0-39 0 27 0-16 1 43 0-17 0 106 1-123 0 130 0-93 0-73 0-8 0 0 0 114 0-27 0-44 1 57 0-62 0 1 0-5 0-66 0 70 0 5 0 27 0-53 0-2 0 104 1-93 0 8 0-14 0 64 1 0 0-42 0-46 0 50 0 103 0-127 1 12 0 69 0-8 0-60 0-11 0 95 0-56 0-29 0 28 1-61 0 0 0 127 0-78 0-52 0 116 0-53 0 41 0-61 1 46 0-3 0-82 0 71 0 33 0-89 0 5 0-37 0 64 0-9 0 3 1-25 0 156 0-97 0-78 0 93 1-119 0 121 0 29 0-187 0 145 0-76 1 29 0 58 0-101 0 169 0-147 1 109 0-7 0-44 0-20 0 16 1 5 0 10 0-146 0 123 0-1 0 99 1-117 0 31 0-119 0 40 0 18 0 41 0-84 1 112 0-42 1-102 0 173 0-42 0 41 0-119 0 38 1 88 0-102 0-89 0 132 0-36 0-39 0 42 0 85 0-79 0 96 1-72 0 28 0-59 0-3 0-67 1 111 0 6 0-33 0 47 0-17 0 2 0-34 1-7 0-37 0-3 0 22 0 90 1 16 0-31 0-168 0 91 0-23 0 18 0 82 1-34 1-45 0 32 0-59 0 98 0-30 0 59 1-76 0 1 0 43 0-43 0-37 0 52 1-127 0 110 0-86 0 89 0 72 0-67 0 31 1-39 0 73 0 32 0-88 0 29 0-37 0 35 1-61 0 140 0 12 0-68 1-19 0-57 0-37 0 75 1-93 0 67 0-19 0 7 0-48 0 96 0-65 0-18 0 67 1-49 0 32 0 40 0 19 0 12 0 32 1-49 0-52 0 9 0 45 0-44 0 70 0-134 0-8 0 60 1-29 0 40 0 95 0-57 0-37 0 24 1-83 1 122 0-49 0-12 0 10 0 9 0-25 0-56 0 78 0-82 1-4 0 97 0-2 0 6 0-24 0-8 0-104 0 187 0-131 0 64 0-29 0-18 1-63 0 122 0-41 0 40 0-53 1-95 0 119 0 35 0-24 0 0 0 58 0-167 1 94 0 52 0-86 0-28 1 39 0 10 0 22 0 14 0-6 0-12 0 49 0-31 1-21 0-21 0-37 0 115 0-103 1 24 0-16 0 46 0 96 0-111 0 22 0 3 1-43 0 24 0-20 0-90 0 191 0-75 0 30 0-120 1 189 0-65 0-101 0-55 0 86 0 28 1 3 0 15 0-64 0 39 0 17 0 63 0-102 0 5 0-31 0 28 1 47 0 49 0-133 0-2 0 81 0-40 0 58 1-53 0 17 0 5 0-8 0 50 0-50 0 74 1-47 0-46 0-30 0 115 0-86 1 17 0-25 0 113 0-63 0-100 1 52 0-34 0 48 0 1 0 33 0-57 0-10 0 14 0 34 1-102 0 157 0-48 0-102 0 42 1 111 0 37 0-117 0 20 0 21 0-62 0 46 0-20 0-29 1 101 0-73 0 105 0-147 0-29 0 19 1 160 0-145 0 145 0-180 0 171 0-101 0-16 1 135 0-101 0-64 0-14 0 38 0 30 0-66 1 46 0 16 0-65 0 25 1 39 0-86 0 140 0-23 0 16 0 2 0-77 0 24 1 19 0 13 0-54 0 40 1-132 0 128 0 44 0-16 0 47 0-119 0 56 0 52 0-84 1 10 0 5 0 84 0-88 0-40 0 141 1-165 0 1 0 31 0 47 0-58 0 30 0 52 0-10 1-81 0 63 0 19 0-34 0 58 1-177 0 54 0 38 0 87 0-89 0-31 1 54 0-30 0-25 0 54 0 56 1-10 0-96 0 134 0-110 0 11 0-11 0 46 0-30 0 10 1 63 0 44 0-136 1 27 0 55 0-67 0-56 0 157 0-72 0 71 0-131 0 80 1-73 0 40 0-23 1 122 0-71 0-72 0 17 0 21 0 43 0 51 0-44 1-53 0 90 0-71 0-35 0 68 0-53 1-17 0 36 0 24 0 18 0 21 0 10 0-41 0 55 0-146 1 122 0 14 0-24 0 22 0-96 0 78 0-56 1-78 0 51 0 69 0 2 0 7 0 4 0-69 1-23 0 45 0-24 0 3 0-5 0-24 0-19 1 66 0 63 0-74 0 23 0 92 0-75 0 11 0 51 1-146 0 148 0-60 0-52 0 139 0-126 1 5 0 11 0 24 0-106 0 62 1 35 0-22 0 32 0-4 1 23 0-68 0 52 0 8 0-89 0 151 0-13 0-115 0-44 1 66 0 10 0-9 0-9 0 53 0-24 1 37 0 12 0-124 0 130 0 26 0-116 0-43 0 86 0 10 1-93 0 55 0 51 0-42 0-6 0 3 0-58 0 151 0-21 1-10 0-97 0 106 0-118 0 67 0-52 0 5 0 35 1 50 0-69 1-11 0 26 0-88 0 82 0-7 1 3 0 79 0 6 0-120 0 38 0-63 0-8 0 1 0 151 0-149 1 96 0-85 0 60 0-117 0 200 0-18 0-84 0 0 0-29 1 12 0 84 0-91 1-25 1 60 0 34 0-102 0 57 0-83 0 135 0-33 1-88 0 133 0-112 0 61 0-25 0-8 0-82 0 136 0 13 0-15 0-1 1-7 0 33 0-53 0-41 0 78 0 18 0-83 0 113 1-209 0 121 0-16 0 61 0-38 0 35 0-82 1-20 0 77 0 83 0-105 1 80 0-42 0-67 0 110 0-42 0-3 0-41 0 19 0-23 1 109 1-93 0 28 1-74 0 23 0 48 1 3 0-142 0 119 0 54 0-51 0-9 0-41 1-13 0 180 0-120 0-5 0-7 1 94 1-100 0-50 0 185 0-152 0 118 0-120 0 101 1-31 0-32 0-26 0 14 0-22 0 10 0 0 1-49 0 51 0-50 0 114 0-53 0 92 0-127 0 46 0 82 0-110 0-28 1 9 0 144 0-32 0 9 0-120 0 83 1 26 0-104 0 1 0-18 0 82 0-94 0 50 1 88 0-174 0 57 0 29 0 11 0-55 0-10 0 95 0-90 0 106 0-39 1 14 0 46 0-55 0-100 1-21 0 133 0-21 0 9 0-13 0-26 0 9 0-1 0-45 1 46 0 72 0-81 0-3 0 152 0 0 1-145 0 63 0 84 0-129 1-16 0 54 0 13 0-42 1-71 0 107 0-12 0 14 0 46 0-137 1 20 0 108 0-171 0 57 0 51 0 32 1-15 0-5 0-41 0 64 0-8 0-7 0-53 1 99 0-78 0 3 0-20 1 2 0-17 0 4 0-23 1 5 0 12 0-45 1 60 0-64 0 68 0 22 0-20 0 83 0-73 1 4 0-25 0 58 0-80 0 88 0 13 1-123 0 15 0 140 0-51 1-90 0 25 0-11 0 89 0-123 0 91 0-6 1-44 0-34 0 177 0-109 1 63 0-35 0-3 0-1 0-144 0 149 1 27 0 42 0-146 0 77 0-88 0 182 0-252 1 155 0 31 0-116 0 85 0 44 0-91 0 105 0-109 0-88 0 114 1-116 0 82 0-48 0-27 0 60 0-14 0 22 0-27 0 47 0 6 0 36 0-46 1 95 0-76 0 117 0-112 0-20 0-16 1 22 0 73 0-113 0-13 0 72 0-65 1 87 0-96 0-18 0 121 0-130 1 15 0 81 0-14 1 24 0-49 0 113 0-126 0-56 0 82 1-37 0 49 1-42 0 10 0-41 0 46 0 161 1-185 0 29 0 124 0-164 1-9 0 87 0 35 0-36 0-83 0 164 0-81 1 43 0-63 0 136 0-126 0-59 0 95 0-52 0-35 0 0 0 78 0-31 1-95 0 28 0 81 0-32 0 73 1-44 0-59 0 119 0-8 0-48 1-48 0 62 0-32 0 104 0-80 0-57 0 51 1-20 0-52 0 110 0-48 0-35 0 138 0-47 0-76 0 27 0-77 1-28 0 66 0 48 0 88 0-163 0-11 0 100 0 7 0-41 0-96 1 113 0 10 0-94 0 59 0 43 1 12 0 10 0 46 0-166 0 93 0 8 1 14 0-10 0-55 0 30 0 44 1-34 0-84 0 65 0 58 0-68 0-32 1-10 0 121 0-117 0 15 0 32 0-14 1-20 0 58 0 10 0-75 0 60 0-136 1 93 0 108 0-113 0 24 0-29 0 115 0 1 1 11 0-36 0-82 0 54 0-25 0-53 1 27 0-25 0 70 0 4 0-76 0 4 0-24 0 36 0 4 0 41 0 44 1-104 0 84 0-51 0-20 0 104 0-34 0-62 1-39 0 92 0-59 0 60 0-26 0-80 0 70 0 8 0-81 1 64 0 99 1-61 0-82 0 56 0 50 0-72 0-14 1 28 0-88 0 31 0 162 0-121 0 14 0 18 1-41 0 13 0 87 0-103 0 97 0-116 0 95 0-44 2 1 0-11 0 9 0 16 0-42 0-9 0 41 0-17 0 54 0 53 1-71 0-76 0 8 0 47 0 48 1-27 0-34 0 13 0 58 1-106 0 75 0-100 0-39 0 77 0 0 1-11 0 71 0-130 0 86 0-84 0-6 0 124 0 74 1-142 0 65 0-37 0 28 1-39 0 52 0 23 0-54 1-47 0-44 0 86 0-32 0 82 0-39 0 83 0-143 1 107 0-36 0-67 0-41 0 50 1 47 0 2 0-72 0 125 0-38 0 3 0-7 0-22 0 55 1 0 0-86 0-19 0-5 0 9 0 51 1-58 0 84 0-17 0-51 0-17 0 6 0 72 0-35 1 50 0 8 0-25 1-40 0-15 0 31 0 23 0-101 1 114 0-12 0-3 0 45 0-109 0 42 0 3 1-47 0 43 0 93 0-63 0-97 0 28 0-33 0 121 0-22 0 86 1-98 0-51 0-1 0-36 0 141 0 3 0-2 0 26 1-99 0 3 0 15 0-16 0 49 0-26 0 39 0-94 0 73 0-108 1 64 0-72 0 107 0 6 0-18 0-45 0-51 0 103 0-7 0-13 1-101 0 39 0 65 0 24 0-3 0 23 0 8 0-101 0 35 0 1 1-96 0 36 0 73 0 25 0-45 1-83 0 35 0 5 0 118 0 28 0-50 1-134 0 72 0 57 0-25 0-57 0 25 0-110 1 161 0 7 0-117 0-43 0 230 0-172 0 87 0-52 0 87 1-53 0-20 0-8 0 6 0 34 0-98 0 104 0-66 0 14 0 36 1-64 0-16 0 19 0 43 1 5 0-86 0 58 0-42 0-29 1 181 0-62 1 70 0-20 0-151 0 45 0 71 0 0 0-35 1-52 0 123 0-44 0 21 0-73 0 6 0 38 0 42 1 8 0-90 0 52 0-47 0 54 0-59 1 1 0-42 0 73 0 38 0-49 1-27 1 48 0-9 0-8 0-118 1 104 0 16 1-53 0 72 1-115 0 60 0 41 0-26 0 55 0 0 0-49 0 108 1-157 0 61 0-58 0 34 0 55 0-56 0-29 0 84 0-84 0 83 0-66 1 93 0-76 0-65 0 85 0-30 0 97 0-127 0 49 1-85 0 140 0-46 0-16 0 26 0-34 1-24 0 0 0 75 0 21 0-55 0 3 0-33 0 11 0-18 0 101 0-55 0 33 1-39 0-72 0 36 0-28 1 74 0 2 0-76 0-33 0 122 0-32 1 80 0-11 0-101 0 15 1 139 0-113 0 95 0-178 0 62 0 58 0 1 0 12 0-83 0 110 0-70 1-43 0 14 0 25 1 1 0-51 0 141 1-91 0 57 0-39 0 5 0 7 0 48 0-81 0 36 0-91 1 98 0-14 0-102 0 58 0 98 0-89 0-25 1 40 0-54 0 52 0 24 0-63 0 15 0-26 0 50 1-29 0 100 0 57 0-211 0 120 0-4 0 17 0-99 1 34 0-34 0-1 0-27 0 75 0-64 0 113 1-31 0 20 0-66 0 41 0-12 0-8 0 97 0-120 0-22 0 48 1 37 0-46 0-29 0-2 0 37 1 17 0-6 0-68 0 79 0-89 0 43 1 15 0 17 0 25 0 9 0 16 0-19 0 32 1-117 0 127 0-56 0-54 0-25 0 66 1-14 0-35 0-2 0 45 0 65 0-123 0 7 0-4 0 0 1 71 0-59 0 3 0 54 0-23 1 34 0-30 0 24 0-53 0-16 0 0 0 127 1-107 0-37 0 155 0-126 0 34 1-19 0 54 0-124 0 50 0 47 0 41 0-91 0 140 0-93 1-30 0 11 0 26 0-13 0-44 0 26 1 58 0-12 0-16 0-35 0-53 0 74 0 53 1-8 0-38 0 9 0 31 0-60 0 15 0 14 1 38 0-95 0 61 0 16 0-30 1 30 0-24 0-56 1 31 0-9 0-68 0 57 0 114 0-103 0-7 0 72 0-52 0 45 0-132 0-19 1 165 0-54 0 120 0 4 0-124 0-44 0 44 0 52 1 58 0-11 0-59 0-11 0 22 0-96 0 98 0-41 0-29 1-4 0-49 0 48 0 32 1-30 0-30 0 36 1-14 0 20 0-111 0 165 0-44 0-22 1-19 0 45 0 52 0-54 0-78 1 3 0 116 0-30 0 41 0-54 0 45 1-99 0-76 0 119 1 66 0-45 0 11 0 0 0 9 0-60 0 40 0-47 0 13 1-35 0 40 0 112 0-103 0 28 0-5 0 16 0 33 1-158 0 129 0-1 0-17 1 11 0 8 0-106 0 44 0 53 0-96 0 73 1-133 0 168 0-65 0 71 0-34 0-9 0 55 1-164 0 125 0-31 0-60 0 71 0-11 0 24 1-3 0-12 0-61 0 176 1-130 0-35 0 56 0-23 1-26 0 6 0-2 0 43 0 0 0 18 0-121 1 8 0 122 0 36 0-51 0 42 1-97 0-20 0 131 0-43 0-25 0-73 0 127 1-113 0 11 0-9 0-73 0 87 0 81 0 4 0-160 1 161 0-17 0-44 0-7 0 9 1-83 0 143 0-3 0 7 0-106 0 115 0-65 0 8 1-29 0-20 0 33 0-11 0-16 1 53 0 57 0-122 0 47 0-13 0 41 0-54 0 27 0 67 0-26 1-46 0 73 0-47 0 100 0-107 0-43 1 63 0-83 0 84 0-16 1-112 0 31 0 54 0 24 0-29 0 46 1-75 0 51 0-39 0 20 0-93 0 14 1 30 0 1 0 66 0-45 0-18 1 80 0 2 0-26 0 27 0-25 0-16 0 0 0 17 1-52 0 48 0-65 0 29 0 42 0 30 0-163 0 164 0-15 0-34 0 51 1-67 0 47 0 62 0-128 0 50 0 52 0-39 0-60 1-14 0 56 0 11 0-47 0 106 1 15 0-28 0-84 0 69 0-100 0-12 0 18 0 116 1-90 0-57 0 137 0-38 0 59 0-58 0 11 0 51 0-32 1-87 0 39 0-19 0-73 0 101 0 39 0-121 0 158 0-79 1 36 0-83 0 87 0 11 0-38 0-41 1 30 0 79 0-77 1 116 0-191 0 132 0 19 0-35 0 10 0-55 0 3 0-46 1-19 0 37 1 110 0-28 0-53 0-12 0-12 0 53 0-35 0 110 1-77 0-34 0-10 0 34 0-28 0 57 1 21 0-133 0-21 0 53 0 4 1 71 0-8 0-124 1 37 0 107 0-50 0-12 0-85 0 140 1-84 0 98 0-27 0-115 0 100 0-70 1 64 0-41 0-41 0 46 0-44 0-49 0 140 1-87 0 83 0-19 0 51 0-44 0-3 1-63 0-23 0 50 0 23 0 17 0-96 0 51 0 32 0 8 1-13 0 93 0-107 0 99 0 24 0-150 1 63 0 48 0-184 0 139 0-75 0 24 1 11 0 91 0-51 0-13 0-52 0 49 1 0 0-15 0 66 0-75 0 68 0-23 0-40 0 0 1 31 0 4 0-62 0 67 1-21 0-25 0 33 0 11 1-13 0-9 0 68 0-14 0-2 1-58 0 38 0 93 0-49 0-115 0 32 1 5 0-25 0 36 0-15 0 6 0-3 0 45 1-42 0-115 0 182 0-26 0-1 0 6 0-88 0-26 0 44 0-28 0 165 0-133 1 86 0-78 0 32 0-53 0 45 0 25 0-52 0-22 1 56 0-114 1 92 0-18 0-17 0 19 0 124 1-90 0-26 0-70 1 101 0-16 0-15 0-94 0 76 1-34 0 168 0-170 1 29 0 59 0-27 0 0 0-10 0 33 1-102 0 66 0 22 0-1 1-33 0 26 0 79 0-85 1 89 0-183 0 177 0-183 0 125 0-122 1 116 0 34 0-12 0 8 0-137 0 67 1-8 0 34 0-84 0 77 0-33 0 79 0 84 0-88 0 73 0-195 0 154 0-112 0 20 1 22 0 0 0 6 0-33 0 33 0 63 0-131 0 79 1-12 0 6 0 72 0-13 0-79 0-29 0 106 1 12 0-101 0 89 0-161 0 82 1-1 0-71 0 102 0 79 0-164 0 95 0 43 0-122 1 99 0-22 0-49 0 4 0-87 0 121 0-50 0-44 0 91 0 26 0 47 0-80 1 2 0 85 0-106 0 65 0-51 0 13 1-13 0 80 0-58 0 46 0-62 0-41 1 25 0 31 0-22 0 16 0 103 0-123 0-23 0 106 0-111 0 64 1-40 0 105 0-80 0-24 0 48 0-76 1 50 0 21 0 108 0-177 1 80 0-30 0 70 0-60 0-44 0 51 0-21 0-97 1 20 0 83 0 41 0 42 0-114 0 68 1-15 0-65 0 120 0-135 0 58 0-11 0 37 0-43 0 61 0-24 1-17 0-70 0 32 0 26 0 20 0-43 0 85 0 36 1-56 0-16 0-93 0 110 1-33 0-13 0 45 0-53 0-25 0 161 1-105 0 53 0-89 0 47 0-61 1-12 0-7 0 162 0-15 0-32 1-112 0 67 0 14 0 4 0-74 0 87 0 56 0-38 0-21 0-25 1-43 0 29 0 92 0-109 0 38 0 31 0-22 0 42 1-123 0 62 0-33 0 2 0 12 1 13 0 32 0-68 1 52 0-2 0 39 0-54 0 44 0-21 0-128 0 162 1-71 0-32 0 26 0 18 0-29 0 30 0 46 0-104 0 61 1 76 0 12 0-108 1 26 0-74 0 66 0 24 0-120 0 125 0-12 0-99 1 99 0-116 0-18 0 138 0 14 1-105 0 69 0 17 0-1 0-11 0 71 1-53 0-29 0 4 0 133 0-84 0-49 0-40 0 37 0 42 1-58 0-25 0 90 0 8 0-67 1-37 0-11 0 31 0 63 0-53 0-15 1 75 0-6 0 13 0 30 0-69 1-50 0 106" fill="none" stroke="none" marker-start="url(#mssp2)" marker-mid="url(#mssp2)" marker-end="url(#mssp2)"/><polyline points="336.6,201.5 338.2,200.4 339.8,199.2 341.3,199.2 343.1,197.3 345.0,196.8 346.3,195.1 347.9,195.9 349.5,196.3 351.2,194.6 352.8,191.5 354.0,193.0 356.0,192.3 357.6,190.4 359.3,190.8 360.9,190.0 362.5,187.9 364.1,188.0 366.0,186.5 367.3,186.2 369.0,184.8 370.6,182.2 372.2,183.1 373.8,180.8 375.4,179.9 377.2,180.0 378.7,179.2 380.3,178.3 381.9,175.3 383.5,176.6 385.1,176.6 386.8,175.1 387.7,175.2 388.4,174.6 390.0,172.3 391.3,171.6 393.2,168.6 394.9,167.5 396.2,167.4 398.1,167.2 399.7,164.7 401.0,164.3 402.9,163.1 404.6,161.2 405.8,161.9 407.8,159.8 409.4,159.4 410.0,158.8 411.0,158.6 412.7,157.1 414.3,158.4 414.8,157.0 415.9,155.8 417.5,155.7 419.1,154.2 419.7,154.6 420.7,153.5 422.4,153.6 424.0,154.5 424.5,152.8 425.6,153.0 427.2,151.5 429.3,151.0 430.5,150.3 432.1,150.9 433.7,150.7 434.2,149.8 435.3,150.1 436.6,148.6 439.0,149.2 440.2,146.5 441.8,146.4 442.6,146.8 443.4,145.7 445.0,145.1 446.3,144.3 448.3,143.3 449.9,144.8 451.3,142.8 453.1,143.6 454.9,142.2 456.3,142.2 458.0,140.9 458.5,140.4 459.6,140.0 461.2,138.2 462.1,139.2 462.8,139.1 464.4,139.5 465.8,138.6 467.7,138.0 469.4,138.0 470.9,137.8 472.5,139.3 474.2,139.8" fill="none" stroke="#c800c8" stroke-width="1.6" stroke-linejoin="round"/><path transform="scale(.1)" d="M3360 2056l0 30 1-81 0 8 0-101 0 108 0 129 0-102 0 43 1-134 0 81 0-95 0 94 1-45 0 113 0-66 0 37 0-144 0 65 0 13 0-92 0 40 0 66 0-23 1-13 0 32 0 86 0-65 0 83 0-187 1-5 0 132 0-64 0-48 0 57 0 35 0 10 1-74 0-24 0-2 0 23 0 11 0 59 0-74 0-56 1 122 0-35 0-1 0 119 1-90 1 33 0-14 0 7 0-93 0-8 0 53 0-16 1 14 0 85 0-51 0-48 0-19 0 90 0-132 1 83 0 27 0-88 0-35 0 50 0 124 0-62 1-117 0 231 0-129 0 53 0-53 0 37 0-24 0 44 1 29 0-58 0-113 0 29 0 101 0-65 1 107 0-38 0 45 0-115 0 66 0-54 0-35 0 72 0-6 0-21 0-6 0 66 0-117 0 8 1 50 0-29 0-2 0-35 1 2 0 88 0-29 0-39 0 88 0-72 0 62 0-4 0 0 1-26 0-54 0 45 0 66 1-110 0 74 0-36 0-36 1 17 0 81 0-190 0 100 0-36 1 18 0 86 1-48 0 60 0-18 0-14 0-44 0-27 0 78 1-74 0 149 0-169 1 182 0-116 0 67 1-94 0 44 1-47 0 54 0 91 0-119 1 31 0 62 0-114 0 18 0-39 0-51 0 78 0 143 1-14 0-80 0-37 1 23 0 38 0 28 0-154 0 39 0 54 1-113 0 42 0 69 0-110 0 103 0-55 0 6 0-8 0 69 1-24 0-62 0 92 0-82 0 155 1-146 0-33 0 107 0-90 0 173 0-161 1 45 0 17 0-12 0-66 0 141 0-92 0 13 1 9 0-45 0 163 1-115 0 26 0-129 1 74 0 60 0 4 0-68 0 16 0 62 0-9 1-52 0-41 0 56 1 26 0-9 0 20 0-30 0-64 0 37 1 96 0-161 0 92 0 68 0-33 0-129 1-46 0 156 0-85 0 53 0 38 0 22 1-72 0 53 0 24 0-25 0-7 1-47 0-28 0-58 0 125 0-111 0 109 1-79 0 92 1-57 1 91 0-86 0 47 0-5 0-10 0-95 1 115 0-128 0 78 0 26 0 8 1-122 0 123 0-13 0-72 1 65 0-134 0 32 1 154 0-150 0 130 0-180 0 193 0-78 0-93 1 122 0 4 0-53 0 64 0-90 1 63 0 25 0-5 0-73 0 104 0 32 0-150 1 19 0 91 0 1 0-45 0 131 1-166 0 47 0-37 0-85 0 76 0 54 1-140 0 175 0-43 0 61 0-47 0-34 1 55 0-12 0-66 1-1 0 35 0-31 1-40 0 81 0 85 0-124 0-11 0-1 0 44 0 57 0-55 1-84 0 30 0 58 0-11 0-51 1 19 0 23 0-86 1 91 0-29 0 36 0-37 0-2 0 112 0-107 1-13 1 4 0-21 0 79 0-32 0-38 1 19 0 31 0 39 0-49 0-25 0-61 1 54 0 6 0-22 0 57 0-58 1 155 0-73 0 72 0-95 1-1 0 105 0-97 0 46 0-57 0-6 0 73 0-93 1-71 0 50 0 63 0-41 0 68 0-55 1 51 0-12 0-55 0 88 0-133 0 162 0-16 1-111 0 21 0 69 0-147 1 125 1 37 0-80 0 33 0 7 0-60 0 45 1 20 0-71 0 14 0 16 1 11 0 15 0-88 0 153 0-89 0-37 0 90 0-163 1 84 0-19 0-41 0 195 0-38 1-103 0 119 0-20 0-65 0 13 0-13 1-106 0 64 0 78 0 92 0-52 0-102 0 49 0 0 0 87 1-101 0 26 0 43 0-71 0 78 0-55 1-24 0-54 1 109 0-132 0 147 0-71 0-65 0 126 1-88 0 17 0-50 0 40 0-16 0 13 0 54 1-14 0 55 0-88 0 75 0-71 0 25 0-90 0 111 1 20 0-3 0-4 0-167 0 57 1 188 0-177 0-26 0 104 1-44 0 52 0 43 0-97 0 2 0-98 0 132 0-19 0-32 1 43 0 8 0 32 0 12 0-18 1-13 0 5 0-28 0-20 0 116 0-119 1 14 0 49 0 3 0-55 0-67 0-41 0 91 1-67 0 116 0-67 0-6 0-32 0-42 0 72 0-43 1 124 0 10 0-114 0 22 1 43 0 3 0-19 0 86 0-49 1-33 0 71 0 2 1-92 0 12 0-55 0 146 0-56 0-76 0 93 0-16 1-59 0 25 0 1 0 8 0 76 0-148 0 149 0-100 0-4 0 30 1 8 0-4 0-28 0 14 1 21 0-40 0-7 0 36 0 111 1-155 0 58 0-21 1 33 0-114 0 0 0 85 1 132 0-181 0 23 0 11 0 10 0-20 0 75 0 16 0-71 0 56 1-66 0-7 0 121 0-23 1-36 0-28 0-84 0 79 0-61 0 99 1-86 0-11 0 131 1-46 0-85 0 54 0-53 0 128 1-66 0-10 0 17 0 107 0-114 0-80 1 187 0-59 0-41 0 22 0-78 0 49 0-17 0 17 1 26 0 54 1-75 0 43 0 49 1-98 0-3 0 2 0 92 1-95 0 10 0 8 0-10 0-76 0-11 1 78 0 24 0-107 0 59 0-45 0 25 0 85 0-97 0 38 1-38 0 91 0 38 0-3 1-36 0-24 0 25 0-45 0-1 0-50 0 24 0-10 0 3 0 155 1-141 0-44 0 108 0-138 1 53 0 63 0-55 0 14 0 19 0 56 1-4 0 35 0-129 0 68 1-32 0 76 0-39 0 33 0-161 0 65 0 14 0 97 0-161 1 18 0 10 0 99 0 60 0-148 0 45 0 72 0-116 0 10 0 105 1-6 0-59 0 99 0-166 0 92 1-32 0-45 0 88 0 0 0-148 0 85 1 5 0-78 0 81 0 48 0-41 0-30 0-42 1 2 0 41 0 82 0-100 0 37 0-43 1 178 0-162 0 24 1 2 0-5 0 46 0-75 0 73 0 63 1-123 0 80 0-122 0 113 1-96 0 82 0 4 0-57 0-26 0-46 0 85 0 57 0-9 1-60 0-69 0 153 1-99 0 17 0 1 0-18 0-6 0 104 0 49 1-38 0-49 0-59 0-40 1 89 0-59 0-90 1 92 0 17 0 32 0 58 0-112 0 16 0 28 1-27 0 10 1-35 0 105 0-50 0-12 0 78 1 19 0-34 0-46 0-19 0 69 1 9 0-4 0 17 0-81 0-17 0 4 0 10 0-61 0 51 1 21 0 14 0-53 0 61 0-115 0-32 1 253 0-181 0 2 0-11 0 15 0 96 0-106 0 15 1 7 0 73 0-48 0 69 1-123 0 69 0 50 0-72 0-28 0 73 1-60 0 64 0-81 0 49 1-72 0 77 0-19 0-87 0 21 0 73 1 2 0 13 0-10 0-113 0 111 0 28 0-77 0-58 0 83 0 106 1-93 0-33 0 74 0 85 0-84 0-41 0-21 0 41 0 3 0-12 0-36 1-30 0 35 0-2 0 48 0-22 0-73 1 14 0 54 0 98 0-58 0-115 0 105 0-11 0-39 0-97 0 189 0-125 0 64 0-55 1-55 0 93 0 10 0 41 0-4 0-43 0 62 0-84 1 14 0 36 0-110 1 68 0 63 0-95 0 53 0-31 0-73 0 134 0 26 1-66 0 21 0-15 0 108 0-130 0 45 0-54 0-59 0 37 0 43 1-51 0-19 0-27 0 44 0 9 0 104 0-22 0-52 0-44 0 91 0-108 0 61 1-13 0 8 0-6 0 56 0 6 0-12 0-48 0 8 1 0 0 44 0 17 0-18 1 2 0-100 0 63 0-13 1-47 0 73 0-14 0 7 0-59 0 37 0-34 0 32 0-27 1 66 0-71 0-18 0 136 0-80 0 27 1-96 0 58 1 53 0-10 0-83 0 161 0-128 0-8 0 51 0-32 0 53 0 33 0-26 0-52 1 63 0-99 0 34 1 20 0-60 0 122 0 42 0-106 0-99 1 54 0 54 0-55 0 134 0-82 0-78 0 30 0 56 1 55 0-122 0 78 0-109 0 18 1-17 0 95 0 67 0-98 0 4 0 36 0-40 0-49 0 118 0 23 0-118 1 92 0-92 0 42 0-8 0-14 0 46 0-107 0 89 1 26 0-33 0 32 0 72 0-123 0-55 0 79 0 35 1-116 0 54 0-27 0-9 0 144 1-179 0 126 0 3 0-18 0-69 0-45 1 152 0-131 0 72 0-75 0 73 1-46 0 23 0 52 1-43 0 60 0-108 0 48 0-68 0 63 0-62 1 116 0-126 0 73 0 14 0 91 1-62 0-43 0-40 1 93 0 71 0-68 0 19 0-81 1-34 1 79 0 36 0-67 1 13 0 24 0 20 0-79 0 44 1-47 0 59 0 40 0-11 0-45 0-17 0 46 1 45 0-112 0 77 0-30 0 67 0-78 0-11 0-46 0 86 1-9 0 80 0-38 0-44 0 78 0-111 0 10 0-19 0 85 1-59 0-15 0 97 0-80 0-11 0 65 1-14 0-35 0-3 0-48 1 38 0-63 0 130 0-15 0-101 0-1 0 104 0 18 1-134 0 90 0 34 0-88 0 50 0-101 0 78 1-21 0 73 0-32 0-87 0 39 1-12 0 17 0 44 0-74 0 22 0-26 0 123 0-101 0-2 1 67 1 12 0-65 0 59 0-114 0 156 0-79 1-116 0 189 0-112 0-25 0 5 0 112 0-127 1 63 0-27 0 66 0-34 0 20 0-12 0 31 0-33 1 13 0 3 0-20 0 11 0 9 0-72 1 8 0 72 0 10 0 22 0-148 0 99 0 25 1-30 0-68 0 101 0-34 0-38 0 64 1 8 0-54 0-19 0-16 0 40 0 73 1-95 0-26 0 163 0-181 0 158 0-55 0-37 0 48 1-153 0 45 0-18 0 149 0-59 0-63 0 99 0-39 0 17 0-70 1-25 0 91 0-58 0 37 0-55 0 17 1 102 0-57 0-65 1-15 0 126 0-139 0 161 1-118 0 87 0 16 0-13 0 75 0-116 1 56 0-143 0 4 0 89 0-15 0 40 0-114 1 130 0 7 0-31 0-107 0 110 0 39 0-106 1 106 0-130 0 143 0-67 0 40 0-110 0 92 0-69 0 13 0-1 1 38 0-64 0 53 0 75 0-146 0 71 0 23 0-53 0 38 0-52 1 31 0 44 0-53 0 69 0-47 0 43 0-95 0 56 0-2 1-64 0 178 0-54 0-150 0 13 1 161 0-35 0-6 0-53 1-16 0 27 0 43 0-17 0-10 0 67 0-97 0-29 1 65 0 27 0 5 0-67 0-42 0 115 0-126 0 28 1 115 0-114 0 82 0-137 0 110 0-64 0 34 0 22 0-22 0 11 1 66 0-121 0-66 0 149 0 43 1-163 0 78 0-2 0 56 0-130 0 19 0 162 1-132 0 66 0-114 0 118 0-89 0 64 1-28 0 77 0-71 1 8 0 50 0-79 0 58 1-79 0-4 0 78 0 1 0 56 0-132 0-52 1 138 0 45 0-138 0 109 0-24 0-69 0 90 0-104 1 42 0 23 1-70 0 53 0-48 0 99 0-25 0 48 0-24 1-15 0 75 0-82 1 51 0-142 0-51 0 89 1 23 0-43 0 39 0 48 0-37 0-36 0 61 1-26 0-57 0 6 0 120 0-168 0 135 1-37 0-38 0 120 0-110 0 83 0-169 1 28 0 114 0-78 0 29 0 65 0-71 1-37 0-8 0 99 0 49 0-119 0 39 0 44 1-76 0-60 0 112 0-47 0 78 0-76 1 57 0 12 0-20 0 39 0-54 1-1 0-17 0-86 0 59 0 8 0 89 0 50 1-66 0 26 0 14 0-101 0-12 0 107 0 2 1-125 0 117 1-111 0 39 0 12 0 1 0-2 1-18 0 26 0-20 0 15 0-23 1-102 0 102 0 98 0-164 0 112 0-119 0 196 0-230 0 28 0 19 0 134 1-42 0-1 0-56 0 56 0-22 0 54 0-105 1-7 0 32 0 43 0-136 0 87 0 0 0 59 0-66 0 66 0-53 1-15 0 72 0-100 0 11 0 11 0 105 0-40 0-1 0-62 0-98 1 133 0-86 0 97 0-43 0-13 1 31 0-29 0-25 0 19 0 158 0-84 1-131 0 131 0-45 0-40 0-83 0 150 1 10 0-43 0 43 0-36 0 13 1-26 0 26 0 6 0-33 0 7 1 52 0-76 0 26 0 20 0 37 0-111 0 100 0-37 0 48 0-62 0 86 0-127 1 113 0-33 0-57 0 56 0-13 0-24 0-59 0 97 0-33 0 51 0-32 1 23 0-31 0 9 0-82 0-2 0 111 0-72 0 18 0 74 1-115 0-66 0 139 0-35 0 90 0-42 1-62 0 59 0-107 0 30 1-35 0 85 0-31 0 47 0-8 0-55 0 52 0-1 0-28 1-25 0 51 0-8 0-25 0 64 0-4 1 10 0-98 0 142 0-81 1-5 0-19 0 3 0 16 1 40 0 5 1-109 0 55 1-25 0-60 0 66 0 23 0-3 1-69 0 58 0-31 0 106 0-33 0-3 0-71 1 87 0-1 0-19 0 37 1-100 0 66 0-13 0 11 0-10 0-129 1 146 0-40 0-70 1 42 0 31 1 42 0-17 0 12 0-28 0-77 0 74 0-43 0 88 1 45 0-61 0-83 0 24 0 19 1 97 0-141 0 132 1-23 0-24 0 23 0-58 0-29 0 88 1-63 0 1 0 82 0-210 0 164 0 38 0-106 0 34 1-120 0 167 0 6 0-43 0-92 0 95 0 12 1 8 0-37 0 18 0-53 0-10 0 62 0-46 0 15 0 107 0-101 1 27 0-18 0 41 0-64 0 55 0-11 1 79 0-21 0-85 0 11 1 85 0-107 0 56 0 4 0-79 0 19 0 15 0-15 1 128 0-70 0-40 0 75 1 24 0-134 0-23 0 147 0-157 0 35 0 74 1-148 0 48 0 118 0-91 0 22 0 35 0-107 0 109 0-15 0 52 1-12 0-20 0-16 0-66 1 134 0-51 0-48 1-55 0 77 0 25 0 20 0-54 0 22 0 3 0 75 0-144 1 95 0-13 0 2 0 10 0-106 1 20 0-3 0 67 0-28 0 64 0-107 0 87 0 74 1-98 0-68 0 45 0-65 0 104 0 40 1-35 0-45 0 0 0 21 0-16 1-39 0 48 0-57 1 98 1-138 0 103 0 14 0 37 0-95 0 88 0-175 1 117 0-12 0 77 1-87 0 34 0-71 0 50 0-118 0 171 1 9 0-44 0-35 0 60 0 26 0 44 0-98 0 31 0-27 1 18 1-6 0-39 0 87 0-36 0-13 0-51 0 75 0-31 1 77 0-101 0 65 0-72 0 24 0-80 1 156 0-121 0-43 0 13 0 7 0 135 0-64 0-22 1 3 0-36 0 56 0-13 0 108 0-160 0 59 0 44 1 68 0-102 0-60 0 17 0 94 0 3 0-120 0 105 0-98 0 1 1 79 0-11 1-89 0 71 0 26 0 4 1-16 0 92 0-169 0-14 1 10 0-30 0 80 0 43 0-58 0-14 1 121 0-92 0 9 0-5 0 6 0-34 1 35 0-87 0 147 0-10 0-57 1 52 0-94 0 98 0-82 0 84 0-94 1 44 0-16 0 106 0-77 0 1 0 25 0-82 0 84 0-108 1 68 0-39 0 42 0 15 0-82 1 124 0-79 0-19 0 129 0-139 0 124 0-90 1 58 0-136 0 60 0 64 1-14 0-50 0-11 0-20 0 25 0 87 0-88 0 90 1-34 0-17 0-96 0 147 1 10 0-115 0-44 0 41 1 68 0-16 0 77 0-72 0-3 0-27 1 23 0 26 0-52 0 11 0 38 0 33 0-26 0-43 0 42 0-95 1 87 0-2 1-17 0-25 0-51 1 95 0-65 0 25 0-13 1 59 0-1 0-66 0 12 0 57 0 7 1-75 0 26 0 7 0-31 0 44 1-18 0-107 1 22 0 73 0 56 0-42 0-20 0 34 0-61 1 28 0-9 0 50 1-86 0-47 0 103 0-4 1 21 0-86 0 142 0 14 0-181 1 61 0-17 0 142 0-195 0 45 0 84 0-79 0 81 0 9 0-136 1-25 0 137 0-25 0-11 1 39 0 8 1-64 0-43 0 139 0-114 0 38 0-10 1 42 0-115 1 60 0 35 0-47 0 58 0-49 0 110 1-4 0-114 0 29 0 72 0-105 0-4 1 40 0-6 0-63 0 66 0 18 1 89 0-81 0 29 0-78 0-10 0-5 0 12 0-13 1 84 0-90 0 54 0 54 1-145 0 35 0 163 0-52 0-70 0 72 1-100 0 5 0 83 0-87 0 31 0 14 1 1 0-32 0 38 0 30 0-117 0 154 0-78 1-65 0 37 0-10 0-17 1-48 0 121 0-65 0-34 0-5 0 47 0-58 1 101 0-32 0-46 0 112 1-96 0 90 0-109 0 71 0-39 1 64 0 25 0-121 0 19 0 98 0-187 0 163 1 32 0-56 0 35 0-55 0-20 1-10 0 119 0-100 0 17 0 33 1 12 0-34 0 2 1-42 0 118 0-76 0 84 0-25 0-51 1-53 0 63 0-40 0-59 0 106 1-90 0 76 0-6 0-51 0 69 0-5 0 31 0 32 0-93 0-28 0 151 1-84 0-11 0 52 0-192 0 103 1 45 0-19 0 64 1-70 0-58 0 98 1-109 0 120 1-58 0-72 1 58 0 74 0-109 1 15 0 35 1-21 0-26 0 7 1-15 0 69 0 56 0-71 0 54 0-188 0 192 0-56 0 3 1 34 0-4 0-68 1 38 0 23 0-18 0-20 0-45 1 60 0-66 0-41 0 93 0 0 0-18 1 61 0-48 0 62 0-92 0 38 0-21 0-80 1 68 0-20 1 108 0-96 0 30 0 12 0 6 0-19 1 1 0 16 0 20 0-100 0 27 0 32 0-78 1 126 0 28 0 18 1-43 0-27 0-37 0-7 0 43 0 59 1-84 0 15 0 20 0-35 1-55 0 20 0 60 0-70 0-10 1 33 0-23 0 127 0-39 0-38 1-33 0 116 0-98 0-50 0 72 0-2 0 82 0-74 0-21 0 60 0-2 1-41 0-97 0 137 0 10 0-42 0-7 0-104 0 131 0-52 1 16 0-19 0-44 0 20 1 94 0-111 0 29 1-48 0 101 0 4 1 61 0-111 0 10 0-17 0 32 1-30 0-7 0 32 0-4 0 14 0-77 0 81 1-34 0 15 0 21 0-36 0 69 0 16 0-82 1-39 0-43 0 113 1-50 0 31 0 41 0-44 1 55 0-165 0 98 0 68 0-2 0-154 0 59 0 57 1 12 0-126 0 80 0-2 0 80 0-77 1 8 0 65 0-19 0-107 0 75 0-6 1 72 0-9 0-108 0 134 0-117 1 108 0-46 0-74 0-7 0 41 0 48 1-114 0 32 0 122 0-41 0-1 1-11 0-3 0-51 0 37 0-89 1 60 0 36 0-20 0 18 0-41 0 74 1-81 0 135 0-113 0 33 0 37 0-55 0-93 0 75 0-16 0-39 1 47 0-34 0 41 0-59 0 89 0-53 1 85 0-146 0 65 0-13 1-2 0-31 0-58 1 180 0 59 0-125 0 9 1 58 0-89 0 49 0 65 1-87 0 3 0 81 0-13 0-138 1 8 0 122 0-79 0-95 0 158 0-28 1-21 0-33 0 3 0 36 1 110 0-100 0 114 1-104 0 34 0-49 0 39 0-98 0 96 0-102 0 29 0 12 0-49 1 36 0 4 0 50 0 12 1-4 0-127 0 102 0 22 0-87 0 55 1-8 0 142 0-139 0-6 0-56 0-28 1 123 0-59 0 49 0-20 0-38 1-16 0 153 0-62 1-57 0-3 0-65 0 36 0-19 1-15 0 71 0 17 0 110 0-75 0 23 0-22 1-96 0-1 0 63 0 45 1 33 0-53 0 31 0-37 0 21 0-58 1 71 0-85 0 5 0 118 0-116 0 12 0 29 0-44 1-55 0 67 0 52 0-37 0-10 0 41 0-17 0 32 0-89 0 105 0-24 0-53 0-13 1 51 0-48 0-32 0 118 1-65 0 26 0 9 0-57 0-101 0 126 1 36 0-48 0 14 0-82 0 62 1 64 0-41 0-78 0 123 0-7 0-65 1 32 0 5 0 12 0-46 0 79 0-42 1-3 0 4 0 69 0-64 1-32 0-42 0 75 0-33 1-64 0 96 0-32 1 79 0-77 0-54 1 38 0-47 0-14 0 34 0 6 1 154 0-183 0 176 1-76 0-94 0 55 0 58 1-23 0 15 0-14 0-44 1 20 0-45 0-23 0 29 0-18 1 65 0-17 0-39 0 14 1 11 0-13 1 66 0-1 0-34 0-25 1-55 0 95 0 4 0 7 0-56 0 47 0-10 0 1 1-41 0 92 0-67 0 20 0 22 0-34 0 22 0-6 1 22 0-51 0 17 1-19 0 31 0-128 0 16 0 91 1 11 0-65 1 98 0-80 0 2 0-10 0-2 0-22 1 11 0 143 0-121 0 57 0 1 0-68 0 83 0-11 0-52 1 1 0-60 0 182 0-123 0 70 0 5 1-90 0 57 0-70 0-16 0 20 1 41 0 38 0-44 0-43 0-44 0 87 1-32 0 75 0-56 0 1 1 57 0-86 0-41 0 105 0-8 0 88 0-121 1 52 0-36 1-11 0 3 0-19 1-3 0 86 0-50 0-45 0-1 0 48 0-44 0 18 0 18 0-43 0-20 1 18 0 96 0-101 0 81 0-12 0-12 1 58 0 4 0-113 0 103 0-100 0 17 0 77 1-71 0-105 0 80 0-51 0 51 0 1 0 63 1-57 0-7 0-31 0 82 0-37 1-35 0 49 0 67 0-146 1 64 0 49 0-87 0 19 0-22 0 70 0 2 1 14 0 18 0-106 0 115 0-166 0 136 0-74 0-29 1 115 0-18 0-91 0 21 1 41 0 43 0 60 0-145 0 14 0-8 1 104 0-85 0 0 0-33 1-64 0 101 0-15 0 45 0-143 1 90 0 1 0 29 0 18 0-45 0 16 0 9 1 61 0-49 0-31 0-36 0 67 0-19 1 45 0-74 0-30 0 145 1-25 0-76 0 30 0-43 0 17 0-74 0 176 1-112 0-50 1 93 0-15 0-18 0 80 0-161 0 108 0-25 1-1 0 49 0-71 0 25 0 22 0 39 0-18 0-63 0 98 1-87 0 150 0-144 0 43 0-24 0-49 1 1 0 91 0-80 0 33 0 72 1-76 0-17 0-58 0 110 0 71 0-104 0-58 0 130 0-52 0-43 0 65 1 65 0-159 1-76 0 38 1 109 0-4 1 24 0-115 0 49 0-97 1 158 0-36 0-44 0-42 1 52 0-1 0 43 0-58 0 81 0-22 0-99 0 71 1 22 0 28 0-20 0-113 1 38 0 87 0-119 0 124 0-19 1-52 0 58 0-19 0 31 0-23 1 14 0-79 1 13 0 72 0-48 1-38 0 64 0-52 0 107 1-96 0 52 0-39 0 60 1-68 0 49 0-11 0-20 0-13 0-51 0 34 1-12 0 16 0 51 1 95 0-59 0-66 0 61 0 16 1-78 0-4 0-26 1 43 0 5 0-8 0-41 1-19 0 31 0 2 0 19 0-2 0-55 1 0 0 27 0 119 0-144 0 58 1-12 0-8 0-87 0 32 0-32 0 97 0-4 0-6 1-25 0 128 0-122 0 44 0-78 0-15 0 77 0 11 0 96 1-29 0-66 1-37 0 84 0-77 1-46 0 132 0-184 0 213 0-61 0-21 0 19 1-51 0 55 0 29 0-86 0 49 1 25 0-10 0-50 0 27 0-115 0 112 1-9 0-78 0 26 0-43 0 97 0 61 0-19 0-139 1 87 0 3 0-65 0 103 0-100 0-37 0 102 1-97 0-14 1 183 0-86 0-7 0 34 0 6 0 50 0-101 1-59 0 12 0 72 0 24 1-12 0 37 0-146 0 117 0-6 1-26 0 49 0-33 1 44 0-105 0 78 0-133 1 63 0 53 0-5 0 115 0-1 1-85 0 30 0-81 0 34 0 48 0 48 0-132 0 1 0 3 1 73 0-66 0 1 0-69 1 57 0 21 0 22 0-14 0-110 0 109 0-1 0 49 1-78 0-69 0-34 0 141 0-63 1 8 0 38 0-40 0 2 0 37 0 23 0-23 0-8 0 50 0-15 1-76 0 45 0 25 0-80 0 142 0-107 0 15 0 58 0-70 0 66 0-59 1 40 0-77 0-8 0 49 0-19 1 4 0-19 0 12 0 67 0-67 0 36 0 84 1-102 0 71 0-66 0-41 0-14 0 31 0 102 1-19 0-37 1-70 0 74 0 58 0-103 0 26 0-45 1-44 0-41 0 151 0-8 0-49 0-13 0 31 1 72 0-125 0 83 0-22 0 67 0 15 1-149 0 26 0 110 0-142 0 94 0-54 0-31 0 125 0-50 1-9 0 54 0-104 0 89 0-87 0-25 0 76 1 70 0-43 0-53 0-9 0-11 0 58 0 36 0-112 0 78 0 15 0 29 0-37 0-13 1 12 0-50 0 10 0 23 0 63 0-59 1-33 0 105 0-138 0 18 0-13 0 74 0 54 0-96 1-18 0 39 0 78 0-99 0-46 1 41 0 56 0 90 0-110 0-41 1 6 0 6 0-11 1 63 0-50 0 6 0 35 0-101 0 11 0 30 0 12 1 63 0-66 0-1 1-83 0 84 0 55 0-41 1 67 0-115 0 123 0-53 1 45 0-46 0 62 1-35 0-9 0-65 0 3 0 51 2-138 0 133 0 5 0 25 0-75 0-27 0 20 0 90 0-18 1 23 0-53 0-1 0-64 0 52 1-54 0 27 0-46 0 35 0 114 1-90 0-35 0 50 0 30 0 25 0-167 0 85 0 58 1-13 0-59 0 0 0 0 0 21 0 35 0-30 0 86 0-91 0-54 1 50 0 42 0-126 0 193 1-128 0-74 0 153 0 18 0-183 0 191 0-80 0 40 0-21 1 42 0-37 0-102 0 56 0-7 1 44 0-24 0 42 0-60 0-42 1 92 0 25 0-34 0 60 0-44 0 33 1-1 0-99 0 160 0-128 1 30 0-109 0 68 0-43 0 47 1-40 0 59 0 14 0 37 0-126 0 124 1-1 0-49 0-3 0 6 0 15 0-66 1 47 0 75 0-118 0 23 0 74 1-88 0 99 0-88 0-23 0-36 0 111 0-78 0-6 0 30 0 39 0 9 1 1 0-21 0-123 1 178 0-103 0 25 0-67 0-19 0 27 1-19 0 35 0 21 0-35 0 177 0-110 0-66 1 81 0 10 0-29 0-12 0 33 0 11 1-1 0-17 0 5 0-43 0-2 0-15 1 52 0 4 0-2 0 14 1 2 0-39 0-25 0-27 0 139 0-43 0-47 0 1 1-40 0 81 0-39 0 42 0-24 0-40 0-45 0 47 0 1 0-27 0-10 0 132 1-127 0 75 0-102 0 27 0-52 1 80 0 43 0-73 0 15 0-44 1 45 0 72 0 36 1-122 0-14 0-40 0 20 0 120 0-73 0-38 0 96 1-55 0-2 0 49 0-38 0 78 1-20 0-125 0 83 0-72 0 119 0-16 0-36 1-4 0 61 0-21 0-163 0 231 0-133 0 46 1 63 0-32 0-65 0 3 0 2 0 95 0-84 1-71 0 110 0 15 1-109 0 79 0 46 0-42 1-31 0 68 0-64 0-35 0 41 0-111 0 92 0 7 1 45 0-95 0 172 1-116 0 44 1-74 0-37 0 60 0-6 0-4 0 4 0 24 1-24 0-18 0 80 0-134 0 108 0 67 0-142 0 80 0-10 0 34 0 16 1-97 0-70 0 111 0 28 0 26 0 33 0-148 0 21 1-2 0-38 0 34 0-36 0 50 0-37 0 74 0-5 0-29 0-33 0 71 1-44 0 23 0-29 0 20 1 48 0-2 0-84 1 40 0-83 0 140 0-26 0-20 0 55 0-61 0 59 0-45 0 25 0-32 1 33 0-66 0 78 0-33 0-38 0-38 0 79 1 18 0-81 0 156 0-189 0 3 0 100 0-57 0 0 1-27 0 11 1-70 0 115 0 58 0-12 0-44 1-18 0-8 0-76 0 94 0 56 0-59 1-24 0 0 0-36 0 122 1-35 0-26 0 12 1-118 0 78 0-34 0 123 0-61 0 19 1-63 0 17 0 9 0-76 0 135 0-80 1-53 0 78 0 88 0-115 1 19 0 9 0 77 0-77 1 60 0-130 0 102 0-20 0-69 0 40 0 12 0-43 1 73 0-40 0-66 0 46 0 80 0 29 0-25 0-31 1 36 0-26 0-164 0 36 0 165 0-26 0-24 0 8 1 1 0-9 0 11 0-76 1 8 0-5 0-38 0 97 0-83 0 14 1 100 0-129 0 62 0 23 0 11 0-74 0 11 1 165 0-132 1 79 0-17 0 23 0-61 0 16 1-22 0 22 0-27 0-90 0 74 0 30 0 92 1-104 0-23 0 42 0 46 0-93 1 49 0 85 0-131 0-19 1 66 0-55 0 77 0-14 0 7 0-63 0-52 0 46 1 115 0-71 0-32 0-56 0 45 1-9 0-12 0 32 0 90 0-75 0 3 0 48 1-68 0 10 0-5 0 85 0-87 1 24 0-15 0-54 0 26 0 129 0-68 0-20 0-73 0 89 1-47 0-12 0 78 0-87 0 13 0 59 0 7 0-31 0 38 0-180 0 145 1-17 0-17 0 3 0-44 0 43 0-3 0 55 0 24 0-67 0-36 0 39 0 26 0-107 0 105 0-62 0 106 1-65 0 51 0-89 0 15 0 66 0-68 1 80 0-45 0-137 0 88 0-15 0 47 1 2 0-29 0-14 0 37 0 46 0-29 1-11 0 20 0-6 0-25 0-66 0 50 1 52 0-40 0 23 0-30 0 73 1-59 0 94 0-103 0-14 0 18 1-45 0-26 0 61 0 4 0-30 0 31 0 18 1-63 0 20 0 46 0 10 0-84 0 38 1 1 0 102 0-80 0-125 1 95 0-20 0 57 0 29 0-86 1 3 0 7 0-53 1 121 0-44 0-9 0 43 0-27 0 64 0-74 0 89 1-143 0 81 0-59 0-32 0 139 1-28 0-119 0 145 0-98 0 75 0 10 0-27 1-98 0 55 0 57 0-82 0-33 1 60 0 59 1 14 0-95 0-34 0 72 0 69 0-78 1 120 0-97 0-13 0-16 0 14 1-70 0 157 1-121 0 26 0 29 0-7 1-62 0 153 0-108 0-35 0 70 1 68 1-51 0 19 0-110 0-66 0 28 1 89 0-107 0 106 0-102 0 52 0-11 0 71 1-70 0 62 0 4 0 53 0-104 0 75 0-47 0-34 1-4 0 12 0-54 0 74 0 27 1-72 0 42 0 52 1-65 0 0 0-32 0 104 0-65 1 94 0-40 0-40 0-68 0 79 0 14 0-64 0-33 0 18 0 36 1 125 0-86 0-44 0-96 0 188 1-114 0 24 0-11 0 97 0-36 0-69 0 40 0 25 0-30 1 82 0-114 0-18 0 87 0 5 0-92 1 10 0 68 0 81 0-147 0 79 0 12 1-29 0-94 0-58 0 138 1-44 0 12 0-14 0 74 0-27 0-46 0-52 1 44 0-25 0 95 0-90 1 82 0 11 0-47 0 29 0 36 1-52 0 52 0-73 0 26 0-55 0 58 1-30 0-43 0 27 0-7 0 38 0-62 1 13 0 56 0 5 1-100 0 68 0 33 0 2 0 15 0-53 0-15 0 62 0-65 0 4 0 27 0-5 0 10 1-2 0 19 0 6 0 9 0-156 0 61 1 2 0 127 1-68 0-68 1-2 0 29 0 10 0 110 0-16 0-115 0 94 0-30 1-56 0 11 0-71 0 43 0 109 0-93 0 102 0-24 0-84 0 54 1 99 0-62 0-69 0 105 0-101 0-10 1 40 0 11 0-66 0-6 0 128 0-138 1 23 0-27 0 33 0-7 1 83 0-88 0 106 0-93 0 45 1-33 0-69 0 65 0 48 0 8 0-22 1-2 0 30 0-105 0 7 1 69 0 6 0 24 0-61 0-43 0 18 0 7 0-26 0-62 1 70 0-14 1 84 0-77 0 116 0-134 0 56 1-61 0 101 0-21 0 27 0 0 0 60 0-160 1 74 0-38 0 18 0 27 0-10 0-121 0 85 1 111 0-66 0 31 0-86 0-2 0 53 0 40 0-113 0 68 0 45 1 4 0-87 0 19 0-69 0 16 1 81 0-47 0-13 0-49 0 98 0 17 1-18 0-25 0 95 0-156 0 75 0-1 0-19 0 63 1-84 0 153 0-17 0-113 0-65 0 53 0 22 0 100 0-85 1-26 0-26 0 95 0-35 0-56 0 107 0 2 0-117 0 74 0-111 0 140 0-35 1 32 0-24 0-15 0 58 0-40 0-61 1 62 0-90 0 69 0-61 0 72 0-75 0 62 0-62 1 121 0-69 0 17 0-100 1 77 0 0 0 16 0 21 0-20 0-39 1 24 0-50 0 27 0 18 0 82 0-169 1 50 0-4 0 77 0 4 0-73 0 63 0 99 0-120 0 19 0-5 0 5 0-51 0 60 0-96 1 54 0-45 1 105 0-23 0-58 0-8 1 42 0-120 0 61 0 35 0 15 0 19 0-48 0 110 1-54 0-71 0-12 1 35 0 6 0 64 0-25 0 30 0-134 0 45 0-10 0 92 0-117 1-15 0 97 0-4 1 18 0-90 0 89 0-87 0 81 0-45 1-20 0 81 0-35 0 2 0-78 0 46 1-60 0 34 0 64 0-16 0-2 0-37 0 100 0-77 0-24 1-58 0 8 0 88 0-36 0 115 0-58 0 6 0 62 0-161 1 125 0-39 0-48 0 34 0-36 0 83 0 48 1-211 0 178 0-71 0-61 0 187 0-134 0-93 0 68 0 62 1 32 0-72 0 121 0-48 1-17 0-110 0 29 0 64 0 6 0 40 0-99 0 11 0 125 0-106 1-60 0 85 0-16 0 51 0-31 1-64 0 73 0-4 0-80 0 60 0-13 1 29 0-57 0-10 0-47 0 125 0-74 0 35 0 26 0-104 0 117 1-110 0 109 0-36 0 79 0-27 1-75 0-37 0 14 0 1 0-39 0 55 1-59 0 69 0-12 0-21 0 112 1-131 0 59 0 48 0-144 0 106 0 24 0-125 1 69 0 60 0-72 0 40 0 50 0-40 1-11 0-46 0 120 0-98 0 34 1-1 0-43 0 21 1 13 0-9 0 7 0-1 0-41 0 28 0-27 1 83 0-51 1 70 0-12 0-50 0 10 0 51 0-38 0-102 0 118 0-10 1-104 0 0 0 88 0-41 1 30 0-34 0 44 0-23 0 16 0-24 0-17 1 60 0-110 0 64 0 110 0-96 0-5 0 39 1-52 0 33 0-93 0 117 0-64 0-1 0 21 0 4 0-11 1 32 0-57 0 6 0 26 0-78 2 117 0-87 0 58 0-7 0 14 0 84 0-137 1 32 0 22 1 88 0-41 0-25 0-64 0-45 0 98 1-94 0 55 0-59 0 91 0 45 1-100 0 70 0-57 0 70 1-55 0-27 0-37 0 53 0 109 0-66 1-67 0 141 0-171 1 51 0 52 0-34 0 39 0-45 0-12 0-110 0 151 1-52 0 38 0-44 0 38 0 3 0-25 0-1 0-41 0 80 0-88 0 94 1-1 0-36 0 0 0 129 0-149 0-12 1 60 0-49 0 30 0-38 0 71 1-99 0-29 0 72 0 51 0 15 0-83 0 39 0 3 0-60 0 96 0-91 0 92 0-68 0 77 0-11 1-38 0 10 0 10 0 5 0-25 0 24 0 49 1-128 0 48 0 17 0 45 0-148 1 98 0 66 0-136 0 127 0-68 1 24 0 33 0-41 0-3 0 63 0 4 0-98 0-64 0 51 0 45 0-1 1-120 0 159 0-84 1 23 0 111 0-43 0-52 0-24 1-12 0 25 0 119 0-102 0 15 0-49 0 48 0-51 0-20 1-55 0 133 0 22 0-117 0 78 0-41 0-14 0 100 1-38 0-11 0-90 0 120 0-120 0 97 0 23 1 10 0-36 0 73 0-70 0-44 1 29 0-94 0 110 0-119 0 81 0 15 0 2 1-33 0 109 0-97 0 137 0-122 0 41 0-17 0-125 1 192 0-112 0 52 0-103 0 110 0-29 1-56 0 78 0-85 0 119 1-170 0 125 0-69 0 47 0 51 1-44 0-124 0 148 1-100 0-21 0 100 0-41 1 94 0-78 0 14 0-46 0 151 0-168 0 12 0 42 1 0 0-62 0 74 0-60 0 77 0-23 0-12 0-23 0 98 0-65 0 64 0-115 1 54 0-59 0 108 0-63 0-8 0 3 0-44 1 13 0 42 0 24 0-117 0 57 0-29 1-60 0 168 0-38 0-97 0 117 0 57 0-97 0 59 0 19 1-97 0-49 0 44 0 21 0 21 0-28 0 42 1-60 0 25 0 37 0-40 0 57 0-8 0-24 1-31 0 38 0 36 1-61 0-6 0 79 0-104 0 78 0-133 0 125 0-60 0 7 0 0 1 56 0-5 0-25 0 37 0-119 0 60 1-36 0 137 0-36 0-14 0-77 0-32 0 17 0 66 1 2 0-2 0-77 0 160 1-58 0 11 0-17 0 1 0-12 0-3 1 23 0-65 0 45 0-44 0 64 0-39 0 20 0-2 1 48 0 0 1-161 0 150 0-32 1 52 0-35 0-56 0-64 0 145 0-17 1 7 0-30 0-111 1 165 0-112 0 56 0-84 0 28 0-46 0 130 1-131 0 76 0-43 0 72 0-37 0 56 0-7 0-103 0 69 1 15 0-31 0-31 0 40 0 72 1-106 0 7 0 59 0-129 0 101 0-65 0 164 0-225 1 80 0-6 0 11 0-59 0 2 0-15 0 53 0 97 1-77 0 117 0-68 0-72 0 86 0-82 0 125 0-10 1-93 0 39 0 34 0-59 0 44 0-24 0-35 0 16 0-59 0 89 1-79 0 1 0 70 0-93 0 87 0-53 1 64 0 16 0 32 0-41 0-104 0 111 0 11 1-93 0 7 0-50 1 104 0-1 0-20 0 74 0 26 0-129 0-38 0 66 0-74 0 21 0 77 0-49 0 25 0 74 1-82 0 42 0-27 0 55 0-12 0-66 0 90 0-10 1 1 0-97 0-61 0 94 0 70 0-123 0 38 1 69 0-70 0-17 1 73 0 17 0-44 0-60 0 157 0-185 1-43 0 63 0 75 1 49 0-141 1 64 0-59 0 22 0-54 0 140 0-2 0-5 1-56 0-33 0-22 0 106 0-90 0 21 1 74 0-48 0 8 0-75 0 107 1 39 0-86 0-20 0 64 0-110 1 191 0-40 0-18 0-90 0 53 0 37 1-32 0-7 0-11 0-1 0 8 0 55 0-111 1 32 0 22 0 60 0-52 1-19 0-37 0 139 0-80 0-9 1-2 0-23 0 20 0-50 0 27 0 83 1-53 0-78 0 73 0-11 0-35 0 42 0 56 1-105 0 25 0-83 0 206 0-93 0-4 1-64 0 92 0 35 0-61 0-30 0 92 1-16 0-136 0 59 0 65 1-78 0-5 0 44 0-52 0 42 0 45 0-69 1-36 0 47 0-15 0 38 0-1 0-57 1 22 0-41 0 93 0-41 1 20 0 70 0-210 0 137 0-58 0 135 1-174 0 85 0 11 0-39 1 25 0 70 0-132 0 83 1 12 0-79 1 107 0 65 0-134 0-125 0 117 0-6 0 8 1 5 0 19 1-9 0-95 0 82 0 12 1-13 0-113 0 158 0-23 0 46 0 43 0-76 0 47 1-17 0-56 1-85 0 67 0 5 0-66 0 71 0 6 0-98 0 102 0-39 0 8 1 51 0-59 0 27 1 7 0 14 0-82 0 79 0 2 1-46 0 77 0-145 0 107 1-32 0-31 0 12 0 74 1 49 0-56 0 64 0-109 0 26 0-18 0 9 1-36 0 121 0-111 0 92 0-147 1 168 0-98 0 14 1 49 0-38 0-74 0 105 0-28 0 66 0-33 0 15 0-52 1-6 0-50 0-1 0 53 0 51 0-113 0 47 0 11 1-32 0 25 0-120 0 62 0 51 0-30 0 75 1 67 0-161 0 107 0-17 0-160 0 94 0 11 1 77 0-52 0 111 0-108 0-20 1 24 0-98 0 29 0 4 0 67 1-19 0-50 1-5 0 66 0-53 0-3 0 63 0-58 0 18 0 5 0-122 0 32 0 70 1 41 0-3 0-34 0-36 0 64 0 84 1-59 0 39 0-63 0-28 0-3 0 14 0 44 0-51 0 24 1 1 0-98 0 18 0 124 0-148 0 33 0-36 0 148 0-13 0-116 1 39 0 55 0 13 0-55 0-18 1 36 0 5 0 7 0-18 0 50 0-61 0-17 0 36 0-33 1-73 0 47 0 29 0-13 0-46 1 82 0 4 0-75 0 25 0 65 0-18 0-31 0 11 1-85 0 51 0 104 0-98 0-12 1 66 0-6 0-122 0 122 0-12 1 26 1-83 0 35 0 64 1-99 0 106 0-9 0 73 0-140 0-3 0 93 0-50 0-57 0 39 1-17 0 36 0 33 0-103 0 111 1-53 0 46 0-93 0-5 0 31 1-57 0 70 0-35 0 32 1 24 0-13 0-46 0 65 0-66 1 49 0 25 0-33 0 67 0-19 1 3 0-94 0 104 0-67 0 101 0-20 0-96 1 12 0-47 0 74 0-52 0 31 0 106 1-58 0-7 0-10 0 15 0-39 0-65 1 53 0-58 0 29 0 26 0 81 0-48 0 24 0-79 0 20 0-11 0 57 1-84 0 9 0 25 0 54 0-21 0 11 1-73 0 84 0-73 1 2 0 26 1-28 0 128 0-115 1 13 0-28 0-14 0 118 1-41 0-84 1 49 0-16 0-9 0 59 0 25 0-7 0-129 1 13 0 31 1 8 0 85 0-28 1-44 0-49 0-24 0 105 0-25 1-9 0 116 0-21 0-24 0-7 0-98 0 44 0-64 0 43 0 7 1-85 0 103 0 30 0-65 0 59 0-1 0-26 1-29 0 70 0-15 0 10 0-32 0 24 1-48 0 21 0 77 0-131 0 49 1 56 0-35 0-131 0 149 0-75 0-1 1 78 0-91 0 102 0-98 0 65 1-43 0 16 0 64 0-48 0-8 0-42 0 133 0-114 1-21 0 77 0-3 0-37 0-18 0 115 0-21 0-43 0-47 0-33 1 67 0-35 0 5 0 5 0 24 0-49 1 63 0 18 0 70 0-139 0-58 0 108 0-16 1 43 0-58 0-120 0 115 1-22 0 26 0-115 0 151 0-17 0-93 0 58 1 46 0 18 0-65 0 14 0 108 0-70 1-91 0 73 0-25 0 28 1 6 0-44 1 19 0-36 0-53 0-12 0 106 0-93 0 166 0-185 1 71 0 8 0-6 0 28 0 12 0-82 0 88 0 62 0-60 0 34 1-46 0 52 0-107 0 8 1 103 0-138 0 86 0-105 0 5 0 89 0 89 1-81 0 71 0-80 0-71 0 71 0 48 1-47 0-13 0 29 0-92 1-1 0 82 0-2 0-17 0-64 0 32 0 129 1-137 0 86 0-53 0 59 0-33 0-30 0 24 0 20 0-22 0 12 0 31 1-100 0 83 0-47 0-25 0-26 0 58 0 41 0-119 0 43 1-2 0-76 0 92 0-38 0 48 0-105 0 35 0 156 0-56 0-73 1 58 0-8 0-11 0 23 0-22 0-82 0 132 0 65 0-139 0 145 0-133 0-23 1 61 0-56 0 36 0 59 0-13 0 59 1-207 0 117 0 104 1-72 0-40 0-72 0 34 0 7 0 42 1-13 0 16 0-16 1-58 0 0 0 51 0 64 0 0 0-93 0 111 1-83 0-10 1-3 0-97 0 180 1-2 0-78 0-68 0 136 0-26 0-42 0 4 1 56 0-79 0-8 0 42 0 15 0-106 0 17 0 54 0-47 1 73 0 67 0-137 0 45 1-45 0 139 0-51 0-44 0-57 0 63 0 3 1-24 0-40 1 61 0 68 0-100 0 85 0-61 0-20 0 5 1 13 0-6 0 61 0 53 0-113 0 72 0-88 0 17 0 8 0-30 1-29 0 134 0-99 0 53 0-30 1-45 0 86 0-60 0 27 0-26 0-27 0 41 0 13 1-21 0-111 0 120 0 10 0 119 1-189 0-62 0 57 0 64 0 80 0-115 1-67 0 124 0-47 0 150 1-59 0-112 1 58 0-110 0 6 1 117 0-43 0 51 0-130 0 119 1-14 0-48 0-9 0 71 0 50 0-44 0 11 0-77 0 61 1-26 0 71 0-36 0-68 0 15 0 84 0-26 0-10 1 33 1-23 0-25 0-29 0 11 0 46 0-72 0 55 0 62 1-44 0-8 0 9 0-18 0-8 0 20 0-117 0 37 0-86 0 50 0-14 0 52 0 23 1-4 0-18 0-7 0 60 1 19 0 19 0-78 0 64 0-77 0 74 0-83 0 42 1 19 0-76 0 19 0-3 1 100 0-113 0 20 0 72 0-76 0 52 0 11 0-126 1 86 0-55 0 91 0 49 0-19 0-80 0 55 0-48 0-91 1 139 0-48 0 36 0-40 0 11 0 76 1-144 0 109 0-1 0-111 0 76 0-75 0 118 1-75 0-7 0-7 0 121 0-152 0 65 0 109 1-85 0 29 0-44 0 50 0-112 0 112 1-84 0 101 0-25 0-1 0 24 0-153 1-5 0 45 0 139 0-151 0-41 1 116 0 27 0-24 1 23 0-59 0 56 0-90 0-4 0 42 1-13 0 50 0-37 1 17 0 43 0-77 0-10 0 90 0-36 1-11 0 78 0-131 0 6 0 107 1-57 1 60 0-122 0 96 0-56 1-48 0 104 0-109 0 159 0-34 0-18 0-80 0 69 1-70 0 17 0 71 0 63 0-57 1-72 0 24 0 27 0-11 0-19 0-20 1-98 0 117 0 2 1 47 0 18 0-37 0 6 0-42 0 93 0-90 0-12 0 57 0-8 0 12 1-56 0 83 0-104 0 59 0 3 0 19 1-55 0 39 0-36 0 25 0-75 0 106 1-55 0-46 0 54 0 21 0 45 0-41 0-68 1 43 0-18 0-18 0-76 0 37 0 110 0-113 0-63 1 129 0-80 0 123 0-16 0-84 0 99 0 25 0-131 0 69 1-50 0-5 0 48 1-35 0 51 0 86 0-28 1-100 0-15 0 11 0 52 0-31 0 31 1-3 0 30 0 13 0-122 1 40 0 74 0-124 0 11 0 66 0-35 0-52 0 5 1 59 0 48 0-76 0 23 0-36 1 63 0 51 0-114 0 148 0-215 0 184 0-59 0-20 1-1 0 9 0 35 0-25 0-81 0 79 1-30 0-109 0 182 0 16 0-31 0-119 0 57 1 13 0 60 0 0 0-60 0 56 0-99 1 69 0-29 0-11 0-81 0 113 0 72 0-122 0-36 0 77 0-30 1 28 0-17 1-114 0 133 0-49 0 17 0 21 0-47 0 51 0-5 1 40 0 36 1-128 1 28 0 18 0 42 0-37 0 112 0-50 0-109 1 42 0-4 0-54 0-6 0-30 0 61 0 62 0 30 1-19 0-171 0 139 0 22 0-12 1-3 0-34 0 2 0 52 1-124 0 141 0-17 0-44 0-28 1 46 0 30 0-59 0-16 1 60 0-27 0-4 0-20 0-22 0 52 0-104 1 190 0-62 0 29 0-122 0 48 0 36 1 10 0-30 0-38 0 1 0 69 0-55 1 25 0-89 0 49 0-24 0 13 0 54 0-33 0-17 0 17 0-79 0 82 1-3 0-52 0 15 0 96 0-3 0-20 0-69 0 47 0-39 0-30 1 84 0-2 0-16 0-54 1 125 0-66 0-31 0 71 0 16 0-93 0 50 1-31 0 59 0-115 0 105 0-26 1 7 0 59 0-56 0 19 0-121 1 68 0-28 0-34 0 66 0-24 0 62 1-29 0-10 0 57 0-69 0 63 1-33 0-2 0-14 0 30 0-61 1 57 0 15 0-34 0-55 0 48 0 8 1-101 0 133 0 48 0-40 0 32 0-15 0 0 1-166 0 94 0 109 0-138 1-43 0-6 0 39 0 39 0-4 0 5 1-30 0 45 0 9 0-55 0 27 0-30 1 23 0 67 0-136 0 91 0-51 0 31 0 90 0-11 1-133 0 120 0-86 0 118 1-146 0 68 0-42 0-12 0 18 1-4 0-19 0-24 0 80 0 22 0 9 0 10 0-37 0-83 1 29 0 1 0 88 0-57 1 1 0 12 0 19 0 33 0-108 1 58 0 4 0 41 0-48 0 31 0-45 1 90 0-137 0 76 0-44 0 12 0 18 0 3 0-46 1-17 0 44 0 44 0 45 0-38 1-101 0 0 0 11 0 73 0 44 1-84 0-11 0-10 0 40 0-25 0 20 1-3 0 27 0-38 0-51 1 31 0 30 0 50 1-109 0 101 1-44 0 2 0-12 0-48 0-52 0 48 0 64 1-50 0 38 0 7 0-18 0 9 0-63 0 165 1-98 0-9 0-50 0 26 0 47 0 1 1-97 0 107 0 6 0-53 0 50 0-57 0 71 0-129 2 88 0-65 0 49 0 45 0-35 0 39 1-58 0 52 0 75 0-168 0 116 0-84 0 45 1 29 0-121 0 46 1 25 0 43 0-32 0-43 0 59 0-46 0-12 0 22 1-6 0 85 0-47 0-29 0 22 0-77 0-13 1 48 0 17 0 25 0-39 1-14 0 69 0-60 0 0 0 31 1-5 0-13 0 28 0-38 0-5 0-68 0-4 0 94 0 33 1-102 0 54 0 57 0-58 0 52 0-22 0 29 1-36 1-77 1 71 0 10 0-2 0 86 1-152 0 58 0 29 0-87 0 18 0-56 0 38 0 98 1-47 0 47 0-21 0-37 0 56 0 3 1-66 0-60 0 171 0-31 0-76 1 18 0-89 1 142 0-90 0 115 0-147 0 26 1 89 0 7 0-112 0-7 0-5 0 39 0 40 0-73 0 36 1-10 0 17 0 10 1 19 0 7 0 24 0-16 0-64 0-39 1 119 0-4 0-27 0-32 0-2 0 21 1-50 0 50 0-106 0 127 0-41 0-97 0 120 1-88 0 70 0-34 0 11 0-64 0 130 0 46 1-101 0 7 0-29 0 24 0 27 0 3 1-94 0 71 0-31 0 2 0 50 0-27 1-33 0 133 0-78 1 49 0-46 0-45 0 20 1-11 0 65 0-88 0 58 0 17 1-45 0 99 0-64 0-61 1 18 0 8 0 44 0-14 1-72 2 39 0-14 0 24 1 30 0-65 0 0 0 31 0 38 1-69 0-45 0 68 0-15 0 5 0 39 0-76 0 87 1 16 0-109 0 36 0 137 0-154 1 62 0 80 0-27 0-54 0-36 0 6 0 59 0-146 0 137 0-105 0 93 0 27 0-30 1-9 0 71 0-113 0 30 1 42 0-27 1 9 0-85 0 45 0 5 0-2 1-11 0-36 0 65 0-95 0 127 0-8 0-96 1 38 0 40 0 43 0-24 0-19 1 62 0-89 0 17 0-5 0 8 0-65 1 68 0 21 0-48 0-49 0-4 0 18 1 77 0 22 0-57 0-9 0 82 0-33 1-37 0 19 0-5 0 16 0-1 0-2 0-61 0 106 1-35 0 57 0-147 0-21 1 118 0 38 0-70 0-60 0 60 0-125 1 145 0-23 0-21 0-21 1 12 0 49 0-39 0-36 1-14 0-9 0 77 0-110 1 85 0 15 0 13 1-58 0 73 0-54 0-33 1 126 0 14 0-52 0-67 0 12 0-16 0 11 0 58 1-60 0-21 0-2 0 89 1-100 0 28 0-5 0 46 0 22 0 26 1-35 0-72 0-13 0 107 0-31 0-11 1-4 0 30 0-7 0-39 0 34 0 45 0 11 1-58 0-89 1 53 0-5 0 32 0-58 0 83 0-88 0 17 0 54 0-19 1 24 0-20 0-92 1 79 0-70 0 67 0 5 0 41 1-100 0 102 0 32 0-30 0-75 0 20 1 10 0 16 0-19 0-64 0-23 0 58 0 34 1-15 0 41 0-92 0 24 0-89 0 77 0 52 0 46 0-23 1-13 0 3 0-4 0-11 1-1 0-54 0 26 0 2 0 30 0 6 1-4 0 56 0-7 0-23 0-60 0 41 1-81 0 95 0 23 0-83 0 49 0-65 0 21 0 29 1 47 0 28 0-10 1-58 0-89 0 48 0 12 1 21 0-40 0 50 0-24 0-50 0-28 0 80 1-63 0-56 0 94 0-18 0 40 0-58 1 93 0-94 1 83 0-28 0-72 0 64 0 44 1-154 0 85 0-26 0 84 0-7 1 84 0-81 0-18 0-6 0 2 0 79 0-84 0 40 0-87 0 10 1-42 0 85 0 0 0-59 0 29 0 51 0-9 0-37 1 3 0 0 1 1 0 43 0-6 1-38 0-31 0 85 0-11 0 47 0-53 0-79 0 34 0-19 0 54 0-51 0-43 0-46 0 87 1-16 0 86 0-41 0-46 0-36 0 96 0 0 1-128 1 103 0 36 0-74 0 87 1-37 0 22 0-25 0 54 1-62 0 56 0-142 0 157 0-48 0-64 1 77 0 34 0-69 0 49 0-136 0 63 0 75 0-98 1 112 0-126 0 130 0-60 0 45 0-51 1 17 0-1 0 51 0-56 0 75 1-41 0-20 0-42 0 34 0-35 0 67 1-87 0 145 0-4 0-178 0 54 1 27 0-67 0 54 0-3 0-18 0 35 1-100 0 107 0 53 0-67 0-32 0 121 0-129 0 14 0 56 0-44 0 104 1-106 0 22 0-41 0 78 0-141 0 157 0-74 0 10 0-46 1 105 0-78 0 80 0 0 0-83 1-34 0 48 1 27 0-61 0 71 0-100 0 127 0-134 0 58 1-27 0 71 0-22 0-11 0-49 0-1 0 42 1 23 0 68 0-110 0 53 1-16 0 68 1-62 0 22 0-20 0 98 0-61 0-47 0 0 0 65 0-101 0 94 1 3 0-60 0-42 0-34 0 92 0-55 0-52 1 83 0 62 0-157 0 193 0-129 1 11 0 112 0-66 0 67 0-198 0 46 0 43 0-32 0 87 0-39 1-5 0-77 0 18 0 79 1-53 0-26 0 58 0 77 1-19 0-127 0 93 0 15 0-49 0-33 0 1 0 68 1-118 1 96 0-59 0 110 0-147 0 62 0 30 1-34 0-48 0 38 0 43 0 64 0-5 0-73 0-123 0 99 0-4 1 8 0 10 0-41 0-19 0-16 0 138 0 35 1-144 0 32 0 27 0-19 0 44 0-48 0 12 0 23 1-38 0 48 1 37 0-83 0 66 1 5 0 20 0-121 0 33 1 30 0-12 0 8 0-51 0 2 0 27 0-9 0 27 1 10 0-58 0-4 1 62 0 21 0 29 0-91 1 22 0-5 0 45 0-45 0-108 0 109 0 8 1-80 0 53 0 104 1-69 0 28 0-154 0 101 0-37 1-33 0 101 0-32 0 12 0 12 1-2 0 49 0-23 0-46 0 29 0 57 0-103 0 44 0-65 0 6 0 32 1 32 0 28 0 1 1-25 0 24 0-109 0 128 0-129 1 10 0 0 0 47 0-18 0 27 0-10 0 5 0 25 0 10 0-12 0 15 1 70 0-97 0-70 0 28 0-56 1-14 0 94 0-40 0-30 0 96 1-132 0 123 0-54 0 25 0-6 1-20 0 40 0-12 1-8 0 2 0 1 0 51 0 0 0-130 0 149 0-95 0-22 1 49 0-36 0-34 0 45 0 10 0 15 0 77 1-99 0 3 0-28 0 109 0-48 0-34 1 56 0 6 0-57 0-51 0 47 0-50 1 72 0-5 0 25 0-18 1-2 0 19 0-11 0-63 1 61 0-1 0 9 0-61 0 67 0-51 0 93 0-99 0-17 0 49 0 16 1-49 0 71 0-104 0 100 0-86 1 29 0-61 0 151 0-68 1 2 0-76 0 22 0-26 1 75 0 19 0 52 0-142 0 135 1-78 0-63 0 39 0-6 1 36 0-28 0 23 0 30 0-63 0-4 0 15 1 87 0-153 0 120 0-117 0-20 1 99 1-27 0 59 0 35 0-63 0 3 0-11 0-2 1-8 0-32 0 50 0 51 1-116 0 82 0 21 0-33 1-11 0 63 0-106 0 116 0-47 1 33 0-43 0-29 0 37 1-8 0-22 0-33 0 100 0-9 0-27 1-17 0-10 0-48 0 89 0-15 1-35 1 22 0-24 0-29 0-12 1 42 0-36 0 77 0-61 0 64 0-58 1 11 0 31 0-13 0-66 1 12 0 52 0-33 0 51 1-13 0-54 0 119 0-102 0-45 0 62 0-91 1 32 0 54 0-42 0 23 0-41 0 71 0-41 1 89 0-69 0 46 0-69 0 73 1-65 0 66 0-106 0 111 0-49 0 2 0 13 0 15 1-51 0 75 0-24 0-37 0-41 0 94 0-13 0-29 0-7 0-73 0 46 0 42 0-65 1 72 0 38 0-81 0 32 0 17 0-27 1-15 0 0 0 65 0-7 0-34 1-96 0 83 0-63 0 85 0 39 0-44 1-6 0-28 0 28 0-60 0 55 0-42 1 80 0-30 0-133 0 149 0-56 0 44 1-40 0-5 0 0 0 19 0-5 0 24 0-76 0 120 0-35 0 28 1-23 0 6 0-9 0-95 0 97 0-104 0 185 0-100 0 3 0-23 0-51 0 69 1-59 0 4 0-8 0-22 0 157 0 7 0-184 1 103 0-3 0 83 0-141 0 22 0-41 0 55 0 22 1 14 0-108 0 152 0-48 0-98 0 66 0 17 0 35 1-6 0-62 0 150 0-120 0-2 0-75 0 47 0-4 1 42 0 3 0 17 0 0 1-69 0 82 0-116 0 167 1-110 0-65 0 94 0-41 0 14 0 100 1-157 0-9 0 26 0-11 0-2 0 76 1-24 0-48 0 55 0 6 0-100 0-10 0 101 1-43 0-41 0 106 0-53 0 46 0-33 0-72 1 91 0 16 0-85 0 81 0-55 1 63 0-43 0 74 0 43 1-62 0 40 0-89 0 11 0-33 0 77 1-21 0-76 0 12 0 45 0 4 0 26 1-33 0 3 0 97 0-7 0-102 0-11 0 58 0-75 0 47 1-27 0 76 0-58 0-62 0 87 0-68 0-18 0 54 0 29 1-25 0 38 0-82 0 9 0 30 0-33 0-6 0-49 0 127 1-62 0-20 0-14 0 88 0-155 0 64 1 139 0-28 0-63 0 15 0 12 0-11 0 39 0-11 0-95 0 95 0-16 0-57 1-40 0 99 0-21 0 54 0-66 1-61 0 15 0 15 0 47 0 38 0-32 1-4 0-29 0 78 0-28 0 29 0-77 1 21 0-18 0-16 1 100 0-28 0 38 0-51 1-2 0-73 0 26 0-26 0-38 0 143 0-55 1-49 0 32 0-12 0 89 0-107 1 59 0-46 0-16 0-58 0 68 1 88 0-119 0 20 0 27 0 1 0 23 0-77 0 113 0-51 1 29 0-12 0-51 0 88 0-72 0 99 0-191 0 99 0-28 1 21 0-7 0-36 1 98 0-68 0-20 0-26 0 100 0-66 0 71 1-51 0-15 0-8 0 84 0-15 0-7 1-16 0-66 0 107 0-13 0-10 1 51 0-100 0 5 0 82 1-10 0-89 0 80 1 24 0-117 1 109 0-2 0-40 0 12 0-44 0 25 0-46 0 27 1-76 0 104 0 19 1-61 0 72 0-132 0 127 0-34 0-7 0-35 1 0 0 57 0-70 0 37 1 82 0-27 0-114 1-25 0 32 0 63 0 6 0-68 0 62 1-11 0-81 0 129 0-54 0 40 0-6 0-12 1-9 0-94 0 100 0 69 0-121 1-4 0 21 0 1 0 52 1-8 0-4 0 48 0-49 1 71 0-80 0 1 0-18 0 29 0-52 1 13 0 78 0 33 0-97 0 24 0-34 0 71 0-46 0-11 0-13 1-25 0-22 0 17 0 44 0-56 1-23 0 57 0-16 0-14 0 63 0-50 1 87 0 51 0-2 0-188 0 17 0 50 0 47 0-77 0 66 0-16 0-9 0 7 0-10 0 14 1 26 0-85 0-22 0 79 1 27 0-78 0 30 0-45 0 111 0-100 1 59 0-35 0 116 0-118 0 55 0-2 1-7 0 11 0-29 0-26 0 138 0-186 1 66 0 61 0-136 0 27 0 42 1 31 0 22 0-40 0 51 0-124 0 146 0-121 1 26 0 18 0 37 0 11 1-31 0 14 0-38 0 23 0-89 0 49 1 89 0-25 0-16 0 20 1-20 0 19 0-55 0 71 0-110 0 124 0-31 0-74 0 60 0-99 0 140 0-157 1 16 0 6 0 104 0-22 1-81 0 88 0-3 0-43 1 79 0-26 0-78 0 0 0 18 0 70 0-34 0-64 1-13 0 101 0-11 0 23 0-43 0-81 0 49 0 119 1-88 0-22 0 72 0-17 0-105 1 18 0 14 0 33 0 60 0-50 1-142 0 155 0-22 0 49 0-117 0-26 1-26 0 63 0 64 0-23 0 3 0 50 0-24 0-133 0 139 0-54 0-4 1 8 0 29 0-97 0 157 0-115 1 21 0 52 0 93 0-123 0 33 0-73 0 87 0-110 0 65 0 54 0-19 0-31 1-31 0-44 0 101 0-28 0 0 0 31 1-3 0 70 0-102 0-44 0-67 1 195 0-14 0-69 0-19 0-22 0 52 1 32 0-89 0 129 0-55 0-63 1 20 0 31 0 1 0-44 1-23 0 73 0-41 1 5 0-19 0 4 0-25 0 72 1-44 0-37 0-25 0 114 0-160 0 140 1-40 0-33 0-63 0 11 0 153 0-107 0 42 0-40 1-15 0 83 0-9 0-27 0 24 0 24 0-71 0 40 1-108 0 111 0-31 0 79 0-71 0 67 0-54 0 22 1-31 0-27 0 50 1-31 0 22 0 11 0 20 0-106 0 32 1-16 0 124 0-73 0 34 0 75 1-150 0 68 1-115 0 84 0-34 0 65 0 5 0-101 0 38 1-42 0 123 0-75 0 29 1-74 0 101 0-122 0 124 0-82 0 5 0 43 0-26 1-1 0 8 0-63 0 15 0 111 1-102 0 10 0-6 0 20 0 56 0 41 0-117 0 3 0 9 0 6 0 42 0-42 0 21 1 13 0 28 0 16 0-66 0-72 1 63 0 76 0-55 0 42 0-64 0 57 0 3 2-29 0-70 0 124 0-154 1 119 0-23 0-110 0 134 0 5 1-63 0-43 0 44 0 4 0-37 0 53 0-13 0 15 1-8 0 66 0-104 0 89 1 4 0-122 0 36 0 46 0-90 0 130 0-108 1-1 0 9 0-14 1 155 0-77 0-49 0-99 0 92 0 107 0-136 0 64 1-40 0 76 1-88 0 53 0-18 0 65 0-36 0 8 1 22 0 34 0-29 0-110 0 26 1 7 0-12 0 84 0-84 0 7 0-19 1 36 0 7 0 31 0-22 0 68 0-93 0 36 0 12 1-77 0 84 0-46 0-29 0 56 0 51 1-137 0 88 1-56 0 45 0 21 0 66 1-120 0-77 0 154 0-38 0-33 0 32 1 34 0-72 0 4 0 113 0-168 1 64 0 38 0-38 0 20 1 12 0 21 0 37 0-82 1-37 0-10 1 48 0-6 0-20 0-19 0 102 1-59 0-20 0-111 0 70 0 57 0-112 1 47 0 3 0 107 0-57 0 35 1-81 0 106 0-76 0 37 1-27 0-22 0 39 0 4 0-4 1 51 0-56 0-59 0-2 0 55 0 27 1-26 0 56 0-86 0-44 0 58 1 9 0-18 0 41 0-22 0 22 0 0 1-64 0 62 0-9 0-54 0-25 0 17 0 171 0-189 0 53 1-79 0 63 0 49 0-23 0 24 1 71 0-72 0-40 0 7 0 52 1 52 0-111 0 9 1 35 0-1 0-22 0 62 0-48 0-6 0 61 1-111 0 33 0 25 1 77 0-112 0 53 0 27 0-49 0-28 0 31 0-15 1-27 0-28 0 50 0-14 0 73 0-86 1-61 0 86 0 57 0-57 0-10 0 104 0-44 0-55 0 69 1-92 0 24 0 15 0-47 0 10 0 27 1 33 0-3 0-56 0 51 1 5 0 51 0 24 0-197 0 88 0 63 1-56 0 8 0 45 1-19 0-39 0 37 0 2 0 9 0-6 0-58 0 99 1-117 0 10 1 43 0 24 0-79 0 43 0 5 1-38 0 95 0-118 1 86 0 4 0-35 0-29 1-23 0 86 0-94 0-36 0 64 0 122 0-113 1 3 0-3 1-23 0 21 1 103 0-167 0 63 0 36 0-90 0 67 0-25 0 42 0-55 0 14 0 32 0 12 1-89 0 77 0-79 0 75 1 41 0-11 0 28 0-166 0 24 0-10 0 157 0-81 1 69 0-57 1 19 0-90 0 60 0 0 0-81 0 26 0 15 0-90 0 124 1 22 0-37 0 49 0-137 0 99 1-62 0-56 0 135 0-59 0 25 0-63 0 67 0 35 0-37 1 48 0-81 0 5 0 44 0-49 0 40 0-33 0 65 1-54 0 24 0-65 0 95 0-67 0 51 0 3 0-73 0 68 1 14 0-70 0 39 0-30 0 9 1 29 0-17 0-84 0 74 0 24 0-40 0 77 1-136 0 77 0 1 1-4 0 58 0-55 0-21 0 52 0-4 0-61 0 61 1-128 0 108 0 11 0 25 0-57 0 67 0-24 0 8 1-53 0 19 0-67 0 157 0-41 0-151 0 139 0-53 1-72 0 100 0 27 0-64 0 6 0 28 1-16 0-38 0 70 0-14 0-60 0 13 0 94 1-102 0 113 0-99 0 64 0-19 0-28 1 35 0 13 0-122 0 127 0-50 1 39 0 15 0-51 0 13 0 45 0 9 0-100 0 43 0-74 0 67 0-105 1 166 0 8 0-100 0 95 1-45 0 51 0-67 0-33 0 52 0-22 1-50 0 23 1 57 0 17 0-29 0-108 1 52 0 46 1 53 0-145 0 63 0-78 0 95 1 3 0 13 0-30 0-4 0 11 0-65 1-27 0 139 0-22 0-18 0-30 0 39 0-1 0 19 0-71 1 106 0-95 0 88 0 53 0-77 1-49 0-26 0 15 0 15 0-1 0 24 0 52 1-106 0 29 0-8 0 32 0-28 0-37 0 129 0-75 0 23 1-42 0-40 0-18 0 29 0-21 1 51 0-7 0 33 0-55 0 88 0-64 0 85 0-135 0 12 1 73 0-70 0-47 1 137 0 1 0 3 0 7 0-133 0 65 1 67 0-38 0-61 1 106 0-91 0 65 0-71 0 77 1 9 0-73 0 83 0-149 0 78 0 51 1-107 0-41 0 68 0 27 0-4 0 10 0 42 1 1 0-71 0 23 0-35 1-13 0 142 0-88 0 86 1-38 0-67 0 93 0-92 0 3 0 16 0 23 0 29 1-110 0 95 0-45 0-49 0 24 0-28 0 67 0-31 0 6 1 67 0-92 0 24 0 61 0-85 1-11 0 79 0 7 0 22 1-98 0 45 0-81 1 105 0 61 0-139 0 34 1-26 0 10 0 6 0-3 1 87 0-84 0 1 0 10 0 31 0-72 0 133 0-3 0-39 1-53 0-1 0 9 0-22 1-25 0 80 0-51 0 26 0 15 0-25 1 12 0-19 0-14 0 75 0-51 1 14 1-33 0 26 0 10 0 28 0-69 0 35 1-34 0 17 0 76 1-171 0 63 0 45 0-13 0-54 0 85 0 48 0-129 1 19 0 50 0 55 0-118 0 13 0 76 0-10 0-108 1 37 0 132 0-159 0-13 0 56 1-31 0-49 0 78 0 24 0 50 1 4 0 11 0-51 1-22 0 19 0-1 0 14 0-53 0 40 0-12 1 17 0-85 0 68 0 65 0-115 1 38 0-95 0 81 1 30 0-99 0 136 0 3 0-38 0 81 0-53 0 3 1-93 0 74 0-29 1-77 0 80 0 34 0-12 1-128 0 66 0-64 0 41 0 93 0-69 0 89 1-16 0-32 0 19 0-57 1-10 0 11 1-6 0 21 0 41 0-50 0 66 1 71 0-16 0-91 0-40 0-70 1 88 1 6 0-52 0 141 0-44 1-86 0-34 0 119 0-91 0 50 0 22 0 34 0-57 0 95 0-89 0 65 1-63 0-14 0 71 2-41 0-55 0 76 0 41 0-209 0 62 0 35 0-11 0 2 0-16 1 154 0-112 0 86 0-57 1-27 0-39 0 13 0 83 0-79 0 67 0-47 1 27 0-2 0-19 0-49 0 98 1-101 0 50 0-37 0 39 1-47 0 66 0-17 0-22 0-20 1 121 0-75 0 16 0-81 0 80 0-67 0 138 0-34 0-62 0-26 1-5 0 84 1-34 0 63 0-58 0 17 0-60 0 75 0-41 1-19 0-40 0 14 0-30 0 30 0 43 0-61 1 12 0-11 0-2 1 10 0 65 0 7 0-36 0 27 1 7 0-25 0 54 0-123 0 29 0-43 1-51 0 131 1 16 0 34 0-69 0 44 1-23 0-89 0 153 0-84 0-9 0 23 0-93 0 92 1-85 0 162 0-82 0 15 0 48 1-118 0-7 0-18 1 41 0 120 0 28 0-120 0-68 1 109 0-16 0 3 0-134 0 80 0-3 0 80 1 26 0-56 0-17 0 44 0-72 0 26 1 53 0-20 0-33 0-77 0 2 0-2 1 5 0 38 0 33 0 19 0-50 1 39 0 23 0-22 0-68 1 7 0 35 0 28 0 24 0-9 0-37 0-12 0 11 1-13 0 2 0 5 0 35 0 41 0-55 0-71 0 62 0-94 1 83 0 12 0 38 0-69 0 49 0 11 1-54 0-24 0 72 1 72 0-173 0 95 0 7 0-110 0 37 1 37 0 24 0-86 0 36 0-65 0 99 0-78 0 47 0 57 1-5 0-12 0-6 0 89 0-102 0 39 0-64 0 10 0 9 0-33 1 33 0 30 0-38 0 23 0 42 0-84 0 127 0-142 0 24 1 19 0 91 0-94 0 80 0 12 1-119 0 5 0 34 0 1 0 22 0-18 0 10 0-94 0 74 0 50 0-99 1 49 0 3 0-39 0 129 0-80 0-44 0 80 0-94 0 44 1-12 0 76 0-60 0-45 0 54 0-35 0 79 0-48 0 39 0-63 0-71 0 13 1 51 0 15 0-45 0 75 0 25" fill="none" stroke="none" marker-start="url(#mssp5)" marker-mid="url(#mssp5)" marker-end="url(#mssp5)"/><polyline points="336.6,201.2 338.2,201.3 339.8,201.0 341.5,197.9 342.8,198.8 344.7,197.9 346.3,197.6 347.7,196.8 349.5,195.1 351.2,192.5 352.5,193.3 354.4,191.6 356.0,191.5 357.3,190.9 359.3,189.1 360.9,186.4 362.2,187.5 364.1,186.4 365.7,185.3 367.0,183.6 369.0,181.3 370.0,180.8 370.6,179.5 372.2,179.5 373.8,176.2 374.5,177.0 375.4,176.9 377.1,175.2 379.0,171.8 380.3,170.0 381.9,169.0 383.6,167.4 385.1,166.6 386.8,165.0 388.4,163.1 389.2,162.1 390.0,159.7 391.6,158.8 393.2,156.5 394.5,154.9 396.5,153.3 397.9,150.5 399.7,146.5 400.8,146.6 401.3,145.8 402.9,143.2 403.7,143.2 404.6,142.3 406.6,140.3 407.8,137.9 409.4,138.4 410.9,135.0 412.7,133.9 413.3,132.1 414.3,131.7 415.7,128.7 417.5,126.3 418.1,125.3 419.1,123.9 420.6,122.4 422.4,119.5 424.0,118.0 424.8,116.6 425.6,116.8 427.2,113.7 428.8,110.0 429.7,110.3 430.5,108.9 432.1,106.4 433.7,104.3 435.0,102.5 436.9,101.1 438.4,99.0 440.2,95.7 440.8,95.1 441.8,94.7 443.2,91.2 445.0,89.2 445.7,86.9 446.6,86.2 448.5,83.5 449.9,80.8 451.5,79.2 453.1,76.7 454.7,74.1 456.3,72.7 457.6,69.9 459.6,65.9 460.5,65.5 461.2,64.3 463.0,62.0 464.4,58.3 465.5,57.5 466.1,56.4 467.7,55.0 469.5,52.0 470.9,50.4 472.5,48.2 474.2,46.5" fill="none" stroke="#ff0000" stroke-width="1.6" stroke-linejoin="round"/></g>
<rect x="49.6" y="20.3" width="445.2" height="269.5" fill="none" stroke="#333" stroke-width="1.3"/>
<path d="M69.9 289.8V295M150.8 289.8V295M231.7 289.8V295M312.7 289.8V295M393.6 289.8V295M474.5 289.8V295M49.6 76.2H45.2M49.6 168.4H45.2M49.6 260.5H45.2" stroke="#333" stroke-width="1.3"/>
<g font-size="12.1" text-anchor="middle">
<text x="69.9" y="309">1850</text><text x="150.8" y="309">1900</text><text x="231.7" y="309">1950</text>
<text x="312.7" y="309">2000</text><text x="393.6" y="309">2050</text><text x="474.5" y="309">2100</text>
</g>
<g font-size="12.3" text-anchor="end">
<text x="41.2" y="80.7">292</text><text x="41.2" y="172.9">290</text><text x="41.2" y="265">288</text>
</g>
<text x="272" y="13.6" font-size="12.2" font-weight="bold" text-anchor="middle">Global Mean Temperature in MPI-ESM1.2-LR</text>
<text x="272.3" y="326" font-size="12.3" text-anchor="middle">Year</text>
<text transform="translate(14.2 155.2) rotate(-90)" font-size="12.5" text-anchor="middle">Global Mean Temperature (K)</text>
<rect x="54.9" y="25.6" width="84.1" height="89.1" fill="#fff" stroke="#555" stroke-width="1.2"/>
<g stroke-width="1.5">
<path d="M60 39.75H78" stroke="#9b1a1f"/>
<path d="M60 60H78" stroke="#5a0a96"/>
<path d="M60 80.4H78" stroke="#c800c8"/>
<path d="M60 100.7H78" stroke="#ff0000"/>
</g>
<g font-size="12">
<text x="81.8" y="43.9">Historical</text>
<text x="81.8" y="64.3">SSP1-1.9</text>
<text x="81.8" y="84.7">SSP2-4.5</text>
<text x="81.8" y="105.1">SSP5-8.5</text>
</g>
</svg>
</body></html>
